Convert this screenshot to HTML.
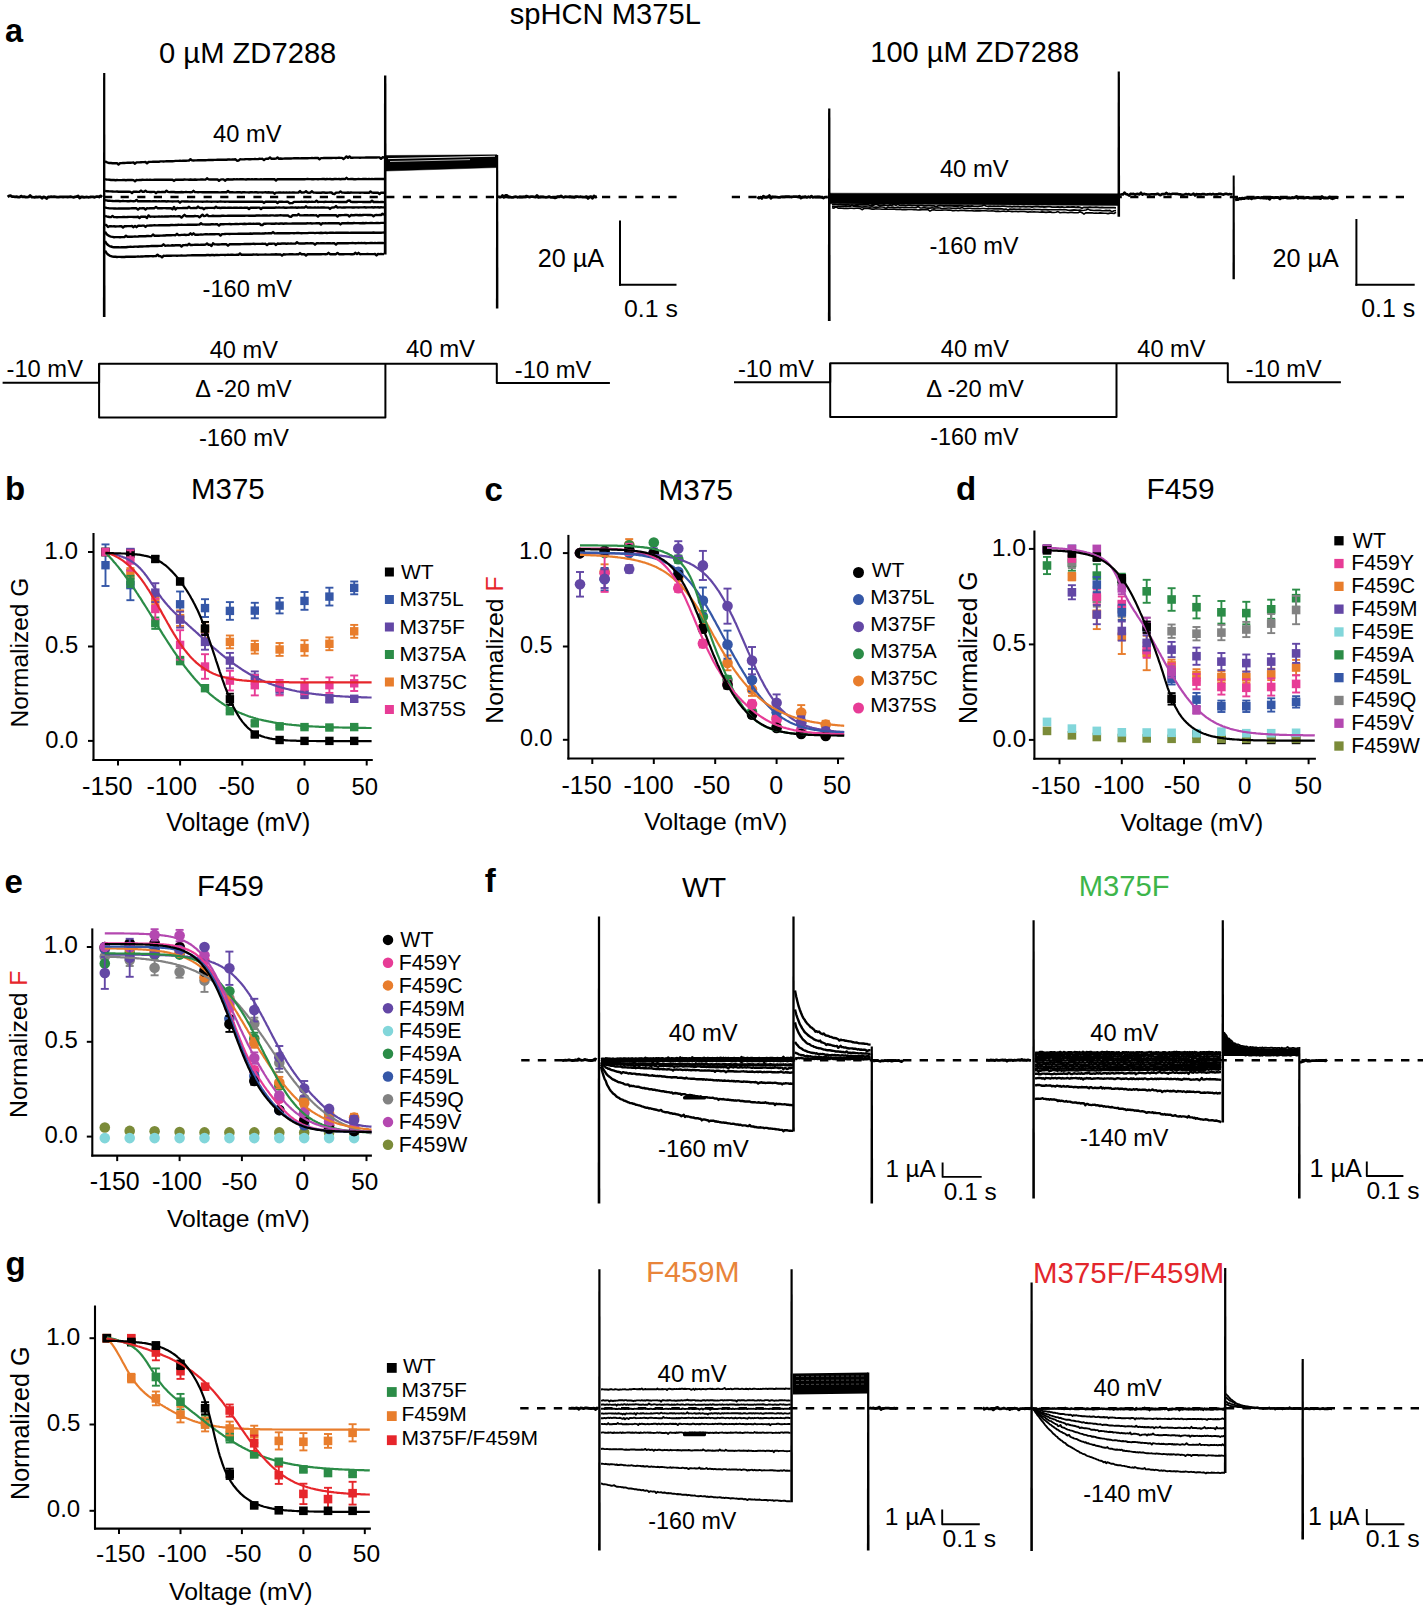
<!DOCTYPE html>
<html><head><meta charset="utf-8"><style>
html,body{margin:0;padding:0;background:#fff;}
svg{display:block;}
text{font-family:"Liberation Sans",sans-serif;}
</style></head><body>
<svg width="1423" height="1608" viewBox="0 0 1423 1608">
<rect width="1423" height="1608" fill="#fff"/>
<text x="509.7" y="23.6" font-size="29.16" fill="#000">spHCN M375L</text>
<text x="5.0" y="41.8" font-size="32.50" fill="#000" font-weight="bold">a</text>
<text x="159.0" y="62.5" font-size="29.18" fill="#000">0 µM ZD7288</text>
<text x="870.3" y="62.0" font-size="29.05" fill="#000">100 µM ZD7288</text>
<line x1="104.0" y1="197.0" x2="684.0" y2="197.0" stroke="#000" stroke-width="2.5" stroke-dasharray="8.2 8.4"/>
<polyline points="7.6,196.9 9.1,195.9 10.6,195.7 12.1,196.7 13.6,196.7 15.1,196.9 16.6,196.7 18.1,197.1 19.6,197.1 21.1,196.1 22.6,196.9 24.1,196.7 25.6,197.2 27.1,197.1 28.6,196.9 30.1,195.5 31.6,197.0 33.1,197.2 34.6,197.3 36.1,196.8 37.6,197.2 39.1,196.9 40.6,196.9 42.1,198.3 43.6,196.8 45.1,197.3 46.6,198.5 48.1,196.9 49.6,197.0 51.1,196.7 52.6,196.8 54.1,196.7 55.6,196.9 57.1,197.1 58.6,197.2 60.1,196.9 61.6,196.9 63.1,197.0 64.6,196.9 66.1,196.9 67.6,197.0 69.1,196.9 70.6,196.7 72.1,197.0 73.6,197.3 75.1,196.9 76.6,196.7 78.1,195.9 79.6,198.0 81.1,197.0 82.6,196.9 84.1,197.3 85.6,197.1 87.1,197.0 88.6,197.3 90.1,197.0 91.6,196.9 93.1,196.9 94.6,197.3 96.1,196.7 97.6,196.7 99.1,197.0 100.6,195.9 102.1,197.1" fill="none" stroke="#000" stroke-width="2.8" stroke-linejoin="round"/>
<polyline points="105.0,161.3 106.5,162.1 108.0,162.7 109.5,163.0 111.0,163.0 112.5,163.2 114.0,163.3 115.5,163.1 117.0,163.2 118.5,164.5 120.0,163.2 121.5,163.1 123.0,162.9 124.5,163.0 126.0,162.9 127.5,162.7 129.0,162.8 130.5,162.7 132.0,162.6 133.5,162.5 135.0,163.7 136.5,162.4 138.0,162.4 139.5,162.4 141.0,162.2 142.5,162.1 144.0,162.1 145.5,162.0 147.0,163.3 148.5,162.0 150.0,161.9 151.5,161.9 153.0,161.8 154.5,161.8 156.0,161.7 157.5,161.6 159.0,161.7 160.5,161.4 162.0,161.4 163.5,161.5 165.0,161.4 166.5,161.3 168.0,161.2 169.5,161.1 171.0,161.2 172.5,161.2 174.0,161.1 175.5,160.9 177.0,160.9 178.5,160.9 180.0,160.8 181.5,160.9 183.0,160.7 184.5,160.8 186.0,160.8 187.5,160.6 189.0,160.5 190.5,159.2 192.0,160.4 193.5,160.5 195.0,160.4 196.5,160.4 198.0,160.2 199.5,160.2 201.0,160.3 202.5,160.2 204.0,160.3 205.5,160.2 207.0,160.1 208.5,160.0 210.0,160.0 211.5,160.0 213.0,160.0 214.5,159.9 216.0,159.9 217.5,159.7 219.0,159.7 220.5,159.7 222.0,159.8 223.5,159.6 225.0,159.7 226.5,159.7 228.0,159.5 229.5,159.5 231.0,159.6 232.5,159.4 234.0,159.5 235.5,159.3 237.0,160.7 238.5,160.6 240.0,159.3 241.5,159.4 243.0,159.4 244.5,159.3 246.0,159.1 247.5,159.1 249.0,159.2 250.5,159.2 252.0,159.1 253.5,159.1 255.0,159.0 256.5,159.1 258.0,159.1 259.5,158.8 261.0,158.9 262.5,158.8 264.0,160.1 265.5,158.9 267.0,158.7 268.5,158.7 270.0,157.4 271.5,158.8 273.0,158.7 274.5,158.7 276.0,158.6 277.5,157.5 279.0,158.7 280.5,158.5 282.0,158.7 283.5,158.6 285.0,158.5 286.5,158.5 288.0,158.5 289.5,158.4 291.0,158.5 292.5,158.4 294.0,158.3 295.5,158.3 297.0,158.3 298.5,158.2 300.0,158.4 301.5,158.2 303.0,158.2 304.5,158.2 306.0,158.2 307.5,158.3 309.0,158.1 310.5,158.1 312.0,158.0 313.5,158.1 315.0,158.0 316.5,158.0 318.0,158.0 319.5,159.2 321.0,158.1 322.5,158.1 324.0,157.9 325.5,158.0 327.0,158.0 328.5,157.9 330.0,158.0 331.5,158.0 333.0,157.9 334.5,157.9 336.0,158.0 337.5,157.9 339.0,157.7 340.5,157.9 342.0,157.9 343.5,159.0 345.0,157.9 346.5,156.4 348.0,157.8 349.5,156.4 351.0,157.8 352.5,157.7 354.0,157.6 355.5,157.6 357.0,157.6 358.5,157.6 360.0,157.7 361.5,157.6 363.0,157.6 364.5,157.6 366.0,157.5 367.5,157.5 369.0,157.5 370.5,157.4 372.0,157.5 373.5,157.5 375.0,157.4 376.5,157.5 378.0,157.4 379.5,157.4 381.0,158.8 382.5,157.3 384.0,157.5" fill="none" stroke="#000" stroke-width="2.4" stroke-linejoin="round"/>
<polyline points="105.0,179.0 106.5,179.6 108.0,179.6 109.5,179.8 111.0,180.0 112.5,180.0 114.0,180.0 115.5,180.2 117.0,180.0 118.5,180.1 120.0,180.1 121.5,180.1 123.0,180.0 124.5,180.0 126.0,180.2 127.5,179.9 129.0,180.0 130.5,180.0 132.0,179.9 133.5,180.1 135.0,181.2 136.5,180.0 138.0,180.1 139.5,179.9 141.0,180.0 142.5,179.8 144.0,179.9 145.5,179.9 147.0,179.8 148.5,179.9 150.0,179.8 151.5,179.9 153.0,179.9 154.5,179.8 156.0,179.8 157.5,179.8 159.0,179.7 160.5,179.8 162.0,179.8 163.5,179.8 165.0,179.8 166.5,179.7 168.0,179.7 169.5,179.7 171.0,179.7 172.5,179.7 174.0,180.9 175.5,179.7 177.0,179.6 178.5,179.7 180.0,179.7 181.5,179.7 183.0,179.7 184.5,179.5 186.0,179.6 187.5,179.6 189.0,179.7 190.5,179.5 192.0,179.7 193.5,179.7 195.0,179.5 196.5,179.7 198.0,179.6 199.5,179.6 201.0,179.5 202.5,179.4 204.0,179.6 205.5,179.6 207.0,178.3 208.5,179.4 210.0,179.5 211.5,179.4 213.0,179.5 214.5,179.4 216.0,179.5 217.5,179.4 219.0,180.8 220.5,179.6 222.0,179.4 223.5,179.4 225.0,180.7 226.5,179.5 228.0,179.3 229.5,179.5 231.0,179.4 232.5,179.5 234.0,179.3 235.5,179.4 237.0,179.3 238.5,179.4 240.0,179.3 241.5,179.3 243.0,179.3 244.5,179.4 246.0,179.5 247.5,179.3 249.0,179.3 250.5,179.4 252.0,179.3 253.5,179.4 255.0,179.2 256.5,179.3 258.0,179.4 259.5,179.4 261.0,179.3 262.5,179.4 264.0,179.2 265.5,179.2 267.0,179.2 268.5,179.1 270.0,179.2 271.5,179.2 273.0,179.2 274.5,179.3 276.0,180.5 277.5,179.2 279.0,179.2 280.5,179.3 282.0,179.3 283.5,179.3 285.0,179.2 286.5,179.3 288.0,179.1 289.5,179.2 291.0,179.2 292.5,179.1 294.0,179.2 295.5,179.1 297.0,179.2 298.5,179.3 300.0,179.3 301.5,179.2 303.0,179.2 304.5,179.3 306.0,179.1 307.5,179.0 309.0,179.1 310.5,179.1 312.0,179.2 313.5,179.2 315.0,179.1 316.5,179.1 318.0,179.2 319.5,179.1 321.0,179.1 322.5,179.0 324.0,179.0 325.5,179.2 327.0,179.0 328.5,179.1 330.0,179.0 331.5,179.2 333.0,179.2 334.5,179.0 336.0,179.0 337.5,179.1 339.0,179.0 340.5,179.2 342.0,179.0 343.5,179.0 345.0,179.1 346.5,177.8 348.0,179.1 349.5,179.1 351.0,178.9 352.5,179.0 354.0,179.2 355.5,179.2 357.0,179.1 358.5,179.0 360.0,179.1 361.5,179.1 363.0,179.0 364.5,178.9 366.0,179.0 367.5,179.1 369.0,178.9 370.5,179.1 372.0,179.0 373.5,179.1 375.0,178.9 376.5,179.0 378.0,179.0 379.5,178.9 381.0,179.0 382.5,179.0 384.0,179.0" fill="none" stroke="#000" stroke-width="2.4" stroke-linejoin="round"/>
<polyline points="105.0,190.8 106.5,191.2 108.0,191.2 109.5,191.4 111.0,191.4 112.5,191.5 114.0,191.6 115.5,191.6 117.0,191.5 118.5,191.7 120.0,191.6 121.5,191.7 123.0,191.6 124.5,191.7 126.0,191.6 127.5,191.8 129.0,191.7 130.5,191.9 132.0,193.1 133.5,191.7 135.0,191.8 136.5,191.8 138.0,191.9 139.5,191.8 141.0,190.6 142.5,191.8 144.0,191.8 145.5,190.7 147.0,191.9 148.5,191.9 150.0,192.0 151.5,192.0 153.0,191.9 154.5,191.9 156.0,193.2 157.5,191.9 159.0,192.0 160.5,192.1 162.0,192.0 163.5,192.0 165.0,192.1 166.5,190.7 168.0,191.9 169.5,192.1 171.0,191.9 172.5,192.0 174.0,192.0 175.5,192.2 177.0,192.1 178.5,192.2 180.0,192.2 181.5,192.0 183.0,192.2 184.5,192.1 186.0,192.0 187.5,192.1 189.0,192.1 190.5,192.2 192.0,192.1 193.5,190.8 195.0,192.1 196.5,192.1 198.0,192.2 199.5,192.1 201.0,192.1 202.5,192.3 204.0,192.2 205.5,192.3 207.0,192.2 208.5,192.3 210.0,192.2 211.5,192.2 213.0,192.1 214.5,192.3 216.0,192.2 217.5,192.2 219.0,192.4 220.5,192.4 222.0,192.3 223.5,192.2 225.0,192.3 226.5,192.2 228.0,191.0 229.5,192.2 231.0,192.2 232.5,192.3 234.0,192.4 235.5,192.4 237.0,192.3 238.5,192.3 240.0,192.3 241.5,192.5 243.0,192.3 244.5,192.3 246.0,192.4 247.5,192.4 249.0,192.5 250.5,192.3 252.0,192.3 253.5,192.4 255.0,192.3 256.5,192.3 258.0,192.5 259.5,192.4 261.0,192.4 262.5,192.5 264.0,192.4 265.5,192.3 267.0,192.5 268.5,192.3 270.0,192.5 271.5,192.5 273.0,192.4 274.5,193.7 276.0,192.6 277.5,192.6 279.0,192.4 280.5,192.5 282.0,192.6 283.5,192.4 285.0,192.6 286.5,192.5 288.0,192.6 289.5,192.4 291.0,192.6 292.5,192.5 294.0,192.5 295.5,192.6 297.0,192.6 298.5,192.5 300.0,191.1 301.5,192.6 303.0,192.5 304.5,192.4 306.0,191.2 307.5,192.6 309.0,192.7 310.5,192.5 312.0,191.3 313.5,192.6 315.0,192.6 316.5,192.7 318.0,192.7 319.5,192.7 321.0,192.7 322.5,192.5 324.0,192.5 325.5,192.7 327.0,192.7 328.5,192.6 330.0,192.5 331.5,192.5 333.0,193.9 334.5,194.0 336.0,192.7 337.5,192.6 339.0,192.6 340.5,191.4 342.0,192.6 343.5,192.6 345.0,192.7 346.5,192.7 348.0,192.5 349.5,192.7 351.0,192.5 352.5,192.6 354.0,192.6 355.5,192.6 357.0,192.6 358.5,192.6 360.0,192.7 361.5,192.6 363.0,192.6 364.5,192.7 366.0,192.7 367.5,192.7 369.0,192.8 370.5,191.5 372.0,192.6 373.5,192.7 375.0,192.8 376.5,192.8 378.0,192.7 379.5,194.0 381.0,192.7 382.5,192.7 384.0,192.7" fill="none" stroke="#000" stroke-width="2.4" stroke-linejoin="round"/>
<polyline points="105.0,200.3 106.5,200.4 108.0,200.7 109.5,200.8 111.0,200.9 112.5,201.0 114.0,201.1 115.5,201.0 117.0,201.0 118.5,201.0 120.0,201.2 121.5,201.1 123.0,201.0 124.5,201.1 126.0,201.1 127.5,201.2 129.0,201.2 130.5,201.0 132.0,201.1 133.5,201.3 135.0,201.1 136.5,199.9 138.0,201.3 139.5,201.2 141.0,201.2 142.5,201.3 144.0,201.3 145.5,201.3 147.0,201.3 148.5,201.2 150.0,201.2 151.5,201.4 153.0,201.3 154.5,201.3 156.0,201.3 157.5,201.4 159.0,201.3 160.5,201.4 162.0,201.3 163.5,201.2 165.0,201.3 166.5,201.5 168.0,201.3 169.5,201.4 171.0,201.4 172.5,201.5 174.0,201.4 175.5,201.4 177.0,201.4 178.5,201.3 180.0,202.7 181.5,201.4 183.0,201.4 184.5,201.5 186.0,201.5 187.5,201.4 189.0,201.6 190.5,201.6 192.0,201.5 193.5,201.6 195.0,201.6 196.5,201.6 198.0,201.6 199.5,201.6 201.0,201.6 202.5,201.7 204.0,201.6 205.5,201.6 207.0,201.5 208.5,201.6 210.0,201.6 211.5,201.7 213.0,201.6 214.5,201.6 216.0,201.6 217.5,201.7 219.0,201.6 220.5,201.5 222.0,201.6 223.5,201.6 225.0,201.7 226.5,201.6 228.0,201.6 229.5,201.7 231.0,201.6 232.5,201.7 234.0,201.6 235.5,201.7 237.0,201.8 238.5,201.8 240.0,201.7 241.5,201.7 243.0,201.6 244.5,201.7 246.0,201.6 247.5,201.8 249.0,201.7 250.5,201.8 252.0,201.7 253.5,201.8 255.0,201.7 256.5,201.8 258.0,201.7 259.5,201.7 261.0,201.8 262.5,201.7 264.0,202.9 265.5,201.8 267.0,201.8 268.5,201.7 270.0,201.8 271.5,201.7 273.0,201.8 274.5,201.8 276.0,201.7 277.5,203.0 279.0,201.8 280.5,201.8 282.0,201.8 283.5,201.9 285.0,201.9 286.5,201.8 288.0,201.8 289.5,203.2 291.0,203.1 292.5,203.0 294.0,201.9 295.5,201.9 297.0,201.9 298.5,201.9 300.0,201.9 301.5,201.8 303.0,201.9 304.5,201.8 306.0,201.8 307.5,202.0 309.0,201.8 310.5,201.9 312.0,201.8 313.5,201.9 315.0,201.9 316.5,200.7 318.0,202.0 319.5,201.9 321.0,201.9 322.5,201.9 324.0,202.0 325.5,201.8 327.0,201.9 328.5,201.9 330.0,201.9 331.5,201.8 333.0,202.0 334.5,201.9 336.0,201.9 337.5,201.9 339.0,202.0 340.5,201.9 342.0,202.0 343.5,202.0 345.0,202.0 346.5,202.0 348.0,200.7 349.5,200.5 351.0,201.9 352.5,202.0 354.0,202.0 355.5,201.9 357.0,202.0 358.5,201.9 360.0,201.9 361.5,201.9 363.0,202.0 364.5,202.0 366.0,202.0 367.5,201.9 369.0,202.0 370.5,202.0 372.0,200.7 373.5,202.0 375.0,202.0 376.5,202.0 378.0,202.0 379.5,202.1 381.0,201.9 382.5,202.0 384.0,202.1" fill="none" stroke="#000" stroke-width="2.4" stroke-linejoin="round"/>
<polyline points="105.0,207.4 106.5,207.9 108.0,208.1 109.5,208.4 111.0,208.4 112.5,208.4 114.0,208.5 115.5,208.4 117.0,208.6 118.5,208.5 120.0,208.5 121.5,208.4 123.0,208.5 124.5,208.4 126.0,208.5 127.5,208.5 129.0,208.5 130.5,208.4 132.0,208.3 133.5,208.3 135.0,208.3 136.5,208.3 138.0,209.6 139.5,208.3 141.0,208.4 142.5,208.2 144.0,208.3 145.5,209.5 147.0,208.3 148.5,208.4 150.0,208.2 151.5,208.3 153.0,208.2 154.5,208.2 156.0,206.9 157.5,208.2 159.0,208.2 160.5,208.3 162.0,208.2 163.5,208.1 165.0,208.1 166.5,208.2 168.0,208.2 169.5,208.1 171.0,208.2 172.5,209.3 174.0,206.9 175.5,209.5 177.0,208.0 178.5,208.1 180.0,208.1 181.5,208.1 183.0,208.0 184.5,208.0 186.0,208.0 187.5,208.0 189.0,206.8 190.5,208.1 192.0,208.1 193.5,208.0 195.0,208.0 196.5,208.1 198.0,206.6 199.5,207.9 201.0,208.0 202.5,208.0 204.0,209.2 205.5,207.9 207.0,208.0 208.5,207.9 210.0,207.9 211.5,207.9 213.0,207.9 214.5,208.0 216.0,206.7 217.5,207.9 219.0,207.8 220.5,208.0 222.0,207.8 223.5,207.8 225.0,207.8 226.5,207.9 228.0,207.7 229.5,207.8 231.0,207.8 232.5,207.9 234.0,207.7 235.5,207.7 237.0,207.7 238.5,207.9 240.0,207.7 241.5,207.8 243.0,207.9 244.5,207.8 246.0,207.7 247.5,207.8 249.0,209.0 250.5,207.8 252.0,207.7 253.5,207.7 255.0,207.8 256.5,207.7 258.0,207.6 259.5,207.6 261.0,209.1 262.5,207.7 264.0,207.6 265.5,207.8 267.0,207.6 268.5,207.7 270.0,207.7 271.5,207.7 273.0,207.6 274.5,207.7 276.0,207.5 277.5,207.6 279.0,207.5 280.5,207.6 282.0,207.6 283.5,207.5 285.0,207.7 286.5,207.7 288.0,207.6 289.5,207.6 291.0,207.5 292.5,207.5 294.0,207.6 295.5,207.5 297.0,207.7 298.5,207.5 300.0,207.6 301.5,207.5 303.0,207.5 304.5,207.6 306.0,206.3 307.5,207.6 309.0,207.5 310.5,207.5 312.0,207.6 313.5,207.6 315.0,207.4 316.5,207.6 318.0,207.5 319.5,207.6 321.0,207.5 322.5,207.5 324.0,207.4 325.5,207.6 327.0,207.6 328.5,207.6 330.0,208.9 331.5,207.6 333.0,207.5 334.5,207.4 336.0,206.1 337.5,207.6 339.0,207.4 340.5,207.4 342.0,207.6 343.5,207.4 345.0,207.5 346.5,207.4 348.0,207.4 349.5,207.4 351.0,207.4 352.5,207.5 354.0,207.5 355.5,207.4 357.0,207.4 358.5,207.5 360.0,207.4 361.5,207.4 363.0,207.4 364.5,207.3 366.0,207.5 367.5,207.4 369.0,207.4 370.5,207.4 372.0,207.3 373.5,207.5 375.0,207.3 376.5,207.4 378.0,207.3 379.5,207.5 381.0,207.3 382.5,207.4 384.0,207.4" fill="none" stroke="#000" stroke-width="2.4" stroke-linejoin="round"/>
<polyline points="105.0,215.9 106.5,216.4 108.0,216.7 109.5,217.0 111.0,217.1 112.5,215.9 114.0,217.1 115.5,217.1 117.0,217.2 118.5,217.1 120.0,217.1 121.5,217.1 123.0,217.0 124.5,217.0 126.0,217.1 127.5,217.0 129.0,216.9 130.5,216.9 132.0,216.9 133.5,217.0 135.0,217.0 136.5,217.0 138.0,216.8 139.5,218.0 141.0,216.7 142.5,216.7 144.0,216.7 145.5,216.8 147.0,218.0 148.5,215.4 150.0,216.7 151.5,216.6 153.0,216.6 154.5,216.7 156.0,216.6 157.5,216.6 159.0,216.5 160.5,216.6 162.0,216.5 163.5,216.6 165.0,216.4 166.5,216.5 168.0,216.5 169.5,216.4 171.0,216.3 172.5,216.4 174.0,216.3 175.5,216.4 177.0,216.4 178.5,216.2 180.0,216.3 181.5,217.6 183.0,216.2 184.5,214.8 186.0,216.2 187.5,216.1 189.0,216.2 190.5,216.2 192.0,216.1 193.5,216.2 195.0,216.0 196.5,216.1 198.0,216.1 199.5,217.3 201.0,216.0 202.5,214.7 204.0,216.1 205.5,215.9 207.0,214.7 208.5,216.1 210.0,216.1 211.5,216.0 213.0,215.8 214.5,216.0 216.0,216.0 217.5,215.9 219.0,216.0 220.5,216.0 222.0,215.8 223.5,215.8 225.0,215.9 226.5,215.9 228.0,215.7 229.5,215.7 231.0,215.7 232.5,215.7 234.0,215.7 235.5,215.6 237.0,215.8 238.5,215.7 240.0,215.7 241.5,215.6 243.0,215.7 244.5,215.7 246.0,215.6 247.5,215.6 249.0,215.7 250.5,215.6 252.0,215.7 253.5,215.7 255.0,215.7 256.5,215.5 258.0,215.5 259.5,215.5 261.0,215.6 262.5,215.5 264.0,215.5 265.5,215.4 267.0,215.5 268.5,215.6 270.0,215.5 271.5,215.4 273.0,215.4 274.5,215.6 276.0,215.5 277.5,215.5 279.0,215.4 280.5,215.3 282.0,215.4 283.5,215.5 285.0,215.4 286.5,215.5 288.0,215.5 289.5,216.6 291.0,216.8 292.5,215.3 294.0,215.3 295.5,215.3 297.0,215.4 298.5,214.1 300.0,215.4 301.5,215.4 303.0,215.4 304.5,215.3 306.0,215.3 307.5,215.3 309.0,215.4 310.5,215.3 312.0,215.2 313.5,215.3 315.0,215.4 316.5,215.3 318.0,216.6 319.5,215.2 321.0,215.3 322.5,215.3 324.0,215.3 325.5,215.2 327.0,215.3 328.5,215.3 330.0,215.3 331.5,215.2 333.0,215.1 334.5,215.2 336.0,215.3 337.5,216.5 339.0,215.1 340.5,215.2 342.0,215.1 343.5,215.1 345.0,215.0 346.5,215.0 348.0,215.1 349.5,216.5 351.0,215.0 352.5,215.2 354.0,215.2 355.5,215.0 357.0,215.0 358.5,215.2 360.0,215.0 361.5,215.2 363.0,215.0 364.5,214.9 366.0,214.9 367.5,215.0 369.0,215.0 370.5,215.0 372.0,215.1 373.5,216.3 375.0,215.1 376.5,214.9 378.0,215.1 379.5,214.9 381.0,215.0 382.5,213.7 384.0,215.0" fill="none" stroke="#000" stroke-width="2.4" stroke-linejoin="round"/>
<polyline points="105.0,224.6 106.5,225.2 108.0,227.0 109.5,226.2 111.0,226.2 112.5,226.4 114.0,226.3 115.5,226.5 117.0,226.4 118.5,226.4 120.0,226.3 121.5,226.3 123.0,227.5 124.5,226.3 126.0,226.2 127.5,226.1 129.0,226.1 130.5,226.1 132.0,226.0 133.5,227.2 135.0,225.9 136.5,227.2 138.0,225.8 139.5,225.7 141.0,225.9 142.5,225.6 144.0,225.6 145.5,226.9 147.0,225.6 148.5,225.6 150.0,225.5 151.5,225.5 153.0,225.4 154.5,225.3 156.0,225.4 157.5,225.4 159.0,225.3 160.5,225.3 162.0,225.3 163.5,225.3 165.0,225.1 166.5,225.2 168.0,225.1 169.5,225.2 171.0,225.0 172.5,225.0 174.0,225.1 175.5,225.0 177.0,225.0 178.5,224.8 180.0,224.9 181.5,224.8 183.0,224.9 184.5,224.9 186.0,224.9 187.5,224.8 189.0,224.7 190.5,224.8 192.0,224.7 193.5,224.6 195.0,224.7 196.5,224.7 198.0,224.6 199.5,224.5 201.0,223.2 202.5,224.4 204.0,224.4 205.5,224.5 207.0,224.5 208.5,224.5 210.0,224.5 211.5,224.3 213.0,224.3 214.5,224.4 216.0,224.2 217.5,224.3 219.0,225.6 220.5,224.1 222.0,224.3 223.5,224.3 225.0,224.1 226.5,224.1 228.0,224.1 229.5,224.0 231.0,224.2 232.5,224.1 234.0,224.1 235.5,223.9 237.0,224.0 238.5,224.1 240.0,223.9 241.5,223.9 243.0,224.0 244.5,223.8 246.0,224.0 247.5,223.9 249.0,223.8 250.5,223.8 252.0,223.9 253.5,223.8 255.0,223.9 256.5,223.7 258.0,223.7 259.5,223.8 261.0,225.0 262.5,225.0 264.0,223.8 265.5,223.7 267.0,223.6 268.5,223.6 270.0,223.6 271.5,223.7 273.0,223.7 274.5,223.7 276.0,223.5 277.5,223.6 279.0,223.7 280.5,223.5 282.0,223.5 283.5,223.7 285.0,223.5 286.5,223.5 288.0,223.6 289.5,223.6 291.0,223.6 292.5,223.5 294.0,223.5 295.5,223.4 297.0,223.5 298.5,223.4 300.0,223.5 301.5,223.4 303.0,223.5 304.5,223.4 306.0,223.5 307.5,223.3 309.0,223.4 310.5,223.3 312.0,223.5 313.5,223.4 315.0,223.4 316.5,223.2 318.0,223.3 319.5,223.3 321.0,224.5 322.5,223.2 324.0,223.4 325.5,223.2 327.0,223.4 328.5,223.1 330.0,223.3 331.5,223.1 333.0,223.2 334.5,223.3 336.0,223.1 337.5,223.3 339.0,223.2 340.5,224.4 342.0,223.3 343.5,223.2 345.0,223.3 346.5,223.3 348.0,223.0 349.5,223.2 351.0,223.1 352.5,223.2 354.0,223.0 355.5,223.1 357.0,223.1 358.5,223.1 360.0,223.2 361.5,223.2 363.0,223.0 364.5,223.2 366.0,223.0 367.5,223.1 369.0,223.1 370.5,223.0 372.0,223.0 373.5,223.1 375.0,223.1 376.5,222.9 378.0,223.0 379.5,223.1 381.0,222.9 382.5,222.9 384.0,222.9" fill="none" stroke="#000" stroke-width="2.4" stroke-linejoin="round"/>
<polyline points="105.0,231.8 106.5,234.0 108.0,235.3 109.5,236.1 111.0,236.6 112.5,236.9 114.0,237.2 115.5,237.1 117.0,237.1 118.5,237.1 120.0,237.3 121.5,237.1 123.0,237.1 124.5,237.0 126.0,235.8 127.5,236.8 129.0,236.8 130.5,236.8 132.0,236.7 133.5,236.6 135.0,236.5 136.5,236.6 138.0,236.5 139.5,236.3 141.0,236.3 142.5,236.2 144.0,236.2 145.5,236.2 147.0,236.0 148.5,236.0 150.0,236.1 151.5,236.0 153.0,234.5 154.5,235.7 156.0,235.7 157.5,235.7 159.0,235.7 160.5,235.6 162.0,235.6 163.5,235.5 165.0,235.5 166.5,235.3 168.0,235.2 169.5,235.3 171.0,235.3 172.5,235.1 174.0,235.1 175.5,235.2 177.0,233.8 178.5,235.1 180.0,235.1 181.5,234.9 183.0,234.9 184.5,234.8 186.0,235.0 187.5,234.9 189.0,234.7 190.5,233.3 192.0,234.7 193.5,233.3 195.0,234.7 196.5,234.6 198.0,234.7 199.5,234.6 201.0,234.4 202.5,234.6 204.0,234.4 205.5,234.3 207.0,234.2 208.5,234.4 210.0,234.3 211.5,234.2 213.0,234.1 214.5,234.3 216.0,234.1 217.5,234.1 219.0,234.1 220.5,235.5 222.0,234.1 223.5,234.1 225.0,234.0 226.5,233.9 228.0,233.9 229.5,234.0 231.0,233.9 232.5,233.9 234.0,233.9 235.5,233.9 237.0,233.9 238.5,233.8 240.0,233.7 241.5,233.7 243.0,233.7 244.5,233.6 246.0,233.7 247.5,233.7 249.0,233.7 250.5,233.5 252.0,233.7 253.5,233.5 255.0,233.5 256.5,233.5 258.0,233.5 259.5,233.4 261.0,233.6 262.5,233.4 264.0,233.5 265.5,233.3 267.0,233.4 268.5,233.3 270.0,233.3 271.5,233.2 273.0,232.1 274.5,233.3 276.0,233.4 277.5,233.2 279.0,233.3 280.5,233.2 282.0,233.3 283.5,233.3 285.0,233.3 286.5,233.1 288.0,233.3 289.5,233.2 291.0,233.1 292.5,233.1 294.0,233.2 295.5,233.1 297.0,233.0 298.5,233.0 300.0,233.1 301.5,233.2 303.0,233.1 304.5,233.1 306.0,233.1 307.5,233.1 309.0,232.9 310.5,232.9 312.0,232.9 313.5,232.9 315.0,233.1 316.5,232.9 318.0,232.9 319.5,233.0 321.0,232.8 322.5,233.0 324.0,232.9 325.5,232.8 327.0,233.0 328.5,232.9 330.0,232.8 331.5,232.7 333.0,232.8 334.5,232.9 336.0,232.8 337.5,232.7 339.0,232.8 340.5,232.8 342.0,232.8 343.5,232.7 345.0,232.8 346.5,232.7 348.0,232.7 349.5,232.9 351.0,232.8 352.5,232.8 354.0,232.7 355.5,232.8 357.0,232.6 358.5,232.8 360.0,232.6 361.5,232.7 363.0,232.6 364.5,232.7 366.0,232.7 367.5,232.6 369.0,232.7 370.5,232.6 372.0,232.7 373.5,232.5 375.0,232.7 376.5,232.6 378.0,232.7 379.5,232.6 381.0,232.7 382.5,232.6 384.0,232.5" fill="none" stroke="#000" stroke-width="2.4" stroke-linejoin="round"/>
<polyline points="105.0,241.0 106.5,243.6 108.0,245.0 109.5,246.1 111.0,246.5 112.5,247.0 114.0,247.3 115.5,247.3 117.0,247.3 118.5,247.3 120.0,247.4 121.5,247.2 123.0,247.2 124.5,247.1 126.0,247.2 127.5,247.0 129.0,246.9 130.5,246.8 132.0,246.9 133.5,246.8 135.0,246.6 136.5,246.6 138.0,246.7 139.5,246.5 141.0,246.5 142.5,246.5 144.0,246.4 145.5,246.4 147.0,246.3 148.5,246.2 150.0,246.1 151.5,246.0 153.0,246.0 154.5,246.0 156.0,245.9 157.5,246.0 159.0,245.9 160.5,245.9 162.0,245.7 163.5,244.3 165.0,245.7 166.5,245.6 168.0,245.5 169.5,245.6 171.0,245.5 172.5,245.3 174.0,245.5 175.5,245.3 177.0,245.3 178.5,245.2 180.0,245.2 181.5,246.5 183.0,245.2 184.5,245.1 186.0,245.0 187.5,245.2 189.0,243.8 190.5,245.0 192.0,245.0 193.5,244.9 195.0,244.8 196.5,244.8 198.0,244.8 199.5,244.9 201.0,244.8 202.5,244.8 204.0,244.8 205.5,244.6 207.0,243.5 208.5,244.7 210.0,244.7 211.5,246.0 213.0,243.3 214.5,244.4 216.0,244.4 217.5,244.5 219.0,244.5 220.5,244.4 222.0,244.3 223.5,244.2 225.0,244.3 226.5,244.3 228.0,245.7 229.5,244.3 231.0,244.3 232.5,244.1 234.0,244.2 235.5,244.1 237.0,244.2 238.5,244.2 240.0,244.2 241.5,244.1 243.0,244.1 244.5,244.0 246.0,244.0 247.5,243.9 249.0,244.0 250.5,244.0 252.0,243.9 253.5,243.8 255.0,244.0 256.5,243.9 258.0,243.9 259.5,243.9 261.0,243.9 262.5,243.7 264.0,243.9 265.5,243.8 267.0,245.1 268.5,243.8 270.0,243.8 271.5,243.7 273.0,243.6 274.5,243.6 276.0,245.0 277.5,243.5 279.0,243.7 280.5,243.7 282.0,243.5 283.5,243.5 285.0,243.5 286.5,243.7 288.0,243.5 289.5,243.6 291.0,243.5 292.5,243.6 294.0,243.6 295.5,243.6 297.0,242.2 298.5,243.4 300.0,243.5 301.5,243.5 303.0,243.5 304.5,243.5 306.0,243.3 307.5,243.3 309.0,243.4 310.5,243.3 312.0,243.3 313.5,243.4 315.0,244.7 316.5,243.3 318.0,243.2 319.5,243.4 321.0,243.3 322.5,243.3 324.0,243.3 325.5,243.4 327.0,243.1 328.5,243.2 330.0,243.3 331.5,243.4 333.0,243.2 334.5,243.3 336.0,244.6 337.5,243.2 339.0,243.2 340.5,243.3 342.0,243.2 343.5,243.1 345.0,243.2 346.5,243.1 348.0,243.2 349.5,243.1 351.0,243.1 352.5,243.0 354.0,243.1 355.5,243.2 357.0,243.1 358.5,243.0 360.0,243.1 361.5,243.0 363.0,243.1 364.5,243.0 366.0,243.2 367.5,243.1 369.0,243.1 370.5,243.0 372.0,243.0 373.5,243.1 375.0,243.0 376.5,243.1 378.0,243.0 379.5,243.0 381.0,242.9 382.5,243.0 384.0,243.1" fill="none" stroke="#000" stroke-width="2.4" stroke-linejoin="round"/>
<polyline points="105.0,250.6 106.5,253.0 108.0,254.6 109.5,255.6 111.0,256.1 112.5,256.6 114.0,256.8 115.5,256.8 117.0,257.0 118.5,256.9 120.0,256.9 121.5,257.0 123.0,256.9 124.5,257.0 126.0,256.8 127.5,256.8 129.0,256.8 130.5,256.7 132.0,256.7 133.5,256.7 135.0,256.7 136.5,256.6 138.0,256.5 139.5,256.6 141.0,256.5 142.5,256.5 144.0,256.4 145.5,256.3 147.0,256.2 148.5,256.3 150.0,256.1 151.5,256.1 153.0,256.2 154.5,256.1 156.0,256.0 157.5,254.7 159.0,256.0 160.5,256.1 162.0,257.3 163.5,255.8 165.0,255.9 166.5,255.8 168.0,255.7 169.5,255.7 171.0,255.8 172.5,255.6 174.0,255.6 175.5,255.6 177.0,255.7 178.5,255.6 180.0,255.6 181.5,255.5 183.0,255.6 184.5,255.6 186.0,255.6 187.5,255.4 189.0,255.4 190.5,255.4 192.0,255.3 193.5,255.3 195.0,255.2 196.5,255.3 198.0,255.2 199.5,255.2 201.0,255.2 202.5,255.3 204.0,255.3 205.5,255.2 207.0,255.0 208.5,255.0 210.0,255.2 211.5,255.0 213.0,255.0 214.5,255.2 216.0,254.9 217.5,255.0 219.0,255.1 220.5,254.9 222.0,254.9 223.5,254.9 225.0,255.0 226.5,254.9 228.0,254.8 229.5,254.9 231.0,254.8 232.5,254.7 234.0,254.9 235.5,254.9 237.0,254.8 238.5,254.8 240.0,253.4 241.5,254.8 243.0,254.6 244.5,254.8 246.0,254.8 247.5,254.7 249.0,254.8 250.5,254.7 252.0,254.7 253.5,254.5 255.0,254.6 256.5,254.5 258.0,254.7 259.5,254.6 261.0,254.6 262.5,254.6 264.0,254.6 265.5,254.5 267.0,254.6 268.5,254.6 270.0,254.6 271.5,254.4 273.0,254.5 274.5,254.5 276.0,254.3 277.5,254.5 279.0,254.5 280.5,254.4 282.0,255.6 283.5,254.3 285.0,254.5 286.5,254.4 288.0,254.4 289.5,254.3 291.0,254.2 292.5,254.3 294.0,254.4 295.5,254.4 297.0,254.3 298.5,254.4 300.0,253.1 301.5,254.3 303.0,254.3 304.5,254.3 306.0,255.5 307.5,254.3 309.0,254.3 310.5,254.2 312.0,254.3 313.5,254.3 315.0,254.3 316.5,254.3 318.0,254.2 319.5,254.1 321.0,254.3 322.5,254.1 324.0,254.1 325.5,254.2 327.0,254.1 328.5,252.8 330.0,254.2 331.5,254.1 333.0,254.2 334.5,254.2 336.0,254.2 337.5,252.9 339.0,254.2 340.5,254.2 342.0,254.2 343.5,254.2 345.0,254.1 346.5,254.1 348.0,254.1 349.5,254.1 351.0,254.2 352.5,254.2 354.0,254.0 355.5,252.8 357.0,254.1 358.5,252.8 360.0,254.2 361.5,254.1 363.0,254.1 364.5,254.1 366.0,254.1 367.5,254.0 369.0,254.1 370.5,254.1 372.0,254.1 373.5,254.1 375.0,254.0 376.5,255.4 378.0,254.0 379.5,254.1 381.0,254.0 382.5,254.1 384.0,254.0" fill="none" stroke="#000" stroke-width="2.4" stroke-linejoin="round"/>
<path d="M102.9,317.0 L103.1,73.0 L105.3,73.0 L105.5,317.0 Z" fill="#000"/>
<path d="M383.8,254.5 L384.0,75.5 L386.4,75.5 L386.6,254.5 Z" fill="#000"/>
<path d="M386,155.5 L497,154.8 L497,167.5 L386,171 Z" fill="#000" stroke="#000" stroke-width="0.5"/>
<line x1="388.0" y1="158.6" x2="495.0" y2="156.2" stroke="#fff" stroke-width="0.9"/>
<line x1="390.0" y1="161.5" x2="470.0" y2="159.6" stroke="#fff" stroke-width="0.7"/>
<path d="M495.9,308.5 L496.1,155.0 L498.2,155.0 L498.4,308.5 Z" fill="#000"/>
<polyline points="498.0,196.2 499.5,197.1 501.0,197.1 502.5,195.5 504.0,197.2 505.5,195.5 507.0,195.5 508.5,197.2 510.0,197.0 511.5,197.3 513.0,197.3 514.5,196.9 516.0,196.7 517.5,197.3 519.0,197.0 520.5,196.8 522.0,197.2 523.5,196.8 525.0,196.9 526.5,196.1 528.0,196.7 529.5,197.1 531.0,196.7 532.5,196.7 534.0,196.9 535.5,197.1 537.0,195.5 538.5,197.3 540.0,197.0 541.5,196.9 543.0,196.9 544.5,197.1 546.0,197.3 547.5,197.2 549.0,196.6 550.5,197.3 552.0,197.3 553.5,197.3 555.0,197.8 556.5,197.3 558.0,196.6 559.5,196.7 561.0,196.0 562.5,197.0 564.0,197.3 565.5,196.6 567.0,196.8 568.5,196.8 570.0,196.6 571.5,197.0 573.0,197.1 574.5,197.3 576.0,196.6 577.5,196.6 579.0,197.0 580.5,196.7 582.0,197.0 583.5,197.2 585.0,197.2 586.5,196.7 588.0,198.4 589.5,197.0 591.0,196.6 592.5,198.2 594.0,195.9 595.5,197.2 597.0,196.7" fill="none" stroke="#000" stroke-width="2.8" stroke-linejoin="round"/>
<line x1="620.0" y1="220.6" x2="620.0" y2="285.8" stroke="#000" stroke-width="2"/>
<line x1="619.0" y1="284.8" x2="676.5" y2="284.8" stroke="#000" stroke-width="2"/>
<text x="537.7" y="266.8" font-size="25.19" fill="#000">20 µA</text>
<text x="624.0" y="317.2" font-size="24.82" fill="#000">0.1 s</text>
<text x="213.1" y="142.4" font-size="23.66" fill="#000">40 mV</text>
<text x="202.5" y="297.0" font-size="23.70" fill="#000">-160 mV</text>
<line x1="731.8" y1="197.0" x2="1407.0" y2="197.0" stroke="#000" stroke-width="2.5" stroke-dasharray="8.2 8.4"/>
<polyline points="757.4,196.9 758.9,198.1 760.4,197.1 761.9,198.4 763.4,196.1 764.9,197.3 766.4,197.4 767.9,196.8 769.4,195.6 770.9,198.3 772.4,196.8 773.9,197.0 775.4,197.0 776.9,197.1 778.4,197.3 779.9,197.4 781.4,196.8 782.9,196.9 784.4,196.9 785.9,196.6 787.4,196.7 788.9,196.6 790.4,196.8 791.9,197.0 793.4,196.7 794.9,196.7 796.4,196.7 797.9,197.0 799.4,196.1 800.9,198.1 802.4,197.2 803.9,197.1 805.4,196.7 806.9,197.4 808.4,196.7 809.9,197.3 811.4,196.1 812.9,197.3 814.4,197.0 815.9,197.2 817.4,197.0 818.9,196.8 820.4,197.1 821.9,197.3 823.4,198.0 824.9,197.1 826.4,197.2 827.9,196.8" fill="none" stroke="#000" stroke-width="2.8" stroke-linejoin="round"/>
<path d="M827.9,321.0 L828.1,108.5 L830.4,108.5 L830.6,321.0 Z" fill="#000"/>
<path d="M830,193.2 L1118,193.8 L1118,205.5 L830,203.8 Z" fill="#000" stroke="#000" stroke-width="0.5"/>
<polyline points="832.0,204.6 834.0,204.4 836.0,204.7 838.0,204.8 840.0,204.4 842.0,204.8 844.0,204.8 846.0,205.0 848.0,204.6 850.0,205.1 852.0,204.8 854.0,205.1 856.0,205.0 858.0,205.0 860.0,204.7 862.0,204.8 864.0,204.7 866.0,204.9 868.0,204.7 870.0,205.3 872.0,205.0 874.0,205.0 876.0,204.1 878.0,205.0 880.0,205.2 882.0,205.2 884.0,205.0 886.0,205.3 888.0,205.4 890.0,205.0 892.0,205.2 894.0,204.4 896.0,205.3 898.0,204.3 900.0,205.5 902.0,205.2 904.0,205.2 906.0,205.6 908.0,205.1 910.0,205.2 912.0,205.4 914.0,205.4 916.0,205.6 918.0,205.4 920.0,205.4 922.0,205.3 924.0,205.9 926.0,205.8 928.0,205.6 930.0,205.7 932.0,205.8 934.0,205.9 936.0,206.6 938.0,205.9 940.0,205.5 942.0,205.6 944.0,206.0 946.0,205.6 948.0,205.9 950.0,205.6 952.0,205.9 954.0,206.0 956.0,205.8 958.0,206.0 960.0,205.7 962.0,205.8 964.0,206.1 966.0,206.1 968.0,205.9 970.0,206.2 972.0,205.9 974.0,206.3 976.0,206.3 978.0,206.3 980.0,206.1 982.0,205.9 984.0,205.0 986.0,206.0 988.0,206.5 990.0,206.1 992.0,206.3 994.0,206.2 996.0,206.3 998.0,206.1 1000.0,206.3 1002.0,206.2 1004.0,206.2 1006.0,206.4 1008.0,206.6 1010.0,206.4 1012.0,206.8 1014.0,206.3 1016.0,206.6 1018.0,206.3 1020.0,206.8 1022.0,206.6 1024.0,206.5 1026.0,206.8 1028.0,206.6 1030.0,206.6 1032.0,207.0 1034.0,206.6 1036.0,206.5 1038.0,206.5 1040.0,206.8 1042.0,206.6 1044.0,207.0 1046.0,206.8 1048.0,206.7 1050.0,206.7 1052.0,207.1 1054.0,207.2 1056.0,207.2 1058.0,206.8 1060.0,207.1 1062.0,206.8 1064.0,207.3 1066.0,207.2 1068.0,206.9 1070.0,207.1 1072.0,206.9 1074.0,207.0 1076.0,207.3 1078.0,207.0 1080.0,207.4 1082.0,208.3 1084.0,207.3 1086.0,207.5 1088.0,207.5 1090.0,207.2 1092.0,207.3 1094.0,207.3 1096.0,207.2 1098.0,207.3 1100.0,207.6 1102.0,207.3 1104.0,207.6 1106.0,207.6 1108.0,207.7 1110.0,207.6 1112.0,207.7 1114.0,207.6 1116.0,207.8" fill="none" stroke="#000" stroke-width="1.8" stroke-linejoin="round"/>
<polyline points="832.0,206.5 834.0,206.6 836.0,206.7 838.0,206.5 840.0,206.2 842.0,206.5 844.0,206.4 846.0,206.7 848.0,206.4 850.0,206.5 852.0,205.5 854.0,206.5 856.0,206.4 858.0,206.6 860.0,206.7 862.0,207.1 864.0,206.9 866.0,206.8 868.0,207.0 870.0,207.1 872.0,206.7 874.0,207.2 876.0,207.0 878.0,207.3 880.0,206.9 882.0,207.0 884.0,207.3 886.0,208.4 888.0,206.9 890.0,207.5 892.0,207.1 894.0,207.4 896.0,207.5 898.0,207.1 900.0,207.7 902.0,207.2 904.0,207.2 906.0,207.4 908.0,207.5 910.0,207.5 912.0,207.3 914.0,207.7 916.0,207.8 918.0,206.5 920.0,207.9 922.0,208.0 924.0,207.5 926.0,208.0 928.0,208.1 930.0,208.1 932.0,207.7 934.0,208.1 936.0,208.0 938.0,207.9 940.0,208.0 942.0,208.8 944.0,208.3 946.0,208.3 948.0,208.0 950.0,208.0 952.0,208.4 954.0,208.4 956.0,208.2 958.0,208.1 960.0,208.3 962.0,207.4 964.0,208.6 966.0,208.5 968.0,208.3 970.0,208.3 972.0,208.5 974.0,208.8 976.0,208.8 978.0,208.6 980.0,208.7 982.0,208.5 984.0,208.5 986.0,208.7 988.0,208.9 990.0,208.8 992.0,208.8 994.0,208.9 996.0,208.7 998.0,208.9 1000.0,208.7 1002.0,208.9 1004.0,209.2 1006.0,209.0 1008.0,210.1 1010.0,209.0 1012.0,209.4 1014.0,209.1 1016.0,209.2 1018.0,209.4 1020.0,209.1 1022.0,209.5 1024.0,209.4 1026.0,209.3 1028.0,209.4 1030.0,209.2 1032.0,209.7 1034.0,209.2 1036.0,209.5 1038.0,209.5 1040.0,209.5 1042.0,209.9 1044.0,209.6 1046.0,209.6 1048.0,209.9 1050.0,209.7 1052.0,209.7 1054.0,209.8 1056.0,209.7 1058.0,209.7 1060.0,209.6 1062.0,209.7 1064.0,209.7 1066.0,209.7 1068.0,210.2 1070.0,210.3 1072.0,210.1 1074.0,209.9 1076.0,210.1 1078.0,210.3 1080.0,210.1 1082.0,210.5 1084.0,210.3 1086.0,210.0 1088.0,209.1 1090.0,210.1 1092.0,210.2 1094.0,210.5 1096.0,210.4 1098.0,210.4 1100.0,210.4 1102.0,210.8 1104.0,210.7 1106.0,210.4 1108.0,210.6 1110.0,210.4 1112.0,211.8 1114.0,210.8 1116.0,210.5" fill="none" stroke="#000" stroke-width="1.6" stroke-linejoin="round"/>
<polyline points="832.0,207.8 834.0,208.2 836.0,206.9 838.0,208.2 840.0,208.0 842.0,208.2 844.0,208.4 846.0,208.5 848.0,208.5 850.0,208.3 852.0,208.3 854.0,208.5 856.0,208.3 858.0,208.3 860.0,208.4 862.0,209.7 864.0,208.5 866.0,208.5 868.0,208.5 870.0,208.8 872.0,209.1 874.0,209.1 876.0,208.7 878.0,209.0 880.0,209.0 882.0,209.3 884.0,209.2 886.0,208.9 888.0,209.3 890.0,209.3 892.0,209.3 894.0,209.0 896.0,209.4 898.0,209.4 900.0,209.3 902.0,209.6 904.0,209.4 906.0,209.6 908.0,209.5 910.0,209.5 912.0,209.5 914.0,209.8 916.0,209.8 918.0,210.0 920.0,209.9 922.0,209.8 924.0,209.6 926.0,209.6 928.0,209.6 930.0,211.1 932.0,210.0 934.0,209.7 936.0,210.2 938.0,210.3 940.0,210.3 942.0,210.3 944.0,210.0 946.0,210.0 948.0,210.1 950.0,210.0 952.0,210.6 954.0,210.7 956.0,210.3 958.0,210.7 960.0,210.4 962.0,210.4 964.0,210.5 966.0,210.6 968.0,210.5 970.0,210.7 972.0,210.6 974.0,211.0 976.0,210.8 978.0,210.9 980.0,210.9 982.0,210.8 984.0,210.7 986.0,210.7 988.0,211.0 990.0,211.0 992.0,210.9 994.0,211.0 996.0,211.4 998.0,211.1 1000.0,211.5 1002.0,211.3 1004.0,211.1 1006.0,211.5 1008.0,211.2 1010.0,211.3 1012.0,211.6 1014.0,211.5 1016.0,211.3 1018.0,211.7 1020.0,211.5 1022.0,211.5 1024.0,211.5 1026.0,211.8 1028.0,212.1 1030.0,211.7 1032.0,212.0 1034.0,211.8 1036.0,212.0 1038.0,212.0 1040.0,212.3 1042.0,211.9 1044.0,212.1 1046.0,212.4 1048.0,212.1 1050.0,211.9 1052.0,212.4 1054.0,212.5 1056.0,212.3 1058.0,211.6 1060.0,212.7 1062.0,212.5 1064.0,212.3 1066.0,212.5 1068.0,212.8 1070.0,212.4 1072.0,212.4 1074.0,212.8 1076.0,212.7 1078.0,212.8 1080.0,211.8 1082.0,212.7 1084.0,214.1 1086.0,212.7 1088.0,212.9 1090.0,212.9 1092.0,212.8 1094.0,213.2 1096.0,213.1 1098.0,213.2 1100.0,212.9 1102.0,213.1 1104.0,213.3 1106.0,213.2 1108.0,213.6 1110.0,213.1 1112.0,213.3 1114.0,213.5 1116.0,212.3" fill="none" stroke="#000" stroke-width="1.6" stroke-linejoin="round"/>
<path d="M1117.5,216.8 L1117.7,71.6 L1119.9,71.6 L1120.1,216.8 Z" fill="#000"/>
<polyline points="1120.0,194.7 1121.5,194.4 1123.0,194.5 1124.5,192.5 1126.0,194.2 1127.5,194.4 1129.0,195.6 1130.5,193.7 1132.0,194.1 1133.5,193.8 1135.0,194.7 1136.5,194.0 1138.0,193.9 1139.5,194.4 1141.0,192.7 1142.5,194.7 1144.0,193.8 1145.5,194.2 1147.0,194.4 1148.5,194.5 1150.0,194.6 1151.5,194.2 1153.0,194.2 1154.5,194.4 1156.0,194.3 1157.5,193.7 1159.0,194.5 1160.5,195.2 1162.0,194.0 1163.5,194.1 1165.0,194.0 1166.5,192.9 1168.0,194.2 1169.5,193.9 1171.0,194.4 1172.5,193.8 1174.0,193.8 1175.5,193.9 1177.0,193.8 1178.5,194.3 1180.0,194.4 1181.5,194.6 1183.0,194.7 1184.5,194.5 1186.0,194.0 1187.5,194.4 1189.0,194.1 1190.5,194.7 1192.0,194.4 1193.5,193.7 1195.0,195.5 1196.5,194.0 1198.0,194.4 1199.5,194.2 1201.0,194.6 1202.5,194.1 1204.0,194.1 1205.5,194.5 1207.0,194.4 1208.5,194.2 1210.0,194.0 1211.5,194.5 1213.0,193.9 1214.5,194.5 1216.0,194.4 1217.5,194.4 1219.0,193.8 1220.5,193.7 1222.0,194.2 1223.5,194.7 1225.0,193.9 1226.5,193.8 1228.0,194.4 1229.5,194.1 1231.0,194.2 1232.5,194.6" fill="none" stroke="#000" stroke-width="2.6" stroke-linejoin="round"/>
<path d="M1232.5,279.3 L1232.7,175.5 L1234.7,175.5 L1234.9,279.3 Z" fill="#000"/>
<polyline points="1235.0,200.1 1236.5,199.3 1238.0,199.4 1239.5,198.4 1241.0,198.9 1242.5,198.2 1244.0,198.6 1245.5,197.9 1247.0,198.0 1248.5,198.4 1250.0,197.9 1251.5,198.7 1253.0,197.6 1254.5,198.1 1256.0,197.7 1257.5,197.4 1259.0,197.6 1260.5,197.9 1262.0,197.5 1263.5,198.1 1265.0,197.8 1266.5,198.2 1268.0,197.9 1269.5,199.1 1271.0,197.5 1272.5,197.6 1274.0,197.7 1275.5,197.5 1277.0,197.6 1278.5,197.6 1280.0,198.7 1281.5,197.6 1283.0,197.8 1284.5,197.4 1286.0,197.6 1287.5,198.1 1289.0,197.8 1290.5,198.1 1292.0,197.6 1293.5,197.7 1295.0,197.4 1296.5,196.5 1298.0,198.2 1299.5,197.4 1301.0,197.8 1302.5,197.7 1304.0,198.0 1305.5,197.8 1307.0,197.6 1308.5,197.5 1310.0,198.1 1311.5,197.9 1313.0,198.0 1314.5,198.0 1316.0,197.7 1317.5,197.9 1319.0,198.0 1320.5,198.5 1322.0,196.6 1323.5,197.9 1325.0,197.7 1326.5,198.1 1328.0,198.1 1329.5,197.0 1331.0,198.1 1332.5,198.7 1334.0,198.1 1335.5,197.4 1337.0,197.5 1338.5,197.8" fill="none" stroke="#000" stroke-width="3.0" stroke-linejoin="round"/>
<line x1="1356.4" y1="219.0" x2="1356.4" y2="285.8" stroke="#000" stroke-width="2"/>
<line x1="1355.4" y1="284.8" x2="1414.7" y2="284.8" stroke="#000" stroke-width="2"/>
<text x="1272.4" y="266.8" font-size="25.19" fill="#000">20 µA</text>
<text x="1361.2" y="317.4" font-size="24.92" fill="#000">0.1 s</text>
<text x="939.9" y="177.4" font-size="23.77" fill="#000">40 mV</text>
<text x="929.4" y="253.8" font-size="23.60" fill="#000">-160 mV</text>
<polyline points="2.6,382.7 99.1,382.7 99.1,363.8 385.4,363.8 496.8,363.8 496.8,383.0 609.9,383.0" fill="none" stroke="#000" stroke-width="2" stroke-linejoin="round"/>
<polyline points="99.1,363.8 99.1,417.6 385.4,417.6 385.4,363.8" fill="none" stroke="#000" stroke-width="2" stroke-linejoin="round"/>
<text x="6.5" y="377.3" font-size="23.72" fill="#000">-10 mV</text>
<text x="209.7" y="357.7" font-size="23.60" fill="#000">40 mV</text>
<text x="195.3" y="397.3" font-size="23.44" fill="#000">Δ -20 mV</text>
<text x="198.9" y="446.0" font-size="23.81" fill="#000">-160 mV</text>
<text x="405.9" y="357.2" font-size="23.94" fill="#000">40 mV</text>
<text x="514.8" y="377.8" font-size="23.75" fill="#000">-10 mV</text>
<polyline points="734.0,382.3 830.2,382.3 830.2,363.2 1116.5,363.2 1227.8,363.2 1227.8,382.3 1340.9,382.3" fill="none" stroke="#000" stroke-width="2" stroke-linejoin="round"/>
<polyline points="830.2,363.2 830.2,417.0 1116.5,417.0 1116.5,363.2" fill="none" stroke="#000" stroke-width="2" stroke-linejoin="round"/>
<text x="737.9" y="376.7" font-size="23.60" fill="#000">-10 mV</text>
<text x="940.8" y="357.0" font-size="23.56" fill="#000">40 mV</text>
<text x="926.3" y="397.4" font-size="23.71" fill="#000">Δ -20 mV</text>
<text x="930.3" y="445.3" font-size="23.38" fill="#000">-160 mV</text>
<text x="1137.3" y="357.0" font-size="23.56" fill="#000">40 mV</text>
<text x="1245.8" y="376.7" font-size="23.53" fill="#000">-10 mV</text>
<text x="5.1" y="500.2" font-size="33.00" fill="#000" font-weight="bold">b</text>
<text x="191.0" y="499.4" font-size="29.45" fill="#000">M375</text>
<line x1="93.5" y1="533.0" x2="93.5" y2="761.0" stroke="#000" stroke-width="2.1"/>
<line x1="92.5" y1="760.0" x2="372.8" y2="760.0" stroke="#000" stroke-width="2.1"/>
<line x1="88.0" y1="740.9" x2="93.5" y2="740.9" stroke="#000" stroke-width="2"/>
<line x1="88.0" y1="646.5" x2="93.5" y2="646.5" stroke="#000" stroke-width="2"/>
<line x1="88.0" y1="552.0" x2="93.5" y2="552.0" stroke="#000" stroke-width="2"/>
<line x1="118.0" y1="760.0" x2="118.0" y2="765.5" stroke="#000" stroke-width="2"/>
<line x1="180.1" y1="760.0" x2="180.1" y2="765.5" stroke="#000" stroke-width="2"/>
<line x1="242.3" y1="760.0" x2="242.3" y2="765.5" stroke="#000" stroke-width="2"/>
<line x1="304.5" y1="760.0" x2="304.5" y2="765.5" stroke="#000" stroke-width="2"/>
<line x1="366.7" y1="760.0" x2="366.7" y2="765.5" stroke="#000" stroke-width="2"/>
<text x="44.3" y="558.6" font-size="24.37" fill="#000">1.0</text>
<text x="45.1" y="653.1" font-size="23.82" fill="#000">0.5</text>
<text x="45.2" y="747.5" font-size="23.73" fill="#000">0.0</text>
<text x="82.1" y="794.5" font-size="25.26" fill="#000">-150</text>
<text x="146.4" y="794.5" font-size="25.26" fill="#000">-100</text>
<text x="218.5" y="794.5" font-size="25.13" fill="#000">-50</text>
<text x="296.2" y="794.5" font-size="24.17" fill="#000">0</text>
<text x="351.6" y="794.5" font-size="23.86" fill="#000">50</text>
<text x="166.3" y="830.7" font-size="24.90" fill="#000">Voltage (mV)</text>
<text transform="translate(27.6,727.5) rotate(-90)" font-size="24.53"><tspan fill="#000">Normalized G</tspan></text>
<line x1="105.5" y1="544.4" x2="105.5" y2="586.0" stroke="#3557a7" stroke-width="1.9"/>
<line x1="101.5" y1="544.4" x2="109.5" y2="544.4" stroke="#3557a7" stroke-width="1.9"/>
<line x1="101.5" y1="586.0" x2="109.5" y2="586.0" stroke="#3557a7" stroke-width="1.9"/>
<rect x="101.3" y="561.0" width="8.4" height="8.4" fill="#3557a7"/>
<line x1="130.4" y1="569.9" x2="130.4" y2="600.2" stroke="#3557a7" stroke-width="1.9"/>
<line x1="126.4" y1="569.9" x2="134.4" y2="569.9" stroke="#3557a7" stroke-width="1.9"/>
<line x1="126.4" y1="600.2" x2="134.4" y2="600.2" stroke="#3557a7" stroke-width="1.9"/>
<rect x="126.2" y="580.9" width="8.4" height="8.4" fill="#3557a7"/>
<line x1="180.1" y1="591.5" x2="180.1" y2="617.2" stroke="#3557a7" stroke-width="1.9"/>
<line x1="176.1" y1="591.5" x2="184.1" y2="591.5" stroke="#3557a7" stroke-width="1.9"/>
<line x1="176.1" y1="617.2" x2="184.1" y2="617.2" stroke="#3557a7" stroke-width="1.9"/>
<rect x="175.9" y="600.1" width="8.4" height="8.4" fill="#3557a7"/>
<line x1="205.0" y1="599.2" x2="205.0" y2="617.0" stroke="#3557a7" stroke-width="1.9"/>
<line x1="201.0" y1="599.2" x2="209.0" y2="599.2" stroke="#3557a7" stroke-width="1.9"/>
<line x1="201.0" y1="617.0" x2="209.0" y2="617.0" stroke="#3557a7" stroke-width="1.9"/>
<rect x="200.8" y="603.9" width="8.4" height="8.4" fill="#3557a7"/>
<line x1="229.9" y1="602.1" x2="229.9" y2="619.8" stroke="#3557a7" stroke-width="1.9"/>
<line x1="225.9" y1="602.1" x2="233.9" y2="602.1" stroke="#3557a7" stroke-width="1.9"/>
<line x1="225.9" y1="619.8" x2="233.9" y2="619.8" stroke="#3557a7" stroke-width="1.9"/>
<rect x="225.7" y="606.7" width="8.4" height="8.4" fill="#3557a7"/>
<line x1="254.8" y1="602.8" x2="254.8" y2="618.3" stroke="#3557a7" stroke-width="1.9"/>
<line x1="250.8" y1="602.8" x2="258.8" y2="602.8" stroke="#3557a7" stroke-width="1.9"/>
<line x1="250.8" y1="618.3" x2="258.8" y2="618.3" stroke="#3557a7" stroke-width="1.9"/>
<rect x="250.6" y="606.4" width="8.4" height="8.4" fill="#3557a7"/>
<line x1="279.6" y1="597.9" x2="279.6" y2="613.4" stroke="#3557a7" stroke-width="1.9"/>
<line x1="275.6" y1="597.9" x2="283.6" y2="597.9" stroke="#3557a7" stroke-width="1.9"/>
<line x1="275.6" y1="613.4" x2="283.6" y2="613.4" stroke="#3557a7" stroke-width="1.9"/>
<rect x="275.4" y="601.4" width="8.4" height="8.4" fill="#3557a7"/>
<line x1="304.5" y1="592.0" x2="304.5" y2="609.8" stroke="#3557a7" stroke-width="1.9"/>
<line x1="300.5" y1="592.0" x2="308.5" y2="592.0" stroke="#3557a7" stroke-width="1.9"/>
<line x1="300.5" y1="609.8" x2="308.5" y2="609.8" stroke="#3557a7" stroke-width="1.9"/>
<rect x="300.3" y="596.7" width="8.4" height="8.4" fill="#3557a7"/>
<line x1="329.4" y1="587.7" x2="329.4" y2="605.5" stroke="#3557a7" stroke-width="1.9"/>
<line x1="325.4" y1="587.7" x2="333.4" y2="587.7" stroke="#3557a7" stroke-width="1.9"/>
<line x1="325.4" y1="605.5" x2="333.4" y2="605.5" stroke="#3557a7" stroke-width="1.9"/>
<rect x="325.2" y="592.4" width="8.4" height="8.4" fill="#3557a7"/>
<line x1="354.2" y1="581.5" x2="354.2" y2="594.3" stroke="#3557a7" stroke-width="1.9"/>
<line x1="350.2" y1="581.5" x2="358.2" y2="581.5" stroke="#3557a7" stroke-width="1.9"/>
<line x1="350.2" y1="594.3" x2="358.2" y2="594.3" stroke="#3557a7" stroke-width="1.9"/>
<rect x="350.0" y="583.7" width="8.4" height="8.4" fill="#3557a7"/>
<rect x="101.3" y="547.8" width="8.4" height="8.4" fill="#e87d2c"/>
<line x1="130.4" y1="568.1" x2="130.4" y2="578.3" stroke="#e87d2c" stroke-width="1.9"/>
<line x1="126.4" y1="568.1" x2="134.4" y2="568.1" stroke="#e87d2c" stroke-width="1.9"/>
<line x1="126.4" y1="578.3" x2="134.4" y2="578.3" stroke="#e87d2c" stroke-width="1.9"/>
<rect x="126.2" y="569.0" width="8.4" height="8.4" fill="#e87d2c"/>
<line x1="155.3" y1="594.1" x2="155.3" y2="604.3" stroke="#e87d2c" stroke-width="1.9"/>
<line x1="151.3" y1="594.1" x2="159.3" y2="594.1" stroke="#e87d2c" stroke-width="1.9"/>
<line x1="151.3" y1="604.3" x2="159.3" y2="604.3" stroke="#e87d2c" stroke-width="1.9"/>
<rect x="151.1" y="595.0" width="8.4" height="8.4" fill="#e87d2c"/>
<line x1="180.1" y1="610.4" x2="180.1" y2="625.9" stroke="#e87d2c" stroke-width="1.9"/>
<line x1="176.1" y1="610.4" x2="184.1" y2="610.4" stroke="#e87d2c" stroke-width="1.9"/>
<line x1="176.1" y1="625.9" x2="184.1" y2="625.9" stroke="#e87d2c" stroke-width="1.9"/>
<rect x="175.9" y="613.9" width="8.4" height="8.4" fill="#e87d2c"/>
<line x1="205.0" y1="622.3" x2="205.0" y2="637.8" stroke="#e87d2c" stroke-width="1.9"/>
<line x1="201.0" y1="622.3" x2="209.0" y2="622.3" stroke="#e87d2c" stroke-width="1.9"/>
<line x1="201.0" y1="637.8" x2="209.0" y2="637.8" stroke="#e87d2c" stroke-width="1.9"/>
<rect x="200.8" y="625.8" width="8.4" height="8.4" fill="#e87d2c"/>
<line x1="229.9" y1="635.5" x2="229.9" y2="648.3" stroke="#e87d2c" stroke-width="1.9"/>
<line x1="225.9" y1="635.5" x2="233.9" y2="635.5" stroke="#e87d2c" stroke-width="1.9"/>
<line x1="225.9" y1="648.3" x2="233.9" y2="648.3" stroke="#e87d2c" stroke-width="1.9"/>
<rect x="225.7" y="637.7" width="8.4" height="8.4" fill="#e87d2c"/>
<line x1="254.8" y1="640.8" x2="254.8" y2="653.6" stroke="#e87d2c" stroke-width="1.9"/>
<line x1="250.8" y1="640.8" x2="258.8" y2="640.8" stroke="#e87d2c" stroke-width="1.9"/>
<line x1="250.8" y1="653.6" x2="258.8" y2="653.6" stroke="#e87d2c" stroke-width="1.9"/>
<rect x="250.6" y="643.0" width="8.4" height="8.4" fill="#e87d2c"/>
<line x1="279.6" y1="643.0" x2="279.6" y2="655.9" stroke="#e87d2c" stroke-width="1.9"/>
<line x1="275.6" y1="643.0" x2="283.6" y2="643.0" stroke="#e87d2c" stroke-width="1.9"/>
<line x1="275.6" y1="655.9" x2="283.6" y2="655.9" stroke="#e87d2c" stroke-width="1.9"/>
<rect x="275.4" y="645.3" width="8.4" height="8.4" fill="#e87d2c"/>
<line x1="304.5" y1="640.2" x2="304.5" y2="655.7" stroke="#e87d2c" stroke-width="1.9"/>
<line x1="300.5" y1="640.2" x2="308.5" y2="640.2" stroke="#e87d2c" stroke-width="1.9"/>
<line x1="300.5" y1="655.7" x2="308.5" y2="655.7" stroke="#e87d2c" stroke-width="1.9"/>
<rect x="300.3" y="643.8" width="8.4" height="8.4" fill="#e87d2c"/>
<line x1="329.4" y1="637.4" x2="329.4" y2="650.2" stroke="#e87d2c" stroke-width="1.9"/>
<line x1="325.4" y1="637.4" x2="333.4" y2="637.4" stroke="#e87d2c" stroke-width="1.9"/>
<line x1="325.4" y1="650.2" x2="333.4" y2="650.2" stroke="#e87d2c" stroke-width="1.9"/>
<rect x="325.2" y="639.6" width="8.4" height="8.4" fill="#e87d2c"/>
<line x1="354.2" y1="624.9" x2="354.2" y2="637.8" stroke="#e87d2c" stroke-width="1.9"/>
<line x1="350.2" y1="624.9" x2="358.2" y2="624.9" stroke="#e87d2c" stroke-width="1.9"/>
<line x1="350.2" y1="637.8" x2="358.2" y2="637.8" stroke="#e87d2c" stroke-width="1.9"/>
<rect x="350.0" y="627.1" width="8.4" height="8.4" fill="#e87d2c"/>
<rect x="101.3" y="547.8" width="8.4" height="8.4" fill="#6347a5"/>
<line x1="130.4" y1="549.0" x2="130.4" y2="555.0" stroke="#6347a5" stroke-width="1.9"/>
<line x1="126.4" y1="549.0" x2="134.4" y2="549.0" stroke="#6347a5" stroke-width="1.9"/>
<line x1="126.4" y1="555.0" x2="134.4" y2="555.0" stroke="#6347a5" stroke-width="1.9"/>
<rect x="126.2" y="547.8" width="8.4" height="8.4" fill="#6347a5"/>
<line x1="155.3" y1="583.2" x2="155.3" y2="602.1" stroke="#6347a5" stroke-width="1.9"/>
<line x1="151.3" y1="583.2" x2="159.3" y2="583.2" stroke="#6347a5" stroke-width="1.9"/>
<line x1="151.3" y1="602.1" x2="159.3" y2="602.1" stroke="#6347a5" stroke-width="1.9"/>
<rect x="151.1" y="588.4" width="8.4" height="8.4" fill="#6347a5"/>
<line x1="180.1" y1="611.7" x2="180.1" y2="627.6" stroke="#6347a5" stroke-width="1.9"/>
<line x1="176.1" y1="611.7" x2="184.1" y2="611.7" stroke="#6347a5" stroke-width="1.9"/>
<line x1="176.1" y1="627.6" x2="184.1" y2="627.6" stroke="#6347a5" stroke-width="1.9"/>
<rect x="175.9" y="615.4" width="8.4" height="8.4" fill="#6347a5"/>
<line x1="205.0" y1="634.2" x2="205.0" y2="649.7" stroke="#6347a5" stroke-width="1.9"/>
<line x1="201.0" y1="634.2" x2="209.0" y2="634.2" stroke="#6347a5" stroke-width="1.9"/>
<line x1="201.0" y1="649.7" x2="209.0" y2="649.7" stroke="#6347a5" stroke-width="1.9"/>
<rect x="200.8" y="637.7" width="8.4" height="8.4" fill="#6347a5"/>
<line x1="229.9" y1="652.9" x2="229.9" y2="668.4" stroke="#6347a5" stroke-width="1.9"/>
<line x1="225.9" y1="652.9" x2="233.9" y2="652.9" stroke="#6347a5" stroke-width="1.9"/>
<line x1="225.9" y1="668.4" x2="233.9" y2="668.4" stroke="#6347a5" stroke-width="1.9"/>
<rect x="225.7" y="656.4" width="8.4" height="8.4" fill="#6347a5"/>
<line x1="254.8" y1="671.4" x2="254.8" y2="684.2" stroke="#6347a5" stroke-width="1.9"/>
<line x1="250.8" y1="671.4" x2="258.8" y2="671.4" stroke="#6347a5" stroke-width="1.9"/>
<line x1="250.8" y1="684.2" x2="258.8" y2="684.2" stroke="#6347a5" stroke-width="1.9"/>
<rect x="250.6" y="673.6" width="8.4" height="8.4" fill="#6347a5"/>
<line x1="279.6" y1="684.2" x2="279.6" y2="694.4" stroke="#6347a5" stroke-width="1.9"/>
<line x1="275.6" y1="684.2" x2="283.6" y2="684.2" stroke="#6347a5" stroke-width="1.9"/>
<line x1="275.6" y1="694.4" x2="283.6" y2="694.4" stroke="#6347a5" stroke-width="1.9"/>
<rect x="275.4" y="685.1" width="8.4" height="8.4" fill="#6347a5"/>
<line x1="304.5" y1="690.7" x2="304.5" y2="698.2" stroke="#6347a5" stroke-width="1.9"/>
<line x1="300.5" y1="690.7" x2="308.5" y2="690.7" stroke="#6347a5" stroke-width="1.9"/>
<line x1="300.5" y1="698.2" x2="308.5" y2="698.2" stroke="#6347a5" stroke-width="1.9"/>
<rect x="300.3" y="690.2" width="8.4" height="8.4" fill="#6347a5"/>
<line x1="329.4" y1="695.0" x2="329.4" y2="702.6" stroke="#6347a5" stroke-width="1.9"/>
<line x1="325.4" y1="695.0" x2="333.4" y2="695.0" stroke="#6347a5" stroke-width="1.9"/>
<line x1="325.4" y1="702.6" x2="333.4" y2="702.6" stroke="#6347a5" stroke-width="1.9"/>
<rect x="325.2" y="694.6" width="8.4" height="8.4" fill="#6347a5"/>
<line x1="354.2" y1="696.1" x2="354.2" y2="701.4" stroke="#6347a5" stroke-width="1.9"/>
<line x1="350.2" y1="696.1" x2="358.2" y2="696.1" stroke="#6347a5" stroke-width="1.9"/>
<line x1="350.2" y1="701.4" x2="358.2" y2="701.4" stroke="#6347a5" stroke-width="1.9"/>
<rect x="350.0" y="694.6" width="8.4" height="8.4" fill="#6347a5"/>
<rect x="101.3" y="547.8" width="8.4" height="8.4" fill="#2b8c47"/>
<line x1="130.4" y1="575.8" x2="130.4" y2="587.1" stroke="#2b8c47" stroke-width="1.9"/>
<line x1="126.4" y1="575.8" x2="134.4" y2="575.8" stroke="#2b8c47" stroke-width="1.9"/>
<line x1="126.4" y1="587.1" x2="134.4" y2="587.1" stroke="#2b8c47" stroke-width="1.9"/>
<rect x="126.2" y="577.3" width="8.4" height="8.4" fill="#2b8c47"/>
<line x1="155.3" y1="617.5" x2="155.3" y2="628.9" stroke="#2b8c47" stroke-width="1.9"/>
<line x1="151.3" y1="617.5" x2="159.3" y2="617.5" stroke="#2b8c47" stroke-width="1.9"/>
<line x1="151.3" y1="628.9" x2="159.3" y2="628.9" stroke="#2b8c47" stroke-width="1.9"/>
<rect x="151.1" y="619.0" width="8.4" height="8.4" fill="#2b8c47"/>
<line x1="180.1" y1="656.8" x2="180.1" y2="664.4" stroke="#2b8c47" stroke-width="1.9"/>
<line x1="176.1" y1="656.8" x2="184.1" y2="656.8" stroke="#2b8c47" stroke-width="1.9"/>
<line x1="176.1" y1="664.4" x2="184.1" y2="664.4" stroke="#2b8c47" stroke-width="1.9"/>
<rect x="175.9" y="656.4" width="8.4" height="8.4" fill="#2b8c47"/>
<line x1="205.0" y1="685.9" x2="205.0" y2="690.5" stroke="#2b8c47" stroke-width="1.9"/>
<line x1="201.0" y1="685.9" x2="209.0" y2="685.9" stroke="#2b8c47" stroke-width="1.9"/>
<line x1="201.0" y1="690.5" x2="209.0" y2="690.5" stroke="#2b8c47" stroke-width="1.9"/>
<rect x="200.8" y="684.0" width="8.4" height="8.4" fill="#2b8c47"/>
<line x1="229.9" y1="709.4" x2="229.9" y2="713.1" stroke="#2b8c47" stroke-width="1.9"/>
<line x1="225.9" y1="709.4" x2="233.9" y2="709.4" stroke="#2b8c47" stroke-width="1.9"/>
<line x1="225.9" y1="713.1" x2="233.9" y2="713.1" stroke="#2b8c47" stroke-width="1.9"/>
<rect x="225.7" y="707.0" width="8.4" height="8.4" fill="#2b8c47"/>
<line x1="254.8" y1="721.4" x2="254.8" y2="725.2" stroke="#2b8c47" stroke-width="1.9"/>
<line x1="250.8" y1="721.4" x2="258.8" y2="721.4" stroke="#2b8c47" stroke-width="1.9"/>
<line x1="250.8" y1="725.2" x2="258.8" y2="725.2" stroke="#2b8c47" stroke-width="1.9"/>
<rect x="250.6" y="719.1" width="8.4" height="8.4" fill="#2b8c47"/>
<line x1="279.6" y1="725.2" x2="279.6" y2="727.5" stroke="#2b8c47" stroke-width="1.9"/>
<line x1="275.6" y1="725.2" x2="283.6" y2="725.2" stroke="#2b8c47" stroke-width="1.9"/>
<line x1="275.6" y1="727.5" x2="283.6" y2="727.5" stroke="#2b8c47" stroke-width="1.9"/>
<rect x="275.4" y="722.2" width="8.4" height="8.4" fill="#2b8c47"/>
<line x1="304.5" y1="726.0" x2="304.5" y2="728.2" stroke="#2b8c47" stroke-width="1.9"/>
<line x1="300.5" y1="726.0" x2="308.5" y2="726.0" stroke="#2b8c47" stroke-width="1.9"/>
<line x1="300.5" y1="728.2" x2="308.5" y2="728.2" stroke="#2b8c47" stroke-width="1.9"/>
<rect x="300.3" y="722.9" width="8.4" height="8.4" fill="#2b8c47"/>
<line x1="329.4" y1="726.4" x2="329.4" y2="728.6" stroke="#2b8c47" stroke-width="1.9"/>
<line x1="325.4" y1="726.4" x2="333.4" y2="726.4" stroke="#2b8c47" stroke-width="1.9"/>
<line x1="325.4" y1="728.6" x2="333.4" y2="728.6" stroke="#2b8c47" stroke-width="1.9"/>
<rect x="325.2" y="723.3" width="8.4" height="8.4" fill="#2b8c47"/>
<line x1="354.2" y1="726.0" x2="354.2" y2="728.2" stroke="#2b8c47" stroke-width="1.9"/>
<line x1="350.2" y1="726.0" x2="358.2" y2="726.0" stroke="#2b8c47" stroke-width="1.9"/>
<line x1="350.2" y1="728.2" x2="358.2" y2="728.2" stroke="#2b8c47" stroke-width="1.9"/>
<rect x="350.0" y="722.9" width="8.4" height="8.4" fill="#2b8c47"/>
<rect x="101.3" y="547.8" width="8.4" height="8.4" fill="#000000"/>
<line x1="130.4" y1="551.6" x2="130.4" y2="556.2" stroke="#000000" stroke-width="1.9"/>
<line x1="126.4" y1="551.6" x2="134.4" y2="551.6" stroke="#000000" stroke-width="1.9"/>
<line x1="126.4" y1="556.2" x2="134.4" y2="556.2" stroke="#000000" stroke-width="1.9"/>
<rect x="126.2" y="549.7" width="8.4" height="8.4" fill="#000000"/>
<line x1="155.3" y1="556.2" x2="155.3" y2="561.8" stroke="#000000" stroke-width="1.9"/>
<line x1="151.3" y1="556.2" x2="159.3" y2="556.2" stroke="#000000" stroke-width="1.9"/>
<line x1="151.3" y1="561.8" x2="159.3" y2="561.8" stroke="#000000" stroke-width="1.9"/>
<rect x="151.1" y="554.8" width="8.4" height="8.4" fill="#000000"/>
<line x1="180.1" y1="578.6" x2="180.1" y2="584.3" stroke="#000000" stroke-width="1.9"/>
<line x1="176.1" y1="578.6" x2="184.1" y2="578.6" stroke="#000000" stroke-width="1.9"/>
<line x1="176.1" y1="584.3" x2="184.1" y2="584.3" stroke="#000000" stroke-width="1.9"/>
<rect x="175.9" y="577.3" width="8.4" height="8.4" fill="#000000"/>
<line x1="205.0" y1="621.9" x2="205.0" y2="635.1" stroke="#000000" stroke-width="1.9"/>
<line x1="201.0" y1="621.9" x2="209.0" y2="621.9" stroke="#000000" stroke-width="1.9"/>
<line x1="201.0" y1="635.1" x2="209.0" y2="635.1" stroke="#000000" stroke-width="1.9"/>
<rect x="200.8" y="624.3" width="8.4" height="8.4" fill="#000000"/>
<line x1="229.9" y1="693.7" x2="229.9" y2="705.0" stroke="#000000" stroke-width="1.9"/>
<line x1="225.9" y1="693.7" x2="233.9" y2="693.7" stroke="#000000" stroke-width="1.9"/>
<line x1="225.9" y1="705.0" x2="233.9" y2="705.0" stroke="#000000" stroke-width="1.9"/>
<rect x="225.7" y="695.1" width="8.4" height="8.4" fill="#000000"/>
<line x1="254.8" y1="732.2" x2="254.8" y2="736.7" stroke="#000000" stroke-width="1.9"/>
<line x1="250.8" y1="732.2" x2="258.8" y2="732.2" stroke="#000000" stroke-width="1.9"/>
<line x1="250.8" y1="736.7" x2="258.8" y2="736.7" stroke="#000000" stroke-width="1.9"/>
<rect x="250.6" y="730.3" width="8.4" height="8.4" fill="#000000"/>
<rect x="275.4" y="735.8" width="8.4" height="8.4" fill="#000000"/>
<rect x="300.3" y="736.7" width="8.4" height="8.4" fill="#000000"/>
<rect x="325.2" y="736.7" width="8.4" height="8.4" fill="#000000"/>
<rect x="350.0" y="736.7" width="8.4" height="8.4" fill="#000000"/>
<rect x="101.3" y="547.8" width="8.4" height="8.4" fill="#e73c96"/>
<line x1="130.4" y1="550.3" x2="130.4" y2="570.7" stroke="#e73c96" stroke-width="1.9"/>
<line x1="126.4" y1="550.3" x2="134.4" y2="550.3" stroke="#e73c96" stroke-width="1.9"/>
<line x1="126.4" y1="570.7" x2="134.4" y2="570.7" stroke="#e73c96" stroke-width="1.9"/>
<rect x="126.2" y="556.3" width="8.4" height="8.4" fill="#e73c96"/>
<line x1="155.3" y1="598.8" x2="155.3" y2="619.2" stroke="#e73c96" stroke-width="1.9"/>
<line x1="151.3" y1="598.8" x2="159.3" y2="598.8" stroke="#e73c96" stroke-width="1.9"/>
<line x1="151.3" y1="619.2" x2="159.3" y2="619.2" stroke="#e73c96" stroke-width="1.9"/>
<rect x="151.1" y="604.8" width="8.4" height="8.4" fill="#e73c96"/>
<line x1="180.1" y1="630.2" x2="180.1" y2="659.7" stroke="#e73c96" stroke-width="1.9"/>
<line x1="176.1" y1="630.2" x2="184.1" y2="630.2" stroke="#e73c96" stroke-width="1.9"/>
<line x1="176.1" y1="659.7" x2="184.1" y2="659.7" stroke="#e73c96" stroke-width="1.9"/>
<rect x="175.9" y="640.7" width="8.4" height="8.4" fill="#e73c96"/>
<line x1="205.0" y1="654.2" x2="205.0" y2="678.8" stroke="#e73c96" stroke-width="1.9"/>
<line x1="201.0" y1="654.2" x2="209.0" y2="654.2" stroke="#e73c96" stroke-width="1.9"/>
<line x1="201.0" y1="678.8" x2="209.0" y2="678.8" stroke="#e73c96" stroke-width="1.9"/>
<rect x="200.8" y="662.3" width="8.4" height="8.4" fill="#e73c96"/>
<line x1="229.9" y1="670.8" x2="229.9" y2="690.5" stroke="#e73c96" stroke-width="1.9"/>
<line x1="225.9" y1="670.8" x2="233.9" y2="670.8" stroke="#e73c96" stroke-width="1.9"/>
<line x1="225.9" y1="690.5" x2="233.9" y2="690.5" stroke="#e73c96" stroke-width="1.9"/>
<rect x="225.7" y="676.4" width="8.4" height="8.4" fill="#e73c96"/>
<line x1="254.8" y1="675.0" x2="254.8" y2="695.4" stroke="#e73c96" stroke-width="1.9"/>
<line x1="250.8" y1="675.0" x2="258.8" y2="675.0" stroke="#e73c96" stroke-width="1.9"/>
<line x1="250.8" y1="695.4" x2="258.8" y2="695.4" stroke="#e73c96" stroke-width="1.9"/>
<rect x="250.6" y="681.0" width="8.4" height="8.4" fill="#e73c96"/>
<line x1="279.6" y1="679.9" x2="279.6" y2="695.4" stroke="#e73c96" stroke-width="1.9"/>
<line x1="275.6" y1="679.9" x2="283.6" y2="679.9" stroke="#e73c96" stroke-width="1.9"/>
<line x1="275.6" y1="695.4" x2="283.6" y2="695.4" stroke="#e73c96" stroke-width="1.9"/>
<rect x="275.4" y="683.4" width="8.4" height="8.4" fill="#e73c96"/>
<line x1="304.5" y1="678.8" x2="304.5" y2="694.2" stroke="#e73c96" stroke-width="1.9"/>
<line x1="300.5" y1="678.8" x2="308.5" y2="678.8" stroke="#e73c96" stroke-width="1.9"/>
<line x1="300.5" y1="694.2" x2="308.5" y2="694.2" stroke="#e73c96" stroke-width="1.9"/>
<rect x="300.3" y="682.3" width="8.4" height="8.4" fill="#e73c96"/>
<line x1="329.4" y1="677.4" x2="329.4" y2="692.9" stroke="#e73c96" stroke-width="1.9"/>
<line x1="325.4" y1="677.4" x2="333.4" y2="677.4" stroke="#e73c96" stroke-width="1.9"/>
<line x1="325.4" y1="692.9" x2="333.4" y2="692.9" stroke="#e73c96" stroke-width="1.9"/>
<rect x="325.2" y="681.0" width="8.4" height="8.4" fill="#e73c96"/>
<line x1="354.2" y1="675.5" x2="354.2" y2="691.0" stroke="#e73c96" stroke-width="1.9"/>
<line x1="350.2" y1="675.5" x2="358.2" y2="675.5" stroke="#e73c96" stroke-width="1.9"/>
<line x1="350.2" y1="691.0" x2="358.2" y2="691.0" stroke="#e73c96" stroke-width="1.9"/>
<rect x="350.0" y="679.1" width="8.4" height="8.4" fill="#e73c96"/>
<polyline points="105.5,552.2 106.8,552.5 108.0,552.7 109.3,553.0 110.5,553.3 111.8,553.6 113.0,553.9 114.2,554.2 115.5,554.6 116.7,554.9 118.0,555.3 119.2,555.7 120.5,556.2 121.7,556.6 122.9,557.1 124.2,557.6 125.4,558.1 126.7,558.7 127.9,559.3 129.2,560.0 130.4,560.7 131.7,561.5 132.9,562.3 134.1,563.1 135.4,564.1 136.6,565.1 137.9,566.2 139.1,567.4 140.4,568.6 141.6,570.0 142.8,571.4 144.1,572.9 145.3,574.5 146.6,576.1 147.8,577.8 149.1,579.6 150.3,581.4 151.5,583.3 152.8,585.2 154.0,587.1 155.3,588.9 156.5,590.8 157.8,592.6 159.0,594.4 160.3,596.1 161.5,597.8 162.7,599.4 164.0,601.0 165.2,602.5 166.5,604.0 167.7,605.4 169.0,606.8 170.2,608.2 171.4,609.5 172.7,610.7 173.9,612.0 175.2,613.2 176.4,614.4 177.7,615.5 178.9,616.7 180.1,617.8 181.4,619.0 182.6,620.1 183.9,621.2 185.1,622.3 186.4,623.4 187.6,624.5 188.9,625.7 190.1,626.8 191.3,627.9 192.6,629.0 193.8,630.1 195.1,631.2 196.3,632.3 197.6,633.4 198.8,634.6 200.0,635.7 201.3,636.8 202.5,637.9 203.8,639.0 205.0,640.1 206.3,641.2 207.5,642.3 208.8,643.4 210.0,644.5 211.2,645.6 212.5,646.7 213.7,647.8 215.0,648.8 216.2,649.9 217.5,650.9 218.7,652.0 219.9,653.0 221.2,654.1 222.4,655.1 223.7,656.1 224.9,657.1 226.2,658.1 227.4,659.0 228.6,660.0 229.9,660.9 231.1,661.9 232.4,662.8 233.6,663.7 234.9,664.6 236.1,665.5 237.4,666.3 238.6,667.2 239.8,668.0 241.1,668.9 242.3,669.7 243.6,670.5 244.8,671.2 246.1,672.0 247.3,672.7 248.5,673.5 249.8,674.2 251.0,674.9 252.3,675.6 253.5,676.2 254.8,676.9 256.0,677.5 257.2,678.1 258.5,678.7 259.7,679.3 261.0,679.9 262.2,680.5 263.5,681.0 264.7,681.6 266.0,682.1 267.2,682.6 268.4,683.1 269.7,683.6 270.9,684.0 272.2,684.5 273.4,684.9 274.7,685.4 275.9,685.8 277.1,686.2 278.4,686.6 279.6,687.0 280.9,687.3 282.1,687.7 283.4,688.0 284.6,688.4 285.8,688.7 287.1,689.0 288.3,689.3 289.6,689.6 290.8,689.9 292.1,690.2 293.3,690.5 294.6,690.7 295.8,691.0 297.0,691.3 298.3,691.5 299.5,691.7 300.8,692.0 302.0,692.2 303.3,692.4 304.5,692.6 305.7,692.8 307.0,693.0 308.2,693.2 309.5,693.3 310.7,693.5 312.0,693.7 313.2,693.8 314.4,694.0 315.7,694.2 316.9,694.3 318.2,694.4 319.4,694.6 320.7,694.7 321.9,694.8 323.2,695.0 324.4,695.1 325.6,695.2 326.9,695.3 328.1,695.4 329.4,695.5 330.6,695.6 331.9,695.7 333.1,695.8 334.3,695.9 335.6,696.0 336.8,696.1 338.1,696.2 339.3,696.2 340.6,696.3 341.8,696.4 343.0,696.5 344.3,696.5 345.5,696.6 346.8,696.7 348.0,696.7 349.3,696.8 350.5,696.8 351.8,696.9 353.0,696.9 354.2,697.0 355.5,697.0 356.7,697.1 358.0,697.1 359.2,697.2 360.5,697.2 361.7,697.3 362.9,697.3 364.2,697.3 365.4,697.4 366.7,697.4 367.9,697.5 369.2,697.5 370.4,697.5 371.6,697.5" fill="none" stroke="#6347a5" stroke-width="2.2" stroke-linejoin="round"/>
<polyline points="105.5,552.7 106.8,554.0 108.0,555.3 109.3,556.6 110.5,557.9 111.8,559.3 113.0,560.7 114.2,562.2 115.5,563.6 116.7,565.1 118.0,566.6 119.2,568.2 120.5,569.7 121.7,571.3 122.9,573.0 124.2,574.6 125.4,576.3 126.7,578.0 127.9,579.7 129.2,581.5 130.4,583.3 131.7,585.1 132.9,586.9 134.1,588.7 135.4,590.6 136.6,592.5 137.9,594.4 139.1,596.3 140.4,598.2 141.6,600.1 142.8,602.1 144.1,604.1 145.3,606.0 146.6,608.0 147.8,610.0 149.1,612.0 150.3,614.0 151.5,616.0 152.8,618.1 154.0,620.1 155.3,622.1 156.5,624.1 157.8,626.1 159.0,628.1 160.3,630.1 161.5,632.1 162.7,634.1 164.0,636.1 165.2,638.0 166.5,640.0 167.7,641.9 169.0,643.8 170.2,645.7 171.4,647.6 172.7,649.5 173.9,651.3 175.2,653.2 176.4,655.0 177.7,656.8 178.9,658.6 180.1,660.3 181.4,662.0 182.6,663.7 183.9,665.4 185.1,667.0 186.4,668.6 187.6,670.2 188.9,671.8 190.1,673.3 191.3,674.8 192.6,676.3 193.8,677.8 195.1,679.2 196.3,680.6 197.6,682.0 198.8,683.3 200.0,684.6 201.3,685.9 202.5,687.1 203.8,688.4 205.0,689.6 206.3,690.7 207.5,691.9 208.8,693.0 210.0,694.1 211.2,695.1 212.5,696.2 213.7,697.2 215.0,698.1 216.2,699.1 217.5,700.0 218.7,700.9 219.9,701.8 221.2,702.6 222.4,703.5 223.7,704.3 224.9,705.1 226.2,705.8 227.4,706.6 228.6,707.3 229.9,708.0 231.1,708.6 232.4,709.3 233.6,709.9 234.9,710.5 236.1,711.1 237.4,711.7 238.6,712.3 239.8,712.8 241.1,713.3 242.3,713.9 243.6,714.3 244.8,714.8 246.1,715.3 247.3,715.7 248.5,716.2 249.8,716.6 251.0,717.0 252.3,717.4 253.5,717.8 254.8,718.1 256.0,718.5 257.2,718.8 258.5,719.2 259.7,719.5 261.0,719.8 262.2,720.1 263.5,720.4 264.7,720.7 266.0,720.9 267.2,721.2 268.4,721.4 269.7,721.7 270.9,721.9 272.2,722.1 273.4,722.4 274.7,722.6 275.9,722.8 277.1,723.0 278.4,723.2 279.6,723.3 280.9,723.5 282.1,723.7 283.4,723.9 284.6,724.0 285.8,724.2 287.1,724.3 288.3,724.5 289.6,724.6 290.8,724.7 292.1,724.9 293.3,725.0 294.6,725.1 295.8,725.2 297.0,725.3 298.3,725.4 299.5,725.6 300.8,725.7 302.0,725.7 303.3,725.8 304.5,725.9 305.7,726.0 307.0,726.1 308.2,726.2 309.5,726.3 310.7,726.3 312.0,726.4 313.2,726.5 314.4,726.5 315.7,726.6 316.9,726.7 318.2,726.7 319.4,726.8 320.7,726.8 321.9,726.9 323.2,726.9 324.4,727.0 325.6,727.0 326.9,727.1 328.1,727.1 329.4,727.2 330.6,727.2 331.9,727.3 333.1,727.3 334.3,727.3 335.6,727.4 336.8,727.4 338.1,727.4 339.3,727.5 340.6,727.5 341.8,727.5 343.0,727.6 344.3,727.6 345.5,727.6 346.8,727.6 348.0,727.7 349.3,727.7 350.5,727.7 351.8,727.7 353.0,727.8 354.2,727.8 355.5,727.8 356.7,727.8 358.0,727.8 359.2,727.9 360.5,727.9 361.7,727.9 362.9,727.9 364.2,727.9 365.4,727.9 366.7,728.0 367.9,728.0 369.2,728.0 370.4,728.0 371.6,728.0" fill="none" stroke="#2b8c47" stroke-width="2.2" stroke-linejoin="round"/>
<polyline points="105.5,552.1 106.8,552.5 108.0,552.9 109.3,553.4 110.5,553.9 111.8,554.4 113.0,555.0 114.2,555.6 115.5,556.2 116.7,556.9 118.0,557.6 119.2,558.3 120.5,559.1 121.7,559.9 122.9,560.7 124.2,561.7 125.4,562.6 126.7,563.6 127.9,564.7 129.2,565.8 130.4,566.9 131.7,568.1 132.9,569.4 134.1,570.7 135.4,572.1 136.6,573.5 137.9,575.0 139.1,576.5 140.4,578.1 141.6,579.7 142.8,581.4 144.1,583.2 145.3,585.0 146.6,586.9 147.8,588.8 149.1,590.7 150.3,592.7 151.5,594.8 152.8,596.8 154.0,599.0 155.3,601.1 156.5,603.3 157.8,605.5 159.0,607.7 160.3,609.9 161.5,612.1 162.7,614.4 164.0,616.6 165.2,618.8 166.5,621.0 167.7,623.2 169.0,625.4 170.2,627.6 171.4,629.7 172.7,631.8 173.9,633.9 175.2,635.9 176.4,637.9 177.7,639.8 178.9,641.7 180.1,643.6 181.4,645.3 182.6,647.1 183.9,648.8 185.1,650.4 186.4,652.0 187.6,653.5 188.9,655.0 190.1,656.4 191.3,657.7 192.6,659.0 193.8,660.2 195.1,661.4 196.3,662.6 197.6,663.6 198.8,664.7 200.0,665.7 201.3,666.6 202.5,667.5 203.8,668.3 205.0,669.1 206.3,669.9 207.5,670.6 208.8,671.3 210.0,672.0 211.2,672.6 212.5,673.2 213.7,673.7 215.0,674.2 216.2,674.7 217.5,675.2 218.7,675.6 219.9,676.0 221.2,676.4 222.4,676.8 223.7,677.1 224.9,677.4 226.2,677.7 227.4,678.0 228.6,678.3 229.9,678.6 231.1,678.8 232.4,679.0 233.6,679.2 234.9,679.4 236.1,679.6 237.4,679.8 238.6,679.9 239.8,680.1 241.1,680.2 242.3,680.4 243.6,680.5 244.8,680.6 246.1,680.7 247.3,680.8 248.5,680.9 249.8,681.0 251.0,681.1 252.3,681.2 253.5,681.3 254.8,681.4 256.0,681.4 257.2,681.5 258.5,681.5 259.7,681.6 261.0,681.7 262.2,681.7 263.5,681.7 264.7,681.8 266.0,681.8 267.2,681.9 268.4,681.9 269.7,681.9 270.9,682.0 272.2,682.0 273.4,682.0 274.7,682.0 275.9,682.1 277.1,682.1 278.4,682.1 279.6,682.1 280.9,682.2 282.1,682.2 283.4,682.2 284.6,682.2 285.8,682.2 287.1,682.2 288.3,682.2 289.6,682.3 290.8,682.3 292.1,682.3 293.3,682.3 294.6,682.3 295.8,682.3 297.0,682.3 298.3,682.3 299.5,682.3 300.8,682.3 302.0,682.3 303.3,682.3 304.5,682.3 305.7,682.4 307.0,682.4 308.2,682.4 309.5,682.4 310.7,682.4 312.0,682.4 313.2,682.4 314.4,682.4 315.7,682.4 316.9,682.4 318.2,682.4 319.4,682.4 320.7,682.4 321.9,682.4 323.2,682.4 324.4,682.4 325.6,682.4 326.9,682.4 328.1,682.4 329.4,682.4 330.6,682.4 331.9,682.4 333.1,682.4 334.3,682.4 335.6,682.4 336.8,682.4 338.1,682.4 339.3,682.4 340.6,682.4 341.8,682.4 343.0,682.4 344.3,682.4 345.5,682.4 346.8,682.4 348.0,682.4 349.3,682.4 350.5,682.4 351.8,682.4 353.0,682.4 354.2,682.4 355.5,682.4 356.7,682.4 358.0,682.4 359.2,682.4 360.5,682.4 361.7,682.4 362.9,682.4 364.2,682.4 365.4,682.4 366.7,682.4 367.9,682.4 369.2,682.4 370.4,682.4 371.6,682.4" fill="none" stroke="#e6262b" stroke-width="2.2" stroke-linejoin="round"/>
<polyline points="105.5,553.2 106.8,553.2 108.0,553.2 109.3,553.2 110.5,553.2 111.8,553.2 113.0,553.2 114.2,553.3 115.5,553.3 116.7,553.3 118.0,553.3 119.2,553.4 120.5,553.4 121.7,553.5 122.9,553.5 124.2,553.5 125.4,553.6 126.7,553.7 127.9,553.7 129.2,553.8 130.4,553.9 131.7,554.0 132.9,554.1 134.1,554.2 135.4,554.3 136.6,554.4 137.9,554.6 139.1,554.7 140.4,554.9 141.6,555.1 142.8,555.3 144.1,555.6 145.3,555.8 146.6,556.1 147.8,556.4 149.1,556.8 150.3,557.2 151.5,557.6 152.8,558.1 154.0,558.6 155.3,559.1 156.5,559.7 157.8,560.3 159.0,561.0 160.3,561.7 161.5,562.5 162.7,563.4 164.0,564.3 165.2,565.2 166.5,566.2 167.7,567.3 169.0,568.5 170.2,569.7 171.4,570.9 172.7,572.2 173.9,573.6 175.2,575.0 176.4,576.4 177.7,578.0 178.9,579.5 180.1,581.1 181.4,582.8 182.6,584.5 183.9,586.3 185.1,588.1 186.4,590.0 187.6,591.9 188.9,594.0 190.1,596.0 191.3,598.2 192.6,600.4 193.8,602.8 195.1,605.2 196.3,607.7 197.6,610.3 198.8,613.0 200.0,615.8 201.3,618.8 202.5,621.8 203.8,624.9 205.0,628.2 206.3,631.5 207.5,635.0 208.8,638.5 210.0,642.1 211.2,645.7 212.5,649.5 213.7,653.2 215.0,657.0 216.2,660.8 217.5,664.6 218.7,668.3 219.9,672.1 221.2,675.7 222.4,679.4 223.7,682.9 224.9,686.3 226.2,689.7 227.4,692.9 228.6,696.0 229.9,699.0 231.1,701.9 232.4,704.6 233.6,707.2 234.9,709.6 236.1,712.0 237.4,714.1 238.6,716.2 239.8,718.1 241.1,719.9 242.3,721.6 243.6,723.1 244.8,724.6 246.1,725.9 247.3,727.2 248.5,728.4 249.8,729.4 251.0,730.4 252.3,731.3 253.5,732.1 254.8,732.9 256.0,733.6 257.2,734.3 258.5,734.9 259.7,735.4 261.0,735.9 262.2,736.4 263.5,736.8 264.7,737.2 266.0,737.5 267.2,737.8 268.4,738.1 269.7,738.4 270.9,738.6 272.2,738.9 273.4,739.1 274.7,739.2 275.9,739.4 277.1,739.6 278.4,739.7 279.6,739.8 280.9,739.9 282.1,740.1 283.4,740.2 284.6,740.2 285.8,740.3 287.1,740.4 288.3,740.5 289.6,740.5 290.8,740.6 292.1,740.6 293.3,740.7 294.6,740.7 295.8,740.7 297.0,740.8 298.3,740.8 299.5,740.8 300.8,740.9 302.0,740.9 303.3,740.9 304.5,740.9 305.7,741.0 307.0,741.0 308.2,741.0 309.5,741.0 310.7,741.0 312.0,741.0 313.2,741.0 314.4,741.0 315.7,741.0 316.9,741.1 318.2,741.1 319.4,741.1 320.7,741.1 321.9,741.1 323.2,741.1 324.4,741.1 325.6,741.1 326.9,741.1 328.1,741.1 329.4,741.1 330.6,741.1 331.9,741.1 333.1,741.1 334.3,741.1 335.6,741.1 336.8,741.1 338.1,741.1 339.3,741.1 340.6,741.1 341.8,741.1 343.0,741.1 344.3,741.1 345.5,741.1 346.8,741.1 348.0,741.1 349.3,741.1 350.5,741.1 351.8,741.1 353.0,741.1 354.2,741.1 355.5,741.1 356.7,741.1 358.0,741.1 359.2,741.1 360.5,741.1 361.7,741.1 362.9,741.1 364.2,741.1 365.4,741.1 366.7,741.1 367.9,741.1 369.2,741.1 370.4,741.1 371.6,741.1" fill="none" stroke="#000000" stroke-width="2.2" stroke-linejoin="round"/>
<rect x="384.9" y="567.5" width="9" height="9" fill="#000000"/>
<text x="401.0" y="578.6" font-size="21.00" fill="#000">WT</text>
<rect x="384.9" y="595.0" width="9" height="9" fill="#3557a7"/>
<text x="399.4" y="606.1" font-size="21.00" fill="#000">M375L</text>
<rect x="384.9" y="622.5" width="9" height="9" fill="#6347a5"/>
<text x="399.4" y="633.6" font-size="21.00" fill="#000">M375F</text>
<rect x="384.9" y="650.0" width="9" height="9" fill="#2b8c47"/>
<text x="399.4" y="661.1" font-size="21.00" fill="#000">M375A</text>
<rect x="384.9" y="677.5" width="9" height="9" fill="#e87d2c"/>
<text x="399.4" y="688.6" font-size="21.00" fill="#000">M375C</text>
<rect x="384.9" y="705.0" width="9" height="9" fill="#e73c96"/>
<text x="399.4" y="716.1" font-size="21.00" fill="#000">M375S</text>
<text x="484.6" y="500.5" font-size="33.00" fill="#000" font-weight="bold">c</text>
<text x="658.6" y="499.6" font-size="29.71" fill="#000">M375</text>
<line x1="568.4" y1="534.9" x2="568.4" y2="759.5" stroke="#000" stroke-width="2.1"/>
<line x1="567.4" y1="758.5" x2="844.3" y2="758.5" stroke="#000" stroke-width="2.1"/>
<line x1="562.9" y1="739.8" x2="568.4" y2="739.8" stroke="#000" stroke-width="2"/>
<line x1="562.9" y1="646.5" x2="568.4" y2="646.5" stroke="#000" stroke-width="2"/>
<line x1="562.9" y1="553.1" x2="568.4" y2="553.1" stroke="#000" stroke-width="2"/>
<line x1="592.3" y1="758.5" x2="592.3" y2="764.0" stroke="#000" stroke-width="2"/>
<line x1="653.8" y1="758.5" x2="653.8" y2="764.0" stroke="#000" stroke-width="2"/>
<line x1="715.2" y1="758.5" x2="715.2" y2="764.0" stroke="#000" stroke-width="2"/>
<line x1="776.6" y1="758.5" x2="776.6" y2="764.0" stroke="#000" stroke-width="2"/>
<line x1="838.0" y1="758.5" x2="838.0" y2="764.0" stroke="#000" stroke-width="2"/>
<text x="519.1" y="559.3" font-size="23.98" fill="#000">1.0</text>
<text x="520.0" y="652.7" font-size="23.44" fill="#000">0.5</text>
<text x="520.0" y="746.0" font-size="23.35" fill="#000">0.0</text>
<text x="561.5" y="794.2" font-size="25.00" fill="#000">-150</text>
<text x="623.6" y="794.2" font-size="24.95" fill="#000">-100</text>
<text x="693.2" y="794.2" font-size="25.57" fill="#000">-50</text>
<text x="769.2" y="794.2" font-size="25.00" fill="#000">0</text>
<text x="823.1" y="794.2" font-size="25.22" fill="#000">50</text>
<text x="644.2" y="830.0" font-size="24.78" fill="#000">Voltage (mV)</text>
<text transform="translate(503.1,723.7) rotate(-90)" font-size="24.77"><tspan fill="#000">Normalized </tspan><tspan fill="#e6262b">F</tspan></text>
<circle cx="580.0" cy="553.1" r="5.3" fill="#e87d2c"/>
<line x1="604.6" y1="564.3" x2="604.6" y2="579.2" stroke="#e87d2c" stroke-width="1.9"/>
<line x1="600.6" y1="564.3" x2="608.6" y2="564.3" stroke="#e87d2c" stroke-width="1.9"/>
<line x1="600.6" y1="579.2" x2="608.6" y2="579.2" stroke="#e87d2c" stroke-width="1.9"/>
<circle cx="604.6" cy="571.8" r="5.3" fill="#e87d2c"/>
<line x1="629.2" y1="539.1" x2="629.2" y2="550.3" stroke="#e87d2c" stroke-width="1.9"/>
<line x1="625.2" y1="539.1" x2="633.2" y2="539.1" stroke="#e87d2c" stroke-width="1.9"/>
<line x1="625.2" y1="550.3" x2="633.2" y2="550.3" stroke="#e87d2c" stroke-width="1.9"/>
<circle cx="629.2" cy="544.7" r="5.3" fill="#e87d2c"/>
<circle cx="653.8" cy="553.1" r="5.3" fill="#e87d2c"/>
<circle cx="678.3" cy="577.4" r="5.3" fill="#e87d2c"/>
<circle cx="702.9" cy="627.8" r="5.3" fill="#e87d2c"/>
<line x1="727.5" y1="655.4" x2="727.5" y2="670.3" stroke="#e87d2c" stroke-width="1.9"/>
<line x1="723.5" y1="655.4" x2="731.5" y2="655.4" stroke="#e87d2c" stroke-width="1.9"/>
<line x1="723.5" y1="670.3" x2="731.5" y2="670.3" stroke="#e87d2c" stroke-width="1.9"/>
<circle cx="727.5" cy="662.9" r="5.3" fill="#e87d2c"/>
<line x1="752.0" y1="682.9" x2="752.0" y2="695.9" stroke="#e87d2c" stroke-width="1.9"/>
<line x1="748.0" y1="682.9" x2="756.0" y2="682.9" stroke="#e87d2c" stroke-width="1.9"/>
<line x1="748.0" y1="695.9" x2="756.0" y2="695.9" stroke="#e87d2c" stroke-width="1.9"/>
<circle cx="752.0" cy="689.4" r="5.3" fill="#e87d2c"/>
<line x1="776.6" y1="711.8" x2="776.6" y2="723.0" stroke="#e87d2c" stroke-width="1.9"/>
<line x1="772.6" y1="711.8" x2="780.6" y2="711.8" stroke="#e87d2c" stroke-width="1.9"/>
<line x1="772.6" y1="723.0" x2="780.6" y2="723.0" stroke="#e87d2c" stroke-width="1.9"/>
<circle cx="776.6" cy="717.4" r="5.3" fill="#e87d2c"/>
<line x1="801.2" y1="705.1" x2="801.2" y2="720.0" stroke="#e87d2c" stroke-width="1.9"/>
<line x1="797.2" y1="705.1" x2="805.2" y2="705.1" stroke="#e87d2c" stroke-width="1.9"/>
<line x1="797.2" y1="720.0" x2="805.2" y2="720.0" stroke="#e87d2c" stroke-width="1.9"/>
<circle cx="801.2" cy="712.5" r="5.3" fill="#e87d2c"/>
<line x1="825.7" y1="720.8" x2="825.7" y2="728.2" stroke="#e87d2c" stroke-width="1.9"/>
<line x1="821.7" y1="720.8" x2="829.7" y2="720.8" stroke="#e87d2c" stroke-width="1.9"/>
<line x1="821.7" y1="728.2" x2="829.7" y2="728.2" stroke="#e87d2c" stroke-width="1.9"/>
<circle cx="825.7" cy="724.5" r="5.3" fill="#e87d2c"/>
<circle cx="580.0" cy="553.1" r="5.3" fill="#2b8c47"/>
<circle cx="604.6" cy="553.1" r="5.3" fill="#2b8c47"/>
<circle cx="629.2" cy="545.3" r="5.3" fill="#2b8c47"/>
<circle cx="653.8" cy="542.6" r="5.3" fill="#2b8c47"/>
<line x1="678.3" y1="555.5" x2="678.3" y2="563.0" stroke="#2b8c47" stroke-width="1.9"/>
<line x1="674.3" y1="555.5" x2="682.3" y2="555.5" stroke="#2b8c47" stroke-width="1.9"/>
<line x1="674.3" y1="563.0" x2="682.3" y2="563.0" stroke="#2b8c47" stroke-width="1.9"/>
<circle cx="678.3" cy="559.3" r="5.3" fill="#2b8c47"/>
<line x1="702.9" y1="610.8" x2="702.9" y2="622.0" stroke="#2b8c47" stroke-width="1.9"/>
<line x1="698.9" y1="610.8" x2="706.9" y2="610.8" stroke="#2b8c47" stroke-width="1.9"/>
<line x1="698.9" y1="622.0" x2="706.9" y2="622.0" stroke="#2b8c47" stroke-width="1.9"/>
<circle cx="702.9" cy="616.4" r="5.3" fill="#2b8c47"/>
<line x1="727.5" y1="675.9" x2="727.5" y2="683.4" stroke="#2b8c47" stroke-width="1.9"/>
<line x1="723.5" y1="675.9" x2="731.5" y2="675.9" stroke="#2b8c47" stroke-width="1.9"/>
<line x1="723.5" y1="683.4" x2="731.5" y2="683.4" stroke="#2b8c47" stroke-width="1.9"/>
<circle cx="727.5" cy="679.7" r="5.3" fill="#2b8c47"/>
<circle cx="752.0" cy="711.8" r="5.3" fill="#2b8c47"/>
<circle cx="776.6" cy="726.7" r="5.3" fill="#2b8c47"/>
<circle cx="801.2" cy="732.3" r="5.3" fill="#2b8c47"/>
<circle cx="825.7" cy="734.2" r="5.3" fill="#2b8c47"/>
<circle cx="580.0" cy="553.1" r="5.3" fill="#3557a7"/>
<line x1="604.6" y1="568.0" x2="604.6" y2="590.4" stroke="#3557a7" stroke-width="1.9"/>
<line x1="600.6" y1="568.0" x2="608.6" y2="568.0" stroke="#3557a7" stroke-width="1.9"/>
<line x1="600.6" y1="590.4" x2="608.6" y2="590.4" stroke="#3557a7" stroke-width="1.9"/>
<circle cx="604.6" cy="579.2" r="5.3" fill="#3557a7"/>
<circle cx="629.2" cy="553.1" r="5.3" fill="#3557a7"/>
<circle cx="653.8" cy="553.1" r="5.3" fill="#3557a7"/>
<circle cx="678.3" cy="571.8" r="5.3" fill="#3557a7"/>
<line x1="702.9" y1="587.5" x2="702.9" y2="613.6" stroke="#3557a7" stroke-width="1.9"/>
<line x1="698.9" y1="587.5" x2="706.9" y2="587.5" stroke="#3557a7" stroke-width="1.9"/>
<line x1="698.9" y1="613.6" x2="706.9" y2="613.6" stroke="#3557a7" stroke-width="1.9"/>
<circle cx="702.9" cy="600.5" r="5.3" fill="#3557a7"/>
<line x1="727.5" y1="630.6" x2="727.5" y2="658.6" stroke="#3557a7" stroke-width="1.9"/>
<line x1="723.5" y1="630.6" x2="731.5" y2="630.6" stroke="#3557a7" stroke-width="1.9"/>
<line x1="723.5" y1="658.6" x2="731.5" y2="658.6" stroke="#3557a7" stroke-width="1.9"/>
<circle cx="727.5" cy="644.6" r="5.3" fill="#3557a7"/>
<line x1="752.0" y1="668.9" x2="752.0" y2="691.3" stroke="#3557a7" stroke-width="1.9"/>
<line x1="748.0" y1="668.9" x2="756.0" y2="668.9" stroke="#3557a7" stroke-width="1.9"/>
<line x1="748.0" y1="691.3" x2="756.0" y2="691.3" stroke="#3557a7" stroke-width="1.9"/>
<circle cx="752.0" cy="680.1" r="5.3" fill="#3557a7"/>
<line x1="776.6" y1="704.7" x2="776.6" y2="719.6" stroke="#3557a7" stroke-width="1.9"/>
<line x1="772.6" y1="704.7" x2="780.6" y2="704.7" stroke="#3557a7" stroke-width="1.9"/>
<line x1="772.6" y1="719.6" x2="780.6" y2="719.6" stroke="#3557a7" stroke-width="1.9"/>
<circle cx="776.6" cy="712.2" r="5.3" fill="#3557a7"/>
<line x1="801.2" y1="717.4" x2="801.2" y2="728.6" stroke="#3557a7" stroke-width="1.9"/>
<line x1="797.2" y1="717.4" x2="805.2" y2="717.4" stroke="#3557a7" stroke-width="1.9"/>
<line x1="797.2" y1="728.6" x2="805.2" y2="728.6" stroke="#3557a7" stroke-width="1.9"/>
<circle cx="801.2" cy="723.0" r="5.3" fill="#3557a7"/>
<line x1="825.7" y1="728.6" x2="825.7" y2="736.1" stroke="#3557a7" stroke-width="1.9"/>
<line x1="821.7" y1="728.6" x2="829.7" y2="728.6" stroke="#3557a7" stroke-width="1.9"/>
<line x1="821.7" y1="736.1" x2="829.7" y2="736.1" stroke="#3557a7" stroke-width="1.9"/>
<circle cx="825.7" cy="732.3" r="5.3" fill="#3557a7"/>
<circle cx="580.0" cy="553.1" r="5.3" fill="#e73c96"/>
<line x1="604.6" y1="554.6" x2="604.6" y2="591.9" stroke="#e73c96" stroke-width="1.9"/>
<line x1="600.6" y1="554.6" x2="608.6" y2="554.6" stroke="#e73c96" stroke-width="1.9"/>
<line x1="600.6" y1="591.9" x2="608.6" y2="591.9" stroke="#e73c96" stroke-width="1.9"/>
<circle cx="604.6" cy="573.3" r="5.3" fill="#e73c96"/>
<line x1="629.2" y1="543.8" x2="629.2" y2="555.0" stroke="#e73c96" stroke-width="1.9"/>
<line x1="625.2" y1="543.8" x2="633.2" y2="543.8" stroke="#e73c96" stroke-width="1.9"/>
<line x1="625.2" y1="555.0" x2="633.2" y2="555.0" stroke="#e73c96" stroke-width="1.9"/>
<circle cx="629.2" cy="549.4" r="5.3" fill="#e73c96"/>
<circle cx="653.8" cy="553.1" r="5.3" fill="#e73c96"/>
<line x1="678.3" y1="584.5" x2="678.3" y2="591.9" stroke="#e73c96" stroke-width="1.9"/>
<line x1="674.3" y1="584.5" x2="682.3" y2="584.5" stroke="#e73c96" stroke-width="1.9"/>
<line x1="674.3" y1="591.9" x2="682.3" y2="591.9" stroke="#e73c96" stroke-width="1.9"/>
<circle cx="678.3" cy="588.2" r="5.3" fill="#e73c96"/>
<line x1="702.9" y1="639.9" x2="702.9" y2="647.4" stroke="#e73c96" stroke-width="1.9"/>
<line x1="698.9" y1="639.9" x2="706.9" y2="639.9" stroke="#e73c96" stroke-width="1.9"/>
<line x1="698.9" y1="647.4" x2="706.9" y2="647.4" stroke="#e73c96" stroke-width="1.9"/>
<circle cx="702.9" cy="643.6" r="5.3" fill="#e73c96"/>
<line x1="727.5" y1="680.2" x2="727.5" y2="687.7" stroke="#e73c96" stroke-width="1.9"/>
<line x1="723.5" y1="680.2" x2="731.5" y2="680.2" stroke="#e73c96" stroke-width="1.9"/>
<line x1="723.5" y1="687.7" x2="731.5" y2="687.7" stroke="#e73c96" stroke-width="1.9"/>
<circle cx="727.5" cy="684.0" r="5.3" fill="#e73c96"/>
<line x1="752.0" y1="700.4" x2="752.0" y2="707.9" stroke="#e73c96" stroke-width="1.9"/>
<line x1="748.0" y1="700.4" x2="756.0" y2="700.4" stroke="#e73c96" stroke-width="1.9"/>
<line x1="748.0" y1="707.9" x2="756.0" y2="707.9" stroke="#e73c96" stroke-width="1.9"/>
<circle cx="752.0" cy="704.1" r="5.3" fill="#e73c96"/>
<line x1="776.6" y1="715.9" x2="776.6" y2="723.4" stroke="#e73c96" stroke-width="1.9"/>
<line x1="772.6" y1="715.9" x2="780.6" y2="715.9" stroke="#e73c96" stroke-width="1.9"/>
<line x1="772.6" y1="723.4" x2="780.6" y2="723.4" stroke="#e73c96" stroke-width="1.9"/>
<circle cx="776.6" cy="719.6" r="5.3" fill="#e73c96"/>
<line x1="801.2" y1="726.9" x2="801.2" y2="732.5" stroke="#e73c96" stroke-width="1.9"/>
<line x1="797.2" y1="726.9" x2="805.2" y2="726.9" stroke="#e73c96" stroke-width="1.9"/>
<line x1="797.2" y1="732.5" x2="805.2" y2="732.5" stroke="#e73c96" stroke-width="1.9"/>
<circle cx="801.2" cy="729.7" r="5.3" fill="#e73c96"/>
<line x1="825.7" y1="732.1" x2="825.7" y2="735.9" stroke="#e73c96" stroke-width="1.9"/>
<line x1="821.7" y1="732.1" x2="829.7" y2="732.1" stroke="#e73c96" stroke-width="1.9"/>
<line x1="821.7" y1="735.9" x2="829.7" y2="735.9" stroke="#e73c96" stroke-width="1.9"/>
<circle cx="825.7" cy="734.0" r="5.3" fill="#e73c96"/>
<line x1="580.0" y1="572.0" x2="580.0" y2="596.6" stroke="#6347a5" stroke-width="1.9"/>
<line x1="576.0" y1="572.0" x2="584.0" y2="572.0" stroke="#6347a5" stroke-width="1.9"/>
<line x1="576.0" y1="596.6" x2="584.0" y2="596.6" stroke="#6347a5" stroke-width="1.9"/>
<circle cx="580.0" cy="584.3" r="5.3" fill="#6347a5"/>
<line x1="604.6" y1="569.3" x2="604.6" y2="588.0" stroke="#6347a5" stroke-width="1.9"/>
<line x1="600.6" y1="569.3" x2="608.6" y2="569.3" stroke="#6347a5" stroke-width="1.9"/>
<line x1="600.6" y1="588.0" x2="608.6" y2="588.0" stroke="#6347a5" stroke-width="1.9"/>
<circle cx="604.6" cy="578.7" r="5.3" fill="#6347a5"/>
<line x1="629.2" y1="565.2" x2="629.2" y2="572.7" stroke="#6347a5" stroke-width="1.9"/>
<line x1="625.2" y1="565.2" x2="633.2" y2="565.2" stroke="#6347a5" stroke-width="1.9"/>
<line x1="625.2" y1="572.7" x2="633.2" y2="572.7" stroke="#6347a5" stroke-width="1.9"/>
<circle cx="629.2" cy="569.0" r="5.3" fill="#6347a5"/>
<line x1="653.8" y1="548.4" x2="653.8" y2="555.9" stroke="#6347a5" stroke-width="1.9"/>
<line x1="649.8" y1="548.4" x2="657.8" y2="548.4" stroke="#6347a5" stroke-width="1.9"/>
<line x1="649.8" y1="555.9" x2="657.8" y2="555.9" stroke="#6347a5" stroke-width="1.9"/>
<circle cx="653.8" cy="552.2" r="5.3" fill="#6347a5"/>
<line x1="678.3" y1="541.2" x2="678.3" y2="556.1" stroke="#6347a5" stroke-width="1.9"/>
<line x1="674.3" y1="541.2" x2="682.3" y2="541.2" stroke="#6347a5" stroke-width="1.9"/>
<line x1="674.3" y1="556.1" x2="682.3" y2="556.1" stroke="#6347a5" stroke-width="1.9"/>
<circle cx="678.3" cy="548.6" r="5.3" fill="#6347a5"/>
<line x1="702.9" y1="550.9" x2="702.9" y2="580.0" stroke="#6347a5" stroke-width="1.9"/>
<line x1="698.9" y1="550.9" x2="706.9" y2="550.9" stroke="#6347a5" stroke-width="1.9"/>
<line x1="698.9" y1="580.0" x2="706.9" y2="580.0" stroke="#6347a5" stroke-width="1.9"/>
<circle cx="702.9" cy="565.4" r="5.3" fill="#6347a5"/>
<line x1="727.5" y1="588.6" x2="727.5" y2="623.7" stroke="#6347a5" stroke-width="1.9"/>
<line x1="723.5" y1="588.6" x2="731.5" y2="588.6" stroke="#6347a5" stroke-width="1.9"/>
<line x1="723.5" y1="623.7" x2="731.5" y2="623.7" stroke="#6347a5" stroke-width="1.9"/>
<circle cx="727.5" cy="606.1" r="5.3" fill="#6347a5"/>
<line x1="752.0" y1="647.0" x2="752.0" y2="674.3" stroke="#6347a5" stroke-width="1.9"/>
<line x1="748.0" y1="647.0" x2="756.0" y2="647.0" stroke="#6347a5" stroke-width="1.9"/>
<line x1="748.0" y1="674.3" x2="756.0" y2="674.3" stroke="#6347a5" stroke-width="1.9"/>
<circle cx="752.0" cy="660.6" r="5.3" fill="#6347a5"/>
<line x1="776.6" y1="694.4" x2="776.6" y2="711.2" stroke="#6347a5" stroke-width="1.9"/>
<line x1="772.6" y1="694.4" x2="780.6" y2="694.4" stroke="#6347a5" stroke-width="1.9"/>
<line x1="772.6" y1="711.2" x2="780.6" y2="711.2" stroke="#6347a5" stroke-width="1.9"/>
<circle cx="776.6" cy="702.8" r="5.3" fill="#6347a5"/>
<line x1="801.2" y1="716.3" x2="801.2" y2="727.5" stroke="#6347a5" stroke-width="1.9"/>
<line x1="797.2" y1="716.3" x2="805.2" y2="716.3" stroke="#6347a5" stroke-width="1.9"/>
<line x1="797.2" y1="727.5" x2="805.2" y2="727.5" stroke="#6347a5" stroke-width="1.9"/>
<circle cx="801.2" cy="721.9" r="5.3" fill="#6347a5"/>
<line x1="825.7" y1="727.7" x2="825.7" y2="735.1" stroke="#6347a5" stroke-width="1.9"/>
<line x1="821.7" y1="727.7" x2="829.7" y2="727.7" stroke="#6347a5" stroke-width="1.9"/>
<line x1="821.7" y1="735.1" x2="829.7" y2="735.1" stroke="#6347a5" stroke-width="1.9"/>
<circle cx="825.7" cy="731.4" r="5.3" fill="#6347a5"/>
<circle cx="580.0" cy="553.1" r="5.3" fill="#000000"/>
<circle cx="604.6" cy="550.7" r="5.3" fill="#000000"/>
<circle cx="629.2" cy="549.4" r="5.3" fill="#000000"/>
<circle cx="653.8" cy="553.1" r="5.3" fill="#000000"/>
<line x1="678.3" y1="571.4" x2="678.3" y2="578.9" stroke="#000000" stroke-width="1.9"/>
<line x1="674.3" y1="571.4" x2="682.3" y2="571.4" stroke="#000000" stroke-width="1.9"/>
<line x1="674.3" y1="578.9" x2="682.3" y2="578.9" stroke="#000000" stroke-width="1.9"/>
<circle cx="678.3" cy="575.1" r="5.3" fill="#000000"/>
<line x1="702.9" y1="625.0" x2="702.9" y2="632.4" stroke="#000000" stroke-width="1.9"/>
<line x1="698.9" y1="625.0" x2="706.9" y2="625.0" stroke="#000000" stroke-width="1.9"/>
<line x1="698.9" y1="632.4" x2="706.9" y2="632.4" stroke="#000000" stroke-width="1.9"/>
<circle cx="702.9" cy="628.7" r="5.3" fill="#000000"/>
<line x1="727.5" y1="681.2" x2="727.5" y2="688.6" stroke="#000000" stroke-width="1.9"/>
<line x1="723.5" y1="681.2" x2="731.5" y2="681.2" stroke="#000000" stroke-width="1.9"/>
<line x1="723.5" y1="688.6" x2="731.5" y2="688.6" stroke="#000000" stroke-width="1.9"/>
<circle cx="727.5" cy="684.9" r="5.3" fill="#000000"/>
<line x1="752.0" y1="712.0" x2="752.0" y2="717.6" stroke="#000000" stroke-width="1.9"/>
<line x1="748.0" y1="712.0" x2="756.0" y2="712.0" stroke="#000000" stroke-width="1.9"/>
<line x1="748.0" y1="717.6" x2="756.0" y2="717.6" stroke="#000000" stroke-width="1.9"/>
<circle cx="752.0" cy="714.8" r="5.3" fill="#000000"/>
<circle cx="776.6" cy="727.9" r="5.3" fill="#000000"/>
<circle cx="801.2" cy="734.0" r="5.3" fill="#000000"/>
<circle cx="825.7" cy="735.9" r="5.3" fill="#000000"/>
<polyline points="580.0,553.3 581.3,553.3 582.5,553.3 583.7,553.3 585.0,553.3 586.2,553.3 587.4,553.3 588.6,553.3 589.9,553.3 591.1,553.3 592.3,553.3 593.6,553.3 594.8,553.3 596.0,553.3 597.2,553.3 598.5,553.4 599.7,553.4 600.9,553.4 602.2,553.4 603.4,553.4 604.6,553.4 605.8,553.4 607.1,553.4 608.3,553.4 609.5,553.4 610.8,553.4 612.0,553.5 613.2,553.5 614.4,553.5 615.7,553.5 616.9,553.5 618.1,553.5 619.4,553.5 620.6,553.6 621.8,553.6 623.0,553.6 624.3,553.6 625.5,553.7 626.7,553.7 628.0,553.7 629.2,553.7 630.4,553.8 631.6,553.8 632.9,553.8 634.1,553.9 635.3,553.9 636.6,554.0 637.8,554.0 639.0,554.1 640.2,554.1 641.5,554.2 642.7,554.2 643.9,554.3 645.2,554.4 646.4,554.4 647.6,554.5 648.8,554.6 650.1,554.7 651.3,554.8 652.5,554.9 653.8,555.0 655.0,555.1 656.2,555.2 657.4,555.3 658.7,555.4 659.9,555.6 661.1,555.7 662.3,555.9 663.6,556.1 664.8,556.2 666.0,556.4 667.3,556.6 668.5,556.8 669.7,557.1 670.9,557.3 672.2,557.6 673.4,557.8 674.6,558.1 675.9,558.4 677.1,558.8 678.3,559.1 679.5,559.5 680.8,559.9 682.0,560.3 683.2,560.7 684.5,561.2 685.7,561.7 686.9,562.2 688.1,562.8 689.4,563.3 690.6,564.0 691.8,564.6 693.1,565.3 694.3,566.0 695.5,566.8 696.7,567.6 698.0,568.5 699.2,569.4 700.4,570.3 701.7,571.3 702.9,572.4 704.1,573.5 705.3,574.6 706.6,575.8 707.8,577.1 709.0,578.4 710.3,579.8 711.5,581.3 712.7,582.8 713.9,584.4 715.2,586.1 716.4,587.8 717.6,589.6 718.9,591.4 720.1,593.4 721.3,595.4 722.5,597.4 723.8,599.5 725.0,601.7 726.2,604.0 727.5,606.3 728.7,608.7 729.9,611.2 731.1,613.7 732.4,616.2 733.6,618.8 734.8,621.5 736.1,624.1 737.3,626.9 738.5,629.6 739.7,632.4 741.0,635.2 742.2,638.0 743.4,640.8 744.7,643.7 745.9,646.5 747.1,649.3 748.3,652.1 749.6,654.9 750.8,657.7 752.0,660.4 753.3,663.1 754.5,665.8 755.7,668.4 756.9,671.0 758.2,673.5 759.4,676.0 760.6,678.5 761.9,680.8 763.1,683.1 764.3,685.4 765.5,687.5 766.8,689.6 768.0,691.7 769.2,693.7 770.5,695.6 771.7,697.4 772.9,699.2 774.1,700.9 775.4,702.5 776.6,704.1 777.8,705.6 779.1,707.0 780.3,708.4 781.5,709.7 782.7,710.9 784.0,712.1 785.2,713.3 786.4,714.3 787.7,715.4 788.9,716.4 790.1,717.3 791.3,718.2 792.6,719.0 793.8,719.8 795.0,720.6 796.3,721.3 797.5,722.0 798.7,722.6 799.9,723.2 801.2,723.8 802.4,724.3 803.6,724.8 804.9,725.3 806.1,725.8 807.3,726.2 808.5,726.6 809.8,727.0 811.0,727.3 812.2,727.7 813.5,728.0 814.7,728.3 815.9,728.6 817.1,728.9 818.4,729.1 819.6,729.3 820.8,729.6 822.1,729.8 823.3,730.0 824.5,730.2 825.7,730.3 827.0,730.5 828.2,730.7 829.4,730.8 830.7,730.9 831.9,731.1 833.1,731.2 834.3,731.3 835.6,731.4 836.8,731.5 838.0,731.6 839.3,731.7 840.5,731.8 841.7,731.9 842.9,731.9 844.2,732.0" fill="none" stroke="#6347a5" stroke-width="2.2" stroke-linejoin="round"/>
<polyline points="580.0,552.6 581.3,552.6 582.5,552.6 583.7,552.6 585.0,552.6 586.2,552.6 587.4,552.6 588.6,552.6 589.9,552.6 591.1,552.7 592.3,552.7 593.6,552.7 594.8,552.7 596.0,552.7 597.2,552.7 598.5,552.8 599.7,552.8 600.9,552.8 602.2,552.8 603.4,552.9 604.6,552.9 605.8,552.9 607.1,553.0 608.3,553.0 609.5,553.0 610.8,553.1 612.0,553.1 613.2,553.2 614.4,553.2 615.7,553.3 616.9,553.3 618.1,553.4 619.4,553.4 620.6,553.5 621.8,553.6 623.0,553.6 624.3,553.7 625.5,553.8 626.7,553.9 628.0,554.0 629.2,554.1 630.4,554.2 631.6,554.3 632.9,554.4 634.1,554.6 635.3,554.7 636.6,554.9 637.8,555.0 639.0,555.2 640.2,555.4 641.5,555.5 642.7,555.7 643.9,555.9 645.2,556.2 646.4,556.4 647.6,556.7 648.8,556.9 650.1,557.2 651.3,557.5 652.5,557.8 653.8,558.2 655.0,558.5 656.2,558.9 657.4,559.3 658.7,559.7 659.9,560.2 661.1,560.6 662.3,561.1 663.6,561.6 664.8,562.2 666.0,562.8 667.3,563.4 668.5,564.1 669.7,564.7 670.9,565.5 672.2,566.2 673.4,567.0 674.6,567.9 675.9,568.7 677.1,569.7 678.3,570.6 679.5,571.6 680.8,572.7 682.0,573.8 683.2,575.0 684.5,576.2 685.7,577.4 686.9,578.7 688.1,580.1 689.4,581.5 690.6,582.9 691.8,584.4 693.1,586.0 694.3,587.6 695.5,589.3 696.7,591.0 698.0,592.8 699.2,594.6 700.4,596.4 701.7,598.3 702.9,600.3 704.1,602.3 705.3,604.3 706.6,606.4 707.8,608.5 709.0,610.6 710.3,612.7 711.5,614.9 712.7,617.1 713.9,619.4 715.2,621.6 716.4,623.9 717.6,626.1 718.9,628.4 720.1,630.7 721.3,633.0 722.5,635.3 723.8,637.6 725.0,639.8 726.2,642.1 727.5,644.4 728.7,646.7 729.9,648.9 731.1,651.1 732.4,653.4 733.6,655.6 734.8,657.7 736.1,659.9 737.3,662.0 738.5,664.2 739.7,666.3 741.0,668.3 742.2,670.4 743.4,672.4 744.7,674.4 745.9,676.4 747.1,678.3 748.3,680.2 749.6,682.1 750.8,683.9 752.0,685.7 753.3,687.5 754.5,689.2 755.7,690.9 756.9,692.6 758.2,694.2 759.4,695.8 760.6,697.3 761.9,698.8 763.1,700.3 764.3,701.7 765.5,703.1 766.8,704.4 768.0,705.7 769.2,707.0 770.5,708.2 771.7,709.4 772.9,710.5 774.1,711.6 775.4,712.7 776.6,713.7 777.8,714.6 779.1,715.6 780.3,716.5 781.5,717.3 782.7,718.2 784.0,718.9 785.2,719.7 786.4,720.4 787.7,721.1 788.9,721.7 790.1,722.4 791.3,722.9 792.6,723.5 793.8,724.0 795.0,724.5 796.3,725.0 797.5,725.5 798.7,725.9 799.9,726.3 801.2,726.7 802.4,727.1 803.6,727.4 804.9,727.8 806.1,728.1 807.3,728.4 808.5,728.7 809.8,728.9 811.0,729.2 812.2,729.4 813.5,729.6 814.7,729.8 815.9,730.0 817.1,730.2 818.4,730.4 819.6,730.6 820.8,730.7 822.1,730.9 823.3,731.0 824.5,731.1 825.7,731.3 827.0,731.4 828.2,731.5 829.4,731.6 830.7,731.7 831.9,731.8 833.1,731.9 834.3,732.0 835.6,732.0 836.8,732.1 838.0,732.2 839.3,732.2 840.5,732.3 841.7,732.4 842.9,732.4 844.2,732.5" fill="none" stroke="#3557a7" stroke-width="2.2" stroke-linejoin="round"/>
<polyline points="580.0,554.8 581.3,554.9 582.5,554.9 583.7,555.0 585.0,555.0 586.2,555.1 587.4,555.1 588.6,555.2 589.9,555.2 591.1,555.3 592.3,555.3 593.6,555.4 594.8,555.4 596.0,555.5 597.2,555.6 598.5,555.7 599.7,555.7 600.9,555.8 602.2,555.9 603.4,556.0 604.6,556.1 605.8,556.2 607.1,556.3 608.3,556.4 609.5,556.5 610.8,556.6 612.0,556.7 613.2,556.8 614.4,556.9 615.7,557.1 616.9,557.2 618.1,557.4 619.4,557.5 620.6,557.7 621.8,557.8 623.0,558.0 624.3,558.2 625.5,558.4 626.7,558.6 628.0,558.8 629.2,559.0 630.4,559.2 631.6,559.4 632.9,559.7 634.1,559.9 635.3,560.2 636.6,560.5 637.8,560.8 639.0,561.1 640.2,561.4 641.5,561.7 642.7,562.1 643.9,562.4 645.2,562.8 646.4,563.2 647.6,563.6 648.8,564.1 650.1,564.5 651.3,565.0 652.5,565.5 653.8,566.0 655.0,566.6 656.2,567.1 657.4,567.7 658.7,568.4 659.9,569.0 661.1,569.7 662.3,570.4 663.6,571.1 664.8,571.9 666.0,572.7 667.3,573.6 668.5,574.4 669.7,575.4 670.9,576.3 672.2,577.3 673.4,578.3 674.6,579.4 675.9,580.5 677.1,581.7 678.3,582.9 679.5,584.2 680.8,585.5 682.0,586.8 683.2,588.2 684.5,589.6 685.7,591.1 686.9,592.7 688.1,594.3 689.4,595.9 690.6,597.6 691.8,599.3 693.1,601.1 694.3,602.9 695.5,604.7 696.7,606.6 698.0,608.6 699.2,610.6 700.4,612.6 701.7,614.6 702.9,616.7 704.1,618.8 705.3,620.9 706.6,623.1 707.8,625.2 709.0,627.4 710.3,629.6 711.5,631.8 712.7,634.0 713.9,636.2 715.2,638.4 716.4,640.6 717.6,642.7 718.9,644.9 720.1,647.0 721.3,649.1 722.5,651.2 723.8,653.3 725.0,655.4 726.2,657.4 727.5,659.4 728.7,661.3 729.9,663.3 731.1,665.1 732.4,667.0 733.6,668.8 734.8,670.6 736.1,672.3 737.3,674.0 738.5,675.7 739.7,677.3 741.0,678.9 742.2,680.4 743.4,681.9 744.7,683.4 745.9,684.8 747.1,686.2 748.3,687.6 749.6,688.9 750.8,690.2 752.0,691.4 753.3,692.6 754.5,693.8 755.7,694.9 756.9,696.0 758.2,697.1 759.4,698.2 760.6,699.2 761.9,700.1 763.1,701.1 764.3,702.0 765.5,702.9 766.8,703.8 768.0,704.6 769.2,705.4 770.5,706.2 771.7,707.0 772.9,707.7 774.1,708.4 775.4,709.1 776.6,709.8 777.8,710.4 779.1,711.1 780.3,711.7 781.5,712.3 782.7,712.8 784.0,713.4 785.2,713.9 786.4,714.4 787.7,714.9 788.9,715.4 790.1,715.8 791.3,716.3 792.6,716.7 793.8,717.1 795.0,717.5 796.3,717.9 797.5,718.3 798.7,718.6 799.9,719.0 801.2,719.3 802.4,719.7 803.6,720.0 804.9,720.3 806.1,720.6 807.3,720.8 808.5,721.1 809.8,721.4 811.0,721.6 812.2,721.9 813.5,722.1 814.7,722.3 815.9,722.5 817.1,722.7 818.4,722.9 819.6,723.1 820.8,723.3 822.1,723.5 823.3,723.7 824.5,723.8 825.7,724.0 827.0,724.1 828.2,724.3 829.4,724.4 830.7,724.6 831.9,724.7 833.1,724.8 834.3,724.9 835.6,725.1 836.8,725.2 838.0,725.3 839.3,725.4 840.5,725.5 841.7,725.6 842.9,725.7 844.2,725.8" fill="none" stroke="#e87d2c" stroke-width="2.2" stroke-linejoin="round"/>
<polyline points="580.0,545.4 581.3,545.4 582.5,545.4 583.7,545.4 585.0,545.4 586.2,545.4 587.4,545.4 588.6,545.4 589.9,545.4 591.1,545.4 592.3,545.4 593.6,545.4 594.8,545.4 596.0,545.4 597.2,545.4 598.5,545.5 599.7,545.5 600.9,545.5 602.2,545.5 603.4,545.5 604.6,545.5 605.8,545.5 607.1,545.5 608.3,545.6 609.5,545.6 610.8,545.6 612.0,545.6 613.2,545.6 614.4,545.7 615.7,545.7 616.9,545.7 618.1,545.8 619.4,545.8 620.6,545.8 621.8,545.9 623.0,545.9 624.3,546.0 625.5,546.0 626.7,546.1 628.0,546.1 629.2,546.2 630.4,546.2 631.6,546.3 632.9,546.4 634.1,546.5 635.3,546.6 636.6,546.7 637.8,546.8 639.0,546.9 640.2,547.0 641.5,547.1 642.7,547.2 643.9,547.4 645.2,547.6 646.4,547.7 647.6,547.9 648.8,548.1 650.1,548.3 651.3,548.5 652.5,548.8 653.8,549.0 655.0,549.3 656.2,549.6 657.4,549.9 658.7,550.3 659.9,550.6 661.1,551.0 662.3,551.4 663.6,551.9 664.8,552.4 666.0,552.9 667.3,553.4 668.5,554.0 669.7,554.7 670.9,555.3 672.2,556.1 673.4,556.9 674.6,557.7 675.9,558.6 677.1,559.6 678.3,560.6 679.5,561.8 680.8,563.0 682.0,564.3 683.2,565.8 684.5,567.3 685.7,569.0 686.9,570.9 688.1,572.9 689.4,575.2 690.6,577.6 691.8,580.3 693.1,583.2 694.3,586.4 695.5,589.8 696.7,593.4 698.0,597.1 699.2,601.0 700.4,604.9 701.7,608.9 702.9,612.8 704.1,616.7 705.3,620.5 706.6,624.2 707.8,627.9 709.0,631.4 710.3,634.9 711.5,638.3 712.7,641.6 713.9,644.9 715.2,648.1 716.4,651.3 717.6,654.5 718.9,657.6 720.1,660.7 721.3,663.8 722.5,666.8 723.8,669.7 725.0,672.6 726.2,675.4 727.5,678.2 728.7,680.9 729.9,683.6 731.1,686.1 732.4,688.6 733.6,691.0 734.8,693.4 736.1,695.6 737.3,697.8 738.5,699.9 739.7,701.8 741.0,703.8 742.2,705.6 743.4,707.3 744.7,709.0 745.9,710.5 747.1,712.0 748.3,713.5 749.6,714.8 750.8,716.1 752.0,717.3 753.3,718.4 754.5,719.5 755.7,720.5 756.9,721.5 758.2,722.3 759.4,723.2 760.6,724.0 761.9,724.7 763.1,725.4 764.3,726.1 765.5,726.7 766.8,727.3 768.0,727.8 769.2,728.3 770.5,728.8 771.7,729.2 772.9,729.6 774.1,730.0 775.4,730.3 776.6,730.7 777.8,731.0 779.1,731.3 780.3,731.5 781.5,731.8 782.7,732.0 784.0,732.2 785.2,732.5 786.4,732.6 787.7,732.8 788.9,733.0 790.1,733.1 791.3,733.3 792.6,733.4 793.8,733.5 795.0,733.7 796.3,733.8 797.5,733.9 798.7,734.0 799.9,734.0 801.2,734.1 802.4,734.2 803.6,734.3 804.9,734.3 806.1,734.4 807.3,734.4 808.5,734.5 809.8,734.5 811.0,734.6 812.2,734.6 813.5,734.7 814.7,734.7 815.9,734.7 817.1,734.8 818.4,734.8 819.6,734.8 820.8,734.8 822.1,734.9 823.3,734.9 824.5,734.9 825.7,734.9 827.0,734.9 828.2,735.0 829.4,735.0 830.7,735.0 831.9,735.0 833.1,735.0 834.3,735.0 835.6,735.0 836.8,735.1 838.0,735.1 839.3,735.1 840.5,735.1 841.7,735.1 842.9,735.1 844.2,735.1" fill="none" stroke="#2b8c47" stroke-width="2.2" stroke-linejoin="round"/>
<polyline points="580.0,548.4 581.3,548.5 582.5,548.5 583.7,548.5 585.0,548.5 586.2,548.5 587.4,548.5 588.6,548.5 589.9,548.5 591.1,548.5 592.3,548.5 593.6,548.6 594.8,548.6 596.0,548.6 597.2,548.6 598.5,548.6 599.7,548.6 600.9,548.7 602.2,548.7 603.4,548.7 604.6,548.7 605.8,548.8 607.1,548.8 608.3,548.8 609.5,548.9 610.8,548.9 612.0,549.0 613.2,549.0 614.4,549.1 615.7,549.1 616.9,549.2 618.1,549.3 619.4,549.3 620.6,549.4 621.8,549.5 623.0,549.6 624.3,549.7 625.5,549.8 626.7,549.9 628.0,550.1 629.2,550.2 630.4,550.4 631.6,550.5 632.9,550.7 634.1,550.9 635.3,551.1 636.6,551.3 637.8,551.6 639.0,551.8 640.2,552.1 641.5,552.4 642.7,552.7 643.9,553.1 645.2,553.5 646.4,553.9 647.6,554.4 648.8,554.8 650.1,555.4 651.3,555.9 652.5,556.5 653.8,557.2 655.0,557.9 656.2,558.6 657.4,559.4 658.7,560.3 659.9,561.2 661.1,562.2 662.3,563.3 663.6,564.4 664.8,565.6 666.0,566.9 667.3,568.2 668.5,569.7 669.7,571.2 670.9,572.8 672.2,574.5 673.4,576.3 674.6,578.2 675.9,580.2 677.1,582.2 678.3,584.4 679.5,586.7 680.8,589.0 682.0,591.4 683.2,593.9 684.5,596.5 685.7,599.1 686.9,601.9 688.1,604.6 689.4,607.4 690.6,610.3 691.8,613.2 693.1,616.1 694.3,619.0 695.5,622.0 696.7,624.9 698.0,627.8 699.2,630.7 700.4,633.6 701.7,636.5 702.9,639.3 704.1,642.1 705.3,644.8 706.6,647.4 707.8,650.1 709.0,652.6 710.3,655.1 711.5,657.5 712.7,659.9 713.9,662.2 715.2,664.4 716.4,666.6 717.6,668.7 718.9,670.7 720.1,672.7 721.3,674.7 722.5,676.6 723.8,678.4 725.0,680.2 726.2,681.9 727.5,683.6 728.7,685.2 729.9,686.8 731.1,688.4 732.4,689.9 733.6,691.4 734.8,692.9 736.1,694.3 737.3,695.7 738.5,697.0 739.7,698.3 741.0,699.6 742.2,700.9 743.4,702.1 744.7,703.3 745.9,704.5 747.1,705.7 748.3,706.8 749.6,707.9 750.8,708.9 752.0,710.0 753.3,711.0 754.5,712.0 755.7,712.9 756.9,713.8 758.2,714.7 759.4,715.6 760.6,716.4 761.9,717.3 763.1,718.0 764.3,718.8 765.5,719.5 766.8,720.2 768.0,720.9 769.2,721.6 770.5,722.2 771.7,722.8 772.9,723.4 774.1,723.9 775.4,724.4 776.6,725.0 777.8,725.4 779.1,725.9 780.3,726.3 781.5,726.8 782.7,727.2 784.0,727.6 785.2,727.9 786.4,728.3 787.7,728.6 788.9,728.9 790.1,729.2 791.3,729.5 792.6,729.8 793.8,730.1 795.0,730.3 796.3,730.5 797.5,730.8 798.7,731.0 799.9,731.2 801.2,731.4 802.4,731.5 803.6,731.7 804.9,731.9 806.1,732.0 807.3,732.2 808.5,732.3 809.8,732.4 811.0,732.5 812.2,732.7 813.5,732.8 814.7,732.9 815.9,733.0 817.1,733.1 818.4,733.1 819.6,733.2 820.8,733.3 822.1,733.4 823.3,733.5 824.5,733.5 825.7,733.6 827.0,733.6 828.2,733.7 829.4,733.7 830.7,733.8 831.9,733.8 833.1,733.9 834.3,733.9 835.6,734.0 836.8,734.0 838.0,734.0 839.3,734.1 840.5,734.1 841.7,734.1 842.9,734.2 844.2,734.2" fill="none" stroke="#e73c96" stroke-width="2.2" stroke-linejoin="round"/>
<polyline points="580.0,549.2 581.3,549.2 582.5,549.2 583.7,549.2 585.0,549.2 586.2,549.2 587.4,549.2 588.6,549.2 589.9,549.2 591.1,549.3 592.3,549.3 593.6,549.3 594.8,549.3 596.0,549.3 597.2,549.3 598.5,549.3 599.7,549.3 600.9,549.3 602.2,549.4 603.4,549.4 604.6,549.4 605.8,549.4 607.1,549.4 608.3,549.5 609.5,549.5 610.8,549.5 612.0,549.6 613.2,549.6 614.4,549.6 615.7,549.7 616.9,549.7 618.1,549.8 619.4,549.8 620.6,549.9 621.8,549.9 623.0,550.0 624.3,550.0 625.5,550.1 626.7,550.2 628.0,550.3 629.2,550.4 630.4,550.5 631.6,550.6 632.9,550.7 634.1,550.8 635.3,551.0 636.6,551.1 637.8,551.3 639.0,551.5 640.2,551.7 641.5,551.9 642.7,552.1 643.9,552.3 645.2,552.6 646.4,552.9 647.6,553.2 648.8,553.5 650.1,553.9 651.3,554.3 652.5,554.7 653.8,555.1 655.0,555.6 656.2,556.1 657.4,556.7 658.7,557.3 659.9,558.0 661.1,558.7 662.3,559.4 663.6,560.2 664.8,561.1 666.0,562.0 667.3,563.0 668.5,564.0 669.7,565.2 670.9,566.4 672.2,567.7 673.4,569.0 674.6,570.5 675.9,572.0 677.1,573.7 678.3,575.4 679.5,577.2 680.8,579.1 682.0,581.1 683.2,583.2 684.5,585.4 685.7,587.7 686.9,590.1 688.1,592.6 689.4,595.2 690.6,597.9 691.8,600.6 693.1,603.4 694.3,606.3 695.5,609.3 696.7,612.3 698.0,615.3 699.2,618.4 700.4,621.5 701.7,624.7 702.9,627.8 704.1,631.0 705.3,634.2 706.6,637.3 707.8,640.5 709.0,643.6 710.3,646.7 711.5,649.8 712.7,652.8 713.9,655.8 715.2,658.7 716.4,661.6 717.6,664.4 718.9,667.1 720.1,669.8 721.3,672.5 722.5,675.0 723.8,677.6 725.0,680.0 726.2,682.4 727.5,684.7 728.7,686.9 729.9,689.1 731.1,691.2 732.4,693.3 733.6,695.2 734.8,697.1 736.1,699.0 737.3,700.8 738.5,702.5 739.7,704.1 741.0,705.7 742.2,707.3 743.4,708.7 744.7,710.1 745.9,711.5 747.1,712.8 748.3,714.0 749.6,715.2 750.8,716.3 752.0,717.4 753.3,718.5 754.5,719.4 755.7,720.4 756.9,721.3 758.2,722.1 759.4,722.9 760.6,723.6 761.9,724.4 763.1,725.0 764.3,725.7 765.5,726.3 766.8,726.9 768.0,727.4 769.2,727.9 770.5,728.4 771.7,728.9 772.9,729.3 774.1,729.7 775.4,730.1 776.6,730.4 777.8,730.7 779.1,731.1 780.3,731.4 781.5,731.6 782.7,731.9 784.0,732.1 785.2,732.4 786.4,732.6 787.7,732.8 788.9,733.0 790.1,733.2 791.3,733.3 792.6,733.5 793.8,733.6 795.0,733.8 796.3,733.9 797.5,734.0 798.7,734.1 799.9,734.2 801.2,734.3 802.4,734.4 803.6,734.5 804.9,734.6 806.1,734.7 807.3,734.7 808.5,734.8 809.8,734.9 811.0,734.9 812.2,735.0 813.5,735.0 814.7,735.1 815.9,735.1 817.1,735.1 818.4,735.2 819.6,735.2 820.8,735.3 822.1,735.3 823.3,735.3 824.5,735.3 825.7,735.4 827.0,735.4 828.2,735.4 829.4,735.4 830.7,735.5 831.9,735.5 833.1,735.5 834.3,735.5 835.6,735.5 836.8,735.5 838.0,735.6 839.3,735.6 840.5,735.6 841.7,735.6 842.9,735.6 844.2,735.6" fill="none" stroke="#000000" stroke-width="2.2" stroke-linejoin="round"/>
<circle cx="858.5" cy="572.5" r="5.5" fill="#000000"/>
<text x="871.8" y="576.9" font-size="21.00" fill="#000">WT</text>
<circle cx="858.5" cy="599.6" r="5.5" fill="#3557a7"/>
<text x="870.2" y="604.0" font-size="21.00" fill="#000">M375L</text>
<circle cx="858.5" cy="626.7" r="5.5" fill="#6347a5"/>
<text x="870.2" y="631.1" font-size="21.00" fill="#000">M375F</text>
<circle cx="858.5" cy="653.8" r="5.5" fill="#2b8c47"/>
<text x="870.2" y="658.2" font-size="21.00" fill="#000">M375A</text>
<circle cx="858.5" cy="680.9" r="5.5" fill="#e87d2c"/>
<text x="870.2" y="685.3" font-size="21.00" fill="#000">M375C</text>
<circle cx="858.5" cy="708.0" r="5.5" fill="#e73c96"/>
<text x="870.2" y="712.4" font-size="21.00" fill="#000">M375S</text>
<text x="956.1" y="500.3" font-size="33.00" fill="#000" font-weight="bold">d</text>
<text x="1146.4" y="499.2" font-size="29.93" fill="#000">F459</text>
<line x1="1034.4" y1="530.5" x2="1034.4" y2="759.7" stroke="#000" stroke-width="2.1"/>
<line x1="1033.4" y1="758.7" x2="1315.9" y2="758.7" stroke="#000" stroke-width="2.1"/>
<line x1="1028.9" y1="739.9" x2="1034.4" y2="739.9" stroke="#000" stroke-width="2"/>
<line x1="1028.9" y1="644.4" x2="1034.4" y2="644.4" stroke="#000" stroke-width="2"/>
<line x1="1028.9" y1="548.9" x2="1034.4" y2="548.9" stroke="#000" stroke-width="2"/>
<line x1="1059.5" y1="758.7" x2="1059.5" y2="764.2" stroke="#000" stroke-width="2"/>
<line x1="1121.8" y1="758.7" x2="1121.8" y2="764.2" stroke="#000" stroke-width="2"/>
<line x1="1184.0" y1="758.7" x2="1184.0" y2="764.2" stroke="#000" stroke-width="2"/>
<line x1="1246.3" y1="758.7" x2="1246.3" y2="764.2" stroke="#000" stroke-width="2"/>
<line x1="1308.6" y1="758.7" x2="1308.6" y2="764.2" stroke="#000" stroke-width="2"/>
<text x="991.7" y="555.6" font-size="24.77" fill="#000">1.0</text>
<text x="992.6" y="651.1" font-size="24.20" fill="#000">0.5</text>
<text x="992.6" y="746.6" font-size="24.11" fill="#000">0.0</text>
<text x="1031.5" y="794.2" font-size="24.32" fill="#000">-150</text>
<text x="1094.1" y="794.2" font-size="24.95" fill="#000">-100</text>
<text x="1163.8" y="794.2" font-size="25.05" fill="#000">-50</text>
<text x="1238.0" y="794.2" font-size="23.96" fill="#000">0</text>
<text x="1294.6" y="794.2" font-size="24.64" fill="#000">50</text>
<text x="1120.6" y="830.6" font-size="24.69" fill="#000">Voltage (mV)</text>
<text transform="translate(977.0,724.1) rotate(-90)" font-size="25.00"><tspan fill="#000">Normalized G</tspan></text>
<line x1="1047.0" y1="556.9" x2="1047.0" y2="574.1" stroke="#2b8c47" stroke-width="1.9"/>
<line x1="1043.0" y1="556.9" x2="1051.0" y2="556.9" stroke="#2b8c47" stroke-width="1.9"/>
<line x1="1043.0" y1="574.1" x2="1051.0" y2="574.1" stroke="#2b8c47" stroke-width="1.9"/>
<rect x="1042.7" y="561.2" width="8.6" height="8.6" fill="#2b8c47"/>
<line x1="1071.9" y1="555.4" x2="1071.9" y2="570.7" stroke="#2b8c47" stroke-width="1.9"/>
<line x1="1067.9" y1="555.4" x2="1075.9" y2="555.4" stroke="#2b8c47" stroke-width="1.9"/>
<line x1="1067.9" y1="570.7" x2="1075.9" y2="570.7" stroke="#2b8c47" stroke-width="1.9"/>
<rect x="1067.6" y="558.7" width="8.6" height="8.6" fill="#2b8c47"/>
<line x1="1096.8" y1="564.2" x2="1096.8" y2="587.1" stroke="#2b8c47" stroke-width="1.9"/>
<line x1="1092.8" y1="564.2" x2="1100.8" y2="564.2" stroke="#2b8c47" stroke-width="1.9"/>
<line x1="1092.8" y1="587.1" x2="1100.8" y2="587.1" stroke="#2b8c47" stroke-width="1.9"/>
<rect x="1092.5" y="571.3" width="8.6" height="8.6" fill="#2b8c47"/>
<line x1="1121.8" y1="573.7" x2="1121.8" y2="589.0" stroke="#2b8c47" stroke-width="1.9"/>
<line x1="1117.8" y1="573.7" x2="1125.8" y2="573.7" stroke="#2b8c47" stroke-width="1.9"/>
<line x1="1117.8" y1="589.0" x2="1125.8" y2="589.0" stroke="#2b8c47" stroke-width="1.9"/>
<rect x="1117.5" y="577.1" width="8.6" height="8.6" fill="#2b8c47"/>
<line x1="1146.7" y1="579.8" x2="1146.7" y2="602.8" stroke="#2b8c47" stroke-width="1.9"/>
<line x1="1142.7" y1="579.8" x2="1150.7" y2="579.8" stroke="#2b8c47" stroke-width="1.9"/>
<line x1="1142.7" y1="602.8" x2="1150.7" y2="602.8" stroke="#2b8c47" stroke-width="1.9"/>
<rect x="1142.4" y="587.0" width="8.6" height="8.6" fill="#2b8c47"/>
<line x1="1171.6" y1="588.2" x2="1171.6" y2="610.8" stroke="#2b8c47" stroke-width="1.9"/>
<line x1="1167.6" y1="588.2" x2="1175.6" y2="588.2" stroke="#2b8c47" stroke-width="1.9"/>
<line x1="1167.6" y1="610.8" x2="1175.6" y2="610.8" stroke="#2b8c47" stroke-width="1.9"/>
<rect x="1167.3" y="595.2" width="8.6" height="8.6" fill="#2b8c47"/>
<line x1="1196.5" y1="595.9" x2="1196.5" y2="618.4" stroke="#2b8c47" stroke-width="1.9"/>
<line x1="1192.5" y1="595.9" x2="1200.5" y2="595.9" stroke="#2b8c47" stroke-width="1.9"/>
<line x1="1192.5" y1="618.4" x2="1200.5" y2="618.4" stroke="#2b8c47" stroke-width="1.9"/>
<rect x="1192.2" y="602.9" width="8.6" height="8.6" fill="#2b8c47"/>
<line x1="1221.4" y1="601.0" x2="1221.4" y2="623.6" stroke="#2b8c47" stroke-width="1.9"/>
<line x1="1217.4" y1="601.0" x2="1225.4" y2="601.0" stroke="#2b8c47" stroke-width="1.9"/>
<line x1="1217.4" y1="623.6" x2="1225.4" y2="623.6" stroke="#2b8c47" stroke-width="1.9"/>
<rect x="1217.1" y="608.0" width="8.6" height="8.6" fill="#2b8c47"/>
<line x1="1246.3" y1="601.8" x2="1246.3" y2="624.3" stroke="#2b8c47" stroke-width="1.9"/>
<line x1="1242.3" y1="601.8" x2="1250.3" y2="601.8" stroke="#2b8c47" stroke-width="1.9"/>
<line x1="1242.3" y1="624.3" x2="1250.3" y2="624.3" stroke="#2b8c47" stroke-width="1.9"/>
<rect x="1242.0" y="608.8" width="8.6" height="8.6" fill="#2b8c47"/>
<line x1="1271.2" y1="599.7" x2="1271.2" y2="618.8" stroke="#2b8c47" stroke-width="1.9"/>
<line x1="1267.2" y1="599.7" x2="1275.2" y2="599.7" stroke="#2b8c47" stroke-width="1.9"/>
<line x1="1267.2" y1="618.8" x2="1275.2" y2="618.8" stroke="#2b8c47" stroke-width="1.9"/>
<rect x="1266.9" y="605.0" width="8.6" height="8.6" fill="#2b8c47"/>
<line x1="1296.1" y1="589.6" x2="1296.1" y2="606.8" stroke="#2b8c47" stroke-width="1.9"/>
<line x1="1292.1" y1="589.6" x2="1300.1" y2="589.6" stroke="#2b8c47" stroke-width="1.9"/>
<line x1="1292.1" y1="606.8" x2="1300.1" y2="606.8" stroke="#2b8c47" stroke-width="1.9"/>
<rect x="1291.8" y="593.9" width="8.6" height="8.6" fill="#2b8c47"/>
<rect x="1042.7" y="544.6" width="8.6" height="8.6" fill="#828282"/>
<line x1="1071.9" y1="556.5" x2="1071.9" y2="568.0" stroke="#828282" stroke-width="1.9"/>
<line x1="1067.9" y1="556.5" x2="1075.9" y2="556.5" stroke="#828282" stroke-width="1.9"/>
<line x1="1067.9" y1="568.0" x2="1075.9" y2="568.0" stroke="#828282" stroke-width="1.9"/>
<rect x="1067.6" y="558.0" width="8.6" height="8.6" fill="#828282"/>
<line x1="1096.8" y1="591.3" x2="1096.8" y2="606.6" stroke="#828282" stroke-width="1.9"/>
<line x1="1092.8" y1="591.3" x2="1100.8" y2="591.3" stroke="#828282" stroke-width="1.9"/>
<line x1="1092.8" y1="606.6" x2="1100.8" y2="606.6" stroke="#828282" stroke-width="1.9"/>
<rect x="1092.5" y="594.6" width="8.6" height="8.6" fill="#828282"/>
<line x1="1121.8" y1="601.6" x2="1121.8" y2="616.9" stroke="#828282" stroke-width="1.9"/>
<line x1="1117.8" y1="601.6" x2="1125.8" y2="601.6" stroke="#828282" stroke-width="1.9"/>
<line x1="1117.8" y1="616.9" x2="1125.8" y2="616.9" stroke="#828282" stroke-width="1.9"/>
<rect x="1117.5" y="605.0" width="8.6" height="8.6" fill="#828282"/>
<line x1="1146.7" y1="617.7" x2="1146.7" y2="632.9" stroke="#828282" stroke-width="1.9"/>
<line x1="1142.7" y1="617.7" x2="1150.7" y2="617.7" stroke="#828282" stroke-width="1.9"/>
<line x1="1142.7" y1="632.9" x2="1150.7" y2="632.9" stroke="#828282" stroke-width="1.9"/>
<rect x="1142.4" y="621.0" width="8.6" height="8.6" fill="#828282"/>
<line x1="1171.6" y1="624.5" x2="1171.6" y2="637.9" stroke="#828282" stroke-width="1.9"/>
<line x1="1167.6" y1="624.5" x2="1175.6" y2="624.5" stroke="#828282" stroke-width="1.9"/>
<line x1="1167.6" y1="637.9" x2="1175.6" y2="637.9" stroke="#828282" stroke-width="1.9"/>
<rect x="1167.3" y="626.9" width="8.6" height="8.6" fill="#828282"/>
<line x1="1196.5" y1="627.0" x2="1196.5" y2="640.4" stroke="#828282" stroke-width="1.9"/>
<line x1="1192.5" y1="627.0" x2="1200.5" y2="627.0" stroke="#828282" stroke-width="1.9"/>
<line x1="1192.5" y1="640.4" x2="1200.5" y2="640.4" stroke="#828282" stroke-width="1.9"/>
<rect x="1192.2" y="629.4" width="8.6" height="8.6" fill="#828282"/>
<line x1="1221.4" y1="624.9" x2="1221.4" y2="640.2" stroke="#828282" stroke-width="1.9"/>
<line x1="1217.4" y1="624.9" x2="1225.4" y2="624.9" stroke="#828282" stroke-width="1.9"/>
<line x1="1217.4" y1="640.2" x2="1225.4" y2="640.2" stroke="#828282" stroke-width="1.9"/>
<rect x="1217.1" y="628.3" width="8.6" height="8.6" fill="#828282"/>
<line x1="1246.3" y1="621.9" x2="1246.3" y2="637.1" stroke="#828282" stroke-width="1.9"/>
<line x1="1242.3" y1="621.9" x2="1250.3" y2="621.9" stroke="#828282" stroke-width="1.9"/>
<line x1="1242.3" y1="637.1" x2="1250.3" y2="637.1" stroke="#828282" stroke-width="1.9"/>
<rect x="1242.0" y="625.2" width="8.6" height="8.6" fill="#828282"/>
<line x1="1271.2" y1="614.0" x2="1271.2" y2="633.1" stroke="#828282" stroke-width="1.9"/>
<line x1="1267.2" y1="614.0" x2="1275.2" y2="614.0" stroke="#828282" stroke-width="1.9"/>
<line x1="1267.2" y1="633.1" x2="1275.2" y2="633.1" stroke="#828282" stroke-width="1.9"/>
<rect x="1266.9" y="619.3" width="8.6" height="8.6" fill="#828282"/>
<line x1="1296.1" y1="595.9" x2="1296.1" y2="624.2" stroke="#828282" stroke-width="1.9"/>
<line x1="1292.1" y1="595.9" x2="1300.1" y2="595.9" stroke="#828282" stroke-width="1.9"/>
<line x1="1292.1" y1="624.2" x2="1300.1" y2="624.2" stroke="#828282" stroke-width="1.9"/>
<rect x="1291.8" y="605.7" width="8.6" height="8.6" fill="#828282"/>
<rect x="1042.7" y="544.6" width="8.6" height="8.6" fill="#e87d2c"/>
<line x1="1071.9" y1="572.8" x2="1071.9" y2="580.4" stroke="#e87d2c" stroke-width="1.9"/>
<line x1="1067.9" y1="572.8" x2="1075.9" y2="572.8" stroke="#e87d2c" stroke-width="1.9"/>
<line x1="1067.9" y1="580.4" x2="1075.9" y2="580.4" stroke="#e87d2c" stroke-width="1.9"/>
<rect x="1067.6" y="572.3" width="8.6" height="8.6" fill="#e87d2c"/>
<line x1="1096.8" y1="598.6" x2="1096.8" y2="629.1" stroke="#e87d2c" stroke-width="1.9"/>
<line x1="1092.8" y1="598.6" x2="1100.8" y2="598.6" stroke="#e87d2c" stroke-width="1.9"/>
<line x1="1092.8" y1="629.1" x2="1100.8" y2="629.1" stroke="#e87d2c" stroke-width="1.9"/>
<rect x="1092.5" y="609.5" width="8.6" height="8.6" fill="#e87d2c"/>
<line x1="1121.8" y1="619.6" x2="1121.8" y2="654.0" stroke="#e87d2c" stroke-width="1.9"/>
<line x1="1117.8" y1="619.6" x2="1125.8" y2="619.6" stroke="#e87d2c" stroke-width="1.9"/>
<line x1="1117.8" y1="654.0" x2="1125.8" y2="654.0" stroke="#e87d2c" stroke-width="1.9"/>
<rect x="1117.5" y="632.5" width="8.6" height="8.6" fill="#e87d2c"/>
<line x1="1146.7" y1="635.8" x2="1146.7" y2="670.2" stroke="#e87d2c" stroke-width="1.9"/>
<line x1="1142.7" y1="635.8" x2="1150.7" y2="635.8" stroke="#e87d2c" stroke-width="1.9"/>
<line x1="1142.7" y1="670.2" x2="1150.7" y2="670.2" stroke="#e87d2c" stroke-width="1.9"/>
<rect x="1142.4" y="648.7" width="8.6" height="8.6" fill="#e87d2c"/>
<line x1="1171.6" y1="659.7" x2="1171.6" y2="671.1" stroke="#e87d2c" stroke-width="1.9"/>
<line x1="1167.6" y1="659.7" x2="1175.6" y2="659.7" stroke="#e87d2c" stroke-width="1.9"/>
<line x1="1167.6" y1="671.1" x2="1175.6" y2="671.1" stroke="#e87d2c" stroke-width="1.9"/>
<rect x="1167.3" y="661.1" width="8.6" height="8.6" fill="#e87d2c"/>
<line x1="1196.5" y1="669.2" x2="1196.5" y2="680.7" stroke="#e87d2c" stroke-width="1.9"/>
<line x1="1192.5" y1="669.2" x2="1200.5" y2="669.2" stroke="#e87d2c" stroke-width="1.9"/>
<line x1="1192.5" y1="680.7" x2="1200.5" y2="680.7" stroke="#e87d2c" stroke-width="1.9"/>
<rect x="1192.2" y="670.7" width="8.6" height="8.6" fill="#e87d2c"/>
<line x1="1221.4" y1="671.5" x2="1221.4" y2="683.0" stroke="#e87d2c" stroke-width="1.9"/>
<line x1="1217.4" y1="671.5" x2="1225.4" y2="671.5" stroke="#e87d2c" stroke-width="1.9"/>
<line x1="1217.4" y1="683.0" x2="1225.4" y2="683.0" stroke="#e87d2c" stroke-width="1.9"/>
<rect x="1217.1" y="673.0" width="8.6" height="8.6" fill="#e87d2c"/>
<line x1="1246.3" y1="671.5" x2="1246.3" y2="683.0" stroke="#e87d2c" stroke-width="1.9"/>
<line x1="1242.3" y1="671.5" x2="1250.3" y2="671.5" stroke="#e87d2c" stroke-width="1.9"/>
<line x1="1242.3" y1="683.0" x2="1250.3" y2="683.0" stroke="#e87d2c" stroke-width="1.9"/>
<rect x="1242.0" y="673.0" width="8.6" height="8.6" fill="#e87d2c"/>
<line x1="1271.2" y1="668.7" x2="1271.2" y2="680.1" stroke="#e87d2c" stroke-width="1.9"/>
<line x1="1267.2" y1="668.7" x2="1275.2" y2="668.7" stroke="#e87d2c" stroke-width="1.9"/>
<line x1="1267.2" y1="680.1" x2="1275.2" y2="680.1" stroke="#e87d2c" stroke-width="1.9"/>
<rect x="1266.9" y="670.1" width="8.6" height="8.6" fill="#e87d2c"/>
<line x1="1296.1" y1="659.9" x2="1296.1" y2="675.2" stroke="#e87d2c" stroke-width="1.9"/>
<line x1="1292.1" y1="659.9" x2="1300.1" y2="659.9" stroke="#e87d2c" stroke-width="1.9"/>
<line x1="1292.1" y1="675.2" x2="1300.1" y2="675.2" stroke="#e87d2c" stroke-width="1.9"/>
<rect x="1291.8" y="663.2" width="8.6" height="8.6" fill="#e87d2c"/>
<rect x="1042.7" y="544.6" width="8.6" height="8.6" fill="#e73c96"/>
<rect x="1067.6" y="554.2" width="8.6" height="8.6" fill="#e73c96"/>
<line x1="1096.8" y1="589.0" x2="1096.8" y2="604.3" stroke="#e73c96" stroke-width="1.9"/>
<line x1="1092.8" y1="589.0" x2="1100.8" y2="589.0" stroke="#e73c96" stroke-width="1.9"/>
<line x1="1092.8" y1="604.3" x2="1100.8" y2="604.3" stroke="#e73c96" stroke-width="1.9"/>
<rect x="1092.5" y="592.4" width="8.6" height="8.6" fill="#e73c96"/>
<line x1="1121.8" y1="596.5" x2="1121.8" y2="611.7" stroke="#e73c96" stroke-width="1.9"/>
<line x1="1117.8" y1="596.5" x2="1125.8" y2="596.5" stroke="#e73c96" stroke-width="1.9"/>
<line x1="1117.8" y1="611.7" x2="1125.8" y2="611.7" stroke="#e73c96" stroke-width="1.9"/>
<rect x="1117.5" y="599.8" width="8.6" height="8.6" fill="#e73c96"/>
<line x1="1146.7" y1="642.5" x2="1146.7" y2="657.8" stroke="#e73c96" stroke-width="1.9"/>
<line x1="1142.7" y1="642.5" x2="1150.7" y2="642.5" stroke="#e73c96" stroke-width="1.9"/>
<line x1="1142.7" y1="657.8" x2="1150.7" y2="657.8" stroke="#e73c96" stroke-width="1.9"/>
<rect x="1142.4" y="645.8" width="8.6" height="8.6" fill="#e73c96"/>
<line x1="1171.6" y1="663.5" x2="1171.6" y2="678.8" stroke="#e73c96" stroke-width="1.9"/>
<line x1="1167.6" y1="663.5" x2="1175.6" y2="663.5" stroke="#e73c96" stroke-width="1.9"/>
<line x1="1167.6" y1="678.8" x2="1175.6" y2="678.8" stroke="#e73c96" stroke-width="1.9"/>
<rect x="1167.3" y="666.8" width="8.6" height="8.6" fill="#e73c96"/>
<line x1="1196.5" y1="674.0" x2="1196.5" y2="689.3" stroke="#e73c96" stroke-width="1.9"/>
<line x1="1192.5" y1="674.0" x2="1200.5" y2="674.0" stroke="#e73c96" stroke-width="1.9"/>
<line x1="1192.5" y1="689.3" x2="1200.5" y2="689.3" stroke="#e73c96" stroke-width="1.9"/>
<rect x="1192.2" y="677.3" width="8.6" height="8.6" fill="#e73c96"/>
<line x1="1221.4" y1="679.4" x2="1221.4" y2="694.6" stroke="#e73c96" stroke-width="1.9"/>
<line x1="1217.4" y1="679.4" x2="1225.4" y2="679.4" stroke="#e73c96" stroke-width="1.9"/>
<line x1="1217.4" y1="694.6" x2="1225.4" y2="694.6" stroke="#e73c96" stroke-width="1.9"/>
<rect x="1217.1" y="682.7" width="8.6" height="8.6" fill="#e73c96"/>
<line x1="1246.3" y1="679.2" x2="1246.3" y2="696.4" stroke="#e73c96" stroke-width="1.9"/>
<line x1="1242.3" y1="679.2" x2="1250.3" y2="679.2" stroke="#e73c96" stroke-width="1.9"/>
<line x1="1242.3" y1="696.4" x2="1250.3" y2="696.4" stroke="#e73c96" stroke-width="1.9"/>
<rect x="1242.0" y="683.5" width="8.6" height="8.6" fill="#e73c96"/>
<line x1="1271.2" y1="678.4" x2="1271.2" y2="695.6" stroke="#e73c96" stroke-width="1.9"/>
<line x1="1267.2" y1="678.4" x2="1275.2" y2="678.4" stroke="#e73c96" stroke-width="1.9"/>
<line x1="1267.2" y1="695.6" x2="1275.2" y2="695.6" stroke="#e73c96" stroke-width="1.9"/>
<rect x="1266.9" y="682.7" width="8.6" height="8.6" fill="#e73c96"/>
<line x1="1296.1" y1="675.3" x2="1296.1" y2="692.5" stroke="#e73c96" stroke-width="1.9"/>
<line x1="1292.1" y1="675.3" x2="1300.1" y2="675.3" stroke="#e73c96" stroke-width="1.9"/>
<line x1="1292.1" y1="692.5" x2="1300.1" y2="692.5" stroke="#e73c96" stroke-width="1.9"/>
<rect x="1291.8" y="679.6" width="8.6" height="8.6" fill="#e73c96"/>
<rect x="1042.7" y="544.6" width="8.6" height="8.6" fill="#3557a7"/>
<rect x="1067.6" y="544.6" width="8.6" height="8.6" fill="#3557a7"/>
<line x1="1096.8" y1="577.0" x2="1096.8" y2="592.3" stroke="#3557a7" stroke-width="1.9"/>
<line x1="1092.8" y1="577.0" x2="1100.8" y2="577.0" stroke="#3557a7" stroke-width="1.9"/>
<line x1="1092.8" y1="592.3" x2="1100.8" y2="592.3" stroke="#3557a7" stroke-width="1.9"/>
<rect x="1092.5" y="580.3" width="8.6" height="8.6" fill="#3557a7"/>
<line x1="1121.8" y1="604.7" x2="1121.8" y2="620.0" stroke="#3557a7" stroke-width="1.9"/>
<line x1="1117.8" y1="604.7" x2="1125.8" y2="604.7" stroke="#3557a7" stroke-width="1.9"/>
<line x1="1117.8" y1="620.0" x2="1125.8" y2="620.0" stroke="#3557a7" stroke-width="1.9"/>
<rect x="1117.5" y="608.0" width="8.6" height="8.6" fill="#3557a7"/>
<rect x="1142.4" y="622.9" width="8.6" height="8.6" fill="#3557a7"/>
<line x1="1171.6" y1="673.0" x2="1171.6" y2="684.5" stroke="#3557a7" stroke-width="1.9"/>
<line x1="1167.6" y1="673.0" x2="1175.6" y2="673.0" stroke="#3557a7" stroke-width="1.9"/>
<line x1="1167.6" y1="684.5" x2="1175.6" y2="684.5" stroke="#3557a7" stroke-width="1.9"/>
<rect x="1167.3" y="674.5" width="8.6" height="8.6" fill="#3557a7"/>
<line x1="1196.5" y1="692.9" x2="1196.5" y2="706.3" stroke="#3557a7" stroke-width="1.9"/>
<line x1="1192.5" y1="692.9" x2="1200.5" y2="692.9" stroke="#3557a7" stroke-width="1.9"/>
<line x1="1192.5" y1="706.3" x2="1200.5" y2="706.3" stroke="#3557a7" stroke-width="1.9"/>
<rect x="1192.2" y="695.3" width="8.6" height="8.6" fill="#3557a7"/>
<line x1="1221.4" y1="700.6" x2="1221.4" y2="712.0" stroke="#3557a7" stroke-width="1.9"/>
<line x1="1217.4" y1="700.6" x2="1225.4" y2="700.6" stroke="#3557a7" stroke-width="1.9"/>
<line x1="1217.4" y1="712.0" x2="1225.4" y2="712.0" stroke="#3557a7" stroke-width="1.9"/>
<rect x="1217.1" y="702.0" width="8.6" height="8.6" fill="#3557a7"/>
<line x1="1246.3" y1="700.6" x2="1246.3" y2="712.0" stroke="#3557a7" stroke-width="1.9"/>
<line x1="1242.3" y1="700.6" x2="1250.3" y2="700.6" stroke="#3557a7" stroke-width="1.9"/>
<line x1="1242.3" y1="712.0" x2="1250.3" y2="712.0" stroke="#3557a7" stroke-width="1.9"/>
<rect x="1242.0" y="702.0" width="8.6" height="8.6" fill="#3557a7"/>
<line x1="1271.2" y1="698.3" x2="1271.2" y2="711.6" stroke="#3557a7" stroke-width="1.9"/>
<line x1="1267.2" y1="698.3" x2="1275.2" y2="698.3" stroke="#3557a7" stroke-width="1.9"/>
<line x1="1267.2" y1="711.6" x2="1275.2" y2="711.6" stroke="#3557a7" stroke-width="1.9"/>
<rect x="1266.9" y="700.6" width="8.6" height="8.6" fill="#3557a7"/>
<line x1="1296.1" y1="696.2" x2="1296.1" y2="707.6" stroke="#3557a7" stroke-width="1.9"/>
<line x1="1292.1" y1="696.2" x2="1300.1" y2="696.2" stroke="#3557a7" stroke-width="1.9"/>
<line x1="1292.1" y1="707.6" x2="1300.1" y2="707.6" stroke="#3557a7" stroke-width="1.9"/>
<rect x="1291.8" y="697.6" width="8.6" height="8.6" fill="#3557a7"/>
<rect x="1042.7" y="544.6" width="8.6" height="8.6" fill="#6347a5"/>
<line x1="1071.9" y1="585.2" x2="1071.9" y2="599.3" stroke="#6347a5" stroke-width="1.9"/>
<line x1="1067.9" y1="585.2" x2="1075.9" y2="585.2" stroke="#6347a5" stroke-width="1.9"/>
<line x1="1067.9" y1="599.3" x2="1075.9" y2="599.3" stroke="#6347a5" stroke-width="1.9"/>
<rect x="1067.6" y="588.0" width="8.6" height="8.6" fill="#6347a5"/>
<line x1="1096.8" y1="605.1" x2="1096.8" y2="624.2" stroke="#6347a5" stroke-width="1.9"/>
<line x1="1092.8" y1="605.1" x2="1100.8" y2="605.1" stroke="#6347a5" stroke-width="1.9"/>
<line x1="1092.8" y1="624.2" x2="1100.8" y2="624.2" stroke="#6347a5" stroke-width="1.9"/>
<rect x="1092.5" y="610.3" width="8.6" height="8.6" fill="#6347a5"/>
<line x1="1121.8" y1="621.5" x2="1121.8" y2="640.6" stroke="#6347a5" stroke-width="1.9"/>
<line x1="1117.8" y1="621.5" x2="1125.8" y2="621.5" stroke="#6347a5" stroke-width="1.9"/>
<line x1="1117.8" y1="640.6" x2="1125.8" y2="640.6" stroke="#6347a5" stroke-width="1.9"/>
<rect x="1117.5" y="626.7" width="8.6" height="8.6" fill="#6347a5"/>
<line x1="1146.7" y1="635.2" x2="1146.7" y2="650.5" stroke="#6347a5" stroke-width="1.9"/>
<line x1="1142.7" y1="635.2" x2="1150.7" y2="635.2" stroke="#6347a5" stroke-width="1.9"/>
<line x1="1142.7" y1="650.5" x2="1150.7" y2="650.5" stroke="#6347a5" stroke-width="1.9"/>
<rect x="1142.4" y="638.6" width="8.6" height="8.6" fill="#6347a5"/>
<line x1="1171.6" y1="641.9" x2="1171.6" y2="657.2" stroke="#6347a5" stroke-width="1.9"/>
<line x1="1167.6" y1="641.9" x2="1175.6" y2="641.9" stroke="#6347a5" stroke-width="1.9"/>
<line x1="1167.6" y1="657.2" x2="1175.6" y2="657.2" stroke="#6347a5" stroke-width="1.9"/>
<rect x="1167.3" y="645.3" width="8.6" height="8.6" fill="#6347a5"/>
<line x1="1196.5" y1="647.6" x2="1196.5" y2="664.8" stroke="#6347a5" stroke-width="1.9"/>
<line x1="1192.5" y1="647.6" x2="1200.5" y2="647.6" stroke="#6347a5" stroke-width="1.9"/>
<line x1="1192.5" y1="664.8" x2="1200.5" y2="664.8" stroke="#6347a5" stroke-width="1.9"/>
<rect x="1192.2" y="651.9" width="8.6" height="8.6" fill="#6347a5"/>
<line x1="1221.4" y1="653.0" x2="1221.4" y2="670.2" stroke="#6347a5" stroke-width="1.9"/>
<line x1="1217.4" y1="653.0" x2="1225.4" y2="653.0" stroke="#6347a5" stroke-width="1.9"/>
<line x1="1217.4" y1="670.2" x2="1225.4" y2="670.2" stroke="#6347a5" stroke-width="1.9"/>
<rect x="1217.1" y="657.3" width="8.6" height="8.6" fill="#6347a5"/>
<line x1="1246.3" y1="654.5" x2="1246.3" y2="671.7" stroke="#6347a5" stroke-width="1.9"/>
<line x1="1242.3" y1="654.5" x2="1250.3" y2="654.5" stroke="#6347a5" stroke-width="1.9"/>
<line x1="1242.3" y1="671.7" x2="1250.3" y2="671.7" stroke="#6347a5" stroke-width="1.9"/>
<rect x="1242.0" y="658.8" width="8.6" height="8.6" fill="#6347a5"/>
<line x1="1271.2" y1="653.9" x2="1271.2" y2="669.2" stroke="#6347a5" stroke-width="1.9"/>
<line x1="1267.2" y1="653.9" x2="1275.2" y2="653.9" stroke="#6347a5" stroke-width="1.9"/>
<line x1="1267.2" y1="669.2" x2="1275.2" y2="669.2" stroke="#6347a5" stroke-width="1.9"/>
<rect x="1266.9" y="657.3" width="8.6" height="8.6" fill="#6347a5"/>
<line x1="1296.1" y1="643.8" x2="1296.1" y2="662.9" stroke="#6347a5" stroke-width="1.9"/>
<line x1="1292.1" y1="643.8" x2="1300.1" y2="643.8" stroke="#6347a5" stroke-width="1.9"/>
<line x1="1292.1" y1="662.9" x2="1300.1" y2="662.9" stroke="#6347a5" stroke-width="1.9"/>
<rect x="1291.8" y="649.1" width="8.6" height="8.6" fill="#6347a5"/>
<rect x="1042.7" y="544.6" width="8.6" height="8.6" fill="#b448b0"/>
<rect x="1067.6" y="544.6" width="8.6" height="8.6" fill="#b448b0"/>
<rect x="1092.5" y="544.6" width="8.6" height="8.6" fill="#b448b0"/>
<line x1="1121.8" y1="582.7" x2="1121.8" y2="594.2" stroke="#b448b0" stroke-width="1.9"/>
<line x1="1117.8" y1="582.7" x2="1125.8" y2="582.7" stroke="#b448b0" stroke-width="1.9"/>
<line x1="1117.8" y1="594.2" x2="1125.8" y2="594.2" stroke="#b448b0" stroke-width="1.9"/>
<rect x="1117.5" y="584.1" width="8.6" height="8.6" fill="#b448b0"/>
<line x1="1146.7" y1="617.7" x2="1146.7" y2="632.9" stroke="#b448b0" stroke-width="1.9"/>
<line x1="1142.7" y1="617.7" x2="1150.7" y2="617.7" stroke="#b448b0" stroke-width="1.9"/>
<line x1="1142.7" y1="632.9" x2="1150.7" y2="632.9" stroke="#b448b0" stroke-width="1.9"/>
<rect x="1142.4" y="621.0" width="8.6" height="8.6" fill="#b448b0"/>
<line x1="1171.6" y1="666.2" x2="1171.6" y2="677.6" stroke="#b448b0" stroke-width="1.9"/>
<line x1="1167.6" y1="666.2" x2="1175.6" y2="666.2" stroke="#b448b0" stroke-width="1.9"/>
<line x1="1167.6" y1="677.6" x2="1175.6" y2="677.6" stroke="#b448b0" stroke-width="1.9"/>
<rect x="1167.3" y="667.6" width="8.6" height="8.6" fill="#b448b0"/>
<line x1="1196.5" y1="706.1" x2="1196.5" y2="713.7" stroke="#b448b0" stroke-width="1.9"/>
<line x1="1192.5" y1="706.1" x2="1200.5" y2="706.1" stroke="#b448b0" stroke-width="1.9"/>
<line x1="1192.5" y1="713.7" x2="1200.5" y2="713.7" stroke="#b448b0" stroke-width="1.9"/>
<rect x="1192.2" y="705.6" width="8.6" height="8.6" fill="#b448b0"/>
<rect x="1042.7" y="546.1" width="8.6" height="8.6" fill="#000000"/>
<line x1="1071.9" y1="550.6" x2="1071.9" y2="556.3" stroke="#000000" stroke-width="1.9"/>
<line x1="1067.9" y1="550.6" x2="1075.9" y2="550.6" stroke="#000000" stroke-width="1.9"/>
<line x1="1067.9" y1="556.3" x2="1075.9" y2="556.3" stroke="#000000" stroke-width="1.9"/>
<rect x="1067.6" y="549.2" width="8.6" height="8.6" fill="#000000"/>
<line x1="1096.8" y1="553.3" x2="1096.8" y2="560.9" stroke="#000000" stroke-width="1.9"/>
<line x1="1092.8" y1="553.3" x2="1100.8" y2="553.3" stroke="#000000" stroke-width="1.9"/>
<line x1="1092.8" y1="560.9" x2="1100.8" y2="560.9" stroke="#000000" stroke-width="1.9"/>
<rect x="1092.5" y="552.8" width="8.6" height="8.6" fill="#000000"/>
<line x1="1121.8" y1="574.9" x2="1121.8" y2="582.5" stroke="#000000" stroke-width="1.9"/>
<line x1="1117.8" y1="574.9" x2="1125.8" y2="574.9" stroke="#000000" stroke-width="1.9"/>
<line x1="1117.8" y1="582.5" x2="1125.8" y2="582.5" stroke="#000000" stroke-width="1.9"/>
<rect x="1117.5" y="574.4" width="8.6" height="8.6" fill="#000000"/>
<line x1="1146.7" y1="621.5" x2="1146.7" y2="632.9" stroke="#000000" stroke-width="1.9"/>
<line x1="1142.7" y1="621.5" x2="1150.7" y2="621.5" stroke="#000000" stroke-width="1.9"/>
<line x1="1142.7" y1="632.9" x2="1150.7" y2="632.9" stroke="#000000" stroke-width="1.9"/>
<rect x="1142.4" y="622.9" width="8.6" height="8.6" fill="#000000"/>
<line x1="1171.6" y1="693.1" x2="1171.6" y2="704.6" stroke="#000000" stroke-width="1.9"/>
<line x1="1167.6" y1="693.1" x2="1175.6" y2="693.1" stroke="#000000" stroke-width="1.9"/>
<line x1="1167.6" y1="704.6" x2="1175.6" y2="704.6" stroke="#000000" stroke-width="1.9"/>
<rect x="1167.3" y="694.5" width="8.6" height="8.6" fill="#000000"/>
<rect x="1192.2" y="729.9" width="8.6" height="8.6" fill="#000000"/>
<rect x="1217.1" y="735.6" width="8.6" height="8.6" fill="#000000"/>
<rect x="1242.0" y="735.6" width="8.6" height="8.6" fill="#000000"/>
<rect x="1266.9" y="735.6" width="8.6" height="8.6" fill="#000000"/>
<rect x="1291.8" y="735.6" width="8.6" height="8.6" fill="#000000"/>
<rect x="1042.7" y="726.6" width="8.6" height="8.6" fill="#7b8b39"/>
<rect x="1067.6" y="731.0" width="8.6" height="8.6" fill="#7b8b39"/>
<rect x="1092.5" y="732.7" width="8.6" height="8.6" fill="#7b8b39"/>
<rect x="1117.5" y="733.7" width="8.6" height="8.6" fill="#7b8b39"/>
<rect x="1142.4" y="734.1" width="8.6" height="8.6" fill="#7b8b39"/>
<rect x="1167.3" y="734.5" width="8.6" height="8.6" fill="#7b8b39"/>
<rect x="1192.2" y="734.5" width="8.6" height="8.6" fill="#7b8b39"/>
<rect x="1217.1" y="734.6" width="8.6" height="8.6" fill="#7b8b39"/>
<rect x="1242.0" y="734.6" width="8.6" height="8.6" fill="#7b8b39"/>
<rect x="1266.9" y="734.6" width="8.6" height="8.6" fill="#7b8b39"/>
<rect x="1291.8" y="734.6" width="8.6" height="8.6" fill="#7b8b39"/>
<rect x="1042.7" y="717.6" width="8.6" height="8.6" fill="#82d6da"/>
<rect x="1067.6" y="724.3" width="8.6" height="8.6" fill="#82d6da"/>
<rect x="1092.5" y="726.6" width="8.6" height="8.6" fill="#82d6da"/>
<rect x="1117.5" y="728.0" width="8.6" height="8.6" fill="#82d6da"/>
<rect x="1142.4" y="728.2" width="8.6" height="8.6" fill="#82d6da"/>
<rect x="1167.3" y="728.5" width="8.6" height="8.6" fill="#82d6da"/>
<rect x="1192.2" y="728.9" width="8.6" height="8.6" fill="#82d6da"/>
<rect x="1217.1" y="727.4" width="8.6" height="8.6" fill="#82d6da"/>
<rect x="1242.0" y="728.9" width="8.6" height="8.6" fill="#82d6da"/>
<rect x="1266.9" y="728.9" width="8.6" height="8.6" fill="#82d6da"/>
<rect x="1291.8" y="728.5" width="8.6" height="8.6" fill="#82d6da"/>
<polyline points="1047.0,547.8 1048.3,547.8 1049.5,547.9 1050.8,548.0 1052.0,548.0 1053.2,548.1 1054.5,548.2 1055.7,548.2 1057.0,548.3 1058.2,548.4 1059.5,548.5 1060.7,548.6 1062.0,548.7 1063.2,548.8 1064.5,548.9 1065.7,549.0 1066.9,549.2 1068.2,549.3 1069.4,549.4 1070.7,549.6 1071.9,549.7 1073.2,549.9 1074.4,550.1 1075.7,550.3 1076.9,550.4 1078.2,550.7 1079.4,550.9 1080.6,551.1 1081.9,551.3 1083.1,551.6 1084.4,551.9 1085.6,552.1 1086.9,552.5 1088.1,552.8 1089.4,553.1 1090.6,553.5 1091.9,553.9 1093.1,554.3 1094.3,554.7 1095.6,555.2 1096.8,555.7 1098.1,556.2 1099.3,556.8 1100.6,557.5 1101.8,558.2 1103.1,559.0 1104.3,559.8 1105.6,560.8 1106.8,561.9 1108.0,563.1 1109.3,564.5 1110.5,566.0 1111.8,567.7 1113.0,569.6 1114.3,571.7 1115.5,574.1 1116.8,576.6 1118.0,579.2 1119.3,582.0 1120.5,584.8 1121.8,587.6 1123.0,590.4 1124.2,593.1 1125.5,595.7 1126.7,598.1 1128.0,600.4 1129.2,602.7 1130.5,604.8 1131.7,606.9 1133.0,608.9 1134.2,610.8 1135.5,612.7 1136.7,614.6 1137.9,616.6 1139.2,618.5 1140.4,620.4 1141.7,622.3 1142.9,624.3 1144.2,626.3 1145.4,628.3 1146.7,630.4 1147.9,632.5 1149.2,634.6 1150.4,636.7 1151.6,638.9 1152.9,641.1 1154.1,643.3 1155.4,645.5 1156.6,647.7 1157.9,649.9 1159.1,652.2 1160.4,654.4 1161.6,656.7 1162.9,658.9 1164.1,661.2 1165.3,663.4 1166.6,665.6 1167.8,667.8 1169.1,670.0 1170.3,672.2 1171.6,674.3 1172.8,676.4 1174.1,678.5 1175.3,680.5 1176.6,682.6 1177.8,684.5 1179.0,686.5 1180.3,688.3 1181.5,690.2 1182.8,692.0 1184.0,693.7 1185.3,695.5 1186.5,697.1 1187.8,698.7 1189.0,700.3 1190.3,701.8 1191.5,703.3 1192.7,704.7 1194.0,706.1 1195.2,707.4 1196.5,708.7 1197.7,709.9 1199.0,711.1 1200.2,712.2 1201.5,713.3 1202.7,714.4 1204.0,715.4 1205.2,716.3 1206.4,717.3 1207.7,718.2 1208.9,719.0 1210.2,719.8 1211.4,720.6 1212.7,721.3 1213.9,722.0 1215.2,722.7 1216.4,723.4 1217.7,724.0 1218.9,724.6 1220.1,725.1 1221.4,725.6 1222.6,726.2 1223.9,726.6 1225.1,727.1 1226.4,727.5 1227.6,727.9 1228.9,728.3 1230.1,728.7 1231.4,729.1 1232.6,729.4 1233.8,729.7 1235.1,730.0 1236.3,730.3 1237.6,730.6 1238.8,730.9 1240.1,731.1 1241.3,731.3 1242.6,731.6 1243.8,731.8 1245.1,732.0 1246.3,732.2 1247.5,732.3 1248.8,732.5 1250.0,732.7 1251.3,732.8 1252.5,733.0 1253.8,733.1 1255.0,733.2 1256.3,733.4 1257.5,733.5 1258.8,733.6 1260.0,733.7 1261.2,733.8 1262.5,733.9 1263.7,734.0 1265.0,734.0 1266.2,734.1 1267.5,734.2 1268.7,734.3 1270.0,734.3 1271.2,734.4 1272.5,734.5 1273.7,734.5 1274.9,734.6 1276.2,734.6 1277.4,734.7 1278.7,734.7 1279.9,734.8 1281.2,734.8 1282.4,734.8 1283.7,734.9 1284.9,734.9 1286.2,734.9 1287.4,735.0 1288.6,735.0 1289.9,735.0 1291.1,735.1 1292.4,735.1 1293.6,735.1 1294.9,735.1 1296.1,735.2 1297.4,735.2 1298.6,735.2 1299.9,735.2 1301.1,735.2 1302.3,735.2 1303.6,735.3 1304.8,735.3 1306.1,735.3 1307.3,735.3 1308.6,735.3 1309.8,735.3 1311.1,735.3 1312.3,735.3 1313.6,735.3 1314.8,735.4" fill="none" stroke="#b448b0" stroke-width="2.2" stroke-linejoin="round"/>
<polyline points="1047.0,550.4 1048.3,550.4 1049.5,550.5 1050.8,550.5 1052.0,550.5 1053.2,550.6 1054.5,550.6 1055.7,550.7 1057.0,550.7 1058.2,550.8 1059.5,550.9 1060.7,550.9 1062.0,551.0 1063.2,551.1 1064.5,551.2 1065.7,551.3 1066.9,551.4 1068.2,551.5 1069.4,551.6 1070.7,551.7 1071.9,551.9 1073.2,552.0 1074.4,552.1 1075.7,552.3 1076.9,552.5 1078.2,552.7 1079.4,552.9 1080.6,553.1 1081.9,553.3 1083.1,553.6 1084.4,553.8 1085.6,554.1 1086.9,554.4 1088.1,554.7 1089.4,555.1 1090.6,555.5 1091.9,555.9 1093.1,556.3 1094.3,556.7 1095.6,557.2 1096.8,557.7 1098.1,558.3 1099.3,558.9 1100.6,559.5 1101.8,560.2 1103.1,560.9 1104.3,561.6 1105.6,562.4 1106.8,563.3 1108.0,564.2 1109.3,565.2 1110.5,566.2 1111.8,567.3 1113.0,568.4 1114.3,569.6 1115.5,570.9 1116.8,572.2 1118.0,573.7 1119.3,575.2 1120.5,576.7 1121.8,578.4 1123.0,580.1 1124.2,581.9 1125.5,583.8 1126.7,585.8 1128.0,587.9 1129.2,590.0 1130.5,592.3 1131.7,594.6 1133.0,597.0 1134.2,599.4 1135.5,602.0 1136.7,604.6 1137.9,607.3 1139.2,610.1 1140.4,612.9 1141.7,615.7 1142.9,618.7 1144.2,621.7 1145.4,624.7 1146.7,627.8 1147.9,630.9 1149.2,634.1 1150.4,637.3 1151.6,640.5 1152.9,643.8 1154.1,647.2 1155.4,650.6 1156.6,654.1 1157.9,657.7 1159.1,661.3 1160.4,665.0 1161.6,668.8 1162.9,672.7 1164.1,676.6 1165.3,680.5 1166.6,684.3 1167.8,688.1 1169.1,691.7 1170.3,695.1 1171.6,698.3 1172.8,701.4 1174.1,704.1 1175.3,706.7 1176.6,709.1 1177.8,711.3 1179.0,713.3 1180.3,715.2 1181.5,716.9 1182.8,718.5 1184.0,719.9 1185.3,721.3 1186.5,722.6 1187.8,723.7 1189.0,724.9 1190.3,725.9 1191.5,726.9 1192.7,727.8 1194.0,728.6 1195.2,729.4 1196.5,730.1 1197.7,730.8 1199.0,731.5 1200.2,732.1 1201.5,732.7 1202.7,733.2 1204.0,733.7 1205.2,734.1 1206.4,734.6 1207.7,735.0 1208.9,735.4 1210.2,735.7 1211.4,736.1 1212.7,736.4 1213.9,736.7 1215.2,736.9 1216.4,737.2 1217.7,737.4 1218.9,737.6 1220.1,737.8 1221.4,738.0 1222.6,738.2 1223.9,738.4 1225.1,738.5 1226.4,738.7 1227.6,738.8 1228.9,738.9 1230.1,739.1 1231.4,739.2 1232.6,739.3 1233.8,739.4 1235.1,739.5 1236.3,739.5 1237.6,739.6 1238.8,739.7 1240.1,739.8 1241.3,739.8 1242.6,739.9 1243.8,739.9 1245.1,740.0 1246.3,740.0 1247.5,740.1 1248.8,740.1 1250.0,740.2 1251.3,740.2 1252.5,740.2 1253.8,740.3 1255.0,740.3 1256.3,740.3 1257.5,740.3 1258.8,740.4 1260.0,740.4 1261.2,740.4 1262.5,740.4 1263.7,740.4 1265.0,740.4 1266.2,740.5 1267.5,740.5 1268.7,740.5 1270.0,740.5 1271.2,740.5 1272.5,740.5 1273.7,740.5 1274.9,740.5 1276.2,740.6 1277.4,740.6 1278.7,740.6 1279.9,740.6 1281.2,740.6 1282.4,740.6 1283.7,740.6 1284.9,740.6 1286.2,740.6 1287.4,740.6 1288.6,740.6 1289.9,740.6 1291.1,740.6 1292.4,740.6 1293.6,740.6 1294.9,740.6 1296.1,740.6 1297.4,740.6 1298.6,740.6 1299.9,740.6 1301.1,740.6 1302.3,740.6 1303.6,740.6 1304.8,740.6 1306.1,740.6 1307.3,740.6 1308.6,740.6 1309.8,740.6 1311.1,740.6 1312.3,740.7 1313.6,740.7 1314.8,740.7" fill="none" stroke="#000000" stroke-width="2.2" stroke-linejoin="round"/>
<rect x="1334.3" y="536.1" width="9.3" height="9.3" fill="#000000"/>
<text x="1352.8" y="547.5" font-size="21.30" fill="#000">WT</text>
<rect x="1334.3" y="558.9" width="9.3" height="9.3" fill="#e73c96"/>
<text x="1351.2" y="570.3" font-size="21.30" fill="#000">F459Y</text>
<rect x="1334.3" y="581.7" width="9.3" height="9.3" fill="#e87d2c"/>
<text x="1351.2" y="593.1" font-size="21.30" fill="#000">F459C</text>
<rect x="1334.3" y="604.5" width="9.3" height="9.3" fill="#6347a5"/>
<text x="1351.2" y="616.0" font-size="21.30" fill="#000">F459M</text>
<rect x="1334.3" y="627.3" width="9.3" height="9.3" fill="#82d6da"/>
<text x="1351.2" y="638.8" font-size="21.30" fill="#000">F459E</text>
<rect x="1334.3" y="650.2" width="9.3" height="9.3" fill="#2b8c47"/>
<text x="1351.2" y="661.6" font-size="21.30" fill="#000">F459A</text>
<rect x="1334.3" y="673.0" width="9.3" height="9.3" fill="#3557a7"/>
<text x="1351.2" y="684.4" font-size="21.30" fill="#000">F459L</text>
<rect x="1334.3" y="695.8" width="9.3" height="9.3" fill="#828282"/>
<text x="1351.2" y="707.2" font-size="21.30" fill="#000">F459Q</text>
<rect x="1334.3" y="718.6" width="9.3" height="9.3" fill="#b448b0"/>
<text x="1351.2" y="730.1" font-size="21.30" fill="#000">F459V</text>
<rect x="1334.3" y="741.4" width="9.3" height="9.3" fill="#7b8b39"/>
<text x="1351.2" y="752.9" font-size="21.30" fill="#000">F459W</text>
<text x="4.6" y="892.6" font-size="33.00" fill="#000" font-weight="bold">e</text>
<text x="196.9" y="896.3" font-size="29.37" fill="#000">F459</text>
<line x1="92.3" y1="928.4" x2="92.3" y2="1156.6" stroke="#000" stroke-width="2.1"/>
<line x1="91.3" y1="1155.6" x2="371.9" y2="1155.6" stroke="#000" stroke-width="2.1"/>
<line x1="86.8" y1="1136.6" x2="92.3" y2="1136.6" stroke="#000" stroke-width="2"/>
<line x1="86.8" y1="1041.8" x2="92.3" y2="1041.8" stroke="#000" stroke-width="2"/>
<line x1="86.8" y1="947.0" x2="92.3" y2="947.0" stroke="#000" stroke-width="2"/>
<line x1="117.2" y1="1155.6" x2="117.2" y2="1161.1" stroke="#000" stroke-width="2"/>
<line x1="179.6" y1="1155.6" x2="179.6" y2="1161.1" stroke="#000" stroke-width="2"/>
<line x1="241.9" y1="1155.6" x2="241.9" y2="1161.1" stroke="#000" stroke-width="2"/>
<line x1="304.2" y1="1155.6" x2="304.2" y2="1161.1" stroke="#000" stroke-width="2"/>
<line x1="366.5" y1="1155.6" x2="366.5" y2="1161.1" stroke="#000" stroke-width="2"/>
<text x="43.8" y="953.3" font-size="24.53" fill="#000">1.0</text>
<text x="44.6" y="1048.1" font-size="23.97" fill="#000">0.5</text>
<text x="44.6" y="1142.9" font-size="23.88" fill="#000">0.0</text>
<text x="89.8" y="1190.3" font-size="24.95" fill="#000">-150</text>
<text x="151.9" y="1190.3" font-size="24.95" fill="#000">-100</text>
<text x="221.6" y="1190.3" font-size="24.76" fill="#000">-50</text>
<text x="295.3" y="1190.3" font-size="25.00" fill="#000">0</text>
<text x="351.3" y="1190.3" font-size="24.25" fill="#000">50</text>
<text x="167.0" y="1227.3" font-size="24.71" fill="#000">Voltage (mV)</text>
<text transform="translate(27.0,1118.0) rotate(-90)" font-size="24.82"><tspan fill="#000">Normalized </tspan><tspan fill="#e6262b">F</tspan></text>
<circle cx="104.8" cy="1127.5" r="5.3" fill="#7b8b39"/>
<circle cx="129.7" cy="1130.9" r="5.3" fill="#7b8b39"/>
<circle cx="154.6" cy="1131.3" r="5.3" fill="#7b8b39"/>
<circle cx="179.6" cy="1132.0" r="5.3" fill="#7b8b39"/>
<circle cx="204.5" cy="1132.4" r="5.3" fill="#7b8b39"/>
<circle cx="229.4" cy="1132.4" r="5.3" fill="#7b8b39"/>
<circle cx="254.3" cy="1132.4" r="5.3" fill="#7b8b39"/>
<circle cx="279.3" cy="1132.4" r="5.3" fill="#7b8b39"/>
<circle cx="304.2" cy="1132.4" r="5.3" fill="#7b8b39"/>
<circle cx="329.1" cy="1132.4" r="5.3" fill="#7b8b39"/>
<circle cx="354.1" cy="1132.4" r="5.3" fill="#7b8b39"/>
<circle cx="104.8" cy="1138.1" r="5.3" fill="#82d6da"/>
<circle cx="129.7" cy="1138.1" r="5.3" fill="#82d6da"/>
<circle cx="154.6" cy="1138.1" r="5.3" fill="#82d6da"/>
<circle cx="179.6" cy="1138.1" r="5.3" fill="#82d6da"/>
<circle cx="204.5" cy="1138.1" r="5.3" fill="#82d6da"/>
<circle cx="229.4" cy="1138.1" r="5.3" fill="#82d6da"/>
<circle cx="254.3" cy="1138.1" r="5.3" fill="#82d6da"/>
<circle cx="279.3" cy="1138.1" r="5.3" fill="#82d6da"/>
<circle cx="304.2" cy="1138.1" r="5.3" fill="#82d6da"/>
<circle cx="329.1" cy="1138.1" r="5.3" fill="#82d6da"/>
<circle cx="354.1" cy="1138.1" r="5.3" fill="#82d6da"/>
<circle cx="104.8" cy="956.5" r="5.3" fill="#828282"/>
<line x1="129.7" y1="954.6" x2="129.7" y2="966.0" stroke="#828282" stroke-width="1.9"/>
<line x1="125.7" y1="954.6" x2="133.7" y2="954.6" stroke="#828282" stroke-width="1.9"/>
<line x1="125.7" y1="966.0" x2="133.7" y2="966.0" stroke="#828282" stroke-width="1.9"/>
<circle cx="129.7" cy="960.3" r="5.3" fill="#828282"/>
<line x1="154.6" y1="960.1" x2="154.6" y2="975.3" stroke="#828282" stroke-width="1.9"/>
<line x1="150.6" y1="960.1" x2="158.6" y2="960.1" stroke="#828282" stroke-width="1.9"/>
<line x1="150.6" y1="975.3" x2="158.6" y2="975.3" stroke="#828282" stroke-width="1.9"/>
<circle cx="154.6" cy="967.7" r="5.3" fill="#828282"/>
<line x1="179.6" y1="966.3" x2="179.6" y2="977.7" stroke="#828282" stroke-width="1.9"/>
<line x1="175.6" y1="966.3" x2="183.6" y2="966.3" stroke="#828282" stroke-width="1.9"/>
<line x1="175.6" y1="977.7" x2="183.6" y2="977.7" stroke="#828282" stroke-width="1.9"/>
<circle cx="179.6" cy="972.0" r="5.3" fill="#828282"/>
<line x1="204.5" y1="969.2" x2="204.5" y2="991.9" stroke="#828282" stroke-width="1.9"/>
<line x1="200.5" y1="969.2" x2="208.5" y2="969.2" stroke="#828282" stroke-width="1.9"/>
<line x1="200.5" y1="991.9" x2="208.5" y2="991.9" stroke="#828282" stroke-width="1.9"/>
<circle cx="204.5" cy="980.6" r="5.3" fill="#828282"/>
<circle cx="229.4" cy="998.2" r="5.3" fill="#828282"/>
<line x1="254.3" y1="1017.7" x2="254.3" y2="1029.1" stroke="#828282" stroke-width="1.9"/>
<line x1="250.3" y1="1017.7" x2="258.3" y2="1017.7" stroke="#828282" stroke-width="1.9"/>
<line x1="250.3" y1="1029.1" x2="258.3" y2="1029.1" stroke="#828282" stroke-width="1.9"/>
<circle cx="254.3" cy="1023.4" r="5.3" fill="#828282"/>
<line x1="279.3" y1="1053.2" x2="279.3" y2="1072.1" stroke="#828282" stroke-width="1.9"/>
<line x1="275.3" y1="1053.2" x2="283.3" y2="1053.2" stroke="#828282" stroke-width="1.9"/>
<line x1="275.3" y1="1072.1" x2="283.3" y2="1072.1" stroke="#828282" stroke-width="1.9"/>
<circle cx="279.3" cy="1062.7" r="5.3" fill="#828282"/>
<circle cx="304.2" cy="1098.7" r="5.3" fill="#828282"/>
<circle cx="329.1" cy="1117.6" r="5.3" fill="#828282"/>
<circle cx="354.1" cy="1127.1" r="5.3" fill="#828282"/>
<circle cx="104.8" cy="963.5" r="5.3" fill="#2b8c47"/>
<circle cx="129.7" cy="952.7" r="5.3" fill="#2b8c47"/>
<circle cx="154.6" cy="954.6" r="5.3" fill="#2b8c47"/>
<circle cx="179.6" cy="954.6" r="5.3" fill="#2b8c47"/>
<circle cx="204.5" cy="971.6" r="5.3" fill="#2b8c47"/>
<circle cx="229.4" cy="991.2" r="5.3" fill="#2b8c47"/>
<line x1="254.3" y1="1032.7" x2="254.3" y2="1044.1" stroke="#2b8c47" stroke-width="1.9"/>
<line x1="250.3" y1="1032.7" x2="258.3" y2="1032.7" stroke="#2b8c47" stroke-width="1.9"/>
<line x1="250.3" y1="1044.1" x2="258.3" y2="1044.1" stroke="#2b8c47" stroke-width="1.9"/>
<circle cx="254.3" cy="1038.4" r="5.3" fill="#2b8c47"/>
<circle cx="279.3" cy="1085.4" r="5.3" fill="#2b8c47"/>
<circle cx="304.2" cy="1113.8" r="5.3" fill="#2b8c47"/>
<circle cx="329.1" cy="1125.2" r="5.3" fill="#2b8c47"/>
<circle cx="354.1" cy="1130.9" r="5.3" fill="#2b8c47"/>
<circle cx="104.8" cy="948.9" r="5.3" fill="#e87d2c"/>
<circle cx="129.7" cy="948.9" r="5.3" fill="#e87d2c"/>
<circle cx="154.6" cy="950.8" r="5.3" fill="#e87d2c"/>
<circle cx="179.6" cy="952.7" r="5.3" fill="#e87d2c"/>
<circle cx="204.5" cy="977.3" r="5.3" fill="#e87d2c"/>
<circle cx="229.4" cy="1000.1" r="5.3" fill="#e87d2c"/>
<line x1="254.3" y1="1038.2" x2="254.3" y2="1047.7" stroke="#e87d2c" stroke-width="1.9"/>
<line x1="250.3" y1="1038.2" x2="258.3" y2="1038.2" stroke="#e87d2c" stroke-width="1.9"/>
<line x1="250.3" y1="1047.7" x2="258.3" y2="1047.7" stroke="#e87d2c" stroke-width="1.9"/>
<circle cx="254.3" cy="1042.9" r="5.3" fill="#e87d2c"/>
<line x1="279.3" y1="1076.9" x2="279.3" y2="1088.3" stroke="#e87d2c" stroke-width="1.9"/>
<line x1="275.3" y1="1076.9" x2="283.3" y2="1076.9" stroke="#e87d2c" stroke-width="1.9"/>
<line x1="275.3" y1="1088.3" x2="283.3" y2="1088.3" stroke="#e87d2c" stroke-width="1.9"/>
<circle cx="279.3" cy="1082.6" r="5.3" fill="#e87d2c"/>
<line x1="304.2" y1="1099.2" x2="304.2" y2="1106.8" stroke="#e87d2c" stroke-width="1.9"/>
<line x1="300.2" y1="1099.2" x2="308.2" y2="1099.2" stroke="#e87d2c" stroke-width="1.9"/>
<line x1="300.2" y1="1106.8" x2="308.2" y2="1106.8" stroke="#e87d2c" stroke-width="1.9"/>
<circle cx="304.2" cy="1103.0" r="5.3" fill="#e87d2c"/>
<circle cx="329.1" cy="1113.8" r="5.3" fill="#e87d2c"/>
<line x1="354.1" y1="1113.8" x2="354.1" y2="1121.4" stroke="#e87d2c" stroke-width="1.9"/>
<line x1="350.1" y1="1113.8" x2="358.1" y2="1113.8" stroke="#e87d2c" stroke-width="1.9"/>
<line x1="350.1" y1="1121.4" x2="358.1" y2="1121.4" stroke="#e87d2c" stroke-width="1.9"/>
<circle cx="354.1" cy="1117.6" r="5.3" fill="#e87d2c"/>
<circle cx="104.8" cy="947.0" r="5.3" fill="#e73c96"/>
<circle cx="129.7" cy="947.0" r="5.3" fill="#e73c96"/>
<circle cx="154.6" cy="943.2" r="5.3" fill="#e73c96"/>
<circle cx="179.6" cy="947.0" r="5.3" fill="#e73c96"/>
<circle cx="204.5" cy="960.3" r="5.3" fill="#e73c96"/>
<circle cx="229.4" cy="1007.7" r="5.3" fill="#e73c96"/>
<line x1="254.3" y1="1066.6" x2="254.3" y2="1074.2" stroke="#e73c96" stroke-width="1.9"/>
<line x1="250.3" y1="1066.6" x2="258.3" y2="1066.6" stroke="#e73c96" stroke-width="1.9"/>
<line x1="250.3" y1="1074.2" x2="258.3" y2="1074.2" stroke="#e73c96" stroke-width="1.9"/>
<circle cx="254.3" cy="1070.4" r="5.3" fill="#e73c96"/>
<circle cx="279.3" cy="1098.7" r="5.3" fill="#e73c96"/>
<circle cx="304.2" cy="1119.5" r="5.3" fill="#e73c96"/>
<circle cx="329.1" cy="1125.2" r="5.3" fill="#e73c96"/>
<circle cx="354.1" cy="1129.0" r="5.3" fill="#e73c96"/>
<circle cx="104.8" cy="948.9" r="5.3" fill="#3557a7"/>
<circle cx="129.7" cy="947.0" r="5.3" fill="#3557a7"/>
<circle cx="154.6" cy="948.9" r="5.3" fill="#3557a7"/>
<circle cx="179.6" cy="948.9" r="5.3" fill="#3557a7"/>
<circle cx="204.5" cy="969.8" r="5.3" fill="#3557a7"/>
<circle cx="229.4" cy="1018.7" r="5.3" fill="#3557a7"/>
<circle cx="254.3" cy="1075.9" r="5.3" fill="#3557a7"/>
<circle cx="279.3" cy="1110.1" r="5.3" fill="#3557a7"/>
<circle cx="304.2" cy="1125.2" r="5.3" fill="#3557a7"/>
<circle cx="329.1" cy="1129.0" r="5.3" fill="#3557a7"/>
<circle cx="354.1" cy="1130.9" r="5.3" fill="#3557a7"/>
<circle cx="104.8" cy="947.0" r="5.3" fill="#000000"/>
<circle cx="129.7" cy="943.2" r="5.3" fill="#000000"/>
<circle cx="154.6" cy="943.2" r="5.3" fill="#000000"/>
<circle cx="179.6" cy="947.0" r="5.3" fill="#000000"/>
<circle cx="204.5" cy="971.6" r="5.3" fill="#000000"/>
<line x1="229.4" y1="1016.0" x2="229.4" y2="1031.9" stroke="#000000" stroke-width="1.9"/>
<line x1="225.4" y1="1016.0" x2="233.4" y2="1016.0" stroke="#000000" stroke-width="1.9"/>
<line x1="225.4" y1="1031.9" x2="233.4" y2="1031.9" stroke="#000000" stroke-width="1.9"/>
<circle cx="229.4" cy="1024.0" r="5.3" fill="#000000"/>
<line x1="254.3" y1="1077.3" x2="254.3" y2="1084.8" stroke="#000000" stroke-width="1.9"/>
<line x1="250.3" y1="1077.3" x2="258.3" y2="1077.3" stroke="#000000" stroke-width="1.9"/>
<line x1="250.3" y1="1084.8" x2="258.3" y2="1084.8" stroke="#000000" stroke-width="1.9"/>
<circle cx="254.3" cy="1081.0" r="5.3" fill="#000000"/>
<circle cx="279.3" cy="1110.1" r="5.3" fill="#000000"/>
<circle cx="304.2" cy="1120.7" r="5.3" fill="#000000"/>
<circle cx="329.1" cy="1128.4" r="5.3" fill="#000000"/>
<circle cx="354.1" cy="1130.9" r="5.3" fill="#000000"/>
<circle cx="104.8" cy="947.0" r="5.3" fill="#b448b0"/>
<circle cx="129.7" cy="947.0" r="5.3" fill="#b448b0"/>
<line x1="154.6" y1="929.2" x2="154.6" y2="940.6" stroke="#b448b0" stroke-width="1.9"/>
<line x1="150.6" y1="929.2" x2="158.6" y2="929.2" stroke="#b448b0" stroke-width="1.9"/>
<line x1="150.6" y1="940.6" x2="158.6" y2="940.6" stroke="#b448b0" stroke-width="1.9"/>
<circle cx="154.6" cy="934.9" r="5.3" fill="#b448b0"/>
<line x1="179.6" y1="929.9" x2="179.6" y2="941.3" stroke="#b448b0" stroke-width="1.9"/>
<line x1="175.6" y1="929.9" x2="183.6" y2="929.9" stroke="#b448b0" stroke-width="1.9"/>
<line x1="175.6" y1="941.3" x2="183.6" y2="941.3" stroke="#b448b0" stroke-width="1.9"/>
<circle cx="179.6" cy="935.6" r="5.3" fill="#b448b0"/>
<circle cx="204.5" cy="955.3" r="5.3" fill="#b448b0"/>
<circle cx="229.4" cy="1004.1" r="5.3" fill="#b448b0"/>
<line x1="254.3" y1="1052.4" x2="254.3" y2="1063.8" stroke="#b448b0" stroke-width="1.9"/>
<line x1="250.3" y1="1052.4" x2="258.3" y2="1052.4" stroke="#b448b0" stroke-width="1.9"/>
<line x1="250.3" y1="1063.8" x2="258.3" y2="1063.8" stroke="#b448b0" stroke-width="1.9"/>
<circle cx="254.3" cy="1058.1" r="5.3" fill="#b448b0"/>
<circle cx="279.3" cy="1095.5" r="5.3" fill="#b448b0"/>
<circle cx="304.2" cy="1112.3" r="5.3" fill="#b448b0"/>
<circle cx="329.1" cy="1121.4" r="5.3" fill="#b448b0"/>
<circle cx="354.1" cy="1127.1" r="5.3" fill="#b448b0"/>
<line x1="104.8" y1="957.0" x2="104.8" y2="988.9" stroke="#6347a5" stroke-width="1.9"/>
<line x1="100.8" y1="957.0" x2="108.8" y2="957.0" stroke="#6347a5" stroke-width="1.9"/>
<line x1="100.8" y1="988.9" x2="108.8" y2="988.9" stroke="#6347a5" stroke-width="1.9"/>
<circle cx="104.8" cy="973.0" r="5.3" fill="#6347a5"/>
<line x1="129.7" y1="938.8" x2="129.7" y2="976.8" stroke="#6347a5" stroke-width="1.9"/>
<line x1="125.7" y1="938.8" x2="133.7" y2="938.8" stroke="#6347a5" stroke-width="1.9"/>
<line x1="125.7" y1="976.8" x2="133.7" y2="976.8" stroke="#6347a5" stroke-width="1.9"/>
<circle cx="129.7" cy="957.8" r="5.3" fill="#6347a5"/>
<circle cx="154.6" cy="953.8" r="5.3" fill="#6347a5"/>
<circle cx="179.6" cy="950.0" r="5.3" fill="#6347a5"/>
<circle cx="204.5" cy="947.0" r="5.3" fill="#6347a5"/>
<line x1="229.4" y1="951.6" x2="229.4" y2="984.9" stroke="#6347a5" stroke-width="1.9"/>
<line x1="225.4" y1="951.6" x2="233.4" y2="951.6" stroke="#6347a5" stroke-width="1.9"/>
<line x1="225.4" y1="984.9" x2="233.4" y2="984.9" stroke="#6347a5" stroke-width="1.9"/>
<circle cx="229.4" cy="968.2" r="5.3" fill="#6347a5"/>
<line x1="254.3" y1="998.8" x2="254.3" y2="1021.5" stroke="#6347a5" stroke-width="1.9"/>
<line x1="250.3" y1="998.8" x2="258.3" y2="998.8" stroke="#6347a5" stroke-width="1.9"/>
<line x1="250.3" y1="1021.5" x2="258.3" y2="1021.5" stroke="#6347a5" stroke-width="1.9"/>
<circle cx="254.3" cy="1010.1" r="5.3" fill="#6347a5"/>
<line x1="279.3" y1="1046.0" x2="279.3" y2="1068.7" stroke="#6347a5" stroke-width="1.9"/>
<line x1="275.3" y1="1046.0" x2="283.3" y2="1046.0" stroke="#6347a5" stroke-width="1.9"/>
<line x1="275.3" y1="1068.7" x2="283.3" y2="1068.7" stroke="#6347a5" stroke-width="1.9"/>
<circle cx="279.3" cy="1057.3" r="5.3" fill="#6347a5"/>
<line x1="304.2" y1="1081.0" x2="304.2" y2="1096.2" stroke="#6347a5" stroke-width="1.9"/>
<line x1="300.2" y1="1081.0" x2="308.2" y2="1081.0" stroke="#6347a5" stroke-width="1.9"/>
<line x1="300.2" y1="1096.2" x2="308.2" y2="1096.2" stroke="#6347a5" stroke-width="1.9"/>
<circle cx="304.2" cy="1088.6" r="5.3" fill="#6347a5"/>
<circle cx="329.1" cy="1108.9" r="5.3" fill="#6347a5"/>
<line x1="354.1" y1="1116.1" x2="354.1" y2="1123.7" stroke="#6347a5" stroke-width="1.9"/>
<line x1="350.1" y1="1116.1" x2="358.1" y2="1116.1" stroke="#6347a5" stroke-width="1.9"/>
<line x1="350.1" y1="1123.7" x2="358.1" y2="1123.7" stroke="#6347a5" stroke-width="1.9"/>
<circle cx="354.1" cy="1119.9" r="5.3" fill="#6347a5"/>
<polyline points="104.8,954.6 106.0,954.6 107.3,954.6 108.5,954.6 109.7,954.6 111.0,954.6 112.2,954.6 113.5,954.6 114.7,954.6 116.0,954.6 117.2,954.6 118.5,954.6 119.7,954.6 121.0,954.6 122.2,954.6 123.5,954.6 124.7,954.6 126.0,954.6 127.2,954.6 128.4,954.6 129.7,954.6 130.9,954.7 132.2,954.7 133.4,954.7 134.7,954.7 135.9,954.7 137.2,954.7 138.4,954.7 139.7,954.7 140.9,954.7 142.2,954.8 143.4,954.8 144.6,954.8 145.9,954.8 147.1,954.8 148.4,954.8 149.6,954.9 150.9,954.9 152.1,954.9 153.4,954.9 154.6,955.0 155.9,955.0 157.1,955.0 158.4,955.0 159.6,955.1 160.9,955.1 162.1,955.2 163.3,955.2 164.6,955.2 165.8,955.3 167.1,955.3 168.3,955.4 169.6,955.4 170.8,955.5 172.1,955.6 173.3,955.6 174.6,955.7 175.8,955.8 177.1,955.9 178.3,956.0 179.6,956.0 180.8,956.1 182.0,956.3 183.3,956.4 184.5,956.5 185.8,956.6 187.0,956.7 188.3,956.9 189.5,957.0 190.8,957.2 192.0,957.4 193.3,957.6 194.5,957.8 195.8,958.0 197.0,958.2 198.2,958.4 199.5,958.7 200.7,958.9 202.0,959.2 203.2,959.5 204.5,959.8 205.7,960.2 207.0,960.5 208.2,960.9 209.5,961.3 210.7,961.7 212.0,962.2 213.2,962.6 214.5,963.1 215.7,963.7 216.9,964.2 218.2,964.8 219.4,965.5 220.7,966.1 221.9,966.8 223.2,967.6 224.4,968.3 225.7,969.2 226.9,970.0 228.2,970.9 229.4,971.9 230.7,972.9 231.9,973.9 233.1,975.0 234.4,976.2 235.6,977.4 236.9,978.7 238.1,980.0 239.4,981.4 240.6,982.8 241.9,984.3 243.1,985.8 244.4,987.4 245.6,989.1 246.9,990.8 248.1,992.6 249.4,994.4 250.6,996.3 251.8,998.3 253.1,1000.3 254.3,1002.3 255.6,1004.4 256.8,1006.5 258.1,1008.7 259.3,1011.0 260.6,1013.2 261.8,1015.5 263.1,1017.8 264.3,1020.2 265.6,1022.5 266.8,1024.9 268.1,1027.3 269.3,1029.7 270.5,1032.1 271.8,1034.5 273.0,1036.9 274.3,1039.2 275.5,1041.6 276.8,1043.9 278.0,1046.2 279.3,1048.5 280.5,1050.8 281.8,1053.0 283.0,1055.2 284.3,1057.3 285.5,1059.4 286.7,1061.5 288.0,1063.5 289.2,1065.5 290.5,1067.4 291.7,1069.3 293.0,1071.2 294.2,1073.0 295.5,1074.7 296.7,1076.4 298.0,1078.1 299.2,1079.7 300.5,1081.3 301.7,1082.9 303.0,1084.4 304.2,1085.9 305.4,1087.4 306.7,1088.8 307.9,1090.2 309.2,1091.6 310.4,1093.0 311.7,1094.4 312.9,1095.7 314.2,1097.0 315.4,1098.3 316.7,1099.6 317.9,1100.9 319.2,1102.1 320.4,1103.4 321.7,1104.6 322.9,1105.8 324.1,1106.9 325.4,1108.1 326.6,1109.2 327.9,1110.3 329.1,1111.3 330.4,1112.3 331.6,1113.3 332.9,1114.3 334.1,1115.1 335.4,1116.0 336.6,1116.8 337.9,1117.6 339.1,1118.3 340.3,1119.0 341.6,1119.7 342.8,1120.3 344.1,1120.8 345.3,1121.4 346.6,1121.9 347.8,1122.3 349.1,1122.8 350.3,1123.2 351.6,1123.5 352.8,1123.9 354.1,1124.2 355.3,1124.5 356.6,1124.8 357.8,1125.0 359.0,1125.2 360.3,1125.4 361.5,1125.6 362.8,1125.8 364.0,1126.0 365.3,1126.1 366.5,1126.3 367.8,1126.4 369.0,1126.5 370.3,1126.6 371.5,1126.7" fill="none" stroke="#6347a5" stroke-width="2.2" stroke-linejoin="round"/>
<polyline points="104.8,956.6 106.0,956.7 107.3,956.7 108.5,956.8 109.7,956.8 111.0,956.9 112.2,956.9 113.5,956.9 114.7,957.0 116.0,957.0 117.2,957.1 118.5,957.2 119.7,957.2 121.0,957.3 122.2,957.3 123.5,957.4 124.7,957.5 126.0,957.5 127.2,957.6 128.4,957.7 129.7,957.8 130.9,957.9 132.2,957.9 133.4,958.0 134.7,958.1 135.9,958.2 137.2,958.3 138.4,958.4 139.7,958.5 140.9,958.6 142.2,958.8 143.4,958.9 144.6,959.0 145.9,959.1 147.1,959.3 148.4,959.4 149.6,959.6 150.9,959.7 152.1,959.9 153.4,960.0 154.6,960.2 155.9,960.4 157.1,960.6 158.4,960.8 159.6,961.0 160.9,961.2 162.1,961.4 163.3,961.6 164.6,961.8 165.8,962.1 167.1,962.3 168.3,962.6 169.6,962.8 170.8,963.1 172.1,963.4 173.3,963.7 174.6,964.0 175.8,964.3 177.1,964.7 178.3,965.0 179.6,965.4 180.8,965.7 182.0,966.1 183.3,966.5 184.5,966.9 185.8,967.4 187.0,967.8 188.3,968.3 189.5,968.7 190.8,969.2 192.0,969.7 193.3,970.2 194.5,970.8 195.8,971.3 197.0,971.9 198.2,972.5 199.5,973.1 200.7,973.8 202.0,974.4 203.2,975.1 204.5,975.8 205.7,976.5 207.0,977.3 208.2,978.0 209.5,978.8 210.7,979.6 212.0,980.5 213.2,981.4 214.5,982.2 215.7,983.2 216.9,984.1 218.2,985.1 219.4,986.1 220.7,987.1 221.9,988.1 223.2,989.2 224.4,990.3 225.7,991.4 226.9,992.6 228.2,993.8 229.4,995.0 230.7,996.2 231.9,997.5 233.1,998.8 234.4,1000.1 235.6,1001.5 236.9,1002.9 238.1,1004.3 239.4,1005.7 240.6,1007.2 241.9,1008.7 243.1,1010.2 244.4,1011.7 245.6,1013.3 246.9,1014.8 248.1,1016.5 249.4,1018.1 250.6,1019.7 251.8,1021.4 253.1,1023.1 254.3,1024.8 255.6,1026.5 256.8,1028.3 258.1,1030.0 259.3,1031.8 260.6,1033.6 261.8,1035.4 263.1,1037.2 264.3,1039.0 265.6,1040.8 266.8,1042.6 268.1,1044.5 269.3,1046.3 270.5,1048.1 271.8,1050.0 273.0,1051.8 274.3,1053.6 275.5,1055.5 276.8,1057.3 278.0,1059.1 279.3,1060.9 280.5,1062.7 281.8,1064.5 283.0,1066.3 284.3,1068.0 285.5,1069.8 286.7,1071.5 288.0,1073.2 289.2,1074.9 290.5,1076.6 291.7,1078.2 293.0,1079.8 294.2,1081.5 295.5,1083.0 296.7,1084.6 298.0,1086.1 299.2,1087.6 300.5,1089.1 301.7,1090.6 303.0,1092.0 304.2,1093.4 305.4,1094.8 306.7,1096.2 307.9,1097.5 309.2,1098.8 310.4,1100.1 311.7,1101.3 312.9,1102.5 314.2,1103.7 315.4,1104.9 316.7,1106.0 317.9,1107.1 319.2,1108.2 320.4,1109.2 321.7,1110.3 322.9,1111.2 324.1,1112.2 325.4,1113.2 326.6,1114.1 327.9,1115.0 329.1,1115.8 330.4,1116.7 331.6,1117.5 332.9,1118.3 334.1,1119.0 335.4,1119.8 336.6,1120.5 337.9,1121.2 339.1,1121.9 340.3,1122.5 341.6,1123.2 342.8,1123.8 344.1,1124.4 345.3,1125.0 346.6,1125.5 347.8,1126.1 349.1,1126.6 350.3,1127.1 351.6,1127.6 352.8,1128.1 354.1,1128.5 355.3,1129.0 356.6,1129.4 357.8,1129.8 359.0,1130.2 360.3,1130.6 361.5,1131.0 362.8,1131.3 364.0,1131.7 365.3,1132.0 366.5,1132.3 367.8,1132.6 369.0,1132.9 370.3,1133.2 371.5,1133.5" fill="none" stroke="#828282" stroke-width="2.2" stroke-linejoin="round"/>
<polyline points="104.8,948.4 106.0,948.4 107.3,948.4 108.5,948.4 109.7,948.4 111.0,948.4 112.2,948.5 113.5,948.5 114.7,948.5 116.0,948.5 117.2,948.6 118.5,948.6 119.7,948.6 121.0,948.6 122.2,948.7 123.5,948.7 124.7,948.7 126.0,948.8 127.2,948.8 128.4,948.9 129.7,948.9 130.9,948.9 132.2,949.0 133.4,949.0 134.7,949.1 135.9,949.1 137.2,949.2 138.4,949.3 139.7,949.3 140.9,949.4 142.2,949.5 143.4,949.6 144.6,949.7 145.9,949.7 147.1,949.8 148.4,949.9 149.6,950.0 150.9,950.2 152.1,950.3 153.4,950.4 154.6,950.5 155.9,950.7 157.1,950.8 158.4,951.0 159.6,951.2 160.9,951.3 162.1,951.5 163.3,951.7 164.6,951.9 165.8,952.2 167.1,952.4 168.3,952.6 169.6,952.9 170.8,953.2 172.1,953.5 173.3,953.8 174.6,954.1 175.8,954.5 177.1,954.8 178.3,955.2 179.6,955.6 180.8,956.1 182.0,956.5 183.3,957.0 184.5,957.5 185.8,958.0 187.0,958.6 188.3,959.2 189.5,959.8 190.8,960.4 192.0,961.1 193.3,961.8 194.5,962.6 195.8,963.3 197.0,964.2 198.2,965.0 199.5,965.9 200.7,966.9 202.0,967.9 203.2,968.9 204.5,969.9 205.7,971.1 207.0,972.2 208.2,973.4 209.5,974.7 210.7,976.0 212.0,977.3 213.2,978.7 214.5,980.1 215.7,981.6 216.9,983.1 218.2,984.7 219.4,986.3 220.7,987.9 221.9,989.6 223.2,991.4 224.4,993.1 225.7,994.9 226.9,996.8 228.2,998.7 229.4,1000.6 230.7,1002.5 231.9,1004.5 233.1,1006.5 234.4,1008.5 235.6,1010.5 236.9,1012.5 238.1,1014.6 239.4,1016.7 240.6,1018.8 241.9,1020.8 243.1,1022.9 244.4,1025.0 245.6,1027.1 246.9,1029.2 248.1,1031.3 249.4,1033.4 250.6,1035.5 251.8,1037.6 253.1,1039.6 254.3,1041.7 255.6,1043.7 256.8,1045.8 258.1,1047.8 259.3,1049.8 260.6,1051.8 261.8,1053.7 263.1,1055.7 264.3,1057.6 265.6,1059.5 266.8,1061.4 268.1,1063.3 269.3,1065.1 270.5,1066.9 271.8,1068.7 273.0,1070.5 274.3,1072.3 275.5,1074.0 276.8,1075.7 278.0,1077.4 279.3,1079.0 280.5,1080.6 281.8,1082.2 283.0,1083.8 284.3,1085.3 285.5,1086.8 286.7,1088.3 288.0,1089.7 289.2,1091.1 290.5,1092.5 291.7,1093.9 293.0,1095.2 294.2,1096.5 295.5,1097.7 296.7,1099.0 298.0,1100.2 299.2,1101.3 300.5,1102.5 301.7,1103.6 303.0,1104.6 304.2,1105.7 305.4,1106.7 306.7,1107.6 307.9,1108.6 309.2,1109.5 310.4,1110.4 311.7,1111.3 312.9,1112.1 314.2,1112.9 315.4,1113.7 316.7,1114.4 317.9,1115.1 319.2,1115.8 320.4,1116.5 321.7,1117.2 322.9,1117.8 324.1,1118.4 325.4,1119.0 326.6,1119.5 327.9,1120.1 329.1,1120.6 330.4,1121.1 331.6,1121.5 332.9,1122.0 334.1,1122.4 335.4,1122.8 336.6,1123.2 337.9,1123.6 339.1,1124.0 340.3,1124.4 341.6,1124.7 342.8,1125.0 344.1,1125.3 345.3,1125.6 346.6,1125.9 347.8,1126.2 349.1,1126.5 350.3,1126.7 351.6,1126.9 352.8,1127.2 354.1,1127.4 355.3,1127.6 356.6,1127.8 357.8,1128.0 359.0,1128.2 360.3,1128.3 361.5,1128.5 362.8,1128.7 364.0,1128.8 365.3,1129.0 366.5,1129.1 367.8,1129.2 369.0,1129.4 370.3,1129.5 371.5,1129.6" fill="none" stroke="#e87d2c" stroke-width="2.2" stroke-linejoin="round"/>
<polyline points="104.8,953.4 106.0,953.4 107.3,953.4 108.5,953.4 109.7,953.4 111.0,953.4 112.2,953.4 113.5,953.4 114.7,953.4 116.0,953.5 117.2,953.5 118.5,953.5 119.7,953.5 121.0,953.5 122.2,953.5 123.5,953.5 124.7,953.5 126.0,953.5 127.2,953.5 128.4,953.6 129.7,953.6 130.9,953.6 132.2,953.6 133.4,953.6 134.7,953.6 135.9,953.7 137.2,953.7 138.4,953.7 139.7,953.7 140.9,953.8 142.2,953.8 143.4,953.8 144.6,953.8 145.9,953.9 147.1,953.9 148.4,953.9 149.6,954.0 150.9,954.0 152.1,954.1 153.4,954.1 154.6,954.2 155.9,954.2 157.1,954.3 158.4,954.3 159.6,954.4 160.9,954.5 162.1,954.5 163.3,954.6 164.6,954.7 165.8,954.8 167.1,954.9 168.3,955.0 169.6,955.1 170.8,955.2 172.1,955.3 173.3,955.4 174.6,955.5 175.8,955.7 177.1,955.8 178.3,956.0 179.6,956.2 180.8,956.4 182.0,956.5 183.3,956.8 184.5,957.0 185.8,957.2 187.0,957.5 188.3,957.8 189.5,958.1 190.8,958.4 192.0,958.8 193.3,959.2 194.5,959.7 195.8,960.1 197.0,960.7 198.2,961.3 199.5,961.9 200.7,962.6 202.0,963.4 203.2,964.3 204.5,965.2 205.7,966.3 207.0,967.4 208.2,968.6 209.5,969.9 210.7,971.3 212.0,972.8 213.2,974.3 214.5,975.8 215.7,977.4 216.9,979.0 218.2,980.5 219.4,982.1 220.7,983.7 221.9,985.2 223.2,986.8 224.4,988.3 225.7,989.8 226.9,991.4 228.2,992.9 229.4,994.5 230.7,996.0 231.9,997.6 233.1,999.3 234.4,1000.9 235.6,1002.7 236.9,1004.4 238.1,1006.2 239.4,1008.1 240.6,1010.0 241.9,1011.9 243.1,1013.9 244.4,1015.9 245.6,1018.0 246.9,1020.2 248.1,1022.4 249.4,1024.6 250.6,1026.9 251.8,1029.2 253.1,1031.5 254.3,1033.9 255.6,1036.3 256.8,1038.8 258.1,1041.2 259.3,1043.7 260.6,1046.2 261.8,1048.7 263.1,1051.2 264.3,1053.7 265.6,1056.2 266.8,1058.6 268.1,1061.1 269.3,1063.6 270.5,1066.0 271.8,1068.4 273.0,1070.8 274.3,1073.1 275.5,1075.4 276.8,1077.7 278.0,1079.9 279.3,1082.1 280.5,1084.2 281.8,1086.3 283.0,1088.3 284.3,1090.2 285.5,1092.1 286.7,1094.0 288.0,1095.8 289.2,1097.5 290.5,1099.2 291.7,1100.8 293.0,1102.3 294.2,1103.8 295.5,1105.3 296.7,1106.7 298.0,1108.0 299.2,1109.3 300.5,1110.5 301.7,1111.7 303.0,1112.8 304.2,1113.9 305.4,1114.9 306.7,1115.8 307.9,1116.8 309.2,1117.7 310.4,1118.5 311.7,1119.3 312.9,1120.1 314.2,1120.8 315.4,1121.5 316.7,1122.1 317.9,1122.7 319.2,1123.3 320.4,1123.9 321.7,1124.4 322.9,1124.9 324.1,1125.4 325.4,1125.8 326.6,1126.2 327.9,1126.6 329.1,1127.0 330.4,1127.4 331.6,1127.7 332.9,1128.0 334.1,1128.3 335.4,1128.6 336.6,1128.9 337.9,1129.2 339.1,1129.4 340.3,1129.6 341.6,1129.8 342.8,1130.0 344.1,1130.2 345.3,1130.4 346.6,1130.6 347.8,1130.7 349.1,1130.9 350.3,1131.0 351.6,1131.2 352.8,1131.3 354.1,1131.4 355.3,1131.5 356.6,1131.6 357.8,1131.7 359.0,1131.8 360.3,1131.9 361.5,1132.0 362.8,1132.1 364.0,1132.1 365.3,1132.2 366.5,1132.3 367.8,1132.3 369.0,1132.4 370.3,1132.5 371.5,1132.5" fill="none" stroke="#2b8c47" stroke-width="2.2" stroke-linejoin="round"/>
<polyline points="104.8,933.3 106.0,933.3 107.3,933.3 108.5,933.3 109.7,933.3 111.0,933.3 112.2,933.3 113.5,933.3 114.7,933.4 116.0,933.4 117.2,933.4 118.5,933.4 119.7,933.4 121.0,933.4 122.2,933.4 123.5,933.4 124.7,933.5 126.0,933.5 127.2,933.5 128.4,933.5 129.7,933.5 130.9,933.6 132.2,933.6 133.4,933.6 134.7,933.6 135.9,933.7 137.2,933.7 138.4,933.7 139.7,933.8 140.9,933.8 142.2,933.9 143.4,933.9 144.6,934.0 145.9,934.0 147.1,934.1 148.4,934.2 149.6,934.2 150.9,934.3 152.1,934.4 153.4,934.5 154.6,934.6 155.9,934.7 157.1,934.8 158.4,934.9 159.6,935.0 160.9,935.2 162.1,935.3 163.3,935.5 164.6,935.6 165.8,935.8 167.1,936.0 168.3,936.2 169.6,936.5 170.8,936.7 172.1,937.0 173.3,937.3 174.6,937.6 175.8,937.9 177.1,938.3 178.3,938.7 179.6,939.1 180.8,939.5 182.0,940.0 183.3,940.5 184.5,941.1 185.8,941.7 187.0,942.3 188.3,943.0 189.5,943.8 190.8,944.5 192.0,945.4 193.3,946.3 194.5,947.3 195.8,948.3 197.0,949.4 198.2,950.6 199.5,951.8 200.7,953.1 202.0,954.5 203.2,956.0 204.5,957.5 205.7,959.2 207.0,960.9 208.2,962.7 209.5,964.6 210.7,966.6 212.0,968.6 213.2,970.8 214.5,973.0 215.7,975.3 216.9,977.7 218.2,980.1 219.4,982.6 220.7,985.2 221.9,987.8 223.2,990.5 224.4,993.2 225.7,995.9 226.9,998.7 228.2,1001.4 229.4,1004.2 230.7,1007.1 231.9,1009.9 233.1,1012.7 234.4,1015.5 235.6,1018.2 236.9,1021.0 238.1,1023.8 239.4,1026.5 240.6,1029.2 241.9,1031.8 243.1,1034.5 244.4,1037.1 245.6,1039.6 246.9,1042.2 248.1,1044.7 249.4,1047.1 250.6,1049.6 251.8,1051.9 253.1,1054.3 254.3,1056.6 255.6,1058.9 256.8,1061.2 258.1,1063.4 259.3,1065.6 260.6,1067.7 261.8,1069.9 263.1,1071.9 264.3,1074.0 265.6,1076.0 266.8,1078.0 268.1,1079.9 269.3,1081.8 270.5,1083.7 271.8,1085.5 273.0,1087.3 274.3,1089.1 275.5,1090.8 276.8,1092.4 278.0,1094.1 279.3,1095.6 280.5,1097.2 281.8,1098.7 283.0,1100.1 284.3,1101.5 285.5,1102.9 286.7,1104.2 288.0,1105.5 289.2,1106.7 290.5,1107.9 291.7,1109.1 293.0,1110.2 294.2,1111.3 295.5,1112.3 296.7,1113.3 298.0,1114.2 299.2,1115.1 300.5,1116.0 301.7,1116.8 303.0,1117.6 304.2,1118.4 305.4,1119.1 306.7,1119.8 307.9,1120.5 309.2,1121.1 310.4,1121.7 311.7,1122.3 312.9,1122.9 314.2,1123.4 315.4,1123.9 316.7,1124.4 317.9,1124.8 319.2,1125.3 320.4,1125.7 321.7,1126.1 322.9,1126.4 324.1,1126.8 325.4,1127.1 326.6,1127.4 327.9,1127.7 329.1,1128.0 330.4,1128.3 331.6,1128.5 332.9,1128.8 334.1,1129.0 335.4,1129.2 336.6,1129.4 337.9,1129.6 339.1,1129.8 340.3,1130.0 341.6,1130.1 342.8,1130.3 344.1,1130.4 345.3,1130.6 346.6,1130.7 347.8,1130.8 349.1,1130.9 350.3,1131.0 351.6,1131.1 352.8,1131.2 354.1,1131.3 355.3,1131.4 356.6,1131.5 357.8,1131.6 359.0,1131.7 360.3,1131.7 361.5,1131.8 362.8,1131.8 364.0,1131.9 365.3,1132.0 366.5,1132.0 367.8,1132.1 369.0,1132.1 370.3,1132.2 371.5,1132.2" fill="none" stroke="#b448b0" stroke-width="2.2" stroke-linejoin="round"/>
<polyline points="104.8,943.3 106.0,943.3 107.3,943.3 108.5,943.3 109.7,943.3 111.0,943.3 112.2,943.3 113.5,943.3 114.7,943.3 116.0,943.3 117.2,943.3 118.5,943.3 119.7,943.3 121.0,943.3 122.2,943.3 123.5,943.3 124.7,943.3 126.0,943.3 127.2,943.3 128.4,943.3 129.7,943.4 130.9,943.4 132.2,943.4 133.4,943.4 134.7,943.4 135.9,943.4 137.2,943.4 138.4,943.5 139.7,943.5 140.9,943.5 142.2,943.5 143.4,943.5 144.6,943.6 145.9,943.6 147.1,943.6 148.4,943.7 149.6,943.7 150.9,943.7 152.1,943.8 153.4,943.8 154.6,943.9 155.9,944.0 157.1,944.0 158.4,944.1 159.6,944.2 160.9,944.3 162.1,944.3 163.3,944.4 164.6,944.6 165.8,944.7 167.1,944.8 168.3,944.9 169.6,945.1 170.8,945.3 172.1,945.4 173.3,945.6 174.6,945.9 175.8,946.1 177.1,946.3 178.3,946.6 179.6,946.9 180.8,947.2 182.0,947.6 183.3,948.0 184.5,948.4 185.8,948.9 187.0,949.4 188.3,949.9 189.5,950.5 190.8,951.1 192.0,951.8 193.3,952.5 194.5,953.3 195.8,954.1 197.0,955.1 198.2,956.1 199.5,957.1 200.7,958.3 202.0,959.5 203.2,960.8 204.5,962.2 205.7,963.7 207.0,965.3 208.2,967.0 209.5,968.8 210.7,970.7 212.0,972.7 213.2,974.8 214.5,977.1 215.7,979.4 216.9,981.9 218.2,984.4 219.4,987.1 220.7,989.9 221.9,992.7 223.2,995.7 224.4,998.7 225.7,1001.8 226.9,1005.0 228.2,1008.2 229.4,1011.5 230.7,1014.8 231.9,1018.1 233.1,1021.4 234.4,1024.7 235.6,1028.0 236.9,1031.3 238.1,1034.5 239.4,1037.7 240.6,1040.8 241.9,1043.9 243.1,1046.9 244.4,1049.8 245.6,1052.7 246.9,1055.5 248.1,1058.2 249.4,1060.8 250.6,1063.3 251.8,1065.8 253.1,1068.1 254.3,1070.4 255.6,1072.6 256.8,1074.8 258.1,1076.8 259.3,1078.8 260.6,1080.8 261.8,1082.7 263.1,1084.6 264.3,1086.4 265.6,1088.1 266.8,1089.8 268.1,1091.5 269.3,1093.2 270.5,1094.8 271.8,1096.4 273.0,1098.0 274.3,1099.5 275.5,1101.0 276.8,1102.5 278.0,1104.0 279.3,1105.4 280.5,1106.8 281.8,1108.1 283.0,1109.4 284.3,1110.7 285.5,1111.9 286.7,1113.1 288.0,1114.3 289.2,1115.4 290.5,1116.5 291.7,1117.5 293.0,1118.4 294.2,1119.4 295.5,1120.2 296.7,1121.0 298.0,1121.8 299.2,1122.5 300.5,1123.2 301.7,1123.9 303.0,1124.5 304.2,1125.0 305.4,1125.5 306.7,1126.0 307.9,1126.5 309.2,1126.9 310.4,1127.3 311.7,1127.6 312.9,1128.0 314.2,1128.3 315.4,1128.5 316.7,1128.8 317.9,1129.0 319.2,1129.3 320.4,1129.5 321.7,1129.6 322.9,1129.8 324.1,1130.0 325.4,1130.1 326.6,1130.2 327.9,1130.3 329.1,1130.5 330.4,1130.5 331.6,1130.6 332.9,1130.7 334.1,1130.8 335.4,1130.9 336.6,1130.9 337.9,1131.0 339.1,1131.0 340.3,1131.1 341.6,1131.1 342.8,1131.2 344.1,1131.2 345.3,1131.2 346.6,1131.3 347.8,1131.3 349.1,1131.3 350.3,1131.3 351.6,1131.4 352.8,1131.4 354.1,1131.4 355.3,1131.4 356.6,1131.4 357.8,1131.4 359.0,1131.5 360.3,1131.5 361.5,1131.5 362.8,1131.5 364.0,1131.5 365.3,1131.5 366.5,1131.5 367.8,1131.5 369.0,1131.5 370.3,1131.5 371.5,1131.5" fill="none" stroke="#e73c96" stroke-width="2.2" stroke-linejoin="round"/>
<polyline points="104.8,946.7 106.0,946.7 107.3,946.7 108.5,946.7 109.7,946.7 111.0,946.7 112.2,946.7 113.5,946.7 114.7,946.7 116.0,946.7 117.2,946.7 118.5,946.7 119.7,946.7 121.0,946.7 122.2,946.7 123.5,946.7 124.7,946.7 126.0,946.7 127.2,946.8 128.4,946.8 129.7,946.8 130.9,946.8 132.2,946.8 133.4,946.8 134.7,946.8 135.9,946.8 137.2,946.9 138.4,946.9 139.7,946.9 140.9,946.9 142.2,946.9 143.4,947.0 144.6,947.0 145.9,947.0 147.1,947.0 148.4,947.1 149.6,947.1 150.9,947.2 152.1,947.2 153.4,947.3 154.6,947.3 155.9,947.4 157.1,947.4 158.4,947.5 159.6,947.6 160.9,947.7 162.1,947.8 163.3,947.9 164.6,948.0 165.8,948.1 167.1,948.2 168.3,948.4 169.6,948.5 170.8,948.7 172.1,948.9 173.3,949.1 174.6,949.3 175.8,949.5 177.1,949.8 178.3,950.1 179.6,950.4 180.8,950.7 182.0,951.1 183.3,951.4 184.5,951.9 185.8,952.3 187.0,952.8 188.3,953.4 189.5,953.9 190.8,954.6 192.0,955.2 193.3,956.0 194.5,956.8 195.8,957.6 197.0,958.5 198.2,959.5 199.5,960.6 200.7,961.8 202.0,963.0 203.2,964.3 204.5,965.7 205.7,967.2 207.0,968.8 208.2,970.5 209.5,972.3 210.7,974.2 212.0,976.3 213.2,978.4 214.5,980.6 215.7,983.0 216.9,985.5 218.2,988.0 219.4,990.7 220.7,993.5 221.9,996.4 223.2,999.4 224.4,1002.4 225.7,1005.6 226.9,1008.8 228.2,1012.0 229.4,1015.3 230.7,1018.7 231.9,1022.0 233.1,1025.4 234.4,1028.8 235.6,1032.2 236.9,1035.5 238.1,1038.8 239.4,1042.1 240.6,1045.3 241.9,1048.5 243.1,1051.6 244.4,1054.6 245.6,1057.5 246.9,1060.4 248.1,1063.2 249.4,1065.9 250.6,1068.5 251.8,1071.1 253.1,1073.5 254.3,1075.9 255.6,1078.2 256.8,1080.4 258.1,1082.5 259.3,1084.6 260.6,1086.6 261.8,1088.5 263.1,1090.4 264.3,1092.2 265.6,1094.0 266.8,1095.7 268.1,1097.3 269.3,1098.9 270.5,1100.5 271.8,1102.0 273.0,1103.4 274.3,1104.8 275.5,1106.2 276.8,1107.5 278.0,1108.8 279.3,1110.1 280.5,1111.3 281.8,1112.4 283.0,1113.5 284.3,1114.6 285.5,1115.6 286.7,1116.6 288.0,1117.6 289.2,1118.5 290.5,1119.3 291.7,1120.1 293.0,1120.9 294.2,1121.6 295.5,1122.3 296.7,1123.0 298.0,1123.6 299.2,1124.2 300.5,1124.7 301.7,1125.3 303.0,1125.7 304.2,1126.2 305.4,1126.6 306.7,1127.0 307.9,1127.4 309.2,1127.7 310.4,1128.1 311.7,1128.4 312.9,1128.6 314.2,1128.9 315.4,1129.1 316.7,1129.3 317.9,1129.6 319.2,1129.7 320.4,1129.9 321.7,1130.1 322.9,1130.2 324.1,1130.4 325.4,1130.5 326.6,1130.6 327.9,1130.7 329.1,1130.8 330.4,1130.9 331.6,1131.0 332.9,1131.1 334.1,1131.2 335.4,1131.2 336.6,1131.3 337.9,1131.3 339.1,1131.4 340.3,1131.4 341.6,1131.5 342.8,1131.5 344.1,1131.6 345.3,1131.6 346.6,1131.6 347.8,1131.7 349.1,1131.7 350.3,1131.7 351.6,1131.7 352.8,1131.8 354.1,1131.8 355.3,1131.8 356.6,1131.8 357.8,1131.8 359.0,1131.8 360.3,1131.8 361.5,1131.9 362.8,1131.9 364.0,1131.9 365.3,1131.9 366.5,1131.9 367.8,1131.9 369.0,1131.9 370.3,1131.9 371.5,1131.9" fill="none" stroke="#3557a7" stroke-width="2.2" stroke-linejoin="round"/>
<polyline points="104.8,944.0 106.0,944.0 107.3,944.0 108.5,944.0 109.7,944.0 111.0,944.0 112.2,944.0 113.5,944.0 114.7,944.0 116.0,944.0 117.2,944.0 118.5,944.0 119.7,944.0 121.0,944.1 122.2,944.1 123.5,944.1 124.7,944.1 126.0,944.1 127.2,944.1 128.4,944.1 129.7,944.2 130.9,944.2 132.2,944.2 133.4,944.2 134.7,944.2 135.9,944.3 137.2,944.3 138.4,944.3 139.7,944.4 140.9,944.4 142.2,944.4 143.4,944.5 144.6,944.5 145.9,944.6 147.1,944.6 148.4,944.7 149.6,944.7 150.9,944.8 152.1,944.9 153.4,945.0 154.6,945.1 155.9,945.1 157.1,945.2 158.4,945.4 159.6,945.5 160.9,945.6 162.1,945.7 163.3,945.9 164.6,946.0 165.8,946.2 167.1,946.4 168.3,946.6 169.6,946.8 170.8,947.1 172.1,947.3 173.3,947.6 174.6,947.9 175.8,948.2 177.1,948.6 178.3,948.9 179.6,949.3 180.8,949.8 182.0,950.3 183.3,950.8 184.5,951.3 185.8,951.9 187.0,952.5 188.3,953.2 189.5,953.9 190.8,954.7 192.0,955.5 193.3,956.4 194.5,957.4 195.8,958.4 197.0,959.5 198.2,960.6 199.5,961.9 200.7,963.2 202.0,964.6 203.2,966.1 204.5,967.7 205.7,969.4 207.0,971.1 208.2,973.0 209.5,975.0 210.7,977.0 212.0,979.2 213.2,981.5 214.5,983.9 215.7,986.3 216.9,988.9 218.2,991.6 219.4,994.4 220.7,997.2 221.9,1000.2 223.2,1003.2 224.4,1006.3 225.7,1009.5 226.9,1012.7 228.2,1015.9 229.4,1019.2 230.7,1022.6 231.9,1025.9 233.1,1029.3 234.4,1032.7 235.6,1036.0 236.9,1039.3 238.1,1042.6 239.4,1045.9 240.6,1049.1 241.9,1052.2 243.1,1055.3 244.4,1058.3 245.6,1061.3 246.9,1064.1 248.1,1066.9 249.4,1069.6 250.6,1072.2 251.8,1074.7 253.1,1077.1 254.3,1079.5 255.6,1081.7 256.8,1083.9 258.1,1085.9 259.3,1087.9 260.6,1089.9 261.8,1091.7 263.1,1093.5 264.3,1095.2 265.6,1096.8 266.8,1098.4 268.1,1100.0 269.3,1101.4 270.5,1102.9 271.8,1104.2 273.0,1105.6 274.3,1106.9 275.5,1108.1 276.8,1109.3 278.0,1110.5 279.3,1111.6 280.5,1112.7 281.8,1113.8 283.0,1114.8 284.3,1115.8 285.5,1116.7 286.7,1117.6 288.0,1118.5 289.2,1119.4 290.5,1120.2 291.7,1120.9 293.0,1121.7 294.2,1122.4 295.5,1123.0 296.7,1123.7 298.0,1124.2 299.2,1124.8 300.5,1125.3 301.7,1125.8 303.0,1126.3 304.2,1126.7 305.4,1127.1 306.7,1127.5 307.9,1127.8 309.2,1128.1 310.4,1128.4 311.7,1128.7 312.9,1129.0 314.2,1129.2 315.4,1129.4 316.7,1129.6 317.9,1129.8 319.2,1130.0 320.4,1130.2 321.7,1130.3 322.9,1130.4 324.1,1130.6 325.4,1130.7 326.6,1130.8 327.9,1130.9 329.1,1131.0 330.4,1131.0 331.6,1131.1 332.9,1131.2 334.1,1131.2 335.4,1131.3 336.6,1131.3 337.9,1131.4 339.1,1131.4 340.3,1131.5 341.6,1131.5 342.8,1131.5 344.1,1131.6 345.3,1131.6 346.6,1131.6 347.8,1131.6 349.1,1131.7 350.3,1131.7 351.6,1131.7 352.8,1131.7 354.1,1131.7 355.3,1131.7 356.6,1131.8 357.8,1131.8 359.0,1131.8 360.3,1131.8 361.5,1131.8 362.8,1131.8 364.0,1131.8 365.3,1131.8 366.5,1131.8 367.8,1131.8 369.0,1131.8 370.3,1131.8 371.5,1131.8" fill="none" stroke="#000000" stroke-width="2.2" stroke-linejoin="round"/>
<circle cx="388.0" cy="939.9" r="5.25" fill="#000000"/>
<text x="400.3" y="947.2" font-size="21.30" fill="#000">WT</text>
<circle cx="388.0" cy="962.7" r="5.25" fill="#e73c96"/>
<text x="398.7" y="970.0" font-size="21.30" fill="#000">F459Y</text>
<circle cx="388.0" cy="985.4" r="5.25" fill="#e87d2c"/>
<text x="398.7" y="992.7" font-size="21.30" fill="#000">F459C</text>
<circle cx="388.0" cy="1008.2" r="5.25" fill="#6347a5"/>
<text x="398.7" y="1015.5" font-size="21.30" fill="#000">F459M</text>
<circle cx="388.0" cy="1031.0" r="5.25" fill="#82d6da"/>
<text x="398.7" y="1038.3" font-size="21.30" fill="#000">F459E</text>
<circle cx="388.0" cy="1053.8" r="5.25" fill="#2b8c47"/>
<text x="398.7" y="1061.0" font-size="21.30" fill="#000">F459A</text>
<circle cx="388.0" cy="1076.5" r="5.25" fill="#3557a7"/>
<text x="398.7" y="1083.8" font-size="21.30" fill="#000">F459L</text>
<circle cx="388.0" cy="1099.3" r="5.25" fill="#828282"/>
<text x="398.7" y="1106.6" font-size="21.30" fill="#000">F459Q</text>
<circle cx="388.0" cy="1122.1" r="5.25" fill="#b448b0"/>
<text x="398.7" y="1129.4" font-size="21.30" fill="#000">F459V</text>
<circle cx="388.0" cy="1144.8" r="5.25" fill="#7b8b39"/>
<text x="398.7" y="1152.1" font-size="21.30" fill="#000">F459W</text>
<text x="5.6" y="1275.0" font-size="33.00" fill="#000" font-weight="bold">g</text>
<line x1="95.0" y1="1305.5" x2="95.0" y2="1529.6" stroke="#000" stroke-width="2.1"/>
<line x1="94.0" y1="1528.6" x2="370.9" y2="1528.6" stroke="#000" stroke-width="2.1"/>
<line x1="89.5" y1="1510.8" x2="95.0" y2="1510.8" stroke="#000" stroke-width="2"/>
<line x1="89.5" y1="1424.5" x2="95.0" y2="1424.5" stroke="#000" stroke-width="2"/>
<line x1="89.5" y1="1338.2" x2="95.0" y2="1338.2" stroke="#000" stroke-width="2"/>
<line x1="119.0" y1="1528.6" x2="119.0" y2="1534.1" stroke="#000" stroke-width="2"/>
<line x1="180.5" y1="1528.6" x2="180.5" y2="1534.1" stroke="#000" stroke-width="2"/>
<line x1="241.9" y1="1528.6" x2="241.9" y2="1534.1" stroke="#000" stroke-width="2"/>
<line x1="303.4" y1="1528.6" x2="303.4" y2="1534.1" stroke="#000" stroke-width="2"/>
<line x1="364.8" y1="1528.6" x2="364.8" y2="1534.1" stroke="#000" stroke-width="2"/>
<text x="45.9" y="1344.5" font-size="24.69" fill="#000">1.0</text>
<text x="46.8" y="1430.8" font-size="24.12" fill="#000">0.5</text>
<text x="46.8" y="1517.1" font-size="24.03" fill="#000">0.0</text>
<text x="96.0" y="1562.4" font-size="24.60" fill="#000">-150</text>
<text x="157.5" y="1562.4" font-size="24.60" fill="#000">-100</text>
<text x="225.8" y="1562.4" font-size="24.60" fill="#000">-50</text>
<text x="298.2" y="1562.4" font-size="24.60" fill="#000">0</text>
<text x="352.8" y="1562.4" font-size="24.60" fill="#000">50</text>
<text x="169.1" y="1599.8" font-size="24.81" fill="#000">Voltage (mV)</text>
<text transform="translate(28.9,1500.0) rotate(-90)" font-size="25.12"><tspan fill="#000">Normalized G</tspan></text>
<rect x="102.5" y="1333.9" width="8.6" height="8.6" fill="#2b8c47"/>
<rect x="127.0" y="1337.7" width="8.6" height="8.6" fill="#2b8c47"/>
<line x1="155.9" y1="1368.4" x2="155.9" y2="1385.7" stroke="#2b8c47" stroke-width="1.9"/>
<line x1="151.9" y1="1368.4" x2="159.9" y2="1368.4" stroke="#2b8c47" stroke-width="1.9"/>
<line x1="151.9" y1="1385.7" x2="159.9" y2="1385.7" stroke="#2b8c47" stroke-width="1.9"/>
<rect x="151.6" y="1372.7" width="8.6" height="8.6" fill="#2b8c47"/>
<line x1="180.5" y1="1393.9" x2="180.5" y2="1409.5" stroke="#2b8c47" stroke-width="1.9"/>
<line x1="176.5" y1="1393.9" x2="184.5" y2="1393.9" stroke="#2b8c47" stroke-width="1.9"/>
<line x1="176.5" y1="1409.5" x2="184.5" y2="1409.5" stroke="#2b8c47" stroke-width="1.9"/>
<rect x="176.2" y="1397.4" width="8.6" height="8.6" fill="#2b8c47"/>
<line x1="205.1" y1="1415.5" x2="205.1" y2="1427.6" stroke="#2b8c47" stroke-width="1.9"/>
<line x1="201.1" y1="1415.5" x2="209.1" y2="1415.5" stroke="#2b8c47" stroke-width="1.9"/>
<line x1="201.1" y1="1427.6" x2="209.1" y2="1427.6" stroke="#2b8c47" stroke-width="1.9"/>
<rect x="200.8" y="1417.3" width="8.6" height="8.6" fill="#2b8c47"/>
<line x1="229.7" y1="1432.1" x2="229.7" y2="1442.5" stroke="#2b8c47" stroke-width="1.9"/>
<line x1="225.7" y1="1432.1" x2="233.7" y2="1432.1" stroke="#2b8c47" stroke-width="1.9"/>
<line x1="225.7" y1="1442.5" x2="233.7" y2="1442.5" stroke="#2b8c47" stroke-width="1.9"/>
<rect x="225.4" y="1433.0" width="8.6" height="8.6" fill="#2b8c47"/>
<line x1="254.2" y1="1451.8" x2="254.2" y2="1456.9" stroke="#2b8c47" stroke-width="1.9"/>
<line x1="250.2" y1="1451.8" x2="258.2" y2="1451.8" stroke="#2b8c47" stroke-width="1.9"/>
<line x1="250.2" y1="1456.9" x2="258.2" y2="1456.9" stroke="#2b8c47" stroke-width="1.9"/>
<rect x="249.9" y="1450.1" width="8.6" height="8.6" fill="#2b8c47"/>
<line x1="278.8" y1="1459.2" x2="278.8" y2="1464.4" stroke="#2b8c47" stroke-width="1.9"/>
<line x1="274.8" y1="1459.2" x2="282.8" y2="1459.2" stroke="#2b8c47" stroke-width="1.9"/>
<line x1="274.8" y1="1464.4" x2="282.8" y2="1464.4" stroke="#2b8c47" stroke-width="1.9"/>
<rect x="274.5" y="1457.5" width="8.6" height="8.6" fill="#2b8c47"/>
<line x1="303.4" y1="1467.3" x2="303.4" y2="1471.4" stroke="#2b8c47" stroke-width="1.9"/>
<line x1="299.4" y1="1467.3" x2="307.4" y2="1467.3" stroke="#2b8c47" stroke-width="1.9"/>
<line x1="299.4" y1="1471.4" x2="307.4" y2="1471.4" stroke="#2b8c47" stroke-width="1.9"/>
<rect x="299.1" y="1465.1" width="8.6" height="8.6" fill="#2b8c47"/>
<line x1="328.0" y1="1471.3" x2="328.0" y2="1474.7" stroke="#2b8c47" stroke-width="1.9"/>
<line x1="324.0" y1="1471.3" x2="332.0" y2="1471.3" stroke="#2b8c47" stroke-width="1.9"/>
<line x1="324.0" y1="1474.7" x2="332.0" y2="1474.7" stroke="#2b8c47" stroke-width="1.9"/>
<rect x="323.7" y="1468.7" width="8.6" height="8.6" fill="#2b8c47"/>
<line x1="352.6" y1="1472.1" x2="352.6" y2="1475.6" stroke="#2b8c47" stroke-width="1.9"/>
<line x1="348.6" y1="1472.1" x2="356.6" y2="1472.1" stroke="#2b8c47" stroke-width="1.9"/>
<line x1="348.6" y1="1475.6" x2="356.6" y2="1475.6" stroke="#2b8c47" stroke-width="1.9"/>
<rect x="348.3" y="1469.6" width="8.6" height="8.6" fill="#2b8c47"/>
<rect x="102.5" y="1333.9" width="8.6" height="8.6" fill="#e87d2c"/>
<line x1="131.3" y1="1373.8" x2="131.3" y2="1382.4" stroke="#e87d2c" stroke-width="1.9"/>
<line x1="127.3" y1="1373.8" x2="135.3" y2="1373.8" stroke="#e87d2c" stroke-width="1.9"/>
<line x1="127.3" y1="1382.4" x2="135.3" y2="1382.4" stroke="#e87d2c" stroke-width="1.9"/>
<rect x="127.0" y="1373.8" width="8.6" height="8.6" fill="#e87d2c"/>
<line x1="155.9" y1="1391.5" x2="155.9" y2="1405.3" stroke="#e87d2c" stroke-width="1.9"/>
<line x1="151.9" y1="1391.5" x2="159.9" y2="1391.5" stroke="#e87d2c" stroke-width="1.9"/>
<line x1="151.9" y1="1405.3" x2="159.9" y2="1405.3" stroke="#e87d2c" stroke-width="1.9"/>
<rect x="151.6" y="1394.1" width="8.6" height="8.6" fill="#e87d2c"/>
<line x1="180.5" y1="1406.9" x2="180.5" y2="1422.4" stroke="#e87d2c" stroke-width="1.9"/>
<line x1="176.5" y1="1406.9" x2="184.5" y2="1406.9" stroke="#e87d2c" stroke-width="1.9"/>
<line x1="176.5" y1="1422.4" x2="184.5" y2="1422.4" stroke="#e87d2c" stroke-width="1.9"/>
<rect x="176.2" y="1410.4" width="8.6" height="8.6" fill="#e87d2c"/>
<line x1="205.1" y1="1417.6" x2="205.1" y2="1431.4" stroke="#e87d2c" stroke-width="1.9"/>
<line x1="201.1" y1="1417.6" x2="209.1" y2="1417.6" stroke="#e87d2c" stroke-width="1.9"/>
<line x1="201.1" y1="1431.4" x2="209.1" y2="1431.4" stroke="#e87d2c" stroke-width="1.9"/>
<rect x="200.8" y="1420.2" width="8.6" height="8.6" fill="#e87d2c"/>
<line x1="229.7" y1="1421.6" x2="229.7" y2="1435.4" stroke="#e87d2c" stroke-width="1.9"/>
<line x1="225.7" y1="1421.6" x2="233.7" y2="1421.6" stroke="#e87d2c" stroke-width="1.9"/>
<line x1="225.7" y1="1435.4" x2="233.7" y2="1435.4" stroke="#e87d2c" stroke-width="1.9"/>
<rect x="225.4" y="1424.2" width="8.6" height="8.6" fill="#e87d2c"/>
<line x1="254.2" y1="1425.7" x2="254.2" y2="1443.0" stroke="#e87d2c" stroke-width="1.9"/>
<line x1="250.2" y1="1425.7" x2="258.2" y2="1425.7" stroke="#e87d2c" stroke-width="1.9"/>
<line x1="250.2" y1="1443.0" x2="258.2" y2="1443.0" stroke="#e87d2c" stroke-width="1.9"/>
<rect x="249.9" y="1430.0" width="8.6" height="8.6" fill="#e87d2c"/>
<line x1="278.8" y1="1432.3" x2="278.8" y2="1449.5" stroke="#e87d2c" stroke-width="1.9"/>
<line x1="274.8" y1="1432.3" x2="282.8" y2="1432.3" stroke="#e87d2c" stroke-width="1.9"/>
<line x1="274.8" y1="1449.5" x2="282.8" y2="1449.5" stroke="#e87d2c" stroke-width="1.9"/>
<rect x="274.5" y="1436.6" width="8.6" height="8.6" fill="#e87d2c"/>
<line x1="303.4" y1="1433.1" x2="303.4" y2="1450.4" stroke="#e87d2c" stroke-width="1.9"/>
<line x1="299.4" y1="1433.1" x2="307.4" y2="1433.1" stroke="#e87d2c" stroke-width="1.9"/>
<line x1="299.4" y1="1450.4" x2="307.4" y2="1450.4" stroke="#e87d2c" stroke-width="1.9"/>
<rect x="299.1" y="1437.5" width="8.6" height="8.6" fill="#e87d2c"/>
<line x1="328.0" y1="1434.0" x2="328.0" y2="1447.8" stroke="#e87d2c" stroke-width="1.9"/>
<line x1="324.0" y1="1434.0" x2="332.0" y2="1434.0" stroke="#e87d2c" stroke-width="1.9"/>
<line x1="324.0" y1="1447.8" x2="332.0" y2="1447.8" stroke="#e87d2c" stroke-width="1.9"/>
<rect x="323.7" y="1436.6" width="8.6" height="8.6" fill="#e87d2c"/>
<line x1="352.6" y1="1424.2" x2="352.6" y2="1441.4" stroke="#e87d2c" stroke-width="1.9"/>
<line x1="348.6" y1="1424.2" x2="356.6" y2="1424.2" stroke="#e87d2c" stroke-width="1.9"/>
<line x1="348.6" y1="1441.4" x2="356.6" y2="1441.4" stroke="#e87d2c" stroke-width="1.9"/>
<rect x="348.3" y="1428.5" width="8.6" height="8.6" fill="#e87d2c"/>
<rect x="102.5" y="1333.9" width="8.6" height="8.6" fill="#e6262b"/>
<line x1="131.3" y1="1335.6" x2="131.3" y2="1340.8" stroke="#e6262b" stroke-width="1.9"/>
<line x1="127.3" y1="1335.6" x2="135.3" y2="1335.6" stroke="#e6262b" stroke-width="1.9"/>
<line x1="127.3" y1="1340.8" x2="135.3" y2="1340.8" stroke="#e6262b" stroke-width="1.9"/>
<rect x="127.0" y="1333.9" width="8.6" height="8.6" fill="#e6262b"/>
<line x1="155.9" y1="1344.8" x2="155.9" y2="1360.3" stroke="#e6262b" stroke-width="1.9"/>
<line x1="151.9" y1="1344.8" x2="159.9" y2="1344.8" stroke="#e6262b" stroke-width="1.9"/>
<line x1="151.9" y1="1360.3" x2="159.9" y2="1360.3" stroke="#e6262b" stroke-width="1.9"/>
<rect x="151.6" y="1348.2" width="8.6" height="8.6" fill="#e6262b"/>
<line x1="180.5" y1="1363.4" x2="180.5" y2="1378.9" stroke="#e6262b" stroke-width="1.9"/>
<line x1="176.5" y1="1363.4" x2="184.5" y2="1363.4" stroke="#e6262b" stroke-width="1.9"/>
<line x1="176.5" y1="1378.9" x2="184.5" y2="1378.9" stroke="#e6262b" stroke-width="1.9"/>
<rect x="176.2" y="1366.9" width="8.6" height="8.6" fill="#e6262b"/>
<line x1="205.1" y1="1384.1" x2="205.1" y2="1389.3" stroke="#e6262b" stroke-width="1.9"/>
<line x1="201.1" y1="1384.1" x2="209.1" y2="1384.1" stroke="#e6262b" stroke-width="1.9"/>
<line x1="201.1" y1="1389.3" x2="209.1" y2="1389.3" stroke="#e6262b" stroke-width="1.9"/>
<rect x="200.8" y="1382.4" width="8.6" height="8.6" fill="#e6262b"/>
<line x1="229.7" y1="1404.5" x2="229.7" y2="1416.6" stroke="#e6262b" stroke-width="1.9"/>
<line x1="225.7" y1="1404.5" x2="233.7" y2="1404.5" stroke="#e6262b" stroke-width="1.9"/>
<line x1="225.7" y1="1416.6" x2="233.7" y2="1416.6" stroke="#e6262b" stroke-width="1.9"/>
<rect x="225.4" y="1406.2" width="8.6" height="8.6" fill="#e6262b"/>
<line x1="254.2" y1="1435.5" x2="254.2" y2="1451.1" stroke="#e6262b" stroke-width="1.9"/>
<line x1="250.2" y1="1435.5" x2="258.2" y2="1435.5" stroke="#e6262b" stroke-width="1.9"/>
<line x1="250.2" y1="1451.1" x2="258.2" y2="1451.1" stroke="#e6262b" stroke-width="1.9"/>
<rect x="249.9" y="1439.0" width="8.6" height="8.6" fill="#e6262b"/>
<line x1="278.8" y1="1466.6" x2="278.8" y2="1483.9" stroke="#e6262b" stroke-width="1.9"/>
<line x1="274.8" y1="1466.6" x2="282.8" y2="1466.6" stroke="#e6262b" stroke-width="1.9"/>
<line x1="274.8" y1="1483.9" x2="282.8" y2="1483.9" stroke="#e6262b" stroke-width="1.9"/>
<rect x="274.5" y="1470.9" width="8.6" height="8.6" fill="#e6262b"/>
<line x1="303.4" y1="1483.7" x2="303.4" y2="1504.1" stroke="#e6262b" stroke-width="1.9"/>
<line x1="299.4" y1="1483.7" x2="307.4" y2="1483.7" stroke="#e6262b" stroke-width="1.9"/>
<line x1="299.4" y1="1504.1" x2="307.4" y2="1504.1" stroke="#e6262b" stroke-width="1.9"/>
<rect x="299.1" y="1489.6" width="8.6" height="8.6" fill="#e6262b"/>
<line x1="328.0" y1="1487.8" x2="328.0" y2="1510.3" stroke="#e6262b" stroke-width="1.9"/>
<line x1="324.0" y1="1487.8" x2="332.0" y2="1487.8" stroke="#e6262b" stroke-width="1.9"/>
<line x1="324.0" y1="1510.3" x2="332.0" y2="1510.3" stroke="#e6262b" stroke-width="1.9"/>
<rect x="323.7" y="1494.8" width="8.6" height="8.6" fill="#e6262b"/>
<line x1="352.6" y1="1481.8" x2="352.6" y2="1504.6" stroke="#e6262b" stroke-width="1.9"/>
<line x1="348.6" y1="1481.8" x2="356.6" y2="1481.8" stroke="#e6262b" stroke-width="1.9"/>
<line x1="348.6" y1="1504.6" x2="356.6" y2="1504.6" stroke="#e6262b" stroke-width="1.9"/>
<rect x="348.3" y="1488.9" width="8.6" height="8.6" fill="#e6262b"/>
<rect x="102.5" y="1333.9" width="8.6" height="8.6" fill="#000000"/>
<line x1="131.3" y1="1339.9" x2="131.3" y2="1344.1" stroke="#000000" stroke-width="1.9"/>
<line x1="127.3" y1="1339.9" x2="135.3" y2="1339.9" stroke="#000000" stroke-width="1.9"/>
<line x1="127.3" y1="1344.1" x2="135.3" y2="1344.1" stroke="#000000" stroke-width="1.9"/>
<rect x="127.0" y="1337.7" width="8.6" height="8.6" fill="#000000"/>
<line x1="155.9" y1="1342.2" x2="155.9" y2="1349.1" stroke="#000000" stroke-width="1.9"/>
<line x1="151.9" y1="1342.2" x2="159.9" y2="1342.2" stroke="#000000" stroke-width="1.9"/>
<line x1="151.9" y1="1349.1" x2="159.9" y2="1349.1" stroke="#000000" stroke-width="1.9"/>
<rect x="151.6" y="1341.3" width="8.6" height="8.6" fill="#000000"/>
<line x1="180.5" y1="1360.5" x2="180.5" y2="1369.1" stroke="#000000" stroke-width="1.9"/>
<line x1="176.5" y1="1360.5" x2="184.5" y2="1360.5" stroke="#000000" stroke-width="1.9"/>
<line x1="176.5" y1="1369.1" x2="184.5" y2="1369.1" stroke="#000000" stroke-width="1.9"/>
<rect x="176.2" y="1360.5" width="8.6" height="8.6" fill="#000000"/>
<line x1="205.1" y1="1402.2" x2="205.1" y2="1414.3" stroke="#000000" stroke-width="1.9"/>
<line x1="201.1" y1="1402.2" x2="209.1" y2="1402.2" stroke="#000000" stroke-width="1.9"/>
<line x1="201.1" y1="1414.3" x2="209.1" y2="1414.3" stroke="#000000" stroke-width="1.9"/>
<rect x="200.8" y="1404.0" width="8.6" height="8.6" fill="#000000"/>
<line x1="229.7" y1="1468.7" x2="229.7" y2="1479.0" stroke="#000000" stroke-width="1.9"/>
<line x1="225.7" y1="1468.7" x2="233.7" y2="1468.7" stroke="#000000" stroke-width="1.9"/>
<line x1="225.7" y1="1479.0" x2="233.7" y2="1479.0" stroke="#000000" stroke-width="1.9"/>
<rect x="225.4" y="1469.6" width="8.6" height="8.6" fill="#000000"/>
<line x1="254.2" y1="1503.7" x2="254.2" y2="1507.2" stroke="#000000" stroke-width="1.9"/>
<line x1="250.2" y1="1503.7" x2="258.2" y2="1503.7" stroke="#000000" stroke-width="1.9"/>
<line x1="250.2" y1="1507.2" x2="258.2" y2="1507.2" stroke="#000000" stroke-width="1.9"/>
<rect x="249.9" y="1501.1" width="8.6" height="8.6" fill="#000000"/>
<rect x="274.5" y="1506.0" width="8.6" height="8.6" fill="#000000"/>
<rect x="299.1" y="1506.5" width="8.6" height="8.6" fill="#000000"/>
<rect x="323.7" y="1506.5" width="8.6" height="8.6" fill="#000000"/>
<rect x="348.3" y="1506.5" width="8.6" height="8.6" fill="#000000"/>
<polyline points="106.8,1338.1 108.0,1339.3 109.2,1340.7 110.4,1342.1 111.7,1343.7 112.9,1345.4 114.1,1347.2 115.4,1349.1 116.6,1351.1 117.8,1353.2 119.0,1355.3 120.3,1357.5 121.5,1359.8 122.7,1362.1 124.0,1364.3 125.2,1366.6 126.4,1368.8 127.7,1371.0 128.9,1373.1 130.1,1375.1 131.3,1377.1 132.6,1378.9 133.8,1380.7 135.0,1382.4 136.3,1384.0 137.5,1385.5 138.7,1386.9 139.9,1388.3 141.2,1389.6 142.4,1390.8 143.6,1391.9 144.9,1393.1 146.1,1394.1 147.3,1395.1 148.5,1396.1 149.8,1397.0 151.0,1397.9 152.2,1398.8 153.5,1399.7 154.7,1400.5 155.9,1401.4 157.1,1402.2 158.4,1403.0 159.6,1403.8 160.8,1404.6 162.1,1405.3 163.3,1406.1 164.5,1406.8 165.8,1407.6 167.0,1408.3 168.2,1409.0 169.4,1409.7 170.7,1410.4 171.9,1411.1 173.1,1411.8 174.4,1412.4 175.6,1413.1 176.8,1413.7 178.0,1414.4 179.3,1415.0 180.5,1415.6 181.7,1416.1 183.0,1416.7 184.2,1417.3 185.4,1417.8 186.6,1418.3 187.9,1418.8 189.1,1419.3 190.3,1419.8 191.6,1420.2 192.8,1420.7 194.0,1421.1 195.2,1421.5 196.5,1421.9 197.7,1422.3 198.9,1422.6 200.2,1423.0 201.4,1423.3 202.6,1423.6 203.9,1423.9 205.1,1424.2 206.3,1424.5 207.5,1424.8 208.8,1425.0 210.0,1425.3 211.2,1425.5 212.5,1425.7 213.7,1425.9 214.9,1426.1 216.1,1426.3 217.4,1426.5 218.6,1426.7 219.8,1426.9 221.1,1427.0 222.3,1427.2 223.5,1427.3 224.7,1427.4 226.0,1427.5 227.2,1427.7 228.4,1427.8 229.7,1427.9 230.9,1428.0 232.1,1428.1 233.3,1428.2 234.6,1428.3 235.8,1428.3 237.0,1428.4 238.3,1428.5 239.5,1428.6 240.7,1428.6 241.9,1428.7 243.2,1428.7 244.4,1428.8 245.6,1428.8 246.9,1428.9 248.1,1428.9 249.3,1429.0 250.6,1429.0 251.8,1429.1 253.0,1429.1 254.2,1429.1 255.5,1429.2 256.7,1429.2 257.9,1429.2 259.2,1429.2 260.4,1429.3 261.6,1429.3 262.8,1429.3 264.1,1429.3 265.3,1429.4 266.5,1429.4 267.8,1429.4 269.0,1429.4 270.2,1429.4 271.4,1429.4 272.7,1429.5 273.9,1429.5 275.1,1429.5 276.4,1429.5 277.6,1429.5 278.8,1429.5 280.0,1429.5 281.3,1429.5 282.5,1429.5 283.7,1429.6 285.0,1429.6 286.2,1429.6 287.4,1429.6 288.7,1429.6 289.9,1429.6 291.1,1429.6 292.3,1429.6 293.6,1429.6 294.8,1429.6 296.0,1429.6 297.3,1429.6 298.5,1429.6 299.7,1429.6 300.9,1429.6 302.2,1429.6 303.4,1429.6 304.6,1429.6 305.9,1429.6 307.1,1429.7 308.3,1429.7 309.5,1429.7 310.8,1429.7 312.0,1429.7 313.2,1429.7 314.5,1429.7 315.7,1429.7 316.9,1429.7 318.1,1429.7 319.4,1429.7 320.6,1429.7 321.8,1429.7 323.1,1429.7 324.3,1429.7 325.5,1429.7 326.8,1429.7 328.0,1429.7 329.2,1429.7 330.4,1429.7 331.7,1429.7 332.9,1429.7 334.1,1429.7 335.4,1429.7 336.6,1429.7 337.8,1429.7 339.0,1429.7 340.3,1429.7 341.5,1429.7 342.7,1429.7 344.0,1429.7 345.2,1429.7 346.4,1429.7 347.6,1429.7 348.9,1429.7 350.1,1429.7 351.3,1429.7 352.6,1429.7 353.8,1429.7 355.0,1429.7 356.2,1429.7 357.5,1429.7 358.7,1429.7 359.9,1429.7 361.2,1429.7 362.4,1429.7 363.6,1429.7 364.8,1429.7 366.1,1429.7 367.3,1429.7 368.5,1429.7 369.8,1429.7" fill="none" stroke="#e87d2c" stroke-width="2.2" stroke-linejoin="round"/>
<polyline points="106.8,1337.4 108.0,1337.7 109.2,1337.9 110.4,1338.2 111.7,1338.5 112.9,1338.8 114.1,1339.1 115.4,1339.4 116.6,1339.8 117.8,1340.1 119.0,1340.5 120.3,1340.9 121.5,1341.3 122.7,1341.8 124.0,1342.2 125.2,1342.8 126.4,1343.3 127.7,1343.9 128.9,1344.5 130.1,1345.2 131.3,1345.9 132.6,1346.7 133.8,1347.6 135.0,1348.5 136.3,1349.5 137.5,1350.6 138.7,1351.8 139.9,1353.1 141.2,1354.5 142.4,1356.0 143.6,1357.6 144.9,1359.3 146.1,1361.1 147.3,1362.9 148.5,1364.8 149.8,1366.8 151.0,1368.7 152.2,1370.7 153.5,1372.7 154.7,1374.6 155.9,1376.5 157.1,1378.4 158.4,1380.2 159.6,1381.9 160.8,1383.5 162.1,1385.1 163.3,1386.6 164.5,1388.0 165.8,1389.3 167.0,1390.6 168.2,1391.9 169.4,1393.0 170.7,1394.2 171.9,1395.3 173.1,1396.4 174.4,1397.5 175.6,1398.5 176.8,1399.5 178.0,1400.5 179.3,1401.5 180.5,1402.5 181.7,1403.5 183.0,1404.5 184.2,1405.5 185.4,1406.4 186.6,1407.4 187.9,1408.4 189.1,1409.3 190.3,1410.3 191.6,1411.3 192.8,1412.3 194.0,1413.2 195.2,1414.2 196.5,1415.2 197.7,1416.1 198.9,1417.1 200.2,1418.1 201.4,1419.0 202.6,1420.0 203.9,1421.0 205.1,1421.9 206.3,1422.9 207.5,1423.8 208.8,1424.8 210.0,1425.7 211.2,1426.6 212.5,1427.6 213.7,1428.5 214.9,1429.4 216.1,1430.3 217.4,1431.2 218.6,1432.1 219.8,1433.0 221.1,1433.9 222.3,1434.7 223.5,1435.6 224.7,1436.4 226.0,1437.3 227.2,1438.1 228.4,1438.9 229.7,1439.7 230.9,1440.5 232.1,1441.3 233.3,1442.0 234.6,1442.8 235.8,1443.5 237.0,1444.2 238.3,1445.0 239.5,1445.7 240.7,1446.3 241.9,1447.0 243.2,1447.7 244.4,1448.3 245.6,1449.0 246.9,1449.6 248.1,1450.2 249.3,1450.8 250.6,1451.4 251.8,1451.9 253.0,1452.5 254.2,1453.0 255.5,1453.6 256.7,1454.1 257.9,1454.6 259.2,1455.1 260.4,1455.6 261.6,1456.0 262.8,1456.5 264.1,1456.9 265.3,1457.4 266.5,1457.8 267.8,1458.2 269.0,1458.6 270.2,1459.0 271.4,1459.4 272.7,1459.7 273.9,1460.1 275.1,1460.4 276.4,1460.8 277.6,1461.1 278.8,1461.4 280.0,1461.7 281.3,1462.0 282.5,1462.3 283.7,1462.6 285.0,1462.9 286.2,1463.2 287.4,1463.4 288.7,1463.7 289.9,1463.9 291.1,1464.1 292.3,1464.4 293.6,1464.6 294.8,1464.8 296.0,1465.0 297.3,1465.2 298.5,1465.4 299.7,1465.6 300.9,1465.8 302.2,1466.0 303.4,1466.1 304.6,1466.3 305.9,1466.5 307.1,1466.6 308.3,1466.8 309.5,1466.9 310.8,1467.1 312.0,1467.2 313.2,1467.3 314.5,1467.5 315.7,1467.6 316.9,1467.7 318.1,1467.8 319.4,1467.9 320.6,1468.0 321.8,1468.1 323.1,1468.3 324.3,1468.3 325.5,1468.4 326.8,1468.5 328.0,1468.6 329.2,1468.7 330.4,1468.8 331.7,1468.9 332.9,1468.9 334.1,1469.0 335.4,1469.1 336.6,1469.2 337.8,1469.2 339.0,1469.3 340.3,1469.4 341.5,1469.4 342.7,1469.5 344.0,1469.5 345.2,1469.6 346.4,1469.6 347.6,1469.7 348.9,1469.7 350.1,1469.8 351.3,1469.8 352.6,1469.9 353.8,1469.9 355.0,1470.0 356.2,1470.0 357.5,1470.0 358.7,1470.1 359.9,1470.1 361.2,1470.2 362.4,1470.2 363.6,1470.2 364.8,1470.3 366.1,1470.3 367.3,1470.3 368.5,1470.3 369.8,1470.4" fill="none" stroke="#2b8c47" stroke-width="2.2" stroke-linejoin="round"/>
<polyline points="106.8,1338.3 108.0,1338.6 109.2,1338.8 110.4,1339.1 111.7,1339.4 112.9,1339.7 114.1,1339.9 115.4,1340.2 116.6,1340.5 117.8,1340.8 119.0,1341.1 120.3,1341.4 121.5,1341.7 122.7,1342.0 124.0,1342.4 125.2,1342.7 126.4,1343.0 127.7,1343.3 128.9,1343.7 130.1,1344.0 131.3,1344.4 132.6,1344.7 133.8,1345.1 135.0,1345.4 136.3,1345.8 137.5,1346.2 138.7,1346.5 139.9,1346.9 141.2,1347.3 142.4,1347.7 143.6,1348.1 144.9,1348.5 146.1,1348.9 147.3,1349.3 148.5,1349.7 149.8,1350.2 151.0,1350.6 152.2,1351.1 153.5,1351.5 154.7,1352.0 155.9,1352.4 157.1,1352.9 158.4,1353.4 159.6,1353.9 160.8,1354.4 162.1,1354.9 163.3,1355.4 164.5,1355.9 165.8,1356.5 167.0,1357.0 168.2,1357.6 169.4,1358.1 170.7,1358.7 171.9,1359.3 173.1,1359.9 174.4,1360.5 175.6,1361.2 176.8,1361.8 178.0,1362.5 179.3,1363.2 180.5,1363.9 181.7,1364.6 183.0,1365.3 184.2,1366.1 185.4,1366.9 186.6,1367.7 187.9,1368.5 189.1,1369.3 190.3,1370.2 191.6,1371.0 192.8,1371.9 194.0,1372.9 195.2,1373.8 196.5,1374.8 197.7,1375.8 198.9,1376.8 200.2,1377.9 201.4,1379.0 202.6,1380.1 203.9,1381.2 205.1,1382.4 206.3,1383.6 207.5,1384.8 208.8,1386.1 210.0,1387.4 211.2,1388.7 212.5,1390.0 213.7,1391.4 214.9,1392.8 216.1,1394.2 217.4,1395.7 218.6,1397.2 219.8,1398.7 221.1,1400.3 222.3,1401.8 223.5,1403.4 224.7,1405.1 226.0,1406.7 227.2,1408.4 228.4,1410.1 229.7,1411.8 230.9,1413.5 232.1,1415.2 233.3,1417.0 234.6,1418.7 235.8,1420.5 237.0,1422.2 238.3,1424.0 239.5,1425.8 240.7,1427.6 241.9,1429.3 243.2,1431.1 244.4,1432.8 245.6,1434.6 246.9,1436.3 248.1,1438.1 249.3,1439.8 250.6,1441.5 251.8,1443.1 253.0,1444.8 254.2,1446.4 255.5,1448.0 256.7,1449.6 257.9,1451.1 259.2,1452.6 260.4,1454.1 261.6,1455.6 262.8,1457.0 264.1,1458.4 265.3,1459.8 266.5,1461.1 267.8,1462.4 269.0,1463.6 270.2,1464.9 271.4,1466.0 272.7,1467.2 273.9,1468.3 275.1,1469.4 276.4,1470.4 277.6,1471.5 278.8,1472.4 280.0,1473.4 281.3,1474.3 282.5,1475.2 283.7,1476.0 285.0,1476.8 286.2,1477.6 287.4,1478.4 288.7,1479.1 289.9,1479.8 291.1,1480.5 292.3,1481.1 293.6,1481.8 294.8,1482.4 296.0,1482.9 297.3,1483.5 298.5,1484.0 299.7,1484.5 300.9,1485.0 302.2,1485.5 303.4,1485.9 304.6,1486.3 305.9,1486.7 307.1,1487.1 308.3,1487.5 309.5,1487.8 310.8,1488.2 312.0,1488.5 313.2,1488.8 314.5,1489.1 315.7,1489.4 316.9,1489.7 318.1,1489.9 319.4,1490.2 320.6,1490.4 321.8,1490.6 323.1,1490.8 324.3,1491.0 325.5,1491.2 326.8,1491.4 328.0,1491.6 329.2,1491.8 330.4,1491.9 331.7,1492.1 332.9,1492.2 334.1,1492.4 335.4,1492.5 336.6,1492.6 337.8,1492.8 339.0,1492.9 340.3,1493.0 341.5,1493.1 342.7,1493.2 344.0,1493.3 345.2,1493.4 346.4,1493.5 347.6,1493.6 348.9,1493.6 350.1,1493.7 351.3,1493.8 352.6,1493.9 353.8,1493.9 355.0,1494.0 356.2,1494.1 357.5,1494.1 358.7,1494.2 359.9,1494.2 361.2,1494.3 362.4,1494.3 363.6,1494.4 364.8,1494.4 366.1,1494.5 367.3,1494.5 368.5,1494.5 369.8,1494.6" fill="none" stroke="#e6262b" stroke-width="2.2" stroke-linejoin="round"/>
<polyline points="106.8,1340.8 108.0,1340.8 109.2,1340.8 110.4,1340.9 111.7,1340.9 112.9,1340.9 114.1,1340.9 115.4,1341.0 116.6,1341.0 117.8,1341.1 119.0,1341.1 120.3,1341.1 121.5,1341.2 122.7,1341.2 124.0,1341.3 125.2,1341.4 126.4,1341.4 127.7,1341.5 128.9,1341.6 130.1,1341.7 131.3,1341.7 132.6,1341.8 133.8,1341.9 135.0,1342.0 136.3,1342.2 137.5,1342.3 138.7,1342.4 139.9,1342.6 141.2,1342.7 142.4,1342.9 143.6,1343.0 144.9,1343.2 146.1,1343.4 147.3,1343.6 148.5,1343.9 149.8,1344.1 151.0,1344.4 152.2,1344.7 153.5,1345.0 154.7,1345.3 155.9,1345.6 157.1,1346.0 158.4,1346.4 159.6,1346.8 160.8,1347.3 162.1,1347.7 163.3,1348.2 164.5,1348.8 165.8,1349.4 167.0,1350.0 168.2,1350.6 169.4,1351.3 170.7,1352.0 171.9,1352.8 173.1,1353.6 174.4,1354.5 175.6,1355.4 176.8,1356.4 178.0,1357.5 179.3,1358.5 180.5,1359.7 181.7,1360.9 183.0,1362.2 184.2,1363.5 185.4,1364.9 186.6,1366.4 187.9,1368.0 189.1,1369.6 190.3,1371.3 191.6,1373.1 192.8,1375.0 194.0,1377.0 195.2,1379.0 196.5,1381.2 197.7,1383.5 198.9,1386.0 200.2,1388.6 201.4,1391.4 202.6,1394.4 203.9,1397.6 205.1,1401.1 206.3,1404.8 207.5,1408.8 208.8,1413.1 210.0,1417.6 211.2,1422.4 212.5,1427.3 213.7,1432.3 214.9,1437.4 216.1,1442.3 217.4,1447.0 218.6,1451.6 219.8,1455.8 221.1,1459.7 222.3,1463.3 223.5,1466.7 224.7,1469.7 226.0,1472.5 227.2,1475.0 228.4,1477.4 229.7,1479.5 230.9,1481.6 232.1,1483.4 233.3,1485.2 234.6,1486.8 235.8,1488.3 237.0,1489.8 238.3,1491.1 239.5,1492.4 240.7,1493.6 241.9,1494.7 243.2,1495.8 244.4,1496.8 245.6,1497.7 246.9,1498.6 248.1,1499.4 249.3,1500.2 250.6,1501.0 251.8,1501.7 253.0,1502.3 254.2,1502.9 255.5,1503.5 256.7,1504.1 257.9,1504.6 259.2,1505.0 260.4,1505.5 261.6,1505.9 262.8,1506.3 264.1,1506.7 265.3,1507.0 266.5,1507.3 267.8,1507.6 269.0,1507.9 270.2,1508.2 271.4,1508.4 272.7,1508.7 273.9,1508.9 275.1,1509.1 276.4,1509.3 277.6,1509.4 278.8,1509.6 280.0,1509.8 281.3,1509.9 282.5,1510.0 283.7,1510.2 285.0,1510.3 286.2,1510.4 287.4,1510.5 288.7,1510.6 289.9,1510.7 291.1,1510.7 292.3,1510.8 293.6,1510.9 294.8,1511.0 296.0,1511.0 297.3,1511.1 298.5,1511.1 299.7,1511.2 300.9,1511.2 302.2,1511.3 303.4,1511.3 304.6,1511.3 305.9,1511.4 307.1,1511.4 308.3,1511.4 309.5,1511.5 310.8,1511.5 312.0,1511.5 313.2,1511.5 314.5,1511.6 315.7,1511.6 316.9,1511.6 318.1,1511.6 319.4,1511.6 320.6,1511.7 321.8,1511.7 323.1,1511.7 324.3,1511.7 325.5,1511.7 326.8,1511.7 328.0,1511.7 329.2,1511.7 330.4,1511.7 331.7,1511.7 332.9,1511.8 334.1,1511.8 335.4,1511.8 336.6,1511.8 337.8,1511.8 339.0,1511.8 340.3,1511.8 341.5,1511.8 342.7,1511.8 344.0,1511.8 345.2,1511.8 346.4,1511.8 347.6,1511.8 348.9,1511.8 350.1,1511.8 351.3,1511.8 352.6,1511.8 353.8,1511.8 355.0,1511.8 356.2,1511.8 357.5,1511.8 358.7,1511.8 359.9,1511.8 361.2,1511.8 362.4,1511.8 363.6,1511.8 364.8,1511.8 366.1,1511.8 367.3,1511.8 368.5,1511.8 369.8,1511.8" fill="none" stroke="#000000" stroke-width="2.2" stroke-linejoin="round"/>
<rect x="386.9" y="1363.0" width="9.8" height="9.8" fill="#000000"/>
<text x="403.0" y="1372.9" font-size="21.00" fill="#000">WT</text>
<rect x="386.9" y="1387.1" width="9.8" height="9.8" fill="#2b8c47"/>
<text x="401.4" y="1397.0" font-size="21.00" fill="#000">M375F</text>
<rect x="386.9" y="1411.2" width="9.8" height="9.8" fill="#e87d2c"/>
<text x="401.4" y="1421.1" font-size="21.00" fill="#000">F459M</text>
<rect x="386.9" y="1435.3" width="9.8" height="9.8" fill="#e6262b"/>
<text x="401.4" y="1445.2" font-size="21.00" fill="#000">M375F/F459M</text>
<text x="484.8" y="892.2" font-size="33.00" fill="#000" font-weight="bold">f</text>
<text x="681.9" y="896.5" font-size="28.43" fill="#000">WT</text>
<text x="1078.7" y="896.4" font-size="29.20" fill="#3db54a">M375F</text>
<text x="645.9" y="1282.3" font-size="30.14" fill="#e8843a">F459M</text>
<text x="1033.1" y="1282.5" font-size="29.42" fill="#e3262c">M375F/F459M</text>
<line x1="518.4" y1="1060.2" x2="1423.0" y2="1060.2" stroke="#000" stroke-width="2.5" stroke-dasharray="8.4 8.2" stroke-dashoffset="13.8"/>
<line x1="520.2" y1="1408.3" x2="1423.0" y2="1408.3" stroke="#000" stroke-width="2.5" stroke-dasharray="8.4 8.4"/>
<polyline points="562.2,1060.4 563.7,1060.5 565.2,1060.2 566.7,1060.4 568.2,1060.0 569.7,1060.0 571.2,1060.4 572.7,1060.5 574.2,1060.4 575.7,1059.9 577.2,1060.2 578.7,1058.9 580.2,1059.9 581.7,1060.3 583.2,1060.2 584.7,1059.4 586.2,1059.8 587.7,1060.2 589.2,1060.4 590.7,1060.5 592.2,1060.5 593.7,1059.8 595.2,1058.9 596.7,1059.8" fill="none" stroke="#000" stroke-width="2.8" stroke-linejoin="round"/>
<polyline points="601.0,1066.7 602.2,1071.5 603.4,1075.3 604.6,1079.0 605.8,1081.0 607.0,1084.7 608.2,1086.6 609.4,1088.8 610.6,1090.7 611.8,1092.0 613.0,1093.4 614.2,1094.2 615.4,1095.3 616.6,1096.6 617.8,1097.3 619.0,1097.8 620.2,1098.9 621.4,1099.3 622.6,1099.6 623.8,1100.6 625.0,1100.8 626.2,1101.3 627.4,1102.0 628.6,1102.3 629.8,1103.0 631.0,1103.1 632.2,1103.3 633.4,1103.8 634.6,1104.0 635.8,1104.7 637.0,1104.9 638.2,1105.2 639.4,1105.4 640.6,1105.8 641.8,1106.4 643.0,1106.7 644.2,1107.1 645.4,1107.5 646.6,1107.7 647.8,1107.8 649.0,1108.5 650.2,1108.2 651.4,1108.8 652.6,1108.9 653.8,1109.3 655.0,1109.5 656.2,1109.7 657.4,1110.2 658.6,1110.5 659.8,1110.5 661.0,1109.9 662.2,1111.3 663.4,1111.7 664.6,1112.0 665.8,1112.2 667.0,1112.3 668.2,1112.4 669.4,1113.0 670.6,1113.2 671.8,1113.2 673.0,1113.9 674.2,1113.7 675.4,1114.0 676.6,1114.4 677.8,1114.5 679.0,1114.8 680.2,1115.3 681.4,1116.2 682.6,1115.7 683.8,1114.8 685.0,1116.9 686.2,1116.2 687.4,1116.5 688.6,1116.5 689.8,1117.0 691.0,1117.2 692.2,1117.6 693.4,1117.4 694.6,1118.1 695.8,1118.2 697.0,1118.3 698.2,1118.3 699.4,1118.9 700.6,1118.8 701.8,1120.4 703.0,1119.4 704.2,1119.5 705.4,1119.6 706.6,1120.1 707.8,1120.2 709.0,1121.4 710.2,1120.7 711.4,1120.6 712.6,1120.7 713.8,1120.8 715.0,1121.5 716.2,1121.3 717.4,1121.8 718.6,1121.7 719.8,1122.3 721.0,1122.3 722.2,1122.6 723.4,1122.4 724.6,1122.8 725.8,1122.7 727.0,1123.1 728.2,1123.3 729.4,1123.4 730.6,1123.7 731.8,1123.9 733.0,1123.8 734.2,1123.9 735.4,1124.4 736.6,1124.5 737.8,1124.4 739.0,1125.0 740.2,1124.7 741.4,1125.2 742.6,1125.5 743.8,1125.4 745.0,1125.4 746.2,1125.7 747.4,1126.1 748.6,1126.0 749.8,1125.0 751.0,1126.4 752.2,1126.5 753.4,1126.4 754.6,1127.1 755.8,1127.0 757.0,1127.4 758.2,1127.5 759.4,1127.5 760.6,1127.3 761.8,1127.6 763.0,1127.6 764.2,1128.2 765.4,1127.9 766.6,1127.9 767.8,1128.2 769.0,1128.6 770.2,1128.4 771.4,1128.6 772.6,1128.8 773.8,1128.9 775.0,1129.0 776.2,1129.3 777.4,1129.4 778.6,1129.5 779.8,1129.9 781.0,1129.9 782.2,1129.9 783.4,1131.2 784.6,1130.3 785.8,1130.1 787.0,1130.2 788.2,1130.6 789.4,1130.7 790.6,1130.7 791.8,1130.9 793.0,1130.7" fill="none" stroke="#000" stroke-width="2.4" stroke-linejoin="round"/>
<polyline points="601.0,1064.4 602.2,1067.0 603.4,1069.5 604.6,1071.2 605.8,1073.0 607.0,1074.7 608.2,1075.8 609.4,1076.7 610.6,1077.6 611.8,1078.7 613.0,1079.5 614.2,1079.9 615.4,1080.6 616.6,1081.1 617.8,1081.9 619.0,1082.3 620.2,1082.4 621.4,1082.8 622.6,1083.1 623.8,1083.8 625.0,1084.3 626.2,1084.6 627.4,1084.5 628.6,1084.7 629.8,1086.2 631.0,1085.7 632.2,1086.1 633.4,1085.9 634.6,1086.3 635.8,1086.6 637.0,1086.8 638.2,1086.8 639.4,1087.0 640.6,1087.6 641.8,1087.8 643.0,1088.2 644.2,1087.9 645.4,1088.6 646.6,1088.5 647.8,1088.6 649.0,1089.2 650.2,1089.1 651.4,1089.2 652.6,1089.7 653.8,1089.8 655.0,1089.8 656.2,1090.4 657.4,1090.3 658.6,1090.6 659.8,1090.8 661.0,1091.1 662.2,1091.3 663.4,1091.2 664.6,1091.7 665.8,1091.6 667.0,1092.1 668.2,1092.1 669.4,1092.3 670.6,1092.7 671.8,1092.4 673.0,1093.6 674.2,1093.2 675.4,1093.0 676.6,1093.2 677.8,1093.5 679.0,1093.8 680.2,1093.6 681.4,1094.8 682.6,1094.1 683.8,1094.1 685.0,1094.3 686.2,1094.9 687.4,1095.2 688.6,1095.1 689.8,1094.9 691.0,1095.2 692.2,1095.3 693.4,1095.6 694.6,1095.8 695.8,1096.1 697.0,1096.2 698.2,1096.4 699.4,1096.7 700.6,1096.3 701.8,1096.8 703.0,1097.1 704.2,1097.3 705.4,1097.2 706.6,1097.2 707.8,1097.5 709.0,1097.6 710.2,1097.8 711.4,1097.9 712.6,1097.7 713.8,1098.2 715.0,1098.6 716.2,1098.4 717.4,1098.6 718.6,1099.9 719.8,1098.9 721.0,1099.1 722.2,1099.3 723.4,1099.0 724.6,1099.5 725.8,1099.6 727.0,1099.7 728.2,1099.5 729.4,1100.0 730.6,1099.9 731.8,1100.3 733.0,1100.1 734.2,1100.6 735.4,1100.3 736.6,1100.7 737.8,1100.4 739.0,1100.4 740.2,1101.0 741.4,1100.9 742.6,1101.0 743.8,1101.2 745.0,1101.5 746.2,1101.4 747.4,1101.5 748.6,1101.4 749.8,1101.5 751.0,1102.1 752.2,1102.2 753.4,1102.3 754.6,1102.1 755.8,1102.4 757.0,1102.6 758.2,1102.3 759.4,1102.5 760.6,1102.8 761.8,1102.9 763.0,1102.7 764.2,1102.9 765.4,1102.2 766.6,1103.0 767.8,1102.9 769.0,1103.5 770.2,1103.5 771.4,1103.5 772.6,1103.4 773.8,1103.5 775.0,1105.0 776.2,1103.6 777.4,1104.1 778.6,1104.0 779.8,1103.9 781.0,1104.1 782.2,1104.4 783.4,1104.4 784.6,1104.3 785.8,1104.4 787.0,1104.8 788.2,1104.6 789.4,1105.0 790.6,1104.9 791.8,1105.2 793.0,1105.0" fill="none" stroke="#000" stroke-width="2.4" stroke-linejoin="round"/>
<polyline points="601.0,1063.4 602.2,1064.3 603.4,1065.5 604.6,1066.2 605.8,1067.5 607.0,1067.9 608.2,1068.8 609.4,1068.8 610.6,1069.7 611.8,1070.1 613.0,1070.3 614.2,1070.6 615.4,1071.2 616.6,1071.5 617.8,1071.8 619.0,1072.0 620.2,1072.2 621.4,1073.4 622.6,1072.3 623.8,1072.3 625.0,1072.7 626.2,1072.7 627.4,1073.2 628.6,1073.5 629.8,1073.2 631.0,1073.5 632.2,1073.9 633.4,1073.6 634.6,1073.6 635.8,1074.0 637.0,1074.4 638.2,1074.1 639.4,1074.2 640.6,1074.5 641.8,1074.6 643.0,1074.6 644.2,1074.8 645.4,1075.0 646.6,1074.8 647.8,1075.1 649.0,1075.5 650.2,1075.6 651.4,1075.5 652.6,1075.3 653.8,1075.8 655.0,1075.8 656.2,1076.1 657.4,1075.8 658.6,1076.2 659.8,1076.0 661.0,1076.1 662.2,1076.5 663.4,1076.5 664.6,1076.5 665.8,1076.9 667.0,1077.0 668.2,1077.1 669.4,1077.1 670.6,1077.2 671.8,1077.5 673.0,1077.3 674.2,1077.2 675.4,1077.3 676.6,1077.3 677.8,1077.9 679.0,1077.9 680.2,1077.7 681.4,1077.8 682.6,1078.0 683.8,1078.2 685.0,1078.5 686.2,1077.6 687.4,1078.4 688.6,1078.6 689.8,1078.6 691.0,1078.7 692.2,1078.6 693.4,1078.8 694.6,1078.8 695.8,1079.1 697.0,1079.2 698.2,1079.3 699.4,1079.3 700.6,1079.2 701.8,1079.2 703.0,1079.7 704.2,1079.2 705.4,1079.8 706.6,1079.5 707.8,1079.6 709.0,1079.9 710.2,1079.8 711.4,1079.9 712.6,1080.0 713.8,1080.3 715.0,1080.4 716.2,1080.3 717.4,1080.5 718.6,1080.2 719.8,1080.6 721.0,1080.4 722.2,1080.7 723.4,1080.7 724.6,1080.5 725.8,1080.9 727.0,1080.9 728.2,1080.7 729.4,1081.0 730.6,1081.1 731.8,1080.8 733.0,1081.2 734.2,1081.0 735.4,1081.5 736.6,1081.2 737.8,1081.3 739.0,1081.3 740.2,1081.6 741.4,1081.7 742.6,1081.9 743.8,1081.5 745.0,1081.6 746.2,1081.8 747.4,1081.8 748.6,1081.9 749.8,1082.0 751.0,1082.3 752.2,1082.1 753.4,1082.1 754.6,1082.3 755.8,1082.0 757.0,1082.5 758.2,1083.5 759.4,1082.7 760.6,1082.5 761.8,1082.3 763.0,1082.8 764.2,1082.7 765.4,1083.0 766.6,1082.9 767.8,1082.7 769.0,1082.8 770.2,1082.6 771.4,1082.9 772.6,1083.0 773.8,1082.9 775.0,1082.8 776.2,1082.9 777.4,1083.3 778.6,1083.5 779.8,1083.5 781.0,1083.4 782.2,1084.4 783.4,1083.4 784.6,1083.6 785.8,1083.2 787.0,1083.4 788.2,1083.4 789.4,1083.8 790.6,1083.5 791.8,1083.8 793.0,1083.5" fill="none" stroke="#000" stroke-width="2.4" stroke-linejoin="round"/>
<polyline points="601.0,1063.9 602.2,1063.3 603.4,1064.0 604.6,1064.2 605.8,1064.8 607.0,1064.7 608.2,1065.0 609.4,1065.4 610.6,1065.7 611.8,1065.8 613.0,1065.9 614.2,1066.2 615.4,1066.6 616.6,1066.4 617.8,1066.5 619.0,1066.6 620.2,1066.6 621.4,1066.8 622.6,1067.3 623.8,1067.4 625.0,1067.2 626.2,1067.4 627.4,1067.5 628.6,1067.5 629.8,1067.6 631.0,1067.5 632.2,1067.8 633.4,1067.5 634.6,1067.7 635.8,1068.2 637.0,1067.7 638.2,1067.7 639.4,1067.8 640.6,1068.1 641.8,1068.1 643.0,1068.0 644.2,1068.3 645.4,1068.1 646.6,1068.3 647.8,1068.4 649.0,1068.3 650.2,1068.4 651.4,1068.3 652.6,1068.5 653.8,1068.8 655.0,1068.9 656.2,1069.1 657.4,1069.0 658.6,1069.1 659.8,1069.2 661.0,1068.8 662.2,1069.2 663.4,1069.0 664.6,1069.3 665.8,1069.4 667.0,1069.5 668.2,1069.1 669.4,1069.3 670.6,1069.6 671.8,1069.6 673.0,1070.6 674.2,1069.4 675.4,1069.7 676.6,1069.4 677.8,1069.7 679.0,1069.6 680.2,1069.5 681.4,1069.7 682.6,1070.1 683.8,1069.9 685.0,1069.8 686.2,1070.0 687.4,1069.7 688.6,1070.1 689.8,1069.9 691.0,1070.3 692.2,1070.0 693.4,1070.0 694.6,1070.0 695.8,1070.2 697.0,1070.1 698.2,1070.1 699.4,1070.3 700.6,1070.6 701.8,1070.4 703.0,1070.6 704.2,1070.5 705.4,1070.4 706.6,1070.6 707.8,1070.5 709.0,1070.4 710.2,1070.6 711.4,1070.7 712.6,1070.6 713.8,1070.7 715.0,1071.8 716.2,1070.7 717.4,1070.6 718.6,1070.8 719.8,1071.0 721.0,1071.2 722.2,1071.1 723.4,1070.8 724.6,1071.1 725.8,1072.2 727.0,1071.4 728.2,1071.2 729.4,1071.0 730.6,1071.3 731.8,1071.2 733.0,1071.2 734.2,1071.5 735.4,1071.5 736.6,1071.4 737.8,1071.6 739.0,1071.6 740.2,1071.6 741.4,1071.4 742.6,1071.4 743.8,1071.3 745.0,1071.6 746.2,1071.5 747.4,1071.7 748.6,1071.9 749.8,1071.6 751.0,1071.9 752.2,1071.5 753.4,1071.8 754.6,1072.1 755.8,1071.9 757.0,1071.8 758.2,1072.0 759.4,1071.6 760.6,1071.7 761.8,1072.1 763.0,1072.2 764.2,1071.8 765.4,1072.1 766.6,1071.9 767.8,1072.0 769.0,1071.9 770.2,1071.9 771.4,1072.0 772.6,1072.3 773.8,1072.2 775.0,1072.3 776.2,1072.4 777.4,1072.3 778.6,1072.3 779.8,1072.1 781.0,1071.5 782.2,1072.1 783.4,1072.5 784.6,1072.6 785.8,1072.2 787.0,1072.5 788.2,1072.3 789.4,1072.7 790.6,1072.7 791.8,1072.4 793.0,1072.7" fill="none" stroke="#000" stroke-width="2.4" stroke-linejoin="round"/>
<polyline points="601.0,1062.2 602.2,1062.6 603.4,1063.0 604.6,1063.0 605.8,1063.6 607.0,1063.4 608.2,1063.5 609.4,1063.5 610.6,1064.0 611.8,1064.1 613.0,1064.2 614.2,1064.5 615.4,1064.1 616.6,1064.5 617.8,1064.6 619.0,1063.3 620.2,1064.7 621.4,1064.6 622.6,1064.5 623.8,1065.0 625.0,1064.8 626.2,1064.0 627.4,1065.0 628.6,1065.1 629.8,1065.1 631.0,1065.2 632.2,1065.0 633.4,1065.3 634.6,1066.4 635.8,1065.2 637.0,1064.9 638.2,1065.4 639.4,1066.3 640.6,1065.0 641.8,1065.1 643.0,1065.3 644.2,1065.4 645.4,1065.7 646.6,1065.5 647.8,1065.4 649.0,1065.4 650.2,1065.8 651.4,1065.8 652.6,1065.4 653.8,1065.4 655.0,1066.0 656.2,1066.0 657.4,1066.6 658.6,1066.7 659.8,1065.7 661.0,1065.9 662.2,1065.7 663.4,1066.0 664.6,1065.9 665.8,1065.8 667.0,1066.0 668.2,1065.8 669.4,1066.3 670.6,1066.3 671.8,1065.9 673.0,1066.3 674.2,1066.9 675.4,1066.4 676.6,1066.4 677.8,1066.5 679.0,1066.4 680.2,1066.1 681.4,1066.0 682.6,1066.5 683.8,1066.6 685.0,1066.2 686.2,1066.1 687.4,1066.4 688.6,1066.4 689.8,1066.2 691.0,1066.6 692.2,1066.3 693.4,1066.7 694.6,1066.6 695.8,1066.8 697.0,1066.3 698.2,1066.4 699.4,1066.4 700.6,1066.7 701.8,1066.8 703.0,1066.8 704.2,1066.5 705.4,1066.9 706.6,1067.0 707.8,1066.7 709.0,1067.0 710.2,1067.1 711.4,1067.1 712.6,1067.1 713.8,1067.0 715.0,1067.1 716.2,1067.3 717.4,1067.2 718.6,1067.2 719.8,1066.9 721.0,1067.3 722.2,1066.9 723.4,1067.3 724.6,1066.9 725.8,1067.2 727.0,1067.3 728.2,1068.5 729.4,1067.1 730.6,1067.1 731.8,1067.0 733.0,1067.5 734.2,1067.1 735.4,1067.0 736.6,1067.1 737.8,1067.6 739.0,1067.5 740.2,1067.1 741.4,1067.3 742.6,1067.5 743.8,1067.4 745.0,1067.2 746.2,1067.6 747.4,1067.2 748.6,1067.4 749.8,1067.4 751.0,1067.7 752.2,1067.8 753.4,1067.3 754.6,1067.8 755.8,1067.5 757.0,1067.8 758.2,1067.6 759.4,1067.8 760.6,1067.6 761.8,1067.8 763.0,1067.5 764.2,1067.6 765.4,1067.4 766.6,1067.7 767.8,1067.9 769.0,1067.7 770.2,1067.7 771.4,1068.0 772.6,1067.5 773.8,1067.7 775.0,1067.6 776.2,1067.6 777.4,1067.6 778.6,1068.1 779.8,1068.0 781.0,1067.6 782.2,1067.6 783.4,1069.2 784.6,1068.2 785.8,1068.1 787.0,1069.1 788.2,1068.7 789.4,1067.8 790.6,1068.2 791.8,1067.7 793.0,1067.9" fill="none" stroke="#000" stroke-width="2.4" stroke-linejoin="round"/>
<polyline points="601.0,1062.4 602.2,1063.5 603.4,1062.7 604.6,1062.6 605.8,1062.4 607.0,1062.6 608.2,1063.1 609.4,1063.0 610.6,1062.9 611.8,1063.2 613.0,1063.2 614.2,1063.3 615.4,1063.2 616.6,1063.2 617.8,1062.3 619.0,1063.4 620.2,1063.2 621.4,1063.6 622.6,1063.3 623.8,1063.7 625.0,1063.6 626.2,1063.6 627.4,1063.4 628.6,1063.6 629.8,1063.4 631.0,1063.7 632.2,1063.5 633.4,1063.3 634.6,1063.5 635.8,1063.4 637.0,1063.8 638.2,1063.5 639.4,1063.9 640.6,1063.5 641.8,1063.7 643.0,1063.5 644.2,1063.8 645.4,1063.6 646.6,1063.8 647.8,1063.7 649.0,1063.8 650.2,1063.9 651.4,1063.9 652.6,1062.8 653.8,1063.6 655.0,1064.1 656.2,1064.1 657.4,1063.7 658.6,1063.9 659.8,1064.0 661.0,1064.1 662.2,1063.8 663.4,1063.9 664.6,1064.1 665.8,1064.1 667.0,1064.2 668.2,1064.1 669.4,1064.3 670.6,1063.9 671.8,1064.1 673.0,1063.9 674.2,1064.2 675.4,1064.2 676.6,1064.2 677.8,1064.0 679.0,1064.4 680.2,1064.5 681.4,1064.2 682.6,1064.3 683.8,1064.5 685.0,1064.2 686.2,1064.3 687.4,1064.3 688.6,1064.3 689.8,1064.4 691.0,1064.6 692.2,1064.5 693.4,1064.6 694.6,1064.7 695.8,1064.7 697.0,1064.2 698.2,1064.4 699.4,1064.3 700.6,1064.8 701.8,1063.7 703.0,1064.5 704.2,1064.7 705.4,1064.4 706.6,1064.5 707.8,1064.5 709.0,1064.6 710.2,1064.9 711.4,1064.4 712.6,1064.8 713.8,1064.9 715.0,1064.5 716.2,1064.4 717.4,1064.9 718.6,1064.6 719.8,1064.4 721.0,1064.6 722.2,1064.6 723.4,1064.6 724.6,1064.8 725.8,1064.8 727.0,1064.7 728.2,1064.8 729.4,1064.9 730.6,1064.7 731.8,1065.0 733.0,1065.0 734.2,1064.6 735.4,1064.9 736.6,1064.9 737.8,1064.7 739.0,1065.0 740.2,1064.8 741.4,1065.0 742.6,1065.1 743.8,1064.7 745.0,1064.6 746.2,1064.9 747.4,1064.6 748.6,1065.1 749.8,1065.0 751.0,1064.7 752.2,1065.0 753.4,1064.8 754.6,1064.9 755.8,1064.9 757.0,1065.0 758.2,1064.9 759.4,1065.1 760.6,1065.2 761.8,1065.2 763.0,1065.0 764.2,1064.8 765.4,1065.2 766.6,1065.0 767.8,1064.8 769.0,1064.9 770.2,1065.3 771.4,1065.2 772.6,1064.9 773.8,1065.1 775.0,1065.9 776.2,1064.9 777.4,1065.2 778.6,1065.2 779.8,1065.4 781.0,1064.8 782.2,1064.9 783.4,1064.9 784.6,1065.2 785.8,1065.1 787.0,1065.3 788.2,1065.0 789.4,1065.4 790.6,1065.4 791.8,1065.1 793.0,1065.0" fill="none" stroke="#000" stroke-width="2.4" stroke-linejoin="round"/>
<polyline points="601.0,1062.9 602.2,1062.8 603.4,1063.2 604.6,1062.8 605.8,1063.1 607.0,1063.0 608.2,1064.6 609.4,1063.1 610.6,1063.3 611.8,1063.3 613.0,1063.3 614.2,1063.3 615.4,1063.5 616.6,1063.5 617.8,1063.3 619.0,1063.6 620.2,1063.7 621.4,1063.5 622.6,1063.8 623.8,1063.5 625.0,1063.6 626.2,1064.0 627.4,1063.9 628.6,1063.9 629.8,1063.7 631.0,1063.8 632.2,1063.6 633.4,1063.9 634.6,1063.0 635.8,1063.6 637.0,1063.9 638.2,1064.1 639.4,1063.7 640.6,1064.1 641.8,1063.7 643.0,1063.8 644.2,1063.6 645.4,1063.7 646.6,1064.0 647.8,1064.0 649.0,1063.9 650.2,1063.6 651.4,1063.7 652.6,1063.7 653.8,1063.9 655.0,1064.0 656.2,1063.7 657.4,1063.0 658.6,1063.7 659.8,1063.9 661.0,1064.2 662.2,1064.1 663.4,1063.9 664.6,1064.0 665.8,1064.2 667.0,1064.0 668.2,1064.3 669.4,1064.3 670.6,1063.8 671.8,1063.8 673.0,1064.2 674.2,1064.1 675.4,1063.9 676.6,1064.3 677.8,1064.2 679.0,1063.9 680.2,1063.8 681.4,1064.2 682.6,1064.2 683.8,1064.1 685.0,1064.0 686.2,1064.4 687.4,1063.9 688.6,1064.0 689.8,1064.2 691.0,1064.4 692.2,1064.9 693.4,1064.3 694.6,1065.2 695.8,1063.2 697.0,1063.9 698.2,1064.5 699.4,1064.0 700.6,1064.5 701.8,1064.3 703.0,1064.0 704.2,1064.4 705.4,1064.0 706.6,1063.4 707.8,1064.5 709.0,1064.4 710.2,1064.5 711.4,1064.2 712.6,1064.5 713.8,1064.4 715.0,1064.5 716.2,1064.1 717.4,1064.5 718.6,1064.2 719.8,1064.6 721.0,1064.6 722.2,1064.5 723.4,1064.1 724.6,1064.2 725.8,1064.2 727.0,1064.6 728.2,1064.4 729.4,1064.2 730.6,1064.3 731.8,1064.4 733.0,1064.6 734.2,1064.2 735.4,1064.2 736.6,1064.3 737.8,1064.7 739.0,1064.6 740.2,1064.5 741.4,1064.4 742.6,1064.3 743.8,1064.6 745.0,1064.4 746.2,1064.7 747.4,1064.5 748.6,1064.3 749.8,1064.2 751.0,1064.4 752.2,1064.4 753.4,1064.3 754.6,1064.6 755.8,1064.7 757.0,1064.7 758.2,1064.2 759.4,1064.5 760.6,1064.5 761.8,1064.5 763.0,1064.5 764.2,1064.2 765.4,1064.2 766.6,1064.7 767.8,1065.2 769.0,1064.4 770.2,1064.3 771.4,1064.3 772.6,1064.8 773.8,1064.4 775.0,1064.8 776.2,1064.7 777.4,1064.3 778.6,1064.6 779.8,1064.5 781.0,1064.6 782.2,1064.8 783.4,1064.3 784.6,1064.7 785.8,1064.3 787.0,1064.8 788.2,1064.6 789.4,1064.4 790.6,1064.3 791.8,1064.7 793.0,1064.7" fill="none" stroke="#000" stroke-width="2.4" stroke-linejoin="round"/>
<polyline points="601.0,1061.2 602.2,1061.3 603.4,1061.0 604.6,1061.2 605.8,1061.1 607.0,1060.9 608.2,1061.2 609.4,1060.9 610.6,1060.7 611.8,1060.9 613.0,1061.3 614.2,1060.9 615.4,1061.0 616.6,1061.0 617.8,1061.3 619.0,1061.0 620.2,1060.8 621.4,1061.0 622.6,1061.0 623.8,1061.3 625.0,1061.2 626.2,1061.1 627.4,1060.9 628.6,1061.2 629.8,1061.0 631.0,1061.0 632.2,1061.3 633.4,1060.8 634.6,1060.9 635.8,1060.7 637.0,1060.9 638.2,1060.9 639.4,1060.9 640.6,1060.9 641.8,1060.9 643.0,1060.9 644.2,1061.0 645.4,1061.1 646.6,1060.8 647.8,1060.8 649.0,1060.8 650.2,1060.9 651.4,1060.8 652.6,1060.8 653.8,1061.1 655.0,1060.9 656.2,1061.1 657.4,1061.1 658.6,1061.0 659.8,1060.9 661.0,1060.9 662.2,1060.8 663.4,1061.2 664.6,1060.9 665.8,1060.9 667.0,1060.8 668.2,1061.0 669.4,1061.3 670.6,1061.3 671.8,1060.7 673.0,1061.3 674.2,1061.1 675.4,1061.0 676.6,1060.8 677.8,1060.9 679.0,1061.2 680.2,1061.2 681.4,1061.0 682.6,1061.2 683.8,1061.1 685.0,1060.9 686.2,1061.0 687.4,1061.2 688.6,1060.8 689.8,1061.2 691.0,1060.1 692.2,1061.3 693.4,1060.9 694.6,1060.9 695.8,1060.1 697.0,1060.9 698.2,1061.2 699.4,1061.3 700.6,1061.1 701.8,1061.3 703.0,1061.1 704.2,1060.8 705.4,1061.3 706.6,1060.9 707.8,1060.8 709.0,1060.8 710.2,1061.0 711.4,1060.9 712.6,1061.2 713.8,1060.8 715.0,1060.7 716.2,1061.2 717.4,1061.0 718.6,1061.0 719.8,1061.0 721.0,1061.0 722.2,1061.0 723.4,1060.9 724.6,1061.1 725.8,1060.8 727.0,1060.7 728.2,1060.8 729.4,1060.7 730.6,1061.1 731.8,1061.3 733.0,1061.0 734.2,1061.1 735.4,1061.3 736.6,1061.1 737.8,1059.8 739.0,1060.8 740.2,1061.2 741.4,1062.2 742.6,1061.3 743.8,1061.0 745.0,1060.9 746.2,1060.8 747.4,1061.3 748.6,1061.0 749.8,1060.8 751.0,1061.0 752.2,1061.2 753.4,1061.1 754.6,1061.0 755.8,1060.8 757.0,1061.0 758.2,1061.0 759.4,1061.2 760.6,1061.0 761.8,1061.0 763.0,1060.9 764.2,1062.0 765.4,1060.9 766.6,1061.3 767.8,1060.7 769.0,1060.8 770.2,1061.0 771.4,1060.9 772.6,1060.8 773.8,1061.2 775.0,1060.8 776.2,1060.8 777.4,1061.1 778.6,1061.0 779.8,1061.1 781.0,1061.2 782.2,1060.8 783.4,1061.1 784.6,1060.7 785.8,1060.9 787.0,1061.2 788.2,1061.1 789.4,1060.9 790.6,1060.9 791.8,1061.0 793.0,1060.8" fill="none" stroke="#000" stroke-width="2.4" stroke-linejoin="round"/>
<polyline points="601.0,1059.6 602.2,1060.0 603.4,1059.7 604.6,1059.5 605.8,1058.6 607.0,1059.6 608.2,1059.5 609.4,1059.7 610.6,1059.8 611.8,1059.9 613.0,1060.1 614.2,1059.6 615.4,1060.0 616.6,1059.8 617.8,1059.7 619.0,1059.6 620.2,1059.7 621.4,1059.8 622.6,1059.6 623.8,1059.8 625.0,1059.6 626.2,1059.7 627.4,1059.9 628.6,1059.7 629.8,1059.5 631.0,1059.8 632.2,1059.7 633.4,1059.8 634.6,1059.5 635.8,1059.7 637.0,1059.7 638.2,1059.6 639.4,1059.7 640.6,1059.9 641.8,1058.8 643.0,1059.9 644.2,1059.8 645.4,1059.8 646.6,1059.8 647.8,1059.8 649.0,1059.7 650.2,1060.7 651.4,1059.6 652.6,1059.9 653.8,1060.0 655.0,1060.1 656.2,1059.8 657.4,1059.9 658.6,1059.8 659.8,1059.6 661.0,1060.0 662.2,1059.9 663.4,1059.8 664.6,1060.9 665.8,1059.7 667.0,1059.7 668.2,1059.7 669.4,1059.6 670.6,1059.9 671.8,1059.6 673.0,1059.8 674.2,1059.9 675.4,1058.7 676.6,1059.5 677.8,1059.6 679.0,1059.6 680.2,1059.9 681.4,1059.9 682.6,1059.8 683.8,1060.0 685.0,1059.8 686.2,1059.7 687.4,1059.7 688.6,1059.8 689.8,1059.6 691.0,1059.5 692.2,1059.8 693.4,1060.0 694.6,1059.9 695.8,1059.7 697.0,1060.1 698.2,1059.7 699.4,1059.7 700.6,1059.7 701.8,1059.7 703.0,1060.0 704.2,1059.6 705.4,1059.9 706.6,1060.0 707.8,1059.9 709.0,1060.0 710.2,1059.5 711.4,1059.7 712.6,1059.7 713.8,1059.8 715.0,1060.0 716.2,1059.7 717.4,1059.6 718.6,1060.1 719.8,1059.7 721.0,1060.0 722.2,1060.1 723.4,1059.5 724.6,1060.8 725.8,1060.0 727.0,1060.0 728.2,1059.8 729.4,1059.6 730.6,1060.0 731.8,1059.9 733.0,1059.8 734.2,1059.9 735.4,1059.7 736.6,1059.6 737.8,1059.6 739.0,1059.9 740.2,1059.8 741.4,1060.0 742.6,1059.8 743.8,1060.1 745.0,1060.1 746.2,1060.0 747.4,1059.7 748.6,1060.1 749.8,1059.9 751.0,1059.8 752.2,1059.6 753.4,1059.8 754.6,1059.9 755.8,1059.6 757.0,1059.9 758.2,1059.5 759.4,1060.1 760.6,1058.5 761.8,1059.9 763.0,1059.7 764.2,1059.7 765.4,1059.7 766.6,1059.9 767.8,1059.9 769.0,1059.6 770.2,1060.1 771.4,1060.0 772.6,1059.7 773.8,1060.0 775.0,1059.7 776.2,1059.9 777.4,1060.0 778.6,1059.6 779.8,1059.5 781.0,1059.7 782.2,1059.8 783.4,1059.9 784.6,1059.6 785.8,1058.7 787.0,1060.0 788.2,1059.7 789.4,1059.9 790.6,1060.1 791.8,1059.8 793.0,1059.7" fill="none" stroke="#000" stroke-width="2.4" stroke-linejoin="round"/>
<polyline points="601.0,1059.5 602.2,1059.2 603.4,1059.5 604.6,1059.4 605.8,1059.0 607.0,1058.9 608.2,1058.9 609.4,1059.0 610.6,1059.3 611.8,1059.4 613.0,1058.9 614.2,1059.3 615.4,1059.3 616.6,1059.3 617.8,1058.8 619.0,1059.2 620.2,1059.3 621.4,1059.0 622.6,1059.3 623.8,1058.9 625.0,1058.8 626.2,1058.9 627.4,1059.2 628.6,1058.9 629.8,1059.1 631.0,1058.8 632.2,1059.3 633.4,1059.1 634.6,1059.3 635.8,1059.0 637.0,1060.0 638.2,1059.0 639.4,1059.0 640.6,1058.9 641.8,1059.2 643.0,1059.2 644.2,1059.0 645.4,1059.2 646.6,1058.8 647.8,1059.0 649.0,1058.9 650.2,1059.0 651.4,1059.2 652.6,1059.1 653.8,1059.1 655.0,1059.3 656.2,1059.0 657.4,1058.7 658.6,1059.1 659.8,1058.8 661.0,1059.1 662.2,1059.2 663.4,1060.1 664.6,1058.9 665.8,1058.9 667.0,1059.1 668.2,1058.9 669.4,1058.7 670.6,1059.2 671.8,1058.7 673.0,1058.7 674.2,1059.0 675.4,1058.9 676.6,1058.8 677.8,1058.6 679.0,1058.6 680.2,1059.1 681.4,1058.7 682.6,1057.9 683.8,1058.7 685.0,1058.6 686.2,1059.0 687.4,1059.0 688.6,1058.6 689.8,1059.9 691.0,1058.6 692.2,1058.7 693.4,1059.0 694.6,1058.7 695.8,1058.8 697.0,1058.9 698.2,1058.8 699.4,1058.8 700.6,1059.0 701.8,1058.9 703.0,1058.9 704.2,1057.9 705.4,1059.1 706.6,1059.1 707.8,1059.0 709.0,1058.5 710.2,1059.1 711.4,1058.5 712.6,1058.0 713.8,1058.9 715.0,1058.9 716.2,1058.5 717.4,1058.8 718.6,1058.6 719.8,1059.0 721.0,1058.9 722.2,1058.9 723.4,1058.7 724.6,1058.5 725.8,1058.6 727.0,1059.0 728.2,1059.0 729.4,1059.0 730.6,1058.9 731.8,1058.6 733.0,1058.6 734.2,1058.5 735.4,1058.6 736.6,1058.7 737.8,1059.0 739.0,1059.0 740.2,1058.7 741.4,1058.5 742.6,1058.7 743.8,1059.0 745.0,1058.8 746.2,1058.5 747.4,1058.4 748.6,1059.0 749.8,1058.5 751.0,1058.4 752.2,1058.5 753.4,1058.8 754.6,1058.4 755.8,1058.7 757.0,1059.6 758.2,1058.6 759.4,1058.5 760.6,1058.8 761.8,1058.5 763.0,1058.6 764.2,1058.9 765.4,1058.9 766.6,1058.4 767.8,1058.7 769.0,1058.7 770.2,1058.8 771.4,1058.7 772.6,1058.9 773.8,1058.5 775.0,1058.5 776.2,1058.8 777.4,1058.7 778.6,1058.9 779.8,1058.7 781.0,1058.5 782.2,1058.8 783.4,1058.8 784.6,1058.6 785.8,1058.6 787.0,1058.8 788.2,1058.4 789.4,1058.8 790.6,1057.8 791.8,1058.9 793.0,1058.5" fill="none" stroke="#000" stroke-width="2.4" stroke-linejoin="round"/>
<polyline points="601.0,1058.9 602.2,1058.8 603.4,1058.8 604.6,1058.9 605.8,1058.5 607.0,1058.5 608.2,1058.7 609.4,1058.8 610.6,1058.8 611.8,1059.0 613.0,1058.6 614.2,1058.9 615.4,1058.9 616.6,1058.8 617.8,1058.7 619.0,1058.7 620.2,1058.4 621.4,1058.6 622.6,1058.7 623.8,1058.5 625.0,1058.7 626.2,1058.8 627.4,1058.6 628.6,1058.5 629.8,1058.8 631.0,1058.7 632.2,1058.3 633.4,1058.7 634.6,1058.8 635.8,1058.4 637.0,1058.7 638.2,1058.8 639.4,1058.4 640.6,1058.5 641.8,1058.4 643.0,1058.6 644.2,1058.6 645.4,1057.7 646.6,1058.7 647.8,1058.3 649.0,1058.7 650.2,1058.5 651.4,1058.5 652.6,1058.4 653.8,1058.3 655.0,1058.6 656.2,1058.2 657.4,1058.4 658.6,1058.2 659.8,1058.4 661.0,1058.5 662.2,1058.1 663.4,1058.5 664.6,1059.5 665.8,1058.4 667.0,1058.3 668.2,1057.5 669.4,1058.4 670.6,1058.6 671.8,1058.2 673.0,1058.4 674.2,1058.6 675.4,1058.5 676.6,1058.0 677.8,1058.4 679.0,1058.6 680.2,1057.3 681.4,1058.4 682.6,1058.1 683.8,1058.1 685.0,1058.2 686.2,1058.1 687.4,1058.4 688.6,1058.4 689.8,1058.1 691.0,1059.3 692.2,1057.3 693.4,1058.2 694.6,1058.2 695.8,1058.1 697.0,1058.3 698.2,1058.1 699.4,1058.1 700.6,1058.3 701.8,1058.5 703.0,1058.0 704.2,1058.0 705.4,1058.1 706.6,1058.4 707.8,1057.9 709.0,1058.1 710.2,1058.1 711.4,1058.3 712.6,1058.5 713.8,1058.2 715.0,1058.2 716.2,1058.4 717.4,1057.9 718.6,1058.3 719.8,1057.9 721.0,1057.8 722.2,1058.3 723.4,1057.8 724.6,1058.4 725.8,1058.0 727.0,1058.3 728.2,1058.0 729.4,1058.4 730.6,1058.1 731.8,1058.2 733.0,1058.1 734.2,1058.0 735.4,1058.3 736.6,1058.2 737.8,1058.3 739.0,1058.3 740.2,1059.0 741.4,1057.0 742.6,1057.9 743.8,1057.8 745.0,1058.2 746.2,1058.2 747.4,1057.8 748.6,1058.2 749.8,1058.1 751.0,1058.0 752.2,1058.0 753.4,1058.2 754.6,1058.2 755.8,1058.1 757.0,1058.3 758.2,1058.2 759.4,1057.9 760.6,1059.1 761.8,1058.3 763.0,1058.2 764.2,1058.3 765.4,1058.1 766.6,1057.9 767.8,1058.2 769.0,1058.1 770.2,1058.0 771.4,1057.9 772.6,1058.0 773.8,1058.1 775.0,1058.2 776.2,1058.1 777.4,1058.0 778.6,1058.1 779.8,1058.1 781.0,1058.1 782.2,1058.0 783.4,1056.8 784.6,1058.0 785.8,1058.1 787.0,1057.9 788.2,1057.9 789.4,1058.1 790.6,1057.9 791.8,1057.8 793.0,1058.1" fill="none" stroke="#000" stroke-width="2.4" stroke-linejoin="round"/>
<rect x="683" y="1096" width="23" height="3.6" rx="1.5" fill="#000"/>
<path d="M597.7,1203.4 L597.9,916.6 L600.1,916.6 L600.3,1203.4 Z" fill="#000"/>
<path d="M792.2,1131.5 L792.4,916.6 L794.6,916.6 L794.8,1131.5 Z" fill="#000"/>
<polyline points="795.0,990.4 796.2,996.4 797.4,1001.5 798.6,1006.2 799.8,1009.7 801.0,1012.8 802.2,1015.7 803.4,1018.1 804.6,1019.7 805.8,1021.8 807.0,1023.3 808.2,1024.5 809.4,1025.8 810.6,1027.1 811.8,1027.7 813.0,1028.9 814.2,1029.8 815.4,1031.7 816.6,1031.2 817.8,1032.0 819.0,1031.5 820.2,1032.9 821.4,1033.7 822.6,1034.2 823.8,1033.4 825.0,1034.9 826.2,1035.6 827.4,1035.8 828.6,1036.0 829.8,1036.8 831.0,1036.9 832.2,1037.4 833.4,1038.0 834.6,1038.0 835.8,1038.2 837.0,1038.7 838.2,1039.3 839.4,1040.6 840.6,1039.7 841.8,1040.0 843.0,1040.1 844.2,1040.3 845.4,1040.8 846.6,1040.8 847.8,1041.1 849.0,1041.3 850.2,1041.4 851.4,1041.7 852.6,1042.2 853.8,1042.3 855.0,1042.6 856.2,1042.5 857.4,1042.7 858.6,1043.3 859.8,1043.4 861.0,1043.4 862.2,1043.5 863.4,1043.5 864.6,1043.7 865.8,1043.9 867.0,1043.9 868.2,1044.3 869.4,1044.6 870.6,1044.4" fill="none" stroke="#000" stroke-width="2.4" stroke-linejoin="round"/>
<polyline points="795.0,1009.5 796.2,1014.3 797.4,1017.9 798.6,1021.0 799.8,1024.2 801.0,1026.1 802.2,1028.4 803.4,1030.1 804.6,1032.0 805.8,1033.1 807.0,1034.2 808.2,1035.4 809.4,1036.1 810.6,1037.1 811.8,1037.6 813.0,1038.6 814.2,1039.4 815.4,1040.0 816.6,1040.4 817.8,1040.6 819.0,1041.2 820.2,1040.6 821.4,1042.4 822.6,1042.5 823.8,1043.0 825.0,1043.5 826.2,1044.9 827.4,1044.3 828.6,1044.5 829.8,1044.7 831.0,1045.0 832.2,1045.5 833.4,1045.7 834.6,1046.0 835.8,1046.1 837.0,1046.0 838.2,1047.7 839.4,1046.9 840.6,1045.8 841.8,1047.1 843.0,1047.1 844.2,1047.6 845.4,1047.4 846.6,1048.0 847.8,1048.2 849.0,1048.5 850.2,1048.4 851.4,1048.4 852.6,1048.5 853.8,1048.8 855.0,1048.7 856.2,1049.0 857.4,1049.5 858.6,1049.1 859.8,1049.7 861.0,1049.5 862.2,1049.9 863.4,1049.7 864.6,1049.8 865.8,1049.9 867.0,1051.4 868.2,1050.5 869.4,1050.2 870.6,1050.1" fill="none" stroke="#000" stroke-width="2.4" stroke-linejoin="round"/>
<polyline points="795.0,1022.4 796.2,1027.3 797.4,1030.0 798.6,1032.9 799.8,1034.8 801.0,1036.8 802.2,1038.4 803.4,1039.9 804.6,1040.9 805.8,1042.2 807.0,1043.3 808.2,1043.9 809.4,1044.2 810.6,1045.2 811.8,1045.8 813.0,1046.1 814.2,1046.9 815.4,1047.1 816.6,1047.8 817.8,1047.9 819.0,1048.4 820.2,1048.3 821.4,1048.6 822.6,1049.2 823.8,1049.6 825.0,1049.6 826.2,1050.0 827.4,1050.2 828.6,1050.3 829.8,1050.3 831.0,1050.5 832.2,1050.7 833.4,1050.9 834.6,1051.2 835.8,1051.5 837.0,1051.5 838.2,1051.4 839.4,1051.7 840.6,1051.6 841.8,1052.1 843.0,1051.9 844.2,1052.4 845.4,1052.3 846.6,1051.4 847.8,1052.6 849.0,1052.7 850.2,1052.7 851.4,1053.0 852.6,1052.8 853.8,1052.7 855.0,1052.9 856.2,1053.1 857.4,1053.1 858.6,1053.4 859.8,1053.4 861.0,1053.3 862.2,1053.5 863.4,1053.4 864.6,1053.6 865.8,1053.3 867.0,1053.6 868.2,1053.6 869.4,1054.0 870.6,1053.7" fill="none" stroke="#000" stroke-width="2.4" stroke-linejoin="round"/>
<polyline points="795.0,1042.0 796.2,1043.7 797.4,1045.1 798.6,1046.6 799.8,1047.7 801.0,1048.3 802.2,1049.1 803.4,1050.0 804.6,1050.5 805.8,1050.9 807.0,1051.5 808.2,1051.9 809.4,1052.2 810.6,1052.6 811.8,1052.8 813.0,1053.0 814.2,1053.0 815.4,1053.5 816.6,1053.3 817.8,1053.9 819.0,1054.6 820.2,1053.9 821.4,1054.1 822.6,1054.0 823.8,1054.1 825.0,1054.7 826.2,1054.6 827.4,1054.8 828.6,1055.0 829.8,1055.1 831.0,1055.2 832.2,1054.9 833.4,1055.1 834.6,1054.9 835.8,1055.4 837.0,1055.3 838.2,1055.3 839.4,1055.4 840.6,1055.7 841.8,1055.3 843.0,1055.4 844.2,1055.6 845.4,1055.4 846.6,1055.8 847.8,1055.5 849.0,1056.1 850.2,1055.8 851.4,1055.9 852.6,1055.9 853.8,1056.0 855.0,1056.0 856.2,1056.1 857.4,1056.1 858.6,1056.0 859.8,1056.3 861.0,1056.1 862.2,1056.0 863.4,1056.1 864.6,1056.4 865.8,1056.4 867.0,1056.3 868.2,1056.2 869.4,1056.5 870.6,1056.4" fill="none" stroke="#000" stroke-width="2.4" stroke-linejoin="round"/>
<polyline points="795.0,1052.3 796.2,1053.2 797.4,1053.5 798.6,1054.3 799.8,1054.7 801.0,1055.0 802.2,1055.3 803.4,1055.3 804.6,1055.8 805.8,1056.2 807.0,1055.8 808.2,1056.1 809.4,1056.4 810.6,1056.2 811.8,1056.8 813.0,1057.0 814.2,1056.9 815.4,1056.6 816.6,1057.0 817.8,1057.3 819.0,1057.2 820.2,1057.1 821.4,1057.1 822.6,1057.4 823.8,1057.1 825.0,1057.2 826.2,1057.3 827.4,1057.5 828.6,1057.3 829.8,1057.7 831.0,1057.5 832.2,1057.9 833.4,1057.7 834.6,1057.6 835.8,1057.7 837.0,1057.9 838.2,1057.9 839.4,1057.6 840.6,1058.1 841.8,1057.9 843.0,1057.9 844.2,1057.8 845.4,1058.1 846.6,1057.9 847.8,1057.9 849.0,1057.9 850.2,1057.8 851.4,1057.9 852.6,1058.0 853.8,1058.1 855.0,1058.1 856.2,1058.2 857.4,1058.2 858.6,1057.9 859.8,1058.2 861.0,1058.1 862.2,1058.2 863.4,1058.5 864.6,1058.3 865.8,1058.3 867.0,1058.5 868.2,1058.3 869.4,1058.3 870.6,1058.5" fill="none" stroke="#000" stroke-width="2.4" stroke-linejoin="round"/>
<polyline points="795.0,1057.5 796.2,1058.9 797.4,1058.1 798.6,1058.0 799.8,1058.2 801.0,1057.9 802.2,1058.3 803.4,1058.4 804.6,1058.7 805.8,1058.5 807.0,1058.5 808.2,1058.3 809.4,1058.8 810.6,1058.5 811.8,1059.0 813.0,1058.7 814.2,1059.0 815.4,1058.7 816.6,1058.8 817.8,1059.0 819.0,1058.6 820.2,1059.1 821.4,1058.7 822.6,1058.7 823.8,1059.1 825.0,1059.2 826.2,1057.9 827.4,1058.9 828.6,1058.8 829.8,1059.1 831.0,1057.9 832.2,1058.8 833.4,1059.0 834.6,1058.8 835.8,1059.2 837.0,1058.9 838.2,1059.0 839.4,1059.2 840.6,1059.4 841.8,1059.1 843.0,1058.9 844.2,1059.0 845.4,1058.9 846.6,1059.2 847.8,1059.1 849.0,1059.3 850.2,1059.3 851.4,1058.9 852.6,1058.9 853.8,1059.2 855.0,1059.4 856.2,1059.4 857.4,1059.1 858.6,1059.3 859.8,1059.3 861.0,1059.2 862.2,1059.1 863.4,1059.5 864.6,1059.4 865.8,1059.2 867.0,1059.2 868.2,1059.1 869.4,1059.1 870.6,1059.0" fill="none" stroke="#000" stroke-width="2.4" stroke-linejoin="round"/>
<path d="M870.5,1203.4 L870.7,1046.5 L872.9,1046.5 L873.1,1203.4 Z" fill="#000"/>
<polyline points="873.0,1060.9 874.5,1060.8 876.0,1060.5 877.5,1060.4 879.0,1061.0 880.5,1061.3 882.0,1060.6 883.5,1060.8 885.0,1060.4 886.5,1060.6 888.0,1060.9 889.5,1060.5 891.0,1061.0 892.5,1061.0 894.0,1060.7 895.5,1060.3 897.0,1060.6 898.5,1060.3 900.0,1061.0 901.5,1061.6 903.0,1060.3" fill="none" stroke="#000" stroke-width="2.8" stroke-linejoin="round"/>
<text x="668.8" y="1040.9" font-size="23.84" fill="#000">40 mV</text>
<text x="657.9" y="1156.7" font-size="24.03" fill="#000">-160 mV</text>
<text x="885.4" y="1177.4" font-size="24.25" fill="#000">1 µA</text>
<polyline points="942.6,1162.4 942.6,1176.9 981.7,1176.9" fill="none" stroke="#000" stroke-width="1.9" stroke-linejoin="round"/>
<text x="943.8" y="1200.0" font-size="24.39" fill="#000">0.1 s</text>
<polyline points="986.0,1060.1 987.5,1060.1 989.0,1060.3 990.5,1060.0 992.0,1060.2 993.5,1060.2 995.0,1060.6 996.5,1059.8 998.0,1060.3 999.5,1060.4 1001.0,1060.1 1002.5,1060.0 1004.0,1060.2 1005.5,1060.0 1007.0,1061.2 1008.5,1060.2 1010.0,1060.2 1011.5,1060.1 1013.0,1060.6 1014.5,1060.2 1016.0,1060.3 1017.5,1060.0 1019.0,1060.0 1020.5,1060.0 1022.0,1059.4 1023.5,1060.2 1025.0,1060.0 1026.5,1060.4 1028.0,1059.9 1029.5,1060.3 1031.0,1060.4" fill="none" stroke="#000" stroke-width="2.8" stroke-linejoin="round"/>
<polyline points="1035.0,1099.4 1036.2,1098.6 1037.4,1098.8 1038.6,1098.6 1039.8,1098.9 1041.0,1098.8 1042.2,1098.2 1043.4,1098.7 1044.6,1098.9 1045.8,1099.0 1047.0,1099.4 1048.2,1099.1 1049.4,1099.7 1050.6,1099.1 1051.8,1099.6 1053.0,1099.5 1054.2,1099.4 1055.4,1099.9 1056.6,1100.0 1057.8,1101.1 1059.0,1100.4 1060.2,1101.0 1061.4,1100.8 1062.6,1100.9 1063.8,1101.4 1065.0,1101.6 1066.2,1101.0 1067.4,1101.7 1068.6,1101.6 1069.8,1101.6 1071.0,1102.0 1072.2,1102.5 1073.4,1102.6 1074.6,1102.5 1075.8,1102.4 1077.0,1103.0 1078.2,1103.0 1079.4,1102.9 1080.6,1103.5 1081.8,1103.1 1083.0,1103.3 1084.2,1103.5 1085.4,1105.2 1086.6,1104.0 1087.8,1103.9 1089.0,1104.7 1090.2,1104.9 1091.4,1105.1 1092.6,1104.8 1093.8,1104.9 1095.0,1104.7 1096.2,1105.4 1097.4,1105.3 1098.6,1105.4 1099.8,1106.1 1101.0,1105.6 1102.2,1105.9 1103.4,1106.5 1104.6,1106.2 1105.8,1106.8 1107.0,1106.6 1108.2,1106.6 1109.4,1107.1 1110.6,1107.3 1111.8,1107.0 1113.0,1107.4 1114.2,1107.7 1115.4,1107.9 1116.6,1108.1 1117.8,1107.8 1119.0,1108.7 1120.2,1108.7 1121.4,1108.6 1122.6,1108.7 1123.8,1109.2 1125.0,1109.1 1126.2,1110.1 1127.4,1109.5 1128.6,1109.8 1129.8,1109.6 1131.0,1110.0 1132.2,1109.9 1133.4,1110.2 1134.6,1110.7 1135.8,1110.4 1137.0,1110.9 1138.2,1110.5 1139.4,1111.1 1140.6,1111.4 1141.8,1111.3 1143.0,1111.3 1144.2,1111.7 1145.4,1112.1 1146.6,1112.9 1147.8,1112.2 1149.0,1112.1 1150.2,1112.4 1151.4,1112.6 1152.6,1112.2 1153.8,1113.1 1155.0,1112.6 1156.2,1113.1 1157.4,1113.1 1158.6,1113.1 1159.8,1113.2 1161.0,1114.2 1162.2,1114.3 1163.4,1114.5 1164.6,1114.0 1165.8,1114.8 1167.0,1114.4 1168.2,1114.8 1169.4,1114.8 1170.6,1114.7 1171.8,1115.5 1173.0,1115.7 1174.2,1115.5 1175.4,1115.2 1176.6,1116.1 1177.8,1116.4 1179.0,1116.5 1180.2,1116.1 1181.4,1116.7 1182.6,1116.4 1183.8,1116.4 1185.0,1116.6 1186.2,1116.9 1187.4,1117.5 1188.6,1115.9 1189.8,1117.2 1191.0,1117.4 1192.2,1117.4 1193.4,1118.0 1194.6,1117.8 1195.8,1118.7 1197.0,1118.1 1198.2,1118.8 1199.4,1118.9 1200.6,1119.3 1201.8,1119.4 1203.0,1119.7 1204.2,1119.6 1205.4,1119.3 1206.6,1119.5 1207.8,1119.7 1209.0,1120.4 1210.2,1120.4 1211.4,1120.2 1212.6,1120.2 1213.8,1120.6 1215.0,1120.8 1216.2,1120.5 1217.4,1120.9 1218.6,1121.3 1219.8,1121.4 1221.0,1122.6" fill="none" stroke="#000" stroke-width="2.4" stroke-linejoin="round"/>
<polyline points="1035.0,1085.4 1036.2,1085.2 1037.4,1085.0 1038.6,1084.9 1039.8,1085.0 1041.0,1085.5 1042.2,1085.7 1043.4,1085.6 1044.6,1085.8 1045.8,1085.3 1047.0,1085.5 1048.2,1085.6 1049.4,1085.4 1050.6,1085.5 1051.8,1086.3 1053.0,1085.9 1054.2,1086.2 1055.4,1086.5 1056.6,1085.7 1057.8,1085.7 1059.0,1086.3 1060.2,1085.9 1061.4,1086.7 1062.6,1086.3 1063.8,1086.0 1065.0,1086.6 1066.2,1086.5 1067.4,1086.1 1068.6,1086.5 1069.8,1086.9 1071.0,1086.7 1072.2,1086.9 1073.4,1087.2 1074.6,1087.0 1075.8,1086.9 1077.0,1087.1 1078.2,1087.5 1079.4,1087.1 1080.6,1087.4 1081.8,1087.0 1083.0,1087.2 1084.2,1087.2 1085.4,1087.3 1086.6,1087.0 1087.8,1087.6 1089.0,1088.3 1090.2,1087.1 1091.4,1087.2 1092.6,1088.1 1093.8,1088.0 1095.0,1087.6 1096.2,1088.0 1097.4,1087.9 1098.6,1088.0 1099.8,1087.8 1101.0,1087.0 1102.2,1088.4 1103.4,1087.7 1104.6,1088.5 1105.8,1087.9 1107.0,1088.2 1108.2,1087.9 1109.4,1088.4 1110.6,1088.0 1111.8,1088.9 1113.0,1088.9 1114.2,1088.8 1115.4,1088.5 1116.6,1088.6 1117.8,1088.4 1119.0,1089.0 1120.2,1088.8 1121.4,1088.6 1122.6,1088.7 1123.8,1089.3 1125.0,1089.0 1126.2,1089.0 1127.4,1089.6 1128.6,1089.7 1129.8,1089.3 1131.0,1089.7 1132.2,1089.8 1133.4,1089.2 1134.6,1089.7 1135.8,1089.3 1137.0,1089.2 1138.2,1090.1 1139.4,1089.7 1140.6,1089.9 1141.8,1089.8 1143.0,1089.6 1144.2,1089.8 1145.4,1089.7 1146.6,1090.4 1147.8,1090.5 1149.0,1089.8 1150.2,1090.5 1151.4,1090.0 1152.6,1089.4 1153.8,1090.2 1155.0,1090.4 1156.2,1090.2 1157.4,1091.2 1158.6,1090.8 1159.8,1090.8 1161.0,1090.8 1162.2,1092.1 1163.4,1091.1 1164.6,1091.0 1165.8,1091.2 1167.0,1090.8 1168.2,1090.9 1169.4,1091.2 1170.6,1091.0 1171.8,1091.4 1173.0,1090.8 1174.2,1091.0 1175.4,1091.3 1176.6,1091.8 1177.8,1091.0 1179.0,1091.4 1180.2,1091.3 1181.4,1091.4 1182.6,1091.8 1183.8,1091.2 1185.0,1091.8 1186.2,1092.1 1187.4,1091.4 1188.6,1091.9 1189.8,1091.5 1191.0,1091.8 1192.2,1091.9 1193.4,1091.7 1194.6,1092.1 1195.8,1092.1 1197.0,1091.9 1198.2,1091.9 1199.4,1092.0 1200.6,1092.7 1201.8,1092.9 1203.0,1092.8 1204.2,1092.5 1205.4,1092.7 1206.6,1092.6 1207.8,1092.4 1209.0,1092.8 1210.2,1092.6 1211.4,1092.9 1212.6,1092.8 1213.8,1093.3 1215.0,1093.2 1216.2,1092.8 1217.4,1093.5 1218.6,1093.2 1219.8,1093.0 1221.0,1093.4" fill="none" stroke="#000" stroke-width="2.4" stroke-linejoin="round"/>
<polyline points="1035.0,1078.1 1036.2,1078.4 1037.4,1078.1 1038.6,1077.9 1039.8,1078.0 1041.0,1078.1 1042.2,1078.5 1043.4,1078.2 1044.6,1079.0 1045.8,1077.9 1047.0,1078.1 1048.2,1078.1 1049.4,1078.3 1050.6,1078.6 1051.8,1077.7 1053.0,1078.3 1054.2,1078.1 1055.4,1077.9 1056.6,1078.5 1057.8,1078.2 1059.0,1077.9 1060.2,1078.2 1061.4,1078.6 1062.6,1078.0 1063.8,1078.5 1065.0,1078.4 1066.2,1078.4 1067.4,1077.9 1068.6,1078.3 1069.8,1078.7 1071.0,1078.0 1072.2,1078.2 1073.4,1078.1 1074.6,1078.1 1075.8,1078.0 1077.0,1078.2 1078.2,1078.6 1079.4,1078.0 1080.6,1078.7 1081.8,1078.2 1083.0,1079.5 1084.2,1078.5 1085.4,1078.6 1086.6,1078.0 1087.8,1078.3 1089.0,1078.5 1090.2,1078.1 1091.4,1078.9 1092.6,1078.9 1093.8,1078.4 1095.0,1078.5 1096.2,1078.4 1097.4,1078.3 1098.6,1078.2 1099.8,1078.6 1101.0,1078.5 1102.2,1078.6 1103.4,1078.9 1104.6,1078.5 1105.8,1078.6 1107.0,1078.4 1108.2,1078.4 1109.4,1078.7 1110.6,1078.4 1111.8,1078.5 1113.0,1078.6 1114.2,1079.0 1115.4,1079.0 1116.6,1078.4 1117.8,1078.2 1119.0,1078.4 1120.2,1078.7 1121.4,1079.0 1122.6,1078.7 1123.8,1078.6 1125.0,1078.7 1126.2,1078.4 1127.4,1078.9 1128.6,1079.2 1129.8,1078.9 1131.0,1078.4 1132.2,1079.1 1133.4,1078.4 1134.6,1079.0 1135.8,1079.1 1137.0,1078.7 1138.2,1079.2 1139.4,1078.7 1140.6,1078.9 1141.8,1078.6 1143.0,1079.1 1144.2,1078.5 1145.4,1078.5 1146.6,1079.0 1147.8,1079.3 1149.0,1079.1 1150.2,1078.9 1151.4,1078.6 1152.6,1079.0 1153.8,1079.1 1155.0,1078.7 1156.2,1079.2 1157.4,1078.6 1158.6,1079.0 1159.8,1078.8 1161.0,1078.6 1162.2,1078.9 1163.4,1078.9 1164.6,1078.9 1165.8,1079.0 1167.0,1078.8 1168.2,1078.8 1169.4,1079.2 1170.6,1078.8 1171.8,1079.0 1173.0,1079.1 1174.2,1078.9 1175.4,1078.9 1176.6,1079.3 1177.8,1078.8 1179.0,1079.5 1180.2,1079.2 1181.4,1079.9 1182.6,1079.5 1183.8,1078.8 1185.0,1079.0 1186.2,1078.9 1187.4,1079.2 1188.6,1078.9 1189.8,1079.5 1191.0,1079.7 1192.2,1079.6 1193.4,1079.5 1194.6,1079.6 1195.8,1079.3 1197.0,1079.1 1198.2,1079.6 1199.4,1080.3 1200.6,1079.3 1201.8,1078.1 1203.0,1079.6 1204.2,1079.5 1205.4,1079.3 1206.6,1078.9 1207.8,1079.1 1209.0,1079.2 1210.2,1079.0 1211.4,1079.4 1212.6,1079.1 1213.8,1079.3 1215.0,1079.1 1216.2,1079.5 1217.4,1079.5 1218.6,1079.6 1219.8,1079.6 1221.0,1080.2" fill="none" stroke="#000" stroke-width="2.4" stroke-linejoin="round"/>
<polyline points="1035.0,1073.7 1036.2,1073.7 1037.4,1073.7 1038.6,1074.3 1039.8,1074.0 1041.0,1074.2 1042.2,1073.6 1043.4,1073.6 1044.6,1073.6 1045.8,1074.0 1047.0,1073.7 1048.2,1073.8 1049.4,1073.9 1050.6,1074.1 1051.8,1074.3 1053.0,1074.1 1054.2,1073.5 1055.4,1074.0 1056.6,1074.1 1057.8,1073.6 1059.0,1073.9 1060.2,1073.8 1061.4,1073.7 1062.6,1073.9 1063.8,1073.3 1065.0,1073.9 1066.2,1073.8 1067.4,1074.0 1068.6,1072.8 1069.8,1073.3 1071.0,1074.1 1072.2,1074.1 1073.4,1073.5 1074.6,1073.3 1075.8,1073.6 1077.0,1073.9 1078.2,1073.5 1079.4,1073.5 1080.6,1073.7 1081.8,1073.2 1083.0,1073.9 1084.2,1073.7 1085.4,1073.1 1086.6,1073.3 1087.8,1073.2 1089.0,1072.8 1090.2,1073.7 1091.4,1073.8 1092.6,1073.7 1093.8,1073.4 1095.0,1073.8 1096.2,1073.3 1097.4,1073.1 1098.6,1073.5 1099.8,1073.0 1101.0,1073.7 1102.2,1073.6 1103.4,1073.2 1104.6,1073.2 1105.8,1072.9 1107.0,1073.7 1108.2,1073.2 1109.4,1073.5 1110.6,1073.5 1111.8,1073.0 1113.0,1073.0 1114.2,1073.6 1115.4,1073.3 1116.6,1073.0 1117.8,1073.0 1119.0,1073.3 1120.2,1073.1 1121.4,1072.7 1122.6,1072.7 1123.8,1073.5 1125.0,1073.5 1126.2,1073.5 1127.4,1073.2 1128.6,1072.9 1129.8,1073.2 1131.0,1073.1 1132.2,1073.4 1133.4,1073.1 1134.6,1072.8 1135.8,1074.3 1137.0,1073.4 1138.2,1073.2 1139.4,1072.9 1140.6,1072.9 1141.8,1073.1 1143.0,1073.0 1144.2,1073.3 1145.4,1073.3 1146.6,1072.8 1147.8,1072.3 1149.0,1072.8 1150.2,1073.3 1151.4,1072.5 1152.6,1072.9 1153.8,1072.5 1155.0,1072.9 1156.2,1073.3 1157.4,1072.5 1158.6,1072.4 1159.8,1071.5 1161.0,1072.6 1162.2,1073.0 1163.4,1072.4 1164.6,1072.5 1165.8,1072.9 1167.0,1073.0 1168.2,1073.7 1169.4,1072.8 1170.6,1072.9 1171.8,1072.6 1173.0,1072.2 1174.2,1072.7 1175.4,1072.9 1176.6,1072.3 1177.8,1072.9 1179.0,1073.1 1180.2,1072.7 1181.4,1073.0 1182.6,1072.7 1183.8,1072.6 1185.0,1073.0 1186.2,1072.4 1187.4,1072.7 1188.6,1073.9 1189.8,1072.1 1191.0,1071.2 1192.2,1072.6 1193.4,1072.7 1194.6,1071.1 1195.8,1072.3 1197.0,1072.6 1198.2,1072.3 1199.4,1072.1 1200.6,1071.8 1201.8,1072.5 1203.0,1072.0 1204.2,1072.3 1205.4,1072.5 1206.6,1072.8 1207.8,1072.4 1209.0,1072.5 1210.2,1072.1 1211.4,1072.1 1212.6,1072.3 1213.8,1072.1 1215.0,1072.6 1216.2,1072.3 1217.4,1072.2 1218.6,1072.4 1219.8,1072.1 1221.0,1072.1" fill="none" stroke="#000" stroke-width="2.4" stroke-linejoin="round"/>
<polyline points="1035.0,1070.2 1036.2,1070.2 1037.4,1070.2 1038.6,1071.7 1039.8,1070.5 1041.0,1070.8 1042.2,1070.1 1043.4,1070.2 1044.6,1070.2 1045.8,1070.1 1047.0,1070.1 1048.2,1070.0 1049.4,1071.2 1050.6,1070.7 1051.8,1070.5 1053.0,1070.0 1054.2,1070.0 1055.4,1070.3 1056.6,1070.6 1057.8,1070.8 1059.0,1070.2 1060.2,1070.2 1061.4,1070.8 1062.6,1070.3 1063.8,1070.7 1065.0,1070.6 1066.2,1070.1 1067.4,1070.4 1068.6,1070.4 1069.8,1070.1 1071.0,1070.3 1072.2,1070.3 1073.4,1070.0 1074.6,1070.5 1075.8,1070.5 1077.0,1070.3 1078.2,1070.6 1079.4,1070.2 1080.6,1070.1 1081.8,1070.2 1083.0,1069.9 1084.2,1070.0 1085.4,1070.1 1086.6,1070.4 1087.8,1070.5 1089.0,1070.5 1090.2,1070.5 1091.4,1070.0 1092.6,1070.3 1093.8,1070.2 1095.0,1070.6 1096.2,1070.6 1097.4,1070.0 1098.6,1070.5 1099.8,1070.1 1101.0,1070.6 1102.2,1069.8 1103.4,1070.0 1104.6,1070.0 1105.8,1069.7 1107.0,1070.1 1108.2,1070.1 1109.4,1070.2 1110.6,1070.4 1111.8,1069.7 1113.0,1070.2 1114.2,1069.9 1115.4,1070.3 1116.6,1070.0 1117.8,1070.1 1119.0,1070.2 1120.2,1069.7 1121.4,1069.9 1122.6,1069.9 1123.8,1070.0 1125.0,1070.0 1126.2,1069.6 1127.4,1069.9 1128.6,1069.6 1129.8,1070.4 1131.0,1070.4 1132.2,1070.4 1133.4,1069.9 1134.6,1069.7 1135.8,1070.1 1137.0,1069.7 1138.2,1070.3 1139.4,1070.4 1140.6,1069.7 1141.8,1070.1 1143.0,1069.7 1144.2,1069.6 1145.4,1069.7 1146.6,1069.7 1147.8,1069.7 1149.0,1069.8 1150.2,1069.5 1151.4,1069.4 1152.6,1069.5 1153.8,1070.2 1155.0,1069.7 1156.2,1069.8 1157.4,1069.4 1158.6,1069.5 1159.8,1069.7 1161.0,1069.9 1162.2,1069.8 1163.4,1069.8 1164.6,1070.1 1165.8,1069.5 1167.0,1070.0 1168.2,1069.6 1169.4,1069.5 1170.6,1069.8 1171.8,1070.1 1173.0,1069.5 1174.2,1069.5 1175.4,1070.1 1176.6,1069.7 1177.8,1070.1 1179.0,1069.9 1180.2,1068.3 1181.4,1070.1 1182.6,1070.1 1183.8,1069.4 1185.0,1070.1 1186.2,1069.6 1187.4,1070.0 1188.6,1070.0 1189.8,1069.4 1191.0,1070.1 1192.2,1070.0 1193.4,1069.7 1194.6,1069.7 1195.8,1069.9 1197.0,1069.8 1198.2,1069.6 1199.4,1069.9 1200.6,1070.1 1201.8,1069.8 1203.0,1069.9 1204.2,1069.6 1205.4,1069.9 1206.6,1069.1 1207.8,1069.3 1209.0,1069.8 1210.2,1069.2 1211.4,1069.7 1212.6,1069.3 1213.8,1069.3 1215.0,1069.4 1216.2,1069.6 1217.4,1069.3 1218.6,1069.8 1219.8,1069.2 1221.0,1069.1" fill="none" stroke="#000" stroke-width="2.4" stroke-linejoin="round"/>
<polyline points="1035.0,1068.4 1036.2,1068.9 1037.4,1068.2 1038.6,1068.2 1039.8,1068.6 1041.0,1068.2 1042.2,1068.8 1043.4,1068.6 1044.6,1068.3 1045.8,1068.0 1047.0,1068.9 1048.2,1067.0 1049.4,1068.2 1050.6,1068.6 1051.8,1068.2 1053.0,1068.8 1054.2,1068.3 1055.4,1068.8 1056.6,1068.8 1057.8,1068.8 1059.0,1068.6 1060.2,1068.1 1061.4,1068.8 1062.6,1068.2 1063.8,1068.8 1065.0,1068.3 1066.2,1067.0 1067.4,1068.6 1068.6,1068.8 1069.8,1068.7 1071.0,1068.5 1072.2,1068.2 1073.4,1067.9 1074.6,1068.4 1075.8,1068.7 1077.0,1068.8 1078.2,1068.6 1079.4,1068.4 1080.6,1068.4 1081.8,1068.1 1083.0,1068.1 1084.2,1068.6 1085.4,1068.3 1086.6,1068.4 1087.8,1068.5 1089.0,1068.2 1090.2,1068.2 1091.4,1068.4 1092.6,1068.6 1093.8,1068.0 1095.0,1068.2 1096.2,1068.6 1097.4,1068.3 1098.6,1068.1 1099.8,1068.5 1101.0,1069.4 1102.2,1068.6 1103.4,1068.0 1104.6,1068.0 1105.8,1069.7 1107.0,1068.0 1108.2,1067.9 1109.4,1068.6 1110.6,1067.9 1111.8,1068.6 1113.0,1067.9 1114.2,1068.5 1115.4,1068.5 1116.6,1067.8 1117.8,1067.8 1119.0,1068.0 1120.2,1067.9 1121.4,1067.9 1122.6,1068.5 1123.8,1067.9 1125.0,1068.4 1126.2,1068.3 1127.4,1067.7 1128.6,1068.3 1129.8,1068.5 1131.0,1068.0 1132.2,1068.1 1133.4,1067.7 1134.6,1068.6 1135.8,1068.4 1137.0,1068.2 1138.2,1068.1 1139.4,1068.1 1140.6,1068.4 1141.8,1067.8 1143.0,1068.2 1144.2,1068.4 1145.4,1068.4 1146.6,1067.7 1147.8,1067.9 1149.0,1068.4 1150.2,1068.4 1151.4,1068.4 1152.6,1068.5 1153.8,1068.0 1155.0,1068.3 1156.2,1068.3 1157.4,1068.2 1158.6,1068.1 1159.8,1067.6 1161.0,1067.7 1162.2,1068.0 1163.4,1068.4 1164.6,1068.3 1165.8,1068.0 1167.0,1068.3 1168.2,1067.9 1169.4,1068.2 1170.6,1068.2 1171.8,1067.7 1173.0,1067.6 1174.2,1067.8 1175.4,1068.2 1176.6,1067.8 1177.8,1068.0 1179.0,1068.2 1180.2,1067.8 1181.4,1068.2 1182.6,1068.3 1183.8,1068.4 1185.0,1068.0 1186.2,1068.3 1187.4,1067.8 1188.6,1067.5 1189.8,1067.9 1191.0,1068.2 1192.2,1067.7 1193.4,1067.5 1194.6,1067.8 1195.8,1067.5 1197.0,1068.1 1198.2,1067.7 1199.4,1068.3 1200.6,1068.2 1201.8,1067.7 1203.0,1068.3 1204.2,1067.8 1205.4,1068.0 1206.6,1067.8 1207.8,1067.8 1209.0,1067.2 1210.2,1067.9 1211.4,1068.1 1212.6,1067.6 1213.8,1068.1 1215.0,1068.1 1216.2,1067.9 1217.4,1068.1 1218.6,1068.1 1219.8,1067.2 1221.0,1067.9" fill="none" stroke="#000" stroke-width="2.4" stroke-linejoin="round"/>
<polyline points="1035.0,1066.2 1036.2,1066.5 1037.4,1066.2 1038.6,1066.4 1039.8,1066.2 1041.0,1066.5 1042.2,1066.3 1043.4,1066.9 1044.6,1067.3 1045.8,1066.1 1047.0,1066.9 1048.2,1066.5 1049.4,1066.7 1050.6,1066.8 1051.8,1066.3 1053.0,1066.5 1054.2,1066.6 1055.4,1066.4 1056.6,1066.4 1057.8,1066.8 1059.0,1066.6 1060.2,1066.5 1061.4,1066.5 1062.6,1066.0 1063.8,1066.3 1065.0,1066.1 1066.2,1066.3 1067.4,1066.4 1068.6,1066.8 1069.8,1066.0 1071.0,1066.2 1072.2,1066.0 1073.4,1066.1 1074.6,1066.6 1075.8,1066.5 1077.0,1066.1 1078.2,1066.7 1079.4,1066.8 1080.6,1066.4 1081.8,1066.3 1083.0,1066.2 1084.2,1066.3 1085.4,1066.5 1086.6,1066.0 1087.8,1066.4 1089.0,1066.2 1090.2,1066.7 1091.4,1066.7 1092.6,1066.1 1093.8,1067.4 1095.0,1066.7 1096.2,1066.6 1097.4,1066.0 1098.6,1065.9 1099.8,1066.6 1101.0,1066.7 1102.2,1066.3 1103.4,1066.0 1104.6,1066.4 1105.8,1066.0 1107.0,1065.9 1108.2,1066.5 1109.4,1066.3 1110.6,1066.6 1111.8,1066.7 1113.0,1066.7 1114.2,1066.5 1115.4,1066.7 1116.6,1065.9 1117.8,1065.9 1119.0,1066.7 1120.2,1066.1 1121.4,1065.8 1122.6,1066.2 1123.8,1066.6 1125.0,1066.7 1126.2,1066.4 1127.4,1066.2 1128.6,1066.3 1129.8,1066.2 1131.0,1065.8 1132.2,1066.0 1133.4,1065.8 1134.6,1066.7 1135.8,1066.5 1137.0,1066.5 1138.2,1066.5 1139.4,1066.0 1140.6,1066.0 1141.8,1066.4 1143.0,1066.6 1144.2,1066.1 1145.4,1066.3 1146.6,1066.6 1147.8,1066.6 1149.0,1067.1 1150.2,1066.0 1151.4,1066.3 1152.6,1066.0 1153.8,1066.0 1155.0,1065.9 1156.2,1066.4 1157.4,1066.4 1158.6,1066.5 1159.8,1066.5 1161.0,1066.5 1162.2,1066.4 1163.4,1065.8 1164.6,1066.1 1165.8,1065.8 1167.0,1065.9 1168.2,1066.3 1169.4,1066.6 1170.6,1065.8 1171.8,1066.2 1173.0,1065.9 1174.2,1065.9 1175.4,1065.8 1176.6,1066.0 1177.8,1066.1 1179.0,1066.3 1180.2,1065.8 1181.4,1066.5 1182.6,1065.4 1183.8,1066.1 1185.0,1065.7 1186.2,1065.9 1187.4,1066.5 1188.6,1066.0 1189.8,1065.8 1191.0,1066.1 1192.2,1066.1 1193.4,1066.0 1194.6,1066.0 1195.8,1066.3 1197.0,1067.1 1198.2,1065.7 1199.4,1066.1 1200.6,1066.0 1201.8,1065.6 1203.0,1065.8 1204.2,1065.8 1205.4,1065.9 1206.6,1066.2 1207.8,1066.1 1209.0,1065.8 1210.2,1065.7 1211.4,1065.9 1212.6,1065.6 1213.8,1066.0 1215.0,1066.2 1216.2,1066.2 1217.4,1066.4 1218.6,1065.6 1219.8,1065.7 1221.0,1065.8" fill="none" stroke="#000" stroke-width="2.4" stroke-linejoin="round"/>
<polyline points="1035.0,1064.4 1036.2,1064.7 1037.4,1064.1 1038.6,1064.3 1039.8,1064.2 1041.0,1064.9 1042.2,1064.7 1043.4,1064.2 1044.6,1064.3 1045.8,1064.7 1047.0,1064.4 1048.2,1064.1 1049.4,1064.6 1050.6,1064.2 1051.8,1064.8 1053.0,1064.0 1054.2,1064.2 1055.4,1064.6 1056.6,1064.8 1057.8,1064.3 1059.0,1064.5 1060.2,1064.0 1061.4,1064.1 1062.6,1064.2 1063.8,1064.5 1065.0,1064.8 1066.2,1064.7 1067.4,1064.6 1068.6,1064.4 1069.8,1064.4 1071.0,1064.8 1072.2,1064.7 1073.4,1064.3 1074.6,1064.2 1075.8,1064.7 1077.0,1064.8 1078.2,1064.3 1079.4,1064.4 1080.6,1064.8 1081.8,1064.5 1083.0,1064.6 1084.2,1064.4 1085.4,1064.7 1086.6,1064.9 1087.8,1064.7 1089.0,1064.3 1090.2,1064.5 1091.4,1064.1 1092.6,1064.8 1093.8,1064.5 1095.0,1064.3 1096.2,1064.2 1097.4,1064.7 1098.6,1064.4 1099.8,1064.0 1101.0,1064.5 1102.2,1064.0 1103.4,1064.0 1104.6,1064.1 1105.8,1064.5 1107.0,1064.4 1108.2,1064.1 1109.4,1064.0 1110.6,1064.8 1111.8,1064.3 1113.0,1064.1 1114.2,1064.5 1115.4,1064.3 1116.6,1065.6 1117.8,1064.0 1119.0,1064.1 1120.2,1064.6 1121.4,1064.7 1122.6,1064.6 1123.8,1064.1 1125.0,1063.8 1126.2,1064.4 1127.4,1064.3 1128.6,1064.7 1129.8,1064.5 1131.0,1063.9 1132.2,1064.7 1133.4,1064.7 1134.6,1064.7 1135.8,1064.5 1137.0,1064.4 1138.2,1064.1 1139.4,1064.4 1140.6,1064.1 1141.8,1064.5 1143.0,1064.1 1144.2,1064.4 1145.4,1064.7 1146.6,1064.5 1147.8,1064.6 1149.0,1064.0 1150.2,1064.0 1151.4,1064.6 1152.6,1064.5 1153.8,1064.7 1155.0,1064.1 1156.2,1064.1 1157.4,1064.6 1158.6,1064.1 1159.8,1064.1 1161.0,1064.3 1162.2,1064.6 1163.4,1064.5 1164.6,1064.1 1165.8,1064.6 1167.0,1064.7 1168.2,1064.0 1169.4,1064.1 1170.6,1064.5 1171.8,1064.5 1173.0,1063.8 1174.2,1064.6 1175.4,1064.6 1176.6,1065.7 1177.8,1064.3 1179.0,1064.6 1180.2,1064.1 1181.4,1064.7 1182.6,1064.3 1183.8,1063.8 1185.0,1064.7 1186.2,1064.1 1187.4,1064.3 1188.6,1064.4 1189.8,1064.4 1191.0,1063.9 1192.2,1064.2 1193.4,1064.0 1194.6,1064.3 1195.8,1064.0 1197.0,1064.6 1198.2,1064.1 1199.4,1064.0 1200.6,1064.0 1201.8,1064.1 1203.0,1064.3 1204.2,1064.1 1205.4,1063.8 1206.6,1064.3 1207.8,1063.8 1209.0,1065.0 1210.2,1063.9 1211.4,1064.3 1212.6,1064.3 1213.8,1064.1 1215.0,1064.3 1216.2,1063.9 1217.4,1064.5 1218.6,1064.5 1219.8,1064.3 1221.0,1064.0" fill="none" stroke="#000" stroke-width="2.4" stroke-linejoin="round"/>
<polyline points="1035.0,1062.3 1036.2,1061.5 1037.4,1062.1 1038.6,1062.6 1039.8,1062.4 1041.0,1062.6 1042.2,1062.6 1043.4,1062.1 1044.6,1062.7 1045.8,1062.8 1047.0,1062.6 1048.2,1062.7 1049.4,1062.3 1050.6,1062.2 1051.8,1062.5 1053.0,1062.4 1054.2,1062.3 1055.4,1062.4 1056.6,1062.1 1057.8,1062.2 1059.0,1062.2 1060.2,1062.2 1061.4,1062.1 1062.6,1062.6 1063.8,1062.7 1065.0,1062.6 1066.2,1062.6 1067.4,1063.6 1068.6,1062.2 1069.8,1062.4 1071.0,1062.2 1072.2,1062.1 1073.4,1062.1 1074.6,1062.1 1075.8,1062.9 1077.0,1062.4 1078.2,1062.9 1079.4,1062.1 1080.6,1062.6 1081.8,1062.3 1083.0,1062.1 1084.2,1062.5 1085.4,1062.7 1086.6,1062.3 1087.8,1062.3 1089.0,1062.9 1090.2,1062.1 1091.4,1062.0 1092.6,1062.1 1093.8,1062.8 1095.0,1062.5 1096.2,1062.6 1097.4,1062.2 1098.6,1062.4 1099.8,1062.8 1101.0,1062.2 1102.2,1062.1 1103.4,1062.0 1104.6,1062.5 1105.8,1062.5 1107.0,1062.2 1108.2,1062.3 1109.4,1062.8 1110.6,1062.6 1111.8,1062.4 1113.0,1062.1 1114.2,1062.3 1115.4,1062.8 1116.6,1062.2 1117.8,1062.3 1119.0,1062.5 1120.2,1062.5 1121.4,1062.3 1122.6,1062.4 1123.8,1062.2 1125.0,1062.0 1126.2,1062.5 1127.4,1062.4 1128.6,1062.3 1129.8,1062.0 1131.0,1062.8 1132.2,1062.3 1133.4,1062.8 1134.6,1062.3 1135.8,1062.7 1137.0,1062.5 1138.2,1062.3 1139.4,1062.3 1140.6,1062.4 1141.8,1062.1 1143.0,1062.0 1144.2,1062.7 1145.4,1062.4 1146.6,1062.3 1147.8,1062.1 1149.0,1062.7 1150.2,1062.6 1151.4,1062.5 1152.6,1062.5 1153.8,1062.4 1155.0,1062.5 1156.2,1062.1 1157.4,1062.8 1158.6,1062.5 1159.8,1062.0 1161.0,1062.2 1162.2,1062.0 1163.4,1062.5 1164.6,1062.8 1165.8,1062.1 1167.0,1062.5 1168.2,1062.4 1169.4,1062.1 1170.6,1062.7 1171.8,1062.5 1173.0,1062.1 1174.2,1062.6 1175.4,1061.9 1176.6,1062.6 1177.8,1062.3 1179.0,1062.3 1180.2,1062.4 1181.4,1062.3 1182.6,1062.5 1183.8,1062.4 1185.0,1061.9 1186.2,1061.9 1187.4,1062.6 1188.6,1062.1 1189.8,1062.2 1191.0,1062.0 1192.2,1062.0 1193.4,1062.1 1194.6,1062.0 1195.8,1061.6 1197.0,1062.0 1198.2,1061.9 1199.4,1062.1 1200.6,1062.6 1201.8,1062.0 1203.0,1062.6 1204.2,1062.2 1205.4,1062.1 1206.6,1062.1 1207.8,1062.7 1209.0,1062.5 1210.2,1062.7 1211.4,1062.5 1212.6,1062.4 1213.8,1062.0 1215.0,1062.4 1216.2,1061.5 1217.4,1062.6 1218.6,1062.3 1219.8,1062.7 1221.0,1061.9" fill="none" stroke="#000" stroke-width="2.4" stroke-linejoin="round"/>
<polyline points="1035.0,1059.8 1036.2,1059.9 1037.4,1060.0 1038.6,1060.3 1039.8,1060.1 1041.0,1060.2 1042.2,1060.5 1043.4,1060.6 1044.6,1059.9 1045.8,1060.1 1047.0,1060.6 1048.2,1060.3 1049.4,1060.1 1050.6,1060.5 1051.8,1060.5 1053.0,1060.3 1054.2,1060.4 1055.4,1060.4 1056.6,1059.8 1057.8,1060.2 1059.0,1059.9 1060.2,1059.9 1061.4,1060.4 1062.6,1060.3 1063.8,1060.1 1065.0,1060.6 1066.2,1060.5 1067.4,1060.0 1068.6,1060.3 1069.8,1060.6 1071.0,1060.2 1072.2,1059.9 1073.4,1060.6 1074.6,1060.5 1075.8,1060.1 1077.0,1059.8 1078.2,1059.9 1079.4,1060.4 1080.6,1060.1 1081.8,1059.8 1083.0,1060.3 1084.2,1060.1 1085.4,1059.9 1086.6,1059.9 1087.8,1060.2 1089.0,1060.0 1090.2,1060.6 1091.4,1060.5 1092.6,1060.4 1093.8,1060.0 1095.0,1060.4 1096.2,1060.5 1097.4,1059.8 1098.6,1060.4 1099.8,1060.0 1101.0,1060.6 1102.2,1060.3 1103.4,1059.8 1104.6,1060.0 1105.8,1060.1 1107.0,1060.2 1108.2,1060.4 1109.4,1059.8 1110.6,1059.8 1111.8,1060.2 1113.0,1059.8 1114.2,1060.5 1115.4,1060.2 1116.6,1059.9 1117.8,1060.0 1119.0,1059.8 1120.2,1060.5 1121.4,1060.4 1122.6,1060.3 1123.8,1059.9 1125.0,1060.5 1126.2,1060.4 1127.4,1060.3 1128.6,1060.2 1129.8,1060.4 1131.0,1060.6 1132.2,1059.9 1133.4,1060.3 1134.6,1060.0 1135.8,1059.8 1137.0,1060.6 1138.2,1059.9 1139.4,1060.2 1140.6,1060.2 1141.8,1059.8 1143.0,1060.2 1144.2,1060.0 1145.4,1060.3 1146.6,1060.3 1147.8,1060.0 1149.0,1060.6 1150.2,1059.8 1151.4,1060.4 1152.6,1060.4 1153.8,1060.4 1155.0,1060.2 1156.2,1060.0 1157.4,1059.8 1158.6,1060.0 1159.8,1060.5 1161.0,1060.2 1162.2,1060.3 1163.4,1059.8 1164.6,1060.4 1165.8,1060.3 1167.0,1059.9 1168.2,1060.0 1169.4,1060.6 1170.6,1060.0 1171.8,1060.0 1173.0,1060.1 1174.2,1059.9 1175.4,1060.5 1176.6,1060.6 1177.8,1060.4 1179.0,1059.8 1180.2,1060.2 1181.4,1060.1 1182.6,1059.9 1183.8,1059.9 1185.0,1059.9 1186.2,1060.4 1187.4,1060.0 1188.6,1060.4 1189.8,1060.6 1191.0,1060.5 1192.2,1060.1 1193.4,1060.1 1194.6,1060.6 1195.8,1060.6 1197.0,1060.1 1198.2,1060.3 1199.4,1059.8 1200.6,1060.4 1201.8,1059.8 1203.0,1060.3 1204.2,1060.2 1205.4,1060.6 1206.6,1059.8 1207.8,1060.2 1209.0,1060.2 1210.2,1060.0 1211.4,1059.9 1212.6,1060.0 1213.8,1060.8 1215.0,1060.2 1216.2,1059.9 1217.4,1060.0 1218.6,1060.1 1219.8,1060.0 1221.0,1060.4" fill="none" stroke="#000" stroke-width="2.4" stroke-linejoin="round"/>
<polyline points="1035.0,1057.7 1036.2,1058.0 1037.4,1058.2 1038.6,1058.0 1039.8,1057.7 1041.0,1058.1 1042.2,1058.1 1043.4,1058.4 1044.6,1057.8 1045.8,1057.6 1047.0,1057.8 1048.2,1058.2 1049.4,1058.1 1050.6,1057.6 1051.8,1057.6 1053.0,1058.3 1054.2,1058.0 1055.4,1057.7 1056.6,1058.1 1057.8,1057.7 1059.0,1058.4 1060.2,1057.7 1061.4,1059.0 1062.6,1057.8 1063.8,1057.7 1065.0,1057.9 1066.2,1058.2 1067.4,1058.3 1068.6,1058.3 1069.8,1058.1 1071.0,1058.4 1072.2,1057.9 1073.4,1057.7 1074.6,1057.7 1075.8,1058.1 1077.0,1057.9 1078.2,1057.7 1079.4,1058.5 1080.6,1057.8 1081.8,1058.4 1083.0,1057.9 1084.2,1058.3 1085.4,1057.7 1086.6,1058.0 1087.8,1058.3 1089.0,1057.9 1090.2,1058.2 1091.4,1057.7 1092.6,1058.2 1093.8,1057.9 1095.0,1058.1 1096.2,1058.1 1097.4,1058.1 1098.6,1058.0 1099.8,1057.8 1101.0,1058.2 1102.2,1057.8 1103.4,1058.5 1104.6,1057.9 1105.8,1058.0 1107.0,1057.8 1108.2,1058.0 1109.4,1057.8 1110.6,1057.9 1111.8,1058.2 1113.0,1058.1 1114.2,1058.4 1115.4,1058.4 1116.6,1058.4 1117.8,1058.3 1119.0,1058.4 1120.2,1058.6 1121.4,1057.7 1122.6,1058.1 1123.8,1057.9 1125.0,1057.7 1126.2,1058.4 1127.4,1058.3 1128.6,1057.8 1129.8,1057.8 1131.0,1057.7 1132.2,1058.0 1133.4,1058.5 1134.6,1058.0 1135.8,1058.1 1137.0,1058.3 1138.2,1058.1 1139.4,1057.9 1140.6,1057.8 1141.8,1058.2 1143.0,1058.5 1144.2,1058.1 1145.4,1059.1 1146.6,1058.0 1147.8,1058.0 1149.0,1058.4 1150.2,1058.6 1151.4,1058.0 1152.6,1058.5 1153.8,1058.4 1155.0,1058.6 1156.2,1056.8 1157.4,1058.3 1158.6,1058.1 1159.8,1058.1 1161.0,1058.2 1162.2,1057.8 1163.4,1058.0 1164.6,1058.0 1165.8,1058.1 1167.0,1058.1 1168.2,1057.8 1169.4,1058.1 1170.6,1058.5 1171.8,1058.5 1173.0,1057.9 1174.2,1058.0 1175.4,1058.7 1176.6,1058.2 1177.8,1058.4 1179.0,1057.9 1180.2,1058.0 1181.4,1058.3 1182.6,1058.5 1183.8,1058.2 1185.0,1059.2 1186.2,1057.9 1187.4,1058.7 1188.6,1058.2 1189.8,1057.3 1191.0,1057.4 1192.2,1058.2 1193.4,1057.9 1194.6,1057.9 1195.8,1057.9 1197.0,1058.7 1198.2,1058.7 1199.4,1058.1 1200.6,1058.1 1201.8,1058.7 1203.0,1058.1 1204.2,1058.3 1205.4,1058.5 1206.6,1058.0 1207.8,1057.9 1209.0,1058.0 1210.2,1058.6 1211.4,1058.6 1212.6,1058.6 1213.8,1058.7 1215.0,1058.5 1216.2,1058.6 1217.4,1058.0 1218.6,1058.0 1219.8,1058.1 1221.0,1058.6" fill="none" stroke="#000" stroke-width="2.4" stroke-linejoin="round"/>
<polyline points="1035.0,1056.2 1036.2,1056.1 1037.4,1056.4 1038.6,1056.2 1039.8,1056.3 1041.0,1056.0 1042.2,1056.4 1043.4,1056.0 1044.6,1056.2 1045.8,1055.7 1047.0,1055.7 1048.2,1055.8 1049.4,1056.0 1050.6,1056.3 1051.8,1056.0 1053.0,1056.1 1054.2,1056.3 1055.4,1056.1 1056.6,1055.8 1057.8,1056.3 1059.0,1056.0 1060.2,1055.7 1061.4,1056.0 1062.6,1056.4 1063.8,1055.9 1065.0,1056.4 1066.2,1056.1 1067.4,1055.6 1068.6,1056.4 1069.8,1055.8 1071.0,1056.5 1072.2,1056.4 1073.4,1056.0 1074.6,1056.4 1075.8,1055.8 1077.0,1056.0 1078.2,1056.2 1079.4,1056.4 1080.6,1056.1 1081.8,1057.5 1083.0,1056.2 1084.2,1056.0 1085.4,1056.0 1086.6,1055.7 1087.8,1055.5 1089.0,1055.8 1090.2,1055.7 1091.4,1056.1 1092.6,1056.4 1093.8,1056.3 1095.0,1056.3 1096.2,1055.7 1097.4,1056.2 1098.6,1056.0 1099.8,1055.7 1101.0,1056.4 1102.2,1056.5 1103.4,1055.9 1104.6,1056.3 1105.8,1056.2 1107.0,1056.0 1108.2,1056.5 1109.4,1055.8 1110.6,1056.3 1111.8,1056.0 1113.0,1056.5 1114.2,1055.7 1115.4,1056.2 1116.6,1056.4 1117.8,1056.3 1119.0,1056.5 1120.2,1055.9 1121.4,1056.3 1122.6,1056.5 1123.8,1056.1 1125.0,1056.0 1126.2,1056.3 1127.4,1056.2 1128.6,1056.5 1129.8,1055.8 1131.0,1056.0 1132.2,1055.9 1133.4,1056.2 1134.6,1056.2 1135.8,1056.2 1137.0,1056.2 1138.2,1055.9 1139.4,1056.3 1140.6,1056.3 1141.8,1055.9 1143.0,1055.4 1144.2,1056.4 1145.4,1055.7 1146.6,1055.4 1147.8,1055.7 1149.0,1056.4 1150.2,1056.3 1151.4,1055.9 1152.6,1055.7 1153.8,1056.5 1155.0,1056.6 1156.2,1057.2 1157.4,1056.3 1158.6,1055.8 1159.8,1055.8 1161.0,1055.9 1162.2,1056.2 1163.4,1056.5 1164.6,1056.1 1165.8,1056.3 1167.0,1056.1 1168.2,1056.6 1169.4,1056.3 1170.6,1056.3 1171.8,1056.0 1173.0,1056.4 1174.2,1055.9 1175.4,1056.3 1176.6,1055.9 1177.8,1056.2 1179.0,1056.1 1180.2,1056.8 1181.4,1056.2 1182.6,1056.2 1183.8,1055.9 1185.0,1056.7 1186.2,1056.0 1187.4,1056.2 1188.6,1056.1 1189.8,1055.8 1191.0,1056.7 1192.2,1056.1 1193.4,1056.0 1194.6,1055.8 1195.8,1056.5 1197.0,1056.0 1198.2,1056.3 1199.4,1056.2 1200.6,1056.2 1201.8,1056.5 1203.0,1056.6 1204.2,1056.2 1205.4,1056.4 1206.6,1056.2 1207.8,1056.2 1209.0,1056.4 1210.2,1056.4 1211.4,1056.4 1212.6,1056.0 1213.8,1056.7 1215.0,1056.3 1216.2,1056.4 1217.4,1056.3 1218.6,1056.7 1219.8,1056.0 1221.0,1056.4" fill="none" stroke="#000" stroke-width="2.4" stroke-linejoin="round"/>
<polyline points="1035.0,1053.6 1036.2,1054.0 1037.4,1053.6 1038.6,1054.2 1039.8,1053.7 1041.0,1054.2 1042.2,1054.0 1043.4,1054.2 1044.6,1053.9 1045.8,1053.6 1047.0,1054.0 1048.2,1053.8 1049.4,1053.8 1050.6,1053.6 1051.8,1054.3 1053.0,1053.7 1054.2,1053.6 1055.4,1054.3 1056.6,1054.0 1057.8,1053.9 1059.0,1053.8 1060.2,1054.0 1061.4,1054.0 1062.6,1054.4 1063.8,1054.4 1065.0,1054.0 1066.2,1053.8 1067.4,1054.1 1068.6,1054.1 1069.8,1054.2 1071.0,1054.0 1072.2,1054.1 1073.4,1055.4 1074.6,1054.3 1075.8,1053.9 1077.0,1053.9 1078.2,1053.9 1079.4,1053.7 1080.6,1054.5 1081.8,1054.5 1083.0,1053.7 1084.2,1054.0 1085.4,1053.7 1086.6,1053.8 1087.8,1054.5 1089.0,1054.2 1090.2,1054.0 1091.4,1054.0 1092.6,1054.0 1093.8,1053.8 1095.0,1054.3 1096.2,1054.4 1097.4,1053.7 1098.6,1053.9 1099.8,1054.1 1101.0,1054.0 1102.2,1054.4 1103.4,1054.4 1104.6,1053.7 1105.8,1054.4 1107.0,1053.7 1108.2,1054.3 1109.4,1054.1 1110.6,1054.0 1111.8,1053.8 1113.0,1054.1 1114.2,1053.9 1115.4,1054.5 1116.6,1054.2 1117.8,1054.0 1119.0,1054.6 1120.2,1054.0 1121.4,1054.5 1122.6,1053.7 1123.8,1053.2 1125.0,1054.1 1126.2,1054.5 1127.4,1054.2 1128.6,1054.6 1129.8,1054.1 1131.0,1054.2 1132.2,1052.7 1133.4,1054.4 1134.6,1054.5 1135.8,1054.3 1137.0,1054.2 1138.2,1054.0 1139.4,1054.5 1140.6,1054.6 1141.8,1054.0 1143.0,1054.5 1144.2,1053.9 1145.4,1054.4 1146.6,1053.8 1147.8,1054.3 1149.0,1054.6 1150.2,1054.4 1151.4,1054.0 1152.6,1054.4 1153.8,1053.4 1155.0,1054.3 1156.2,1053.9 1157.4,1054.2 1158.6,1054.4 1159.8,1053.6 1161.0,1054.5 1162.2,1054.2 1163.4,1054.1 1164.6,1054.0 1165.8,1054.3 1167.0,1054.3 1168.2,1053.9 1169.4,1054.5 1170.6,1053.9 1171.8,1054.1 1173.0,1053.8 1174.2,1054.1 1175.4,1053.9 1176.6,1054.0 1177.8,1054.4 1179.0,1054.0 1180.2,1053.9 1181.4,1054.3 1182.6,1054.0 1183.8,1054.3 1185.0,1054.0 1186.2,1054.0 1187.4,1054.2 1188.6,1054.0 1189.8,1054.0 1191.0,1054.2 1192.2,1053.8 1193.4,1054.0 1194.6,1053.4 1195.8,1054.0 1197.0,1055.3 1198.2,1054.6 1199.4,1054.5 1200.6,1053.9 1201.8,1053.9 1203.0,1054.0 1204.2,1053.9 1205.4,1054.0 1206.6,1054.4 1207.8,1053.9 1209.0,1054.2 1210.2,1054.2 1211.4,1054.2 1212.6,1054.1 1213.8,1054.7 1215.0,1053.9 1216.2,1054.3 1217.4,1054.0 1218.6,1054.0 1219.8,1054.2 1221.0,1054.2" fill="none" stroke="#000" stroke-width="2.4" stroke-linejoin="round"/>
<polyline points="1035.0,1052.6 1036.2,1052.8 1037.4,1052.6 1038.6,1052.7 1039.8,1052.0 1041.0,1052.0 1042.2,1052.0 1043.4,1052.3 1044.6,1052.7 1045.8,1052.8 1047.0,1052.5 1048.2,1052.6 1049.4,1052.4 1050.6,1052.3 1051.8,1052.2 1053.0,1052.6 1054.2,1052.1 1055.4,1052.5 1056.6,1052.7 1057.8,1052.5 1059.0,1052.4 1060.2,1052.0 1061.4,1052.4 1062.6,1052.7 1063.8,1052.0 1065.0,1052.3 1066.2,1052.7 1067.4,1052.5 1068.6,1052.2 1069.8,1052.2 1071.0,1052.2 1072.2,1052.5 1073.4,1052.6 1074.6,1052.0 1075.8,1052.2 1077.0,1052.3 1078.2,1052.5 1079.4,1052.0 1080.6,1052.6 1081.8,1052.6 1083.0,1051.8 1084.2,1052.4 1085.4,1052.8 1086.6,1052.0 1087.8,1052.1 1089.0,1052.1 1090.2,1052.0 1091.4,1052.0 1092.6,1052.6 1093.8,1052.5 1095.0,1052.5 1096.2,1052.8 1097.4,1052.1 1098.6,1052.8 1099.8,1052.8 1101.0,1052.2 1102.2,1052.0 1103.4,1052.2 1104.6,1052.1 1105.8,1052.5 1107.0,1051.7 1108.2,1052.4 1109.4,1052.2 1110.6,1052.6 1111.8,1052.1 1113.0,1052.2 1114.2,1052.4 1115.4,1052.8 1116.6,1052.3 1117.8,1052.4 1119.0,1052.1 1120.2,1053.3 1121.4,1053.2 1122.6,1052.3 1123.8,1052.1 1125.0,1052.6 1126.2,1052.1 1127.4,1052.4 1128.6,1052.2 1129.8,1052.8 1131.0,1052.3 1132.2,1052.6 1133.4,1052.3 1134.6,1052.8 1135.8,1052.5 1137.0,1052.2 1138.2,1052.5 1139.4,1052.1 1140.6,1052.4 1141.8,1052.2 1143.0,1052.5 1144.2,1052.7 1145.4,1052.7 1146.6,1052.5 1147.8,1052.5 1149.0,1052.0 1150.2,1052.4 1151.4,1052.0 1152.6,1053.6 1153.8,1052.5 1155.0,1052.7 1156.2,1052.1 1157.4,1052.6 1158.6,1052.2 1159.8,1052.8 1161.0,1052.6 1162.2,1052.4 1163.4,1052.1 1164.6,1052.1 1165.8,1052.5 1167.0,1052.7 1168.2,1052.7 1169.4,1052.2 1170.6,1052.6 1171.8,1052.3 1173.0,1052.4 1174.2,1052.0 1175.4,1052.2 1176.6,1051.8 1177.8,1052.3 1179.0,1052.1 1180.2,1052.3 1181.4,1052.4 1182.6,1052.5 1183.8,1052.3 1185.0,1052.0 1186.2,1052.5 1187.4,1052.2 1188.6,1052.5 1189.8,1052.0 1191.0,1052.6 1192.2,1052.2 1193.4,1052.7 1194.6,1052.0 1195.8,1052.3 1197.0,1052.5 1198.2,1053.1 1199.4,1052.7 1200.6,1052.1 1201.8,1052.6 1203.0,1052.2 1204.2,1052.1 1205.4,1052.6 1206.6,1052.1 1207.8,1052.3 1209.0,1052.0 1210.2,1052.2 1211.4,1052.3 1212.6,1052.2 1213.8,1052.6 1215.0,1052.7 1216.2,1052.2 1217.4,1052.7 1218.6,1052.3 1219.8,1052.5 1221.0,1052.0" fill="none" stroke="#000" stroke-width="2.4" stroke-linejoin="round"/>
<path d="M1032.3,1198.4 L1032.5,920.2 L1034.7,920.2 L1034.9,1198.4 Z" fill="#000"/>
<path d="M1221.5,1122.5 L1221.7,920.2 L1223.9,920.2 L1224.1,1122.5 Z" fill="#000"/>
<path d="M1224.0,1032.5 L1225.0,1034.2 L1226.0,1035.7 L1227.0,1037.0 L1228.0,1038.2 L1229.0,1039.3 L1230.0,1040.3 L1231.0,1041.1 L1232.0,1041.9 L1233.0,1042.6 L1234.0,1043.2 L1235.0,1043.8 L1236.0,1044.3 L1237.0,1044.7 L1238.0,1045.1 L1239.0,1045.5 L1240.0,1045.8 L1241.0,1046.1 L1242.0,1046.3 L1243.0,1046.6 L1244.0,1046.8 L1245.0,1046.9 L1246.0,1047.1 L1247.0,1047.3 L1248.0,1047.4 L1249.0,1047.5 L1250.0,1047.6 L1251.0,1047.7 L1252.0,1047.8 L1253.0,1047.9 L1254.0,1047.9 L1255.0,1048.0 L1256.0,1048.0 L1257.0,1048.1 L1258.0,1048.1 L1259.0,1048.2 L1260.0,1048.2 L1261.0,1048.2 L1262.0,1048.3 L1263.0,1048.3 L1264.0,1048.3 L1265.0,1048.3 L1266.0,1048.3 L1267.0,1048.4 L1268.0,1048.4 L1269.0,1048.4 L1270.0,1048.4 L1271.0,1048.4 L1272.0,1048.4 L1273.0,1048.4 L1274.0,1048.4 L1275.0,1048.4 L1276.0,1048.5 L1277.0,1048.5 L1278.0,1048.5 L1279.0,1048.5 L1280.0,1048.5 L1281.0,1048.5 L1282.0,1048.5 L1283.0,1048.5 L1284.0,1048.5 L1285.0,1048.5 L1286.0,1048.5 L1287.0,1048.5 L1288.0,1048.5 L1289.0,1048.5 L1290.0,1048.5 L1291.0,1048.5 L1292.0,1048.5 L1293.0,1048.5 L1294.0,1048.5 L1295.0,1048.5 L1296.0,1048.5 L1297.0,1048.5 L1298.0,1048.5 L1299.0,1048.5 L1299,1056 L1224,1056 Z" fill="#000"/>
<polyline points="1224.0,1032.1 1225.2,1034.1 1226.4,1035.4 1227.6,1038.6 1228.8,1038.4 1230.0,1039.7 1231.2,1040.5 1232.4,1041.6 1233.6,1043.6 1234.8,1043.2 1236.0,1044.0 1237.2,1044.3 1238.4,1044.5 1239.6,1045.1 1240.8,1045.9 1242.0,1045.9 1243.2,1046.1 1244.4,1046.3 1245.6,1046.7 1246.8,1046.4 1248.0,1047.3 1249.2,1047.3 1250.4,1046.9 1251.6,1047.6 1252.8,1047.0 1254.0,1047.6 1255.2,1047.4 1256.4,1047.4 1257.6,1048.0 1258.8,1047.8 1260.0,1047.5 1261.2,1048.1 1262.4,1047.4 1263.6,1048.1 1264.8,1047.6 1266.0,1047.6 1267.2,1047.9 1268.4,1047.8 1269.6,1047.9 1270.8,1047.6 1272.0,1047.7 1273.2,1048.2 1274.4,1047.8 1275.6,1047.8 1276.8,1048.2 1278.0,1047.8 1279.2,1047.8 1280.4,1048.8 1281.6,1047.6 1282.8,1048.3 1284.0,1048.1 1285.2,1048.4 1286.4,1047.7 1287.6,1046.9 1288.8,1048.1 1290.0,1048.1 1291.2,1048.3 1292.4,1047.9 1293.6,1047.9 1294.8,1048.3 1296.0,1048.4 1297.2,1048.4 1298.4,1047.8" fill="none" stroke="#000" stroke-width="1.8" stroke-linejoin="round"/>
<polyline points="1224.0,1039.9 1225.2,1041.6 1226.4,1042.0 1227.6,1043.6 1228.8,1044.1 1230.0,1044.6 1231.2,1045.7 1232.4,1046.2 1233.6,1046.4 1234.8,1047.2 1236.0,1048.3 1237.2,1047.9 1238.4,1047.7 1239.6,1048.0 1240.8,1048.8 1242.0,1048.9 1243.2,1048.4 1244.4,1049.3 1245.6,1049.4 1246.8,1049.2 1248.0,1049.6 1249.2,1049.3 1250.4,1049.2 1251.6,1049.4 1252.8,1049.9 1254.0,1049.8 1255.2,1049.8 1256.4,1050.1 1257.6,1050.0 1258.8,1049.8 1260.0,1050.1 1261.2,1050.0 1262.4,1050.0 1263.6,1050.0 1264.8,1049.9 1266.0,1050.2 1267.2,1050.1 1268.4,1049.8 1269.6,1049.7 1270.8,1049.8 1272.0,1050.1 1273.2,1050.3 1274.4,1049.7 1275.6,1049.6 1276.8,1049.9 1278.0,1050.8 1279.2,1049.9 1280.4,1050.3 1281.6,1050.1 1282.8,1050.3 1284.0,1050.3 1285.2,1050.0 1286.4,1049.8 1287.6,1049.8 1288.8,1050.0 1290.0,1050.2 1291.2,1050.0 1292.4,1050.0 1293.6,1049.9 1294.8,1049.9 1296.0,1050.0 1297.2,1050.1 1298.4,1050.1" fill="none" stroke="#000" stroke-width="1.8" stroke-linejoin="round"/>
<polyline points="1224.0,1044.9 1225.2,1045.9 1226.4,1046.6 1227.6,1047.7 1228.8,1048.1 1230.0,1048.3 1231.2,1049.2 1232.4,1049.3 1233.6,1049.7 1234.8,1049.9 1236.0,1049.8 1237.2,1050.0 1238.4,1050.4 1239.6,1050.6 1240.8,1050.6 1242.0,1051.2 1243.2,1051.4 1244.4,1051.3 1245.6,1051.5 1246.8,1051.5 1248.0,1051.4 1249.2,1051.7 1250.4,1051.5 1251.6,1051.8 1252.8,1051.6 1254.0,1051.9 1255.2,1051.8 1256.4,1051.9 1257.6,1051.7 1258.8,1051.8 1260.0,1052.2 1261.2,1051.6 1262.4,1052.1 1263.6,1051.6 1264.8,1052.2 1266.0,1051.8 1267.2,1051.8 1268.4,1051.7 1269.6,1051.8 1270.8,1052.2 1272.0,1052.0 1273.2,1052.0 1274.4,1052.2 1275.6,1051.9 1276.8,1052.0 1278.0,1052.3 1279.2,1052.0 1280.4,1052.2 1281.6,1051.7 1282.8,1051.7 1284.0,1051.6 1285.2,1052.2 1286.4,1052.3 1287.6,1052.1 1288.8,1051.7 1290.0,1051.7 1291.2,1052.2 1292.4,1051.9 1293.6,1052.3 1294.8,1053.4 1296.0,1051.9 1297.2,1051.8 1298.4,1052.2" fill="none" stroke="#000" stroke-width="1.8" stroke-linejoin="round"/>
<polyline points="1224.0,1050.2 1225.2,1050.8 1226.4,1051.2 1227.6,1051.4 1228.8,1051.9 1230.0,1051.7 1231.2,1052.1 1232.4,1052.2 1233.6,1051.4 1234.8,1052.9 1236.0,1052.8 1237.2,1052.8 1238.4,1053.5 1239.6,1053.6 1240.8,1053.3 1242.0,1053.7 1243.2,1053.6 1244.4,1055.0 1245.6,1053.3 1246.8,1053.7 1248.0,1053.4 1249.2,1053.6 1250.4,1053.6 1251.6,1053.5 1252.8,1054.1 1254.0,1054.1 1255.2,1053.9 1256.4,1054.3 1257.6,1053.8 1258.8,1054.2 1260.0,1054.2 1261.2,1054.2 1262.4,1054.1 1263.6,1053.9 1264.8,1053.7 1266.0,1053.6 1267.2,1054.3 1268.4,1054.0 1269.6,1054.3 1270.8,1053.8 1272.0,1054.1 1273.2,1053.9 1274.4,1053.6 1275.6,1053.8 1276.8,1054.0 1278.0,1053.8 1279.2,1054.2 1280.4,1054.0 1281.6,1054.0 1282.8,1053.9 1284.0,1054.3 1285.2,1053.7 1286.4,1054.1 1287.6,1053.8 1288.8,1054.4 1290.0,1054.3 1291.2,1053.7 1292.4,1054.1 1293.6,1053.7 1294.8,1054.1 1296.0,1053.7 1297.2,1054.3 1298.4,1053.0" fill="none" stroke="#000" stroke-width="1.8" stroke-linejoin="round"/>
<polyline points="1224.0,1053.7 1225.2,1053.7 1226.4,1054.0 1227.6,1054.4 1228.8,1054.2 1230.0,1054.6 1231.2,1054.8 1232.4,1055.0 1233.6,1054.8 1234.8,1054.8 1236.0,1055.2 1237.2,1055.1 1238.4,1055.1 1239.6,1054.8 1240.8,1055.0 1242.0,1054.9 1243.2,1055.2 1244.4,1054.9 1245.6,1055.6 1246.8,1055.2 1248.0,1055.2 1249.2,1055.7 1250.4,1055.4 1251.6,1055.6 1252.8,1055.2 1254.0,1055.4 1255.2,1055.4 1256.4,1055.6 1257.6,1055.3 1258.8,1055.3 1260.0,1055.8 1261.2,1055.5 1262.4,1055.8 1263.6,1055.2 1264.8,1055.1 1266.0,1055.7 1267.2,1055.4 1268.4,1055.7 1269.6,1055.6 1270.8,1055.6 1272.0,1055.2 1273.2,1055.5 1274.4,1055.4 1275.6,1055.2 1276.8,1055.8 1278.0,1055.7 1279.2,1055.4 1280.4,1055.1 1281.6,1055.2 1282.8,1055.7 1284.0,1055.6 1285.2,1055.6 1286.4,1055.6 1287.6,1055.4 1288.8,1055.2 1290.0,1055.8 1291.2,1055.6 1292.4,1055.2 1293.6,1055.1 1294.8,1055.2 1296.0,1055.5 1297.2,1055.6 1298.4,1055.3" fill="none" stroke="#000" stroke-width="1.8" stroke-linejoin="round"/>
<path d="M1298.0,1198.4 L1298.2,1047.0 L1300.4,1047.0 L1300.6,1198.4 Z" fill="#000"/>
<polyline points="1300.0,1062.7 1301.5,1061.8 1303.0,1061.6 1304.5,1060.9 1306.0,1060.0 1307.5,1061.0 1309.0,1061.1 1310.5,1061.0 1312.0,1060.7 1313.5,1060.6 1315.0,1060.6 1316.5,1060.3 1318.0,1060.6 1319.5,1060.4 1321.0,1060.5 1322.5,1060.5 1324.0,1060.7 1325.5,1060.9 1327.0,1059.4" fill="none" stroke="#000" stroke-width="2.8" stroke-linejoin="round"/>
<text x="1090.3" y="1040.6" font-size="23.63" fill="#000">40 mV</text>
<text x="1079.9" y="1145.7" font-size="23.44" fill="#000">-140 mV</text>
<text x="1309.5" y="1177.3" font-size="25.25" fill="#000">1 µA</text>
<polyline points="1366.8,1161.5 1366.8,1176.0 1403.4,1176.0" fill="none" stroke="#000" stroke-width="1.9" stroke-linejoin="round"/>
<text x="1366.4" y="1198.8" font-size="24.53" fill="#000">0.1 s</text>
<polyline points="568.5,1408.2 570.0,1408.5 571.5,1408.2 573.0,1408.1 574.5,1408.3 576.0,1408.0 577.5,1408.1 579.0,1409.3 580.5,1408.0 582.0,1408.2 583.5,1408.7 585.0,1407.9 586.5,1408.0 588.0,1408.2 589.5,1408.4 591.0,1408.5 592.5,1408.4 594.0,1408.2 595.5,1409.6 597.0,1408.0 598.5,1408.7" fill="none" stroke="#000" stroke-width="2.8" stroke-linejoin="round"/>
<polyline points="601.0,1389.5 602.2,1389.3 603.4,1389.4 604.6,1389.5 605.8,1389.5 607.0,1389.5 608.2,1389.7 609.4,1389.5 610.6,1389.3 611.8,1389.3 613.0,1389.6 614.2,1389.5 615.4,1389.2 616.6,1389.4 617.8,1389.7 619.0,1389.7 620.2,1389.5 621.4,1389.6 622.6,1389.3 623.8,1389.4 625.0,1389.2 626.2,1389.6 627.4,1389.6 628.6,1389.6 629.8,1389.2 631.0,1389.5 632.2,1389.1 633.4,1389.0 634.6,1389.0 635.8,1389.1 637.0,1389.2 638.2,1389.2 639.4,1389.0 640.6,1389.3 641.8,1388.5 643.0,1389.5 644.2,1389.4 645.4,1389.0 646.6,1389.4 647.8,1389.2 649.0,1389.1 650.2,1389.3 651.4,1389.2 652.6,1389.1 653.8,1389.2 655.0,1389.1 656.2,1389.4 657.4,1388.4 658.6,1389.4 659.8,1389.3 661.0,1389.4 662.2,1389.0 663.4,1389.2 664.6,1389.1 665.8,1389.1 667.0,1390.1 668.2,1388.9 669.4,1388.8 670.6,1389.0 671.8,1389.2 673.0,1389.3 674.2,1388.9 675.4,1389.1 676.6,1389.0 677.8,1389.1 679.0,1388.8 680.2,1389.0 681.4,1388.8 682.6,1388.8 683.8,1389.0 685.0,1388.8 686.2,1389.0 687.4,1388.9 688.6,1388.9 689.8,1389.0 691.0,1389.8 692.2,1389.3 693.4,1388.8 694.6,1389.9 695.8,1388.8 697.0,1389.3 698.2,1389.1 699.4,1389.0 700.6,1389.3 701.8,1389.2 703.0,1388.9 704.2,1389.1 705.4,1389.2 706.6,1389.2 707.8,1388.9 709.0,1388.9 710.2,1388.7 711.4,1389.0 712.6,1388.8 713.8,1389.1 715.0,1389.1 716.2,1389.0 717.4,1388.8 718.6,1388.7 719.8,1389.1 721.0,1389.1 722.2,1389.1 723.4,1388.7 724.6,1388.0 725.8,1389.2 727.0,1389.1 728.2,1388.9 729.4,1389.1 730.6,1388.7 731.8,1389.2 733.0,1389.1 734.2,1388.8 735.4,1388.7 736.6,1388.6 737.8,1388.7 739.0,1389.0 740.2,1389.1 741.4,1388.8 742.6,1388.8 743.8,1389.1 745.0,1389.0 746.2,1388.8 747.4,1389.0 748.6,1389.2 749.8,1388.7 751.0,1389.1 752.2,1389.1 753.4,1388.6 754.6,1388.7 755.8,1388.9 757.0,1389.1 758.2,1389.0 759.4,1389.1 760.6,1388.8 761.8,1389.1 763.0,1388.7 764.2,1388.9 765.4,1388.8 766.6,1388.8 767.8,1389.0 769.0,1388.6 770.2,1388.8 771.4,1388.7 772.6,1388.7 773.8,1389.0 775.0,1389.0 776.2,1388.5 777.4,1388.8 778.6,1388.7 779.8,1388.8 781.0,1388.7 782.2,1388.7 783.4,1388.6 784.6,1389.0 785.8,1388.5 787.0,1388.6 788.2,1388.7 789.4,1388.6 790.6,1388.8" fill="none" stroke="#000" stroke-width="1.9" stroke-linejoin="round"/>
<polyline points="601.0,1400.6 602.2,1400.5 603.4,1400.2 604.6,1400.6 605.8,1400.5 607.0,1400.4 608.2,1400.4 609.4,1401.5 610.6,1400.5 611.8,1400.7 613.0,1401.2 614.2,1400.6 615.4,1400.7 616.6,1400.6 617.8,1400.6 619.0,1400.2 620.2,1400.3 621.4,1400.3 622.6,1400.2 623.8,1400.6 625.0,1400.1 626.2,1400.1 627.4,1400.7 628.6,1400.4 629.8,1400.5 631.0,1400.5 632.2,1400.7 633.4,1401.2 634.6,1400.6 635.8,1400.7 637.0,1400.4 638.2,1400.4 639.4,1400.4 640.6,1400.6 641.8,1400.2 643.0,1400.6 644.2,1400.3 645.4,1400.7 646.6,1400.2 647.8,1400.2 649.0,1400.5 650.2,1400.5 651.4,1400.7 652.6,1400.4 653.8,1400.4 655.0,1400.4 656.2,1400.4 657.4,1400.3 658.6,1400.6 659.8,1400.4 661.0,1401.7 662.2,1400.3 663.4,1400.3 664.6,1400.4 665.8,1400.6 667.0,1400.3 668.2,1400.5 669.4,1400.2 670.6,1400.3 671.8,1400.6 673.0,1400.6 674.2,1400.5 675.4,1400.7 676.6,1400.7 677.8,1400.5 679.0,1400.4 680.2,1400.6 681.4,1400.1 682.6,1400.6 683.8,1400.4 685.0,1400.2 686.2,1400.3 687.4,1399.6 688.6,1400.4 689.8,1400.1 691.0,1400.5 692.2,1400.2 693.4,1400.1 694.6,1400.1 695.8,1400.7 697.0,1400.4 698.2,1400.5 699.4,1400.6 700.6,1400.7 701.8,1400.7 703.0,1400.2 704.2,1400.1 705.4,1400.7 706.6,1400.3 707.8,1400.1 709.0,1400.6 710.2,1400.2 711.4,1400.3 712.6,1400.3 713.8,1400.5 715.0,1400.5 716.2,1400.6 717.4,1400.4 718.6,1400.6 719.8,1400.4 721.0,1400.1 722.2,1400.1 723.4,1400.6 724.6,1400.2 725.8,1400.4 727.0,1400.3 728.2,1400.3 729.4,1400.1 730.6,1400.1 731.8,1400.2 733.0,1400.5 734.2,1400.5 735.4,1400.4 736.6,1401.5 737.8,1400.2 739.0,1400.2 740.2,1400.5 741.4,1400.2 742.6,1400.2 743.8,1400.1 745.0,1400.6 746.2,1400.6 747.4,1400.3 748.6,1400.3 749.8,1400.2 751.0,1400.4 752.2,1400.3 753.4,1400.2 754.6,1400.5 755.8,1400.6 757.0,1400.5 758.2,1400.2 759.4,1400.5 760.6,1400.2 761.8,1400.6 763.0,1400.6 764.2,1400.5 765.4,1400.1 766.6,1400.1 767.8,1400.1 769.0,1400.7 770.2,1400.7 771.4,1400.2 772.6,1400.3 773.8,1400.7 775.0,1400.7 776.2,1400.4 777.4,1400.6 778.6,1400.5 779.8,1400.1 781.0,1400.3 782.2,1400.2 783.4,1400.4 784.6,1400.3 785.8,1400.4 787.0,1400.7 788.2,1400.3 789.4,1400.6 790.6,1400.4" fill="none" stroke="#000" stroke-width="1.9" stroke-linejoin="round"/>
<polyline points="601.0,1404.7 602.2,1404.5 603.4,1404.5 604.6,1404.7 605.8,1404.8 607.0,1404.3 608.2,1404.8 609.4,1404.5 610.6,1404.6 611.8,1404.9 613.0,1404.6 614.2,1404.8 615.4,1404.4 616.6,1405.7 617.8,1404.4 619.0,1404.9 620.2,1404.8 621.4,1404.4 622.6,1404.9 623.8,1404.3 625.0,1404.3 626.2,1404.9 627.4,1404.3 628.6,1404.8 629.8,1404.4 631.0,1404.6 632.2,1404.4 633.4,1404.5 634.6,1404.5 635.8,1404.3 637.0,1404.4 638.2,1404.5 639.4,1404.7 640.6,1404.7 641.8,1404.8 643.0,1404.4 644.2,1404.9 645.4,1404.7 646.6,1404.8 647.8,1404.7 649.0,1403.4 650.2,1404.4 651.4,1404.8 652.6,1404.6 653.8,1404.3 655.0,1404.4 656.2,1404.7 657.4,1404.8 658.6,1404.6 659.8,1404.4 661.0,1404.9 662.2,1404.7 663.4,1404.8 664.6,1404.5 665.8,1404.6 667.0,1404.5 668.2,1404.5 669.4,1404.7 670.6,1404.9 671.8,1404.5 673.0,1404.8 674.2,1404.5 675.4,1404.8 676.6,1404.5 677.8,1404.3 679.0,1404.6 680.2,1404.7 681.4,1404.5 682.6,1404.4 683.8,1404.7 685.0,1404.9 686.2,1404.5 687.4,1404.5 688.6,1404.4 689.8,1404.9 691.0,1404.8 692.2,1404.7 693.4,1404.7 694.6,1404.4 695.8,1404.9 697.0,1404.9 698.2,1404.7 699.4,1404.7 700.6,1404.8 701.8,1404.8 703.0,1404.8 704.2,1404.4 705.4,1404.8 706.6,1404.6 707.8,1404.8 709.0,1404.7 710.2,1404.3 711.4,1404.8 712.6,1404.3 713.8,1404.5 715.0,1404.9 716.2,1404.6 717.4,1404.8 718.6,1404.6 719.8,1404.4 721.0,1404.8 722.2,1404.3 723.4,1404.7 724.6,1404.6 725.8,1404.6 727.0,1404.5 728.2,1404.8 729.4,1404.5 730.6,1404.5 731.8,1404.4 733.0,1404.5 734.2,1404.5 735.4,1404.8 736.6,1404.7 737.8,1404.5 739.0,1404.7 740.2,1404.6 741.4,1404.4 742.6,1404.6 743.8,1404.5 745.0,1404.8 746.2,1404.6 747.4,1404.5 748.6,1404.8 749.8,1404.8 751.0,1404.8 752.2,1404.6 753.4,1404.8 754.6,1404.4 755.8,1404.8 757.0,1404.4 758.2,1404.5 759.4,1404.5 760.6,1404.5 761.8,1404.5 763.0,1404.3 764.2,1404.5 765.4,1404.8 766.6,1404.9 767.8,1404.7 769.0,1404.4 770.2,1404.5 771.4,1404.6 772.6,1404.8 773.8,1404.8 775.0,1404.3 776.2,1404.8 777.4,1404.6 778.6,1404.9 779.8,1404.3 781.0,1404.4 782.2,1404.7 783.4,1404.3 784.6,1404.7 785.8,1404.8 787.0,1404.9 788.2,1404.6 789.4,1404.4 790.6,1404.8" fill="none" stroke="#000" stroke-width="1.9" stroke-linejoin="round"/>
<polyline points="601.0,1408.7 602.2,1408.8 603.4,1408.7 604.6,1409.1 605.8,1408.7 607.0,1408.7 608.2,1408.6 609.4,1408.5 610.6,1408.5 611.8,1408.9 613.0,1408.7 614.2,1408.7 615.4,1409.0 616.6,1408.8 617.8,1409.1 619.0,1408.5 620.2,1409.1 621.4,1408.9 622.6,1408.9 623.8,1408.8 625.0,1409.0 626.2,1408.9 627.4,1408.6 628.6,1409.0 629.8,1408.8 631.0,1408.8 632.2,1409.0 633.4,1409.0 634.6,1408.7 635.8,1408.9 637.0,1408.8 638.2,1408.7 639.4,1408.6 640.6,1408.8 641.8,1408.8 643.0,1408.8 644.2,1408.1 645.4,1408.8 646.6,1408.6 647.8,1409.0 649.0,1409.0 650.2,1408.8 651.4,1408.8 652.6,1409.1 653.8,1408.9 655.0,1409.0 656.2,1408.6 657.4,1408.6 658.6,1408.9 659.8,1408.5 661.0,1409.0 662.2,1408.8 663.4,1409.1 664.6,1408.9 665.8,1408.8 667.0,1408.7 668.2,1409.1 669.4,1408.6 670.6,1409.1 671.8,1408.7 673.0,1408.7 674.2,1408.7 675.4,1408.8 676.6,1408.5 677.8,1408.7 679.0,1408.8 680.2,1409.1 681.4,1409.0 682.6,1408.5 683.8,1408.9 685.0,1409.0 686.2,1408.9 687.4,1408.9 688.6,1408.7 689.8,1408.8 691.0,1408.1 692.2,1409.0 693.4,1408.8 694.6,1409.1 695.8,1408.9 697.0,1408.7 698.2,1408.7 699.4,1409.6 700.6,1408.8 701.8,1408.5 703.0,1409.6 704.2,1408.7 705.4,1408.6 706.6,1408.5 707.8,1408.9 709.0,1408.7 710.2,1409.8 711.4,1408.9 712.6,1408.9 713.8,1409.0 715.0,1409.0 716.2,1408.9 717.4,1409.0 718.6,1408.8 719.8,1408.6 721.0,1408.6 722.2,1409.0 723.4,1408.8 724.6,1408.9 725.8,1408.1 727.0,1408.5 728.2,1409.0 729.4,1408.9 730.6,1408.9 731.8,1409.0 733.0,1408.5 734.2,1409.1 735.4,1408.8 736.6,1408.9 737.8,1408.6 739.0,1409.0 740.2,1408.6 741.4,1408.9 742.6,1408.6 743.8,1408.9 745.0,1408.5 746.2,1408.6 747.4,1409.0 748.6,1408.6 749.8,1408.9 751.0,1408.6 752.2,1408.9 753.4,1408.6 754.6,1408.9 755.8,1409.1 757.0,1408.6 758.2,1408.6 759.4,1408.9 760.6,1408.9 761.8,1408.7 763.0,1409.0 764.2,1408.9 765.4,1408.7 766.6,1408.9 767.8,1408.9 769.0,1409.0 770.2,1408.6 771.4,1408.8 772.6,1409.0 773.8,1409.0 775.0,1408.6 776.2,1408.8 777.4,1408.9 778.6,1408.7 779.8,1409.1 781.0,1408.7 782.2,1408.6 783.4,1409.0 784.6,1408.7 785.8,1408.7 787.0,1408.6 788.2,1408.7 789.4,1408.8 790.6,1408.6" fill="none" stroke="#000" stroke-width="1.9" stroke-linejoin="round"/>
<polyline points="601.0,1413.6 602.2,1413.4 603.4,1413.7 604.6,1413.6 605.8,1413.4 607.0,1413.7 608.2,1413.4 609.4,1413.4 610.6,1413.4 611.8,1413.5 613.0,1413.4 614.2,1413.7 615.4,1413.3 616.6,1413.7 617.8,1413.5 619.0,1413.3 620.2,1413.7 621.4,1413.6 622.6,1414.5 623.8,1413.6 625.0,1414.5 626.2,1413.3 627.4,1413.6 628.6,1413.6 629.8,1413.5 631.0,1413.5 632.2,1413.6 633.4,1413.7 634.6,1413.2 635.8,1414.7 637.0,1413.1 638.2,1413.4 639.4,1413.6 640.6,1413.3 641.8,1413.5 643.0,1413.2 644.2,1413.5 645.4,1413.6 646.6,1413.5 647.8,1413.6 649.0,1413.6 650.2,1413.5 651.4,1413.3 652.6,1413.6 653.8,1413.3 655.0,1413.4 656.2,1413.1 657.4,1413.1 658.6,1413.5 659.8,1413.5 661.0,1412.7 662.2,1413.2 663.4,1413.4 664.6,1413.3 665.8,1413.4 667.0,1413.5 668.2,1413.6 669.4,1413.3 670.6,1413.3 671.8,1413.3 673.0,1413.5 674.2,1413.2 675.4,1413.7 676.6,1413.4 677.8,1413.4 679.0,1413.5 680.2,1413.4 681.4,1413.3 682.6,1413.5 683.8,1413.3 685.0,1413.7 686.2,1413.4 687.4,1412.3 688.6,1413.5 689.8,1413.4 691.0,1413.4 692.2,1413.6 693.4,1413.4 694.6,1413.1 695.8,1413.7 697.0,1413.5 698.2,1413.5 699.4,1413.1 700.6,1413.7 701.8,1413.4 703.0,1413.3 704.2,1413.7 705.4,1413.7 706.6,1413.6 707.8,1414.6 709.0,1413.4 710.2,1413.7 711.4,1413.2 712.6,1413.7 713.8,1413.3 715.0,1413.2 716.2,1413.1 717.4,1413.7 718.6,1413.2 719.8,1413.6 721.0,1413.7 722.2,1413.2 723.4,1413.5 724.6,1413.1 725.8,1413.4 727.0,1413.2 728.2,1413.3 729.4,1413.4 730.6,1413.4 731.8,1413.1 733.0,1413.3 734.2,1413.3 735.4,1413.3 736.6,1413.2 737.8,1413.1 739.0,1413.5 740.2,1413.3 741.4,1413.5 742.6,1413.6 743.8,1413.2 745.0,1413.2 746.2,1413.6 747.4,1413.6 748.6,1413.3 749.8,1413.3 751.0,1413.3 752.2,1413.5 753.4,1413.2 754.6,1413.5 755.8,1413.3 757.0,1413.4 758.2,1413.3 759.4,1413.6 760.6,1413.2 761.8,1413.5 763.0,1413.7 764.2,1413.5 765.4,1413.3 766.6,1413.3 767.8,1413.4 769.0,1413.2 770.2,1413.3 771.4,1413.2 772.6,1413.2 773.8,1413.4 775.0,1413.6 776.2,1413.6 777.4,1413.1 778.6,1413.2 779.8,1413.5 781.0,1413.2 782.2,1413.5 783.4,1413.7 784.6,1413.3 785.8,1413.4 787.0,1413.6 788.2,1413.6 789.4,1413.3 790.6,1413.3" fill="none" stroke="#000" stroke-width="1.9" stroke-linejoin="round"/>
<polyline points="601.0,1418.3 602.2,1418.3 603.4,1418.2 604.6,1417.9 605.8,1418.3 607.0,1417.9 608.2,1417.8 609.4,1418.0 610.6,1417.7 611.8,1418.1 613.0,1417.8 614.2,1417.7 615.4,1417.7 616.6,1418.0 617.8,1418.1 619.0,1418.0 620.2,1417.8 621.4,1418.3 622.6,1418.9 623.8,1417.9 625.0,1419.3 626.2,1418.1 627.4,1418.2 628.6,1419.1 629.8,1418.0 631.0,1417.9 632.2,1418.1 633.4,1417.8 634.6,1417.7 635.8,1418.2 637.0,1418.1 638.2,1418.1 639.4,1418.1 640.6,1417.9 641.8,1418.1 643.0,1417.9 644.2,1417.7 645.4,1418.0 646.6,1417.9 647.8,1418.3 649.0,1417.9 650.2,1417.8 651.4,1417.8 652.6,1417.9 653.8,1418.1 655.0,1418.0 656.2,1417.9 657.4,1418.1 658.6,1418.2 659.8,1418.2 661.0,1418.2 662.2,1418.2 663.4,1416.9 664.6,1417.9 665.8,1417.9 667.0,1417.8 668.2,1418.1 669.4,1417.9 670.6,1418.1 671.8,1418.2 673.0,1418.2 674.2,1418.2 675.4,1418.3 676.6,1418.0 677.8,1418.2 679.0,1418.0 680.2,1418.2 681.4,1417.8 682.6,1417.9 683.8,1418.1 685.0,1417.9 686.2,1418.0 687.4,1417.9 688.6,1417.7 689.8,1417.9 691.0,1418.1 692.2,1417.8 693.4,1417.8 694.6,1418.2 695.8,1417.8 697.0,1418.1 698.2,1418.0 699.4,1417.7 700.6,1418.0 701.8,1417.8 703.0,1418.0 704.2,1417.8 705.4,1417.8 706.6,1418.0 707.8,1417.9 709.0,1417.7 710.2,1418.2 711.4,1417.9 712.6,1417.9 713.8,1418.2 715.0,1418.2 716.2,1418.3 717.4,1417.8 718.6,1417.9 719.8,1418.2 721.0,1417.8 722.2,1417.8 723.4,1417.8 724.6,1418.1 725.8,1418.2 727.0,1417.9 728.2,1417.9 729.4,1418.3 730.6,1417.9 731.8,1417.8 733.0,1418.3 734.2,1418.3 735.4,1417.7 736.6,1418.3 737.8,1418.2 739.0,1417.9 740.2,1417.8 741.4,1418.3 742.6,1418.1 743.8,1417.9 745.0,1418.2 746.2,1418.3 747.4,1418.7 748.6,1417.7 749.8,1417.8 751.0,1418.3 752.2,1417.9 753.4,1418.3 754.6,1417.8 755.8,1418.1 757.0,1417.9 758.2,1417.8 759.4,1418.3 760.6,1418.0 761.8,1418.2 763.0,1418.2 764.2,1418.0 765.4,1418.0 766.6,1418.0 767.8,1418.1 769.0,1418.2 770.2,1418.1 771.4,1417.8 772.6,1418.0 773.8,1418.2 775.0,1418.1 776.2,1418.0 777.4,1417.9 778.6,1418.1 779.8,1418.0 781.0,1417.8 782.2,1418.1 783.4,1418.1 784.6,1418.3 785.8,1417.7 787.0,1417.7 788.2,1417.8 789.4,1418.0 790.6,1418.0" fill="none" stroke="#000" stroke-width="1.9" stroke-linejoin="round"/>
<polyline points="601.0,1423.9 602.2,1424.0 603.4,1424.1 604.6,1423.9 605.8,1424.2 607.0,1424.2 608.2,1423.1 609.4,1424.3 610.6,1424.1 611.8,1424.3 613.0,1424.0 614.2,1423.9 615.4,1424.0 616.6,1424.0 617.8,1423.0 619.0,1423.9 620.2,1423.9 621.4,1423.7 622.6,1424.3 623.8,1424.1 625.0,1424.3 626.2,1424.0 627.4,1424.2 628.6,1424.2 629.8,1424.1 631.0,1424.1 632.2,1424.2 633.4,1424.1 634.6,1423.8 635.8,1423.9 637.0,1424.1 638.2,1425.0 639.4,1423.7 640.6,1424.1 641.8,1423.7 643.0,1424.0 644.2,1424.0 645.4,1424.3 646.6,1424.1 647.8,1423.8 649.0,1424.3 650.2,1424.1 651.4,1424.0 652.6,1424.0 653.8,1423.8 655.0,1423.8 656.2,1423.8 657.4,1424.3 658.6,1423.7 659.8,1424.0 661.0,1424.2 662.2,1423.7 663.4,1423.8 664.6,1424.2 665.8,1424.0 667.0,1423.9 668.2,1424.2 669.4,1423.8 670.6,1423.7 671.8,1424.0 673.0,1423.8 674.2,1424.0 675.4,1423.8 676.6,1424.0 677.8,1425.1 679.0,1423.8 680.2,1423.7 681.4,1424.0 682.6,1424.1 683.8,1423.9 685.0,1423.9 686.2,1424.1 687.4,1423.8 688.6,1424.2 689.8,1424.2 691.0,1424.3 692.2,1423.8 693.4,1423.8 694.6,1424.0 695.8,1424.3 697.0,1423.9 698.2,1424.2 699.4,1424.0 700.6,1424.2 701.8,1423.7 703.0,1423.9 704.2,1424.2 705.4,1423.9 706.6,1423.9 707.8,1424.2 709.0,1424.1 710.2,1424.1 711.4,1424.1 712.6,1423.8 713.8,1424.2 715.0,1423.8 716.2,1423.9 717.4,1424.0 718.6,1423.8 719.8,1423.7 721.0,1423.7 722.2,1424.2 723.4,1424.2 724.6,1424.0 725.8,1423.9 727.0,1424.2 728.2,1424.1 729.4,1423.9 730.6,1424.1 731.8,1423.9 733.0,1424.0 734.2,1424.2 735.4,1424.0 736.6,1423.8 737.8,1424.1 739.0,1423.8 740.2,1423.8 741.4,1424.1 742.6,1424.0 743.8,1423.9 745.0,1424.3 746.2,1424.0 747.4,1424.2 748.6,1423.9 749.8,1424.1 751.0,1424.0 752.2,1424.3 753.4,1424.3 754.6,1423.7 755.8,1424.0 757.0,1424.2 758.2,1424.1 759.4,1424.1 760.6,1424.1 761.8,1423.9 763.0,1424.3 764.2,1424.1 765.4,1424.1 766.6,1424.3 767.8,1424.3 769.0,1423.8 770.2,1425.2 771.4,1424.1 772.6,1424.1 773.8,1424.1 775.0,1424.1 776.2,1424.0 777.4,1423.8 778.6,1423.7 779.8,1424.1 781.0,1424.2 782.2,1424.2 783.4,1424.1 784.6,1423.9 785.8,1424.1 787.0,1424.1 788.2,1423.9 789.4,1424.0 790.6,1424.1" fill="none" stroke="#000" stroke-width="1.9" stroke-linejoin="round"/>
<polyline points="601.0,1432.8 602.2,1432.4 603.4,1432.4 604.6,1432.7 605.8,1432.8 607.0,1432.9 608.2,1432.5 609.4,1432.7 610.6,1432.4 611.8,1432.8 613.0,1433.0 614.2,1432.5 615.4,1432.9 616.6,1432.8 617.8,1432.8 619.0,1432.9 620.2,1432.4 621.4,1433.0 622.6,1432.5 623.8,1432.7 625.0,1432.9 626.2,1432.6 627.4,1432.4 628.6,1432.5 629.8,1432.5 631.0,1432.9 632.2,1432.5 633.4,1432.7 634.6,1432.8 635.8,1432.4 637.0,1432.9 638.2,1432.8 639.4,1433.0 640.6,1432.5 641.8,1432.9 643.0,1432.9 644.2,1432.4 645.4,1432.7 646.6,1432.6 647.8,1432.5 649.0,1432.7 650.2,1432.5 651.4,1432.8 652.6,1432.9 653.8,1433.0 655.0,1432.9 656.2,1432.7 657.4,1432.4 658.6,1432.8 659.8,1432.4 661.0,1432.8 662.2,1433.0 663.4,1433.0 664.6,1433.0 665.8,1432.8 667.0,1432.9 668.2,1433.9 669.4,1432.6 670.6,1432.4 671.8,1432.8 673.0,1432.9 674.2,1432.8 675.4,1433.0 676.6,1432.5 677.8,1432.7 679.0,1432.5 680.2,1432.4 681.4,1432.4 682.6,1432.7 683.8,1433.0 685.0,1432.8 686.2,1432.9 687.4,1433.7 688.6,1432.8 689.8,1432.5 691.0,1433.0 692.2,1432.5 693.4,1432.9 694.6,1432.4 695.8,1432.7 697.0,1432.7 698.2,1432.8 699.4,1432.5 700.6,1432.5 701.8,1432.6 703.0,1432.5 704.2,1432.6 705.4,1432.5 706.6,1432.7 707.8,1432.8 709.0,1433.0 710.2,1432.6 711.4,1432.9 712.6,1432.8 713.8,1433.0 715.0,1432.7 716.2,1432.5 717.4,1432.9 718.6,1433.0 719.8,1432.6 721.0,1432.6 722.2,1432.4 723.4,1432.9 724.6,1432.8 725.8,1432.6 727.0,1433.0 728.2,1432.8 729.4,1432.9 730.6,1432.5 731.8,1432.7 733.0,1432.7 734.2,1432.6 735.4,1432.4 736.6,1432.5 737.8,1432.9 739.0,1432.7 740.2,1432.5 741.4,1432.9 742.6,1433.0 743.8,1432.8 745.0,1432.5 746.2,1432.6 747.4,1432.5 748.6,1432.6 749.8,1432.9 751.0,1432.7 752.2,1432.9 753.4,1432.9 754.6,1432.0 755.8,1432.7 757.0,1432.5 758.2,1432.9 759.4,1432.6 760.6,1432.8 761.8,1432.7 763.0,1432.4 764.2,1432.8 765.4,1432.9 766.6,1432.7 767.8,1432.7 769.0,1432.6 770.2,1432.6 771.4,1432.6 772.6,1433.0 773.8,1432.9 775.0,1432.8 776.2,1432.6 777.4,1432.9 778.6,1432.7 779.8,1433.0 781.0,1432.4 782.2,1432.4 783.4,1432.9 784.6,1432.5 785.8,1432.4 787.0,1432.5 788.2,1432.5 789.4,1432.9 790.6,1432.8" fill="none" stroke="#000" stroke-width="1.9" stroke-linejoin="round"/>
<polyline points="601.0,1449.0 602.2,1448.8 603.4,1448.8 604.6,1449.1 605.8,1449.1 607.0,1449.0 608.2,1449.1 609.4,1449.3 610.6,1449.1 611.8,1449.4 613.0,1449.2 614.2,1449.1 615.4,1449.2 616.6,1449.3 617.8,1449.4 619.0,1449.2 620.2,1449.3 621.4,1449.3 622.6,1449.3 623.8,1449.6 625.0,1449.7 626.2,1449.5 627.4,1449.8 628.6,1449.7 629.8,1449.7 631.0,1449.4 632.2,1449.5 633.4,1449.5 634.6,1449.5 635.8,1449.7 637.0,1449.7 638.2,1449.7 639.4,1449.7 640.6,1449.7 641.8,1449.5 643.0,1449.7 644.2,1449.5 645.4,1449.0 646.6,1450.1 647.8,1449.6 649.0,1449.5 650.2,1450.1 651.4,1449.7 652.6,1449.6 653.8,1450.8 655.0,1449.6 656.2,1450.1 657.4,1450.0 658.6,1449.7 659.8,1449.7 661.0,1450.1 662.2,1450.2 663.4,1450.2 664.6,1449.8 665.8,1450.1 667.0,1449.8 668.2,1450.3 669.4,1450.4 670.6,1449.8 671.8,1450.3 673.0,1450.1 674.2,1450.1 675.4,1450.1 676.6,1450.2 677.8,1450.0 679.0,1450.2 680.2,1450.2 681.4,1450.5 682.6,1450.3 683.8,1450.3 685.0,1450.2 686.2,1450.2 687.4,1450.4 688.6,1450.0 689.8,1450.2 691.0,1450.6 692.2,1450.5 693.4,1450.4 694.6,1450.1 695.8,1450.2 697.0,1450.2 698.2,1450.3 699.4,1450.4 700.6,1450.3 701.8,1450.4 703.0,1449.4 704.2,1450.2 705.4,1450.7 706.6,1450.8 707.8,1450.3 709.0,1450.5 710.2,1450.4 711.4,1450.7 712.6,1450.5 713.8,1450.8 715.0,1450.7 716.2,1450.5 717.4,1450.5 718.6,1450.7 719.8,1449.5 721.0,1450.5 722.2,1450.4 723.4,1450.6 724.6,1450.9 725.8,1449.7 727.0,1450.6 728.2,1450.8 729.4,1450.7 730.6,1450.8 731.8,1450.8 733.0,1450.7 734.2,1451.0 735.4,1450.6 736.6,1450.9 737.8,1450.6 739.0,1450.5 740.2,1450.7 741.4,1450.6 742.6,1450.8 743.8,1450.5 745.0,1450.8 746.2,1450.8 747.4,1451.0 748.6,1450.5 749.8,1450.9 751.0,1450.7 752.2,1451.0 753.4,1451.0 754.6,1451.1 755.8,1451.0 757.0,1451.0 758.2,1450.7 759.4,1450.8 760.6,1450.7 761.8,1450.9 763.0,1450.6 764.2,1450.8 765.4,1451.2 766.6,1450.7 767.8,1450.7 769.0,1450.7 770.2,1451.0 771.4,1451.0 772.6,1450.7 773.8,1452.2 775.0,1450.7 776.2,1450.7 777.4,1450.7 778.6,1451.2 779.8,1450.9 781.0,1450.9 782.2,1450.9 783.4,1450.8 784.6,1451.1 785.8,1451.1 787.0,1451.3 788.2,1451.1 789.4,1451.1 790.6,1450.7" fill="none" stroke="#000" stroke-width="1.9" stroke-linejoin="round"/>
<polyline points="601.0,1463.7 602.2,1463.7 603.4,1463.9 604.6,1464.1 605.8,1463.8 607.0,1464.2 608.2,1464.1 609.4,1464.5 610.6,1464.2 611.8,1464.1 613.0,1464.4 614.2,1464.4 615.4,1464.8 616.6,1464.5 617.8,1465.0 619.0,1465.0 620.2,1464.8 621.4,1464.7 622.6,1464.9 623.8,1465.3 625.0,1465.1 626.2,1465.4 627.4,1465.6 628.6,1465.4 629.8,1465.6 631.0,1465.3 632.2,1465.4 633.4,1465.8 634.6,1465.9 635.8,1466.1 637.0,1465.6 638.2,1465.8 639.4,1465.9 640.6,1466.0 641.8,1466.4 643.0,1466.0 644.2,1466.5 645.4,1466.5 646.6,1466.3 647.8,1466.3 649.0,1466.8 650.2,1466.9 651.4,1466.4 652.6,1466.9 653.8,1466.7 655.0,1466.9 656.2,1467.1 657.4,1466.8 658.6,1467.0 659.8,1467.2 661.0,1466.9 662.2,1467.0 663.4,1467.1 664.6,1467.3 665.8,1467.4 667.0,1467.7 668.2,1467.6 669.4,1467.5 670.6,1467.3 671.8,1467.9 673.0,1467.4 674.2,1467.6 675.4,1467.6 676.6,1467.8 677.8,1467.7 679.0,1468.1 680.2,1468.1 681.4,1468.0 682.6,1467.7 683.8,1467.9 685.0,1468.3 686.2,1467.9 687.4,1468.4 688.6,1469.1 689.8,1468.3 691.0,1468.3 692.2,1468.4 693.4,1468.4 694.6,1468.3 695.8,1468.5 697.0,1468.5 698.2,1468.4 699.4,1467.5 700.6,1468.9 701.8,1468.5 703.0,1468.7 704.2,1468.9 705.4,1468.6 706.6,1468.0 707.8,1469.1 709.0,1468.8 710.2,1468.7 711.4,1469.0 712.6,1469.0 713.8,1469.2 715.0,1468.9 716.2,1469.3 717.4,1469.4 718.6,1469.2 719.8,1469.1 721.0,1469.3 722.2,1469.6 723.4,1469.1 724.6,1469.1 725.8,1469.1 727.0,1469.6 728.2,1469.6 729.4,1469.3 730.6,1469.7 731.8,1469.4 733.0,1469.5 734.2,1469.5 735.4,1469.4 736.6,1469.5 737.8,1469.9 739.0,1469.6 740.2,1469.5 741.4,1470.1 742.6,1469.6 743.8,1469.5 745.0,1469.6 746.2,1469.9 747.4,1470.6 748.6,1470.0 749.8,1470.2 751.0,1469.9 752.2,1469.8 753.4,1470.3 754.6,1469.8 755.8,1470.3 757.0,1470.3 758.2,1470.4 759.4,1469.9 760.6,1470.2 761.8,1470.5 763.0,1470.4 764.2,1470.2 765.4,1470.4 766.6,1470.4 767.8,1470.4 769.0,1470.4 770.2,1470.1 771.4,1470.3 772.6,1470.3 773.8,1470.5 775.0,1470.5 776.2,1470.6 777.4,1470.8 778.6,1470.7 779.8,1470.7 781.0,1470.3 782.2,1470.8 783.4,1470.3 784.6,1470.3 785.8,1470.8 787.0,1470.5 788.2,1470.8 789.4,1470.8 790.6,1470.7" fill="none" stroke="#000" stroke-width="1.9" stroke-linejoin="round"/>
<polyline points="601.0,1483.5 602.2,1483.7 603.4,1484.4 604.6,1484.2 605.8,1484.4 607.0,1484.7 608.2,1485.0 609.4,1485.1 610.6,1485.5 611.8,1485.8 613.0,1485.6 614.2,1485.1 615.4,1486.2 616.6,1486.7 617.8,1486.6 619.0,1486.9 620.2,1486.9 621.4,1487.2 622.6,1487.1 623.8,1487.7 625.0,1487.4 626.2,1487.7 627.4,1488.2 628.6,1488.5 629.8,1488.5 631.0,1488.5 632.2,1488.7 633.4,1488.9 634.6,1489.3 635.8,1489.2 637.0,1489.5 638.2,1489.8 639.4,1489.7 640.6,1490.0 641.8,1490.3 643.0,1489.9 644.2,1490.6 645.4,1490.8 646.6,1490.4 647.8,1490.8 649.0,1492.0 650.2,1491.2 651.4,1491.4 652.6,1491.7 653.8,1491.4 655.0,1491.7 656.2,1493.1 657.4,1491.8 658.6,1492.2 659.8,1492.4 661.0,1492.1 662.2,1492.8 663.4,1492.7 664.6,1492.5 665.8,1492.8 667.0,1493.3 668.2,1493.0 669.4,1493.3 670.6,1493.2 671.8,1493.5 673.0,1493.7 674.2,1493.7 675.4,1493.9 676.6,1494.2 677.8,1494.0 679.0,1494.2 680.2,1494.1 681.4,1494.5 682.6,1494.8 683.8,1494.8 685.0,1494.7 686.2,1494.7 687.4,1495.3 688.6,1494.9 689.8,1495.2 691.0,1495.5 692.2,1495.5 693.4,1495.6 694.6,1495.4 695.8,1495.8 697.0,1496.1 698.2,1496.2 699.4,1496.2 700.6,1495.9 701.8,1496.2 703.0,1496.4 704.2,1496.1 705.4,1496.3 706.6,1496.8 707.8,1496.5 709.0,1497.1 710.2,1496.6 711.4,1496.7 712.6,1496.9 713.8,1497.4 715.0,1497.1 716.2,1497.4 717.4,1497.5 718.6,1497.4 719.8,1497.3 721.0,1497.5 722.2,1497.9 723.4,1497.7 724.6,1498.1 725.8,1497.7 727.0,1497.9 728.2,1498.0 729.4,1498.1 730.6,1498.5 731.8,1498.3 733.0,1498.3 734.2,1498.4 735.4,1498.6 736.6,1498.5 737.8,1498.8 739.0,1499.0 740.2,1498.6 741.4,1498.7 742.6,1498.8 743.8,1499.3 745.0,1499.0 746.2,1499.3 747.4,1500.1 748.6,1499.3 749.8,1499.1 751.0,1499.5 752.2,1499.4 753.4,1499.6 754.6,1499.3 755.8,1499.8 757.0,1499.8 758.2,1499.8 759.4,1499.5 760.6,1499.8 761.8,1500.1 763.0,1500.1 764.2,1500.0 765.4,1500.0 766.6,1500.0 767.8,1500.5 769.0,1500.1 770.2,1500.1 771.4,1500.4 772.6,1500.2 773.8,1500.8 775.0,1500.5 776.2,1500.4 777.4,1500.4 778.6,1500.7 779.8,1500.6 781.0,1501.0 782.2,1500.9 783.4,1500.8 784.6,1500.7 785.8,1501.0 787.0,1501.2 788.2,1501.2 789.4,1501.3 790.6,1501.4" fill="none" stroke="#000" stroke-width="1.9" stroke-linejoin="round"/>
<rect x="683" y="1431.8" width="23" height="4.4" rx="1.5" fill="#000"/>
<path d="M598.1,1550.4 L598.3,1269.3 L600.5,1269.3 L600.7,1550.4 Z" fill="#000"/>
<path d="M790.3,1502.3 L790.5,1269.3 L792.7,1269.3 L792.9,1502.3 Z" fill="#000"/>
<path d="M793,1373.5 L868,1372.5 L868,1393.5 L793,1394.5 Z" fill="#000"/>
<line x1="796.0" y1="1376.5" x2="866.0" y2="1376.0" stroke="#fff" stroke-width="0.4" stroke-dasharray="3 2" opacity="0.7"/>
<line x1="796.0" y1="1380.5" x2="866.0" y2="1380.0" stroke="#fff" stroke-width="0.4" stroke-dasharray="3 2" opacity="0.7"/>
<line x1="796.0" y1="1384.5" x2="866.0" y2="1384.0" stroke="#fff" stroke-width="0.4" stroke-dasharray="3 2" opacity="0.7"/>
<path d="M866.9,1550.4 L867.1,1372.5 L869.3,1372.5 L869.5,1550.4 Z" fill="#000"/>
<polyline points="869.0,1408.6 870.5,1408.0 872.0,1408.3 873.5,1407.9 875.0,1408.6 876.5,1408.4 878.0,1407.9 879.5,1407.1 881.0,1409.6 882.5,1408.4 884.0,1408.5 885.5,1408.1 887.0,1408.1 888.5,1408.1 890.0,1408.3 891.5,1408.4 893.0,1408.3 894.5,1408.1 896.0,1408.6 897.5,1407.9" fill="none" stroke="#000" stroke-width="2.8" stroke-linejoin="round"/>
<text x="657.6" y="1381.8" font-size="23.91" fill="#000">40 mV</text>
<text x="648.3" y="1529.3" font-size="23.30" fill="#000">-160 mV</text>
<text x="884.7" y="1525.1" font-size="24.60" fill="#000">1 µA</text>
<polyline points="942.2,1509.5 942.2,1524.2 979.8,1524.2" fill="none" stroke="#000" stroke-width="1.9" stroke-linejoin="round"/>
<text x="942.6" y="1547.0" font-size="24.73" fill="#000">0.1 s</text>
<polyline points="982.8,1407.3 984.3,1409.3 985.8,1408.6 987.3,1408.2 988.8,1408.9 990.3,1408.9 991.8,1408.4 993.3,1409.9 994.8,1408.6 996.3,1407.7 997.8,1407.4 999.3,1408.8 1000.8,1408.9 1002.3,1408.5 1003.8,1408.1 1005.3,1408.5 1006.8,1408.8 1008.3,1408.4 1009.8,1409.6 1011.3,1408.6 1012.8,1408.8 1014.3,1408.2 1015.8,1408.4 1017.3,1408.7 1018.8,1409.9 1020.3,1408.6 1021.8,1408.6 1023.3,1408.5 1024.8,1408.8 1026.3,1408.5 1027.8,1408.5 1029.3,1408.8 1030.8,1408.2" fill="none" stroke="#000" stroke-width="2.8" stroke-linejoin="round"/>
<polyline points="1033.0,1408.6 1034.2,1408.3 1035.4,1408.2 1036.6,1408.3 1037.8,1409.4 1039.0,1408.7 1040.2,1408.8 1041.4,1408.5 1042.6,1409.6 1043.8,1408.3 1045.0,1408.7 1046.2,1408.5 1047.4,1408.7 1048.6,1408.6 1049.8,1408.3 1051.0,1408.7 1052.2,1408.3 1053.4,1408.5 1054.6,1408.2 1055.8,1408.6 1057.0,1408.3 1058.2,1408.3 1059.4,1408.2 1060.6,1408.2 1061.8,1408.8 1063.0,1408.3 1064.2,1408.6 1065.4,1407.6 1066.6,1408.3 1067.8,1408.3 1069.0,1408.6 1070.2,1408.5 1071.4,1408.2 1072.6,1408.7 1073.8,1408.6 1075.0,1408.2 1076.2,1408.4 1077.4,1408.5 1078.6,1408.4 1079.8,1408.5 1081.0,1408.8 1082.2,1408.8 1083.4,1408.3 1084.6,1408.5 1085.8,1408.8 1087.0,1408.2 1088.2,1408.3 1089.4,1408.8 1090.6,1408.8 1091.8,1408.4 1093.0,1409.6 1094.2,1408.5 1095.4,1408.6 1096.6,1408.7 1097.8,1408.8 1099.0,1408.2 1100.2,1408.7 1101.4,1408.5 1102.6,1408.5 1103.8,1408.4 1105.0,1408.7 1106.2,1408.7 1107.4,1408.7 1108.6,1408.5 1109.8,1408.4 1111.0,1408.7 1112.2,1408.4 1113.4,1409.6 1114.6,1408.3 1115.8,1408.3 1117.0,1408.5 1118.2,1408.7 1119.4,1408.5 1120.6,1408.3 1121.8,1408.2 1123.0,1408.4 1124.2,1408.3 1125.4,1408.3 1126.6,1408.8 1127.8,1408.7 1129.0,1408.3 1130.2,1408.5 1131.4,1408.6 1132.6,1408.4 1133.8,1408.7 1135.0,1409.7 1136.2,1407.7 1137.4,1408.5 1138.6,1408.6 1139.8,1408.4 1141.0,1408.5 1142.2,1408.8 1143.4,1408.5 1144.6,1407.4 1145.8,1408.5 1147.0,1408.8 1148.2,1408.3 1149.4,1408.3 1150.6,1408.4 1151.8,1408.3 1153.0,1408.4 1154.2,1408.7 1155.4,1408.4 1156.6,1408.7 1157.8,1408.7 1159.0,1408.3 1160.2,1408.6 1161.4,1408.7 1162.6,1408.7 1163.8,1408.6 1165.0,1408.4 1166.2,1408.8 1167.4,1408.7 1168.6,1409.3 1169.8,1408.7 1171.0,1408.6 1172.2,1408.3 1173.4,1408.8 1174.6,1408.7 1175.8,1408.6 1177.0,1408.8 1178.2,1408.7 1179.4,1408.5 1180.6,1408.5 1181.8,1408.2 1183.0,1408.4 1184.2,1408.5 1185.4,1408.3 1186.6,1408.7 1187.8,1408.4 1189.0,1408.3 1190.2,1408.5 1191.4,1408.6 1192.6,1408.7 1193.8,1408.6 1195.0,1408.6 1196.2,1408.5 1197.4,1408.6 1198.6,1408.4 1199.8,1408.8 1201.0,1408.5 1202.2,1408.3 1203.4,1408.7 1204.6,1408.4 1205.8,1408.6 1207.0,1408.4 1208.2,1408.8 1209.4,1408.6 1210.6,1408.8 1211.8,1408.3 1213.0,1408.3 1214.2,1408.5 1215.4,1408.3 1216.6,1408.6 1217.8,1408.3 1219.0,1408.5 1220.2,1408.7 1221.4,1408.7 1222.6,1408.7 1223.8,1408.3 1225.0,1408.8" fill="none" stroke="#000" stroke-width="1.9" stroke-linejoin="round"/>
<polyline points="1033.0,1408.6 1034.2,1408.4 1035.4,1408.5 1036.6,1408.6 1037.8,1409.7 1039.0,1408.7 1040.2,1408.8 1041.4,1408.7 1042.6,1408.7 1043.8,1408.5 1045.0,1408.7 1046.2,1408.9 1047.4,1408.9 1048.6,1408.7 1049.8,1408.7 1051.0,1408.8 1052.2,1408.7 1053.4,1408.6 1054.6,1408.8 1055.8,1408.9 1057.0,1408.8 1058.2,1408.7 1059.4,1408.7 1060.6,1408.7 1061.8,1409.0 1063.0,1409.1 1064.2,1409.3 1065.4,1408.9 1066.6,1409.1 1067.8,1408.8 1069.0,1409.1 1070.2,1409.4 1071.4,1408.8 1072.6,1408.9 1073.8,1409.0 1075.0,1409.3 1076.2,1409.4 1077.4,1409.1 1078.6,1409.4 1079.8,1409.1 1081.0,1408.2 1082.2,1408.9 1083.4,1409.0 1084.6,1409.0 1085.8,1409.5 1087.0,1409.2 1088.2,1409.4 1089.4,1409.1 1090.6,1409.4 1091.8,1409.3 1093.0,1409.0 1094.2,1409.5 1095.4,1409.4 1096.6,1409.0 1097.8,1409.3 1099.0,1409.1 1100.2,1409.1 1101.4,1408.6 1102.6,1409.3 1103.8,1409.1 1105.0,1409.1 1106.2,1409.4 1107.4,1409.4 1108.6,1409.2 1109.8,1409.5 1111.0,1409.3 1112.2,1409.3 1113.4,1409.7 1114.6,1409.5 1115.8,1409.1 1117.0,1409.5 1118.2,1409.6 1119.4,1409.2 1120.6,1409.5 1121.8,1409.1 1123.0,1409.5 1124.2,1409.6 1125.4,1409.4 1126.6,1409.2 1127.8,1409.2 1129.0,1409.5 1130.2,1409.7 1131.4,1409.5 1132.6,1409.6 1133.8,1409.2 1135.0,1409.6 1136.2,1409.7 1137.4,1409.2 1138.6,1409.1 1139.8,1409.4 1141.0,1409.5 1142.2,1409.3 1143.4,1409.4 1144.6,1409.4 1145.8,1409.4 1147.0,1409.5 1148.2,1409.3 1149.4,1410.4 1150.6,1409.4 1151.8,1409.6 1153.0,1409.6 1154.2,1409.6 1155.4,1409.7 1156.6,1409.4 1157.8,1409.6 1159.0,1409.3 1160.2,1409.6 1161.4,1409.4 1162.6,1409.3 1163.8,1408.6 1165.0,1409.4 1166.2,1408.3 1167.4,1409.2 1168.6,1410.3 1169.8,1409.7 1171.0,1409.7 1172.2,1409.7 1173.4,1409.2 1174.6,1409.4 1175.8,1409.6 1177.0,1409.4 1178.2,1409.4 1179.4,1410.5 1180.6,1409.5 1181.8,1409.6 1183.0,1409.7 1184.2,1409.2 1185.4,1409.4 1186.6,1409.6 1187.8,1409.5 1189.0,1409.7 1190.2,1409.4 1191.4,1409.5 1192.6,1409.4 1193.8,1409.8 1195.0,1409.5 1196.2,1409.5 1197.4,1409.3 1198.6,1409.7 1199.8,1408.8 1201.0,1409.7 1202.2,1409.4 1203.4,1410.3 1204.6,1408.5 1205.8,1409.7 1207.0,1409.6 1208.2,1409.3 1209.4,1409.6 1210.6,1409.8 1211.8,1409.8 1213.0,1409.8 1214.2,1409.4 1215.4,1409.3 1216.6,1409.6 1217.8,1409.5 1219.0,1409.3 1220.2,1409.3 1221.4,1409.4 1222.6,1409.7 1223.8,1409.7 1225.0,1409.6" fill="none" stroke="#000" stroke-width="1.9" stroke-linejoin="round"/>
<polyline points="1033.0,1408.7 1034.2,1408.8 1035.4,1409.3 1036.6,1409.6 1037.8,1409.4 1039.0,1409.7 1040.2,1410.1 1041.4,1410.2 1042.6,1411.0 1043.8,1411.1 1045.0,1411.2 1046.2,1411.4 1047.4,1411.7 1048.6,1411.6 1049.8,1411.8 1051.0,1412.3 1052.2,1412.3 1053.4,1412.8 1054.6,1412.7 1055.8,1413.0 1057.0,1413.1 1058.2,1413.5 1059.4,1413.8 1060.6,1414.0 1061.8,1413.9 1063.0,1414.0 1064.2,1414.1 1065.4,1414.6 1066.6,1414.6 1067.8,1414.6 1069.0,1415.0 1070.2,1414.6 1071.4,1415.1 1072.6,1416.1 1073.8,1415.1 1075.0,1415.6 1076.2,1415.2 1077.4,1415.6 1078.6,1415.7 1079.8,1415.9 1081.0,1416.0 1082.2,1416.2 1083.4,1416.2 1084.6,1416.1 1085.8,1416.4 1087.0,1416.5 1088.2,1416.6 1089.4,1416.3 1090.6,1416.8 1091.8,1416.8 1093.0,1416.5 1094.2,1416.5 1095.4,1417.1 1096.6,1417.1 1097.8,1416.8 1099.0,1416.8 1100.2,1417.3 1101.4,1417.1 1102.6,1417.2 1103.8,1417.0 1105.0,1417.5 1106.2,1417.2 1107.4,1417.3 1108.6,1418.3 1109.8,1417.4 1111.0,1417.7 1112.2,1417.4 1113.4,1417.6 1114.6,1417.7 1115.8,1418.0 1117.0,1418.1 1118.2,1418.0 1119.4,1418.0 1120.6,1418.0 1121.8,1418.3 1123.0,1418.2 1124.2,1418.3 1125.4,1418.2 1126.6,1418.1 1127.8,1418.1 1129.0,1418.3 1130.2,1418.5 1131.4,1418.0 1132.6,1418.0 1133.8,1418.1 1135.0,1419.5 1136.2,1418.1 1137.4,1418.6 1138.6,1418.3 1139.8,1418.7 1141.0,1418.2 1142.2,1418.5 1143.4,1418.3 1144.6,1418.8 1145.8,1418.8 1147.0,1418.7 1148.2,1418.6 1149.4,1418.6 1150.6,1418.6 1151.8,1418.9 1153.0,1419.0 1154.2,1418.6 1155.4,1418.6 1156.6,1418.5 1157.8,1419.0 1159.0,1418.7 1160.2,1418.6 1161.4,1418.9 1162.6,1418.9 1163.8,1418.9 1165.0,1418.6 1166.2,1418.9 1167.4,1419.0 1168.6,1418.8 1169.8,1419.0 1171.0,1419.1 1172.2,1418.6 1173.4,1418.6 1174.6,1418.7 1175.8,1419.0 1177.0,1418.9 1178.2,1418.8 1179.4,1419.1 1180.6,1418.8 1181.8,1418.7 1183.0,1419.2 1184.2,1419.1 1185.4,1419.1 1186.6,1419.2 1187.8,1419.0 1189.0,1419.0 1190.2,1418.9 1191.4,1419.1 1192.6,1418.9 1193.8,1419.0 1195.0,1418.9 1196.2,1419.2 1197.4,1419.0 1198.6,1418.9 1199.8,1419.2 1201.0,1418.8 1202.2,1419.3 1203.4,1419.1 1204.6,1419.1 1205.8,1419.2 1207.0,1419.9 1208.2,1418.9 1209.4,1419.1 1210.6,1419.0 1211.8,1419.1 1213.0,1419.2 1214.2,1419.3 1215.4,1419.0 1216.6,1419.3 1217.8,1419.0 1219.0,1419.4 1220.2,1419.1 1221.4,1418.9 1222.6,1418.4 1223.8,1419.0 1225.0,1418.9" fill="none" stroke="#000" stroke-width="1.9" stroke-linejoin="round"/>
<polyline points="1033.0,1407.5 1034.2,1410.2 1035.4,1409.8 1036.6,1409.9 1037.8,1410.8 1039.0,1411.2 1040.2,1411.6 1041.4,1412.3 1042.6,1412.6 1043.8,1413.1 1045.0,1413.7 1046.2,1413.9 1047.4,1414.5 1048.6,1414.5 1049.8,1415.1 1051.0,1415.6 1052.2,1415.9 1053.4,1416.3 1054.6,1416.7 1055.8,1417.0 1057.0,1417.2 1058.2,1417.4 1059.4,1418.1 1060.6,1417.8 1061.8,1418.6 1063.0,1418.8 1064.2,1419.2 1065.4,1419.5 1066.6,1419.7 1067.8,1419.6 1069.0,1419.8 1070.2,1420.0 1071.4,1420.6 1072.6,1420.6 1073.8,1420.8 1075.0,1421.0 1076.2,1421.4 1077.4,1421.4 1078.6,1421.5 1079.8,1421.8 1081.0,1422.2 1082.2,1422.6 1083.4,1422.2 1084.6,1422.7 1085.8,1423.0 1087.0,1422.8 1088.2,1423.4 1089.4,1423.1 1090.6,1423.3 1091.8,1423.4 1093.0,1423.7 1094.2,1423.8 1095.4,1423.7 1096.6,1424.0 1097.8,1424.4 1099.0,1424.4 1100.2,1424.2 1101.4,1424.7 1102.6,1425.0 1103.8,1424.6 1105.0,1424.7 1106.2,1424.8 1107.4,1425.0 1108.6,1425.4 1109.8,1425.5 1111.0,1425.5 1112.2,1425.5 1113.4,1425.6 1114.6,1425.9 1115.8,1425.7 1117.0,1425.7 1118.2,1425.7 1119.4,1425.8 1120.6,1426.2 1121.8,1425.9 1123.0,1426.1 1124.2,1426.3 1125.4,1426.5 1126.6,1426.4 1127.8,1426.1 1129.0,1426.2 1130.2,1426.4 1131.4,1426.3 1132.6,1426.5 1133.8,1426.6 1135.0,1426.8 1136.2,1425.7 1137.4,1426.8 1138.6,1427.0 1139.8,1426.7 1141.0,1427.1 1142.2,1426.8 1143.4,1427.2 1144.6,1427.0 1145.8,1427.2 1147.0,1427.2 1148.2,1427.0 1149.4,1427.3 1150.6,1427.5 1151.8,1427.3 1153.0,1427.1 1154.2,1428.2 1155.4,1427.3 1156.6,1427.3 1157.8,1427.6 1159.0,1427.3 1160.2,1426.6 1161.4,1427.9 1162.6,1427.7 1163.8,1427.9 1165.0,1427.7 1166.2,1427.6 1167.4,1427.4 1168.6,1427.8 1169.8,1427.8 1171.0,1427.7 1172.2,1427.7 1173.4,1427.9 1174.6,1428.1 1175.8,1427.9 1177.0,1428.1 1178.2,1427.7 1179.4,1427.6 1180.6,1427.8 1181.8,1428.1 1183.0,1428.1 1184.2,1427.8 1185.4,1428.0 1186.6,1427.7 1187.8,1427.9 1189.0,1428.2 1190.2,1428.2 1191.4,1426.8 1192.6,1428.0 1193.8,1428.0 1195.0,1428.0 1196.2,1427.9 1197.4,1428.4 1198.6,1428.3 1199.8,1428.1 1201.0,1428.9 1202.2,1428.3 1203.4,1427.9 1204.6,1427.0 1205.8,1428.4 1207.0,1428.2 1208.2,1428.0 1209.4,1428.1 1210.6,1428.0 1211.8,1428.1 1213.0,1428.1 1214.2,1428.2 1215.4,1429.3 1216.6,1427.1 1217.8,1428.4 1219.0,1428.4 1220.2,1428.3 1221.4,1428.5 1222.6,1428.3 1223.8,1428.0 1225.0,1428.2" fill="none" stroke="#000" stroke-width="1.9" stroke-linejoin="round"/>
<polyline points="1033.0,1408.4 1034.2,1409.0 1035.4,1409.9 1036.6,1410.6 1037.8,1411.3 1039.0,1412.1 1040.2,1412.7 1041.4,1413.6 1042.6,1414.0 1043.8,1414.8 1045.0,1415.4 1046.2,1416.1 1047.4,1416.7 1048.6,1416.9 1049.8,1418.0 1051.0,1418.3 1052.2,1418.7 1053.4,1419.2 1054.6,1419.4 1055.8,1420.0 1057.0,1420.9 1058.2,1421.0 1059.4,1421.8 1060.6,1421.8 1061.8,1422.4 1063.0,1422.7 1064.2,1423.1 1065.4,1423.7 1066.6,1424.7 1067.8,1424.1 1069.0,1424.8 1070.2,1425.0 1071.4,1425.4 1072.6,1425.5 1073.8,1425.8 1075.0,1426.0 1076.2,1426.4 1077.4,1426.8 1078.6,1426.8 1079.8,1428.1 1081.0,1427.5 1082.2,1427.7 1083.4,1428.1 1084.6,1428.3 1085.8,1428.3 1087.0,1428.4 1088.2,1428.6 1089.4,1428.8 1090.6,1429.5 1091.8,1429.8 1093.0,1429.8 1094.2,1429.6 1095.4,1430.2 1096.6,1430.1 1097.8,1430.1 1099.0,1431.3 1100.2,1431.0 1101.4,1431.0 1102.6,1431.1 1103.8,1431.1 1105.0,1431.6 1106.2,1431.5 1107.4,1431.9 1108.6,1432.0 1109.8,1431.8 1111.0,1432.0 1112.2,1432.0 1113.4,1432.5 1114.6,1432.4 1115.8,1432.4 1117.0,1432.8 1118.2,1432.7 1119.4,1433.0 1120.6,1433.2 1121.8,1432.8 1123.0,1433.3 1124.2,1433.2 1125.4,1433.5 1126.6,1433.4 1127.8,1433.3 1129.0,1433.6 1130.2,1432.4 1131.4,1434.4 1132.6,1434.1 1133.8,1433.7 1135.0,1433.7 1136.2,1433.9 1137.4,1434.2 1138.6,1434.1 1139.8,1435.3 1141.0,1435.3 1142.2,1434.6 1143.4,1434.6 1144.6,1434.4 1145.8,1434.5 1147.0,1435.5 1148.2,1434.3 1149.4,1434.9 1150.6,1434.5 1151.8,1434.5 1153.0,1433.6 1154.2,1434.6 1155.4,1434.9 1156.6,1435.1 1157.8,1435.0 1159.0,1435.2 1160.2,1435.3 1161.4,1435.1 1162.6,1435.2 1163.8,1434.9 1165.0,1435.0 1166.2,1434.9 1167.4,1435.2 1168.6,1435.2 1169.8,1435.4 1171.0,1435.5 1172.2,1435.2 1173.4,1435.1 1174.6,1435.2 1175.8,1435.7 1177.0,1435.4 1178.2,1435.7 1179.4,1435.5 1180.6,1436.4 1181.8,1435.7 1183.0,1435.6 1184.2,1435.4 1185.4,1435.4 1186.6,1435.6 1187.8,1435.8 1189.0,1435.5 1190.2,1436.8 1191.4,1435.7 1192.6,1435.6 1193.8,1436.0 1195.0,1436.0 1196.2,1435.9 1197.4,1435.8 1198.6,1436.1 1199.8,1435.8 1201.0,1436.2 1202.2,1436.0 1203.4,1436.1 1204.6,1435.7 1205.8,1436.1 1207.0,1435.7 1208.2,1435.8 1209.4,1436.1 1210.6,1436.0 1211.8,1436.2 1213.0,1436.1 1214.2,1436.0 1215.4,1435.9 1216.6,1436.2 1217.8,1436.2 1219.0,1436.3 1220.2,1437.0 1221.4,1436.2 1222.6,1436.4 1223.8,1436.0 1225.0,1436.0" fill="none" stroke="#000" stroke-width="1.9" stroke-linejoin="round"/>
<polyline points="1033.0,1408.2 1034.2,1409.5 1035.4,1410.6 1036.6,1411.5 1037.8,1412.6 1039.0,1413.5 1040.2,1414.3 1041.4,1415.5 1042.6,1416.2 1043.8,1416.8 1045.0,1417.5 1046.2,1418.7 1047.4,1419.3 1048.6,1420.3 1049.8,1420.9 1051.0,1421.1 1052.2,1422.1 1053.4,1422.8 1054.6,1423.5 1055.8,1424.1 1057.0,1424.5 1058.2,1426.2 1059.4,1425.9 1060.6,1425.1 1061.8,1427.2 1063.0,1427.5 1064.2,1427.7 1065.4,1428.5 1066.6,1429.1 1067.8,1429.6 1069.0,1429.9 1070.2,1430.3 1071.4,1430.6 1072.6,1430.9 1073.8,1431.5 1075.0,1431.9 1076.2,1432.3 1077.4,1432.4 1078.6,1432.8 1079.8,1433.3 1081.0,1433.7 1082.2,1433.9 1083.4,1434.5 1084.6,1434.9 1085.8,1434.9 1087.0,1435.3 1088.2,1435.9 1089.4,1435.9 1090.6,1435.9 1091.8,1436.7 1093.0,1436.5 1094.2,1436.8 1095.4,1436.9 1096.6,1437.6 1097.8,1437.8 1099.0,1438.0 1100.2,1438.2 1101.4,1438.4 1102.6,1438.6 1103.8,1438.6 1105.0,1438.9 1106.2,1439.1 1107.4,1439.5 1108.6,1439.5 1109.8,1439.7 1111.0,1439.8 1112.2,1440.2 1113.4,1440.4 1114.6,1440.2 1115.8,1440.3 1117.0,1440.4 1118.2,1440.9 1119.4,1440.6 1120.6,1441.1 1121.8,1441.2 1123.0,1441.0 1124.2,1441.4 1125.4,1441.3 1126.6,1441.5 1127.8,1442.0 1129.0,1442.0 1130.2,1442.1 1131.4,1442.3 1132.6,1442.0 1133.8,1442.0 1135.0,1442.0 1136.2,1442.1 1137.4,1442.3 1138.6,1442.5 1139.8,1442.4 1141.0,1443.0 1142.2,1442.7 1143.4,1442.9 1144.6,1443.0 1145.8,1442.9 1147.0,1443.1 1148.2,1443.5 1149.4,1443.3 1150.6,1443.3 1151.8,1444.5 1153.0,1443.2 1154.2,1443.4 1155.4,1443.6 1156.6,1443.9 1157.8,1443.8 1159.0,1443.6 1160.2,1444.1 1161.4,1443.8 1162.6,1444.0 1163.8,1443.8 1165.0,1444.2 1166.2,1444.2 1167.4,1444.3 1168.6,1444.0 1169.8,1443.9 1171.0,1444.2 1172.2,1444.0 1173.4,1444.5 1174.6,1444.3 1175.8,1444.5 1177.0,1444.3 1178.2,1444.4 1179.4,1444.7 1180.6,1444.7 1181.8,1444.3 1183.0,1444.3 1184.2,1444.7 1185.4,1444.3 1186.6,1443.3 1187.8,1444.4 1189.0,1444.9 1190.2,1444.9 1191.4,1444.9 1192.6,1444.7 1193.8,1444.7 1195.0,1444.9 1196.2,1444.6 1197.4,1444.7 1198.6,1444.9 1199.8,1443.8 1201.0,1445.1 1202.2,1444.9 1203.4,1444.9 1204.6,1445.0 1205.8,1444.9 1207.0,1444.9 1208.2,1445.3 1209.4,1445.3 1210.6,1445.0 1211.8,1444.9 1213.0,1445.2 1214.2,1444.8 1215.4,1445.1 1216.6,1445.0 1217.8,1445.3 1219.0,1445.0 1220.2,1444.9 1221.4,1445.4 1222.6,1444.3 1223.8,1445.3 1225.0,1445.2" fill="none" stroke="#000" stroke-width="1.9" stroke-linejoin="round"/>
<polyline points="1033.0,1408.7 1034.2,1409.5 1035.4,1411.1 1036.6,1412.3 1037.8,1413.9 1039.0,1414.9 1040.2,1416.1 1041.4,1417.0 1042.6,1418.3 1043.8,1419.6 1045.0,1420.2 1046.2,1421.2 1047.4,1422.3 1048.6,1423.2 1049.8,1424.4 1051.0,1424.9 1052.2,1426.1 1053.4,1426.8 1054.6,1427.8 1055.8,1428.5 1057.0,1429.5 1058.2,1429.8 1059.4,1431.0 1060.6,1431.6 1061.8,1432.0 1063.0,1432.9 1064.2,1433.3 1065.4,1434.0 1066.6,1435.0 1067.8,1435.5 1069.0,1434.7 1070.2,1436.6 1071.4,1437.3 1072.6,1437.6 1073.8,1438.4 1075.0,1438.7 1076.2,1438.9 1077.4,1439.4 1078.6,1440.2 1079.8,1440.6 1081.0,1441.2 1082.2,1441.6 1083.4,1441.8 1084.6,1442.5 1085.8,1442.3 1087.0,1443.2 1088.2,1443.2 1089.4,1443.8 1090.6,1444.1 1091.8,1444.4 1093.0,1445.0 1094.2,1444.8 1095.4,1445.5 1096.6,1445.8 1097.8,1446.0 1099.0,1446.2 1100.2,1446.6 1101.4,1446.8 1102.6,1447.4 1103.8,1447.5 1105.0,1447.7 1106.2,1447.8 1107.4,1447.1 1108.6,1448.4 1109.8,1448.7 1111.0,1448.7 1112.2,1448.7 1113.4,1449.4 1114.6,1449.5 1115.8,1449.7 1117.0,1449.5 1118.2,1449.9 1119.4,1449.8 1120.6,1450.0 1121.8,1449.6 1123.0,1450.7 1124.2,1450.5 1125.4,1451.1 1126.6,1450.8 1127.8,1451.2 1129.0,1451.1 1130.2,1451.4 1131.4,1451.6 1132.6,1451.9 1133.8,1452.0 1135.0,1452.0 1136.2,1452.4 1137.4,1452.3 1138.6,1452.5 1139.8,1452.2 1141.0,1452.6 1142.2,1452.5 1143.4,1452.5 1144.6,1452.8 1145.8,1453.1 1147.0,1453.3 1148.2,1453.1 1149.4,1453.4 1150.6,1453.4 1151.8,1453.3 1153.0,1453.6 1154.2,1453.6 1155.4,1453.8 1156.6,1453.4 1157.8,1453.7 1159.0,1453.8 1160.2,1453.9 1161.4,1454.1 1162.6,1454.2 1163.8,1453.9 1165.0,1454.1 1166.2,1454.2 1167.4,1454.5 1168.6,1454.1 1169.8,1454.5 1171.0,1454.3 1172.2,1454.5 1173.4,1454.3 1174.6,1454.4 1175.8,1454.9 1177.0,1454.5 1178.2,1454.5 1179.4,1454.6 1180.6,1455.0 1181.8,1454.7 1183.0,1454.9 1184.2,1455.1 1185.4,1456.1 1186.6,1455.2 1187.8,1454.7 1189.0,1455.2 1190.2,1454.9 1191.4,1455.9 1192.6,1455.0 1193.8,1455.0 1195.0,1455.0 1196.2,1454.9 1197.4,1455.0 1198.6,1455.5 1199.8,1455.3 1201.0,1455.2 1202.2,1455.3 1203.4,1455.1 1204.6,1455.3 1205.8,1455.6 1207.0,1455.7 1208.2,1455.3 1209.4,1455.4 1210.6,1455.4 1211.8,1455.5 1213.0,1455.5 1214.2,1455.6 1215.4,1455.7 1216.6,1455.8 1217.8,1455.9 1219.0,1455.5 1220.2,1455.7 1221.4,1455.5 1222.6,1455.6 1223.8,1455.9 1225.0,1455.8" fill="none" stroke="#000" stroke-width="1.9" stroke-linejoin="round"/>
<polyline points="1033.0,1408.4 1034.2,1410.1 1035.4,1412.3 1036.6,1413.7 1037.8,1415.7 1039.0,1416.9 1040.2,1418.6 1041.4,1420.3 1042.6,1421.7 1043.8,1423.1 1045.0,1424.8 1046.2,1426.1 1047.4,1427.6 1048.6,1428.8 1049.8,1430.0 1051.0,1431.0 1052.2,1432.4 1053.4,1433.8 1054.6,1434.6 1055.8,1436.0 1057.0,1436.7 1058.2,1438.2 1059.4,1439.1 1060.6,1440.1 1061.8,1440.6 1063.0,1441.9 1064.2,1442.7 1065.4,1443.2 1066.6,1444.6 1067.8,1445.4 1069.0,1446.2 1070.2,1446.7 1071.4,1447.3 1072.6,1448.1 1073.8,1448.7 1075.0,1449.5 1076.2,1450.2 1077.4,1451.0 1078.6,1451.4 1079.8,1452.5 1081.0,1452.8 1082.2,1453.5 1083.4,1454.1 1084.6,1454.2 1085.8,1455.1 1087.0,1455.8 1088.2,1456.2 1089.4,1456.5 1090.6,1457.1 1091.8,1457.3 1093.0,1457.8 1094.2,1458.4 1095.4,1458.7 1096.6,1459.4 1097.8,1459.7 1099.0,1460.3 1100.2,1460.7 1101.4,1460.8 1102.6,1461.4 1103.8,1462.4 1105.0,1461.7 1106.2,1463.2 1107.4,1462.2 1108.6,1462.6 1109.8,1463.2 1111.0,1463.7 1112.2,1463.7 1113.4,1463.7 1114.6,1464.5 1115.8,1464.8 1117.0,1465.0 1118.2,1465.3 1119.4,1465.2 1120.6,1465.3 1121.8,1465.7 1123.0,1465.9 1124.2,1465.9 1125.4,1466.4 1126.6,1466.4 1127.8,1467.0 1129.0,1467.0 1130.2,1467.4 1131.4,1467.6 1132.6,1467.3 1133.8,1467.9 1135.0,1467.0 1136.2,1467.7 1137.4,1468.2 1138.6,1468.3 1139.8,1468.4 1141.0,1468.6 1142.2,1468.8 1143.4,1468.8 1144.6,1468.0 1145.8,1469.3 1147.0,1469.4 1148.2,1469.2 1149.4,1469.3 1150.6,1469.7 1151.8,1469.7 1153.0,1469.7 1154.2,1470.2 1155.4,1469.8 1156.6,1469.9 1157.8,1470.2 1159.0,1470.5 1160.2,1470.7 1161.4,1470.3 1162.6,1470.9 1163.8,1470.5 1165.0,1470.6 1166.2,1471.1 1167.4,1471.2 1168.6,1471.1 1169.8,1471.0 1171.0,1471.2 1172.2,1471.4 1173.4,1471.2 1174.6,1471.1 1175.8,1471.5 1177.0,1471.3 1178.2,1471.4 1179.4,1471.6 1180.6,1471.7 1181.8,1471.9 1183.0,1471.8 1184.2,1471.8 1185.4,1471.5 1186.6,1471.6 1187.8,1471.9 1189.0,1472.2 1190.2,1471.9 1191.4,1471.8 1192.6,1472.1 1193.8,1471.9 1195.0,1472.4 1196.2,1472.5 1197.4,1472.3 1198.6,1472.2 1199.8,1472.1 1201.0,1472.4 1202.2,1472.6 1203.4,1472.3 1204.6,1472.7 1205.8,1473.4 1207.0,1472.6 1208.2,1472.7 1209.4,1472.9 1210.6,1472.9 1211.8,1472.5 1213.0,1472.8 1214.2,1472.7 1215.4,1472.9 1216.6,1472.9 1217.8,1472.6 1219.0,1472.8 1220.2,1473.1 1221.4,1472.8 1222.6,1472.7 1223.8,1472.7 1225.0,1473.0" fill="none" stroke="#000" stroke-width="1.9" stroke-linejoin="round"/>
<path d="M1030.3,1551.0 L1030.5,1282.5 L1032.7,1282.5 L1032.9,1551.0 Z" fill="#000"/>
<path d="M1223.9,1473.0 L1224.1,1267.9 L1226.3,1267.9 L1226.5,1473.0 Z" fill="#000"/>
<polyline points="1226.0,1393.8 1227.2,1395.3 1228.4,1396.5 1229.6,1398.0 1230.8,1399.2 1232.0,1400.0 1233.2,1401.1 1234.4,1401.7 1235.6,1403.0 1236.8,1403.5 1238.0,1404.1 1239.2,1404.4 1240.4,1405.1 1241.6,1405.3 1242.8,1405.8 1244.0,1405.8 1245.2,1406.4 1246.4,1406.3 1247.6,1406.5 1248.8,1406.7 1250.0,1407.2 1251.2,1407.5 1252.4,1407.7 1253.6,1407.6 1254.8,1407.8 1256.0,1408.0 1257.2,1408.0 1258.4,1407.8 1259.6,1408.0 1260.8,1408.2 1262.0,1407.8 1263.2,1408.2 1264.4,1408.2 1265.6,1408.5 1266.8,1408.0 1268.0,1408.5 1269.2,1408.4 1270.4,1408.5 1271.6,1408.2 1272.8,1408.6 1274.0,1408.1 1275.2,1408.3 1276.4,1408.6 1277.6,1408.5 1278.8,1408.3 1280.0,1408.7 1281.2,1408.6 1282.4,1408.2 1283.6,1408.6 1284.8,1408.8 1286.0,1408.6 1287.2,1408.3 1288.4,1408.6 1289.6,1408.4 1290.8,1408.3 1292.0,1408.6 1293.2,1408.3 1294.4,1408.6 1295.6,1408.8 1296.8,1408.5 1298.0,1408.4 1299.2,1408.8 1300.4,1408.6 1301.6,1408.5" fill="none" stroke="#000" stroke-width="1.8" stroke-linejoin="round"/>
<polyline points="1226.0,1397.3 1227.2,1398.3 1228.4,1399.5 1229.6,1400.6 1230.8,1401.0 1232.0,1401.7 1233.2,1402.2 1234.4,1402.9 1235.6,1403.6 1236.8,1403.7 1238.0,1404.3 1239.2,1404.8 1240.4,1405.1 1241.6,1405.8 1242.8,1405.7 1244.0,1405.8 1245.2,1406.4 1246.4,1406.6 1247.6,1406.8 1248.8,1406.8 1250.0,1407.1 1251.2,1407.0 1252.4,1407.3 1253.6,1407.4 1254.8,1407.4 1256.0,1407.7 1257.2,1407.7 1258.4,1407.7 1259.6,1408.1 1260.8,1408.0 1262.0,1407.9 1263.2,1408.3 1264.4,1408.2 1265.6,1408.4 1266.8,1408.0 1268.0,1408.0 1269.2,1408.2 1270.4,1408.4 1271.6,1408.4 1272.8,1408.1 1274.0,1408.2 1275.2,1408.1 1276.4,1408.6 1277.6,1408.5 1278.8,1408.3 1280.0,1408.2 1281.2,1408.5 1282.4,1408.7 1283.6,1408.5 1284.8,1408.5 1286.0,1408.7 1287.2,1408.3 1288.4,1408.5 1289.6,1408.5 1290.8,1408.4 1292.0,1408.7 1293.2,1408.7 1294.4,1408.2 1295.6,1408.2 1296.8,1408.4 1298.0,1408.4 1299.2,1408.7 1300.4,1408.4 1301.6,1408.4" fill="none" stroke="#000" stroke-width="1.8" stroke-linejoin="round"/>
<polyline points="1226.0,1401.6 1227.2,1402.2 1228.4,1403.6 1229.6,1403.1 1230.8,1403.9 1232.0,1404.1 1233.2,1404.9 1234.4,1404.9 1235.6,1405.4 1236.8,1405.5 1238.0,1405.9 1239.2,1406.0 1240.4,1406.2 1241.6,1406.6 1242.8,1406.7 1244.0,1406.6 1245.2,1407.8 1246.4,1407.1 1247.6,1407.6 1248.8,1407.2 1250.0,1407.3 1251.2,1407.7 1252.4,1407.7 1253.6,1408.0 1254.8,1408.0 1256.0,1407.9 1257.2,1407.3 1258.4,1407.9 1259.6,1408.0 1260.8,1408.1 1262.0,1408.1 1263.2,1409.1 1264.4,1408.1 1265.6,1408.4 1266.8,1408.4 1268.0,1408.2 1269.2,1408.1 1270.4,1408.6 1271.6,1408.4 1272.8,1408.4 1274.0,1408.1 1275.2,1409.6 1276.4,1408.6 1277.6,1408.5 1278.8,1408.6 1280.0,1408.2 1281.2,1408.4 1282.4,1409.4 1283.6,1408.6 1284.8,1408.6 1286.0,1408.2 1287.2,1408.2 1288.4,1408.5 1289.6,1407.2 1290.8,1408.6 1292.0,1408.3 1293.2,1408.7 1294.4,1408.6 1295.6,1408.4 1296.8,1408.5 1298.0,1408.3 1299.2,1408.5 1300.4,1408.5 1301.6,1409.7" fill="none" stroke="#000" stroke-width="1.8" stroke-linejoin="round"/>
<polyline points="1226.0,1404.3 1227.2,1404.7 1228.4,1405.1 1229.6,1405.8 1230.8,1406.0 1232.0,1406.2 1233.2,1406.6 1234.4,1406.7 1235.6,1406.6 1236.8,1406.8 1238.0,1407.0 1239.2,1407.2 1240.4,1407.0 1241.6,1407.2 1242.8,1407.8 1244.0,1407.7 1245.2,1407.8 1246.4,1407.7 1247.6,1408.0 1248.8,1408.1 1250.0,1407.8 1251.2,1407.8 1252.4,1407.8 1253.6,1407.9 1254.8,1408.3 1256.0,1407.9 1257.2,1408.1 1258.4,1408.3 1259.6,1408.5 1260.8,1408.2 1262.0,1408.6 1263.2,1408.5 1264.4,1408.5 1265.6,1408.1 1266.8,1408.6 1268.0,1408.5 1269.2,1407.4 1270.4,1408.6 1271.6,1408.3 1272.8,1408.6 1274.0,1408.5 1275.2,1408.4 1276.4,1408.5 1277.6,1408.3 1278.8,1408.6 1280.0,1408.4 1281.2,1408.5 1282.4,1408.5 1283.6,1408.6 1284.8,1408.5 1286.0,1408.4 1287.2,1408.6 1288.4,1408.4 1289.6,1408.6 1290.8,1408.2 1292.0,1408.8 1293.2,1408.4 1294.4,1409.2 1295.6,1408.4 1296.8,1408.3 1298.0,1408.3 1299.2,1408.5 1300.4,1408.5 1301.6,1408.8" fill="none" stroke="#000" stroke-width="1.8" stroke-linejoin="round"/>
<path d="M1301.4,1539.6 L1301.6,1359.0 L1303.8,1359.0 L1304.0,1539.6 Z" fill="#000"/>
<polyline points="1303.5,1408.8 1305.0,1408.7 1306.5,1408.4 1308.0,1408.6 1309.5,1408.8 1311.0,1408.6 1312.5,1408.7 1314.0,1408.8 1315.5,1408.5 1317.0,1408.3 1318.5,1408.7 1320.0,1408.9 1321.5,1408.7 1323.0,1408.4 1324.5,1408.8 1326.0,1408.6 1327.5,1408.9 1329.0,1408.6 1330.5,1408.7 1332.0,1408.8" fill="none" stroke="#000" stroke-width="2.8" stroke-linejoin="round"/>
<text x="1093.5" y="1396.4" font-size="23.66" fill="#000">40 mV</text>
<text x="1083.2" y="1502.2" font-size="23.60" fill="#000">-140 mV</text>
<text x="1307.9" y="1525.0" font-size="24.90" fill="#000">1 µA</text>
<polyline points="1366.8,1508.9 1366.8,1524.3 1404.4,1524.3" fill="none" stroke="#000" stroke-width="1.9" stroke-linejoin="round"/>
<text x="1365.8" y="1546.8" font-size="24.82" fill="#000">0.1 s</text>
</svg></body></html>
